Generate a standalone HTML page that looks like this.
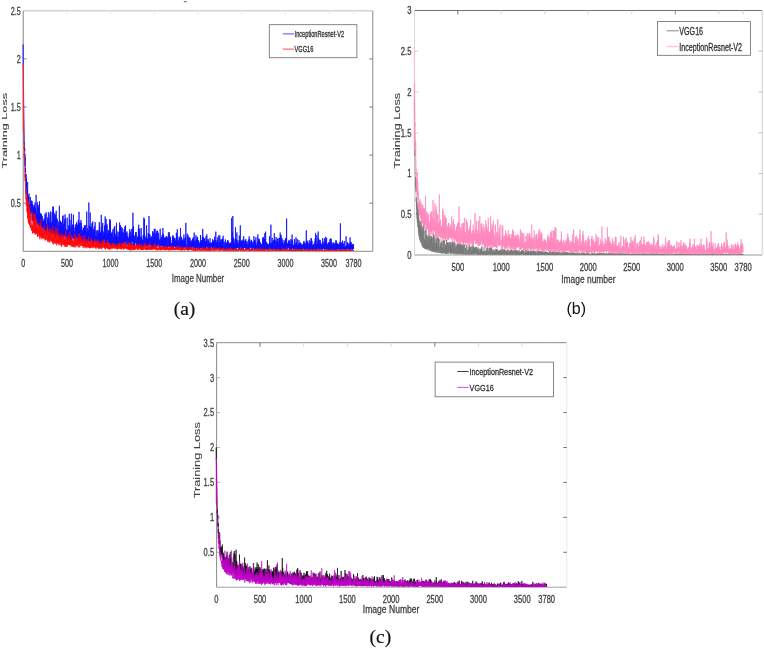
<!DOCTYPE html>
<html><head><meta charset="utf-8"><title>Training Loss</title>
<style>html,body{margin:0;padding:0;background:#fff}svg{display:block}</style></head>
<body><svg width="764" height="650" viewBox="0 0 764 650">
<defs><filter id="bl" x="-5%" y="-5%" width="110%" height="110%"><feGaussianBlur stdDeviation="0.35"/></filter></defs>
<rect width="764" height="650" fill="#fff"/>
<line x1="23.2" y1="10.8" x2="372.8" y2="10.8" stroke="#d4d4d4" stroke-width="1.6"/>
<line x1="23.2" y1="251.3" x2="372.8" y2="251.3" stroke="#8a8a8a" stroke-width="1"/>
<line x1="23.2" y1="10.8" x2="23.2" y2="251.3" stroke="#808080" stroke-width="1"/>
<line x1="372.8" y1="10.8" x2="372.8" y2="251.3" stroke="#8a8a8a" stroke-width="1"/>
<text transform="translate(23.20,266.80) scale(0.680,1.000)" text-anchor="middle" font-size="10.6" fill="#404040" stroke="#404040" stroke-width="0.3" font-family="Liberation Sans, Arial, sans-serif" >0</text>
<line x1="66.9" y1="10.8" x2="66.9" y2="14.8" stroke="#e6e6e6" stroke-width="0.8"/>
<text transform="translate(66.90,266.80) scale(0.680,1.000)" text-anchor="middle" font-size="10.6" fill="#404040" stroke="#404040" stroke-width="0.3" font-family="Liberation Sans, Arial, sans-serif" >500</text>
<line x1="110.6" y1="10.8" x2="110.6" y2="14.8" stroke="#e6e6e6" stroke-width="0.8"/>
<text transform="translate(110.60,266.80) scale(0.680,1.000)" text-anchor="middle" font-size="10.6" fill="#404040" stroke="#404040" stroke-width="0.3" font-family="Liberation Sans, Arial, sans-serif" >1000</text>
<line x1="154.3" y1="10.8" x2="154.3" y2="14.8" stroke="#e6e6e6" stroke-width="0.8"/>
<text transform="translate(154.30,266.80) scale(0.680,1.000)" text-anchor="middle" font-size="10.6" fill="#404040" stroke="#404040" stroke-width="0.3" font-family="Liberation Sans, Arial, sans-serif" >1500</text>
<line x1="198.0" y1="10.8" x2="198.0" y2="14.8" stroke="#e6e6e6" stroke-width="0.8"/>
<text transform="translate(198.00,266.80) scale(0.680,1.000)" text-anchor="middle" font-size="10.6" fill="#404040" stroke="#404040" stroke-width="0.3" font-family="Liberation Sans, Arial, sans-serif" >2000</text>
<line x1="241.7" y1="10.8" x2="241.7" y2="14.8" stroke="#e6e6e6" stroke-width="0.8"/>
<text transform="translate(241.70,266.80) scale(0.680,1.000)" text-anchor="middle" font-size="10.6" fill="#404040" stroke="#404040" stroke-width="0.3" font-family="Liberation Sans, Arial, sans-serif" >2500</text>
<line x1="285.4" y1="10.8" x2="285.4" y2="14.8" stroke="#e6e6e6" stroke-width="0.8"/>
<text transform="translate(285.40,266.80) scale(0.680,1.000)" text-anchor="middle" font-size="10.6" fill="#404040" stroke="#404040" stroke-width="0.3" font-family="Liberation Sans, Arial, sans-serif" >3000</text>
<line x1="329.1" y1="10.8" x2="329.1" y2="14.8" stroke="#e6e6e6" stroke-width="0.8"/>
<text transform="translate(329.10,266.80) scale(0.680,1.000)" text-anchor="middle" font-size="10.6" fill="#404040" stroke="#404040" stroke-width="0.3" font-family="Liberation Sans, Arial, sans-serif" >3500</text>
<line x1="353.6" y1="10.8" x2="353.6" y2="14.8" stroke="#e6e6e6" stroke-width="0.8"/>
<text transform="translate(353.57,266.80) scale(0.680,1.000)" text-anchor="middle" font-size="10.6" fill="#404040" stroke="#404040" stroke-width="0.3" font-family="Liberation Sans, Arial, sans-serif" >3780</text>
<line x1="23.2" y1="203.2" x2="26.7" y2="203.2" stroke="#707070" stroke-width="0.8"/>
<line x1="369.3" y1="203.2" x2="372.8" y2="203.2" stroke="#606060" stroke-width="0.8"/>
<text transform="translate(20.70,207.02) scale(0.680,1.000)" text-anchor="end" font-size="10.6" fill="#404040" stroke="#404040" stroke-width="0.3" font-family="Liberation Sans, Arial, sans-serif" >0.5</text>
<line x1="23.2" y1="155.1" x2="26.7" y2="155.1" stroke="#707070" stroke-width="0.8"/>
<line x1="369.3" y1="155.1" x2="372.8" y2="155.1" stroke="#606060" stroke-width="0.8"/>
<text transform="translate(20.70,158.92) scale(0.680,1.000)" text-anchor="end" font-size="10.6" fill="#404040" stroke="#404040" stroke-width="0.3" font-family="Liberation Sans, Arial, sans-serif" >1</text>
<line x1="23.2" y1="107.0" x2="26.7" y2="107.0" stroke="#707070" stroke-width="0.8"/>
<line x1="369.3" y1="107.0" x2="372.8" y2="107.0" stroke="#606060" stroke-width="0.8"/>
<text transform="translate(20.70,110.82) scale(0.680,1.000)" text-anchor="end" font-size="10.6" fill="#404040" stroke="#404040" stroke-width="0.3" font-family="Liberation Sans, Arial, sans-serif" >1.5</text>
<line x1="23.2" y1="58.9" x2="26.7" y2="58.9" stroke="#707070" stroke-width="0.8"/>
<line x1="369.3" y1="58.9" x2="372.8" y2="58.9" stroke="#606060" stroke-width="0.8"/>
<text transform="translate(20.70,62.72) scale(0.680,1.000)" text-anchor="end" font-size="10.6" fill="#404040" stroke="#404040" stroke-width="0.3" font-family="Liberation Sans, Arial, sans-serif" >2</text>
<text transform="translate(20.70,14.62) scale(0.680,1.000)" text-anchor="end" font-size="10.6" fill="#404040" stroke="#404040" stroke-width="0.3" font-family="Liberation Sans, Arial, sans-serif" >2.5</text>
<text transform="translate(198.00,281.80) scale(0.720,1.000)" text-anchor="middle" font-size="11" fill="#404040" stroke="#404040" stroke-width="0.3" font-family="Liberation Sans, Arial, sans-serif" >Image Number</text>
<text transform="translate(7.30,130.70) rotate(-90) scale(1.057,0.640)" text-anchor="middle" font-size="12" fill="#404040" stroke="#404040" stroke-width="0.12" font-family="Liberation Sans, Arial, sans-serif" >Training Loss</text>
<polyline points="23.2,44.5 23.3,55.7 23.4,66.3 23.5,75.9 23.5,85.7 23.6,93.3 23.7,102.0 23.8,109.9 23.9,119.3 24.0,127.1 24.1,132.9 24.2,133.2 24.2,137.0 24.3,143.5 24.4,142.6 24.5,148.2 24.6,151.1 24.7,148.4 24.8,154.7 24.9,156.7 24.9,159.2 25.0,166.1 25.1,163.7 25.2,156.5 25.3,172.4 25.4,168.3 25.5,169.1 25.6,170.5 25.6,177.2 25.7,175.0 25.8,181.3 25.9,179.3 26.0,174.0 26.1,183.9 26.2,186.1 26.3,183.6 26.3,180.9 26.4,186.9 26.5,177.9 26.6,188.7 26.7,189.0 26.8,193.7 26.9,192.3 27.0,188.0 27.0,188.8 27.1,187.3 27.2,191.0 27.3,189.3 27.4,202.8 27.5,200.4 27.6,182.0 27.7,200.5 27.7,195.4 27.8,199.4 27.9,196.0 28.0,199.6 28.1,204.0 28.2,203.7 28.3,199.2 28.4,203.3 28.4,208.3 28.5,199.3 28.6,196.7 28.7,197.6 28.8,197.7 28.9,208.8 29.0,193.6 29.1,204.6 29.1,207.9 29.2,206.5 29.3,204.8 29.4,209.9 29.5,205.6 29.6,205.0 29.7,207.0 29.8,205.6 29.8,207.5 29.9,210.0 30.0,209.7 30.1,204.9 30.2,213.3 30.3,210.4 30.4,197.1 30.5,207.5 30.5,205.5 30.6,209.2 30.7,214.2 30.8,211.5 30.9,209.4 31.0,212.0 31.1,211.3 31.2,200.6 31.2,205.9 31.3,213.3 31.4,204.5 31.5,211.7 31.6,206.1 31.7,205.3 31.8,200.8 31.9,206.2 31.9,206.3 32.0,201.5 32.1,219.6 32.2,217.3 32.3,207.0 32.4,221.1 32.5,212.4 32.6,212.5 32.6,219.7 32.7,204.2 32.8,209.9 32.9,210.7 33.0,216.7 33.1,217.8 33.2,217.5 33.3,211.5 33.3,220.1 33.4,209.9 33.5,220.5 33.6,209.2 33.7,213.6 33.8,206.3 33.9,223.1 34.0,222.6 34.0,218.0 34.1,205.2 34.2,220.3 34.3,207.1 34.4,214.6 34.5,214.7 34.6,211.6 34.6,220.3 34.7,218.8 34.8,221.3 34.9,215.5 35.0,202.7 35.1,218.1 35.2,213.4 35.3,214.3 35.3,215.4 35.4,217.5 35.5,207.9 35.6,216.2 35.7,219.2 35.8,209.9 35.9,212.2 36.0,215.2 36.0,217.8 36.1,194.9 36.2,217.1 36.3,220.2 36.4,213.8 36.5,214.2 36.6,217.5 36.7,219.4 36.7,214.6 36.8,224.6 36.9,221.8 37.0,221.5 37.1,224.1 37.2,219.5 37.3,216.7 37.4,222.9 37.4,202.2 37.5,219.2 37.6,216.2 37.7,217.6 37.8,222.9 37.9,207.3 38.0,215.0 38.1,219.7 38.1,225.0 38.2,208.0 38.3,223.5 38.4,221.6 38.5,220.1 38.6,217.2 38.7,219.3 38.8,219.7 38.8,204.9 38.9,219.0 39.0,217.0 39.1,226.1 39.2,215.0 39.3,227.3 39.4,223.3 39.5,201.4 39.5,223.9 39.6,220.3 39.7,225.6 39.8,225.7 39.9,212.8 40.0,222.8 40.1,221.1 40.2,222.3 40.2,227.2 40.3,221.6 40.4,213.7 40.5,218.0 40.6,218.3 40.7,213.7 40.8,226.8 40.9,215.6 40.9,229.3 41.0,217.2 41.1,223.3 41.2,226.8 41.3,222.3 41.4,224.8 41.5,229.0 41.6,214.8 41.6,214.1 41.7,226.9 41.8,224.2 41.9,224.7 42.0,223.5 42.1,228.1 42.2,216.0 42.3,222.0 42.3,227.0 42.4,225.0 42.5,226.3 42.6,223.6 42.7,218.5 42.8,218.5 42.9,227.9 43.0,222.2 43.0,227.3 43.1,230.4 43.2,228.1 43.3,223.1 43.4,229.9 43.5,226.8 43.6,220.6 43.7,226.9 43.7,227.1 43.8,228.1 43.9,231.3 44.0,225.1 44.1,223.5 44.2,223.1 44.3,225.2 44.4,228.6 44.4,218.6 44.5,228.5 44.6,225.7 44.7,234.3 44.8,229.2 44.9,229.3 45.0,231.0 45.0,213.8 45.1,226.3 45.2,232.4 45.3,224.3 45.4,224.7 45.5,224.6 45.6,214.9 45.7,225.1 45.7,224.7 45.8,228.3 45.9,229.7 46.0,225.1 46.1,212.3 46.2,229.5 46.3,227.6 46.4,224.7 46.4,224.3 46.5,228.1 46.6,233.6 46.7,224.0 46.8,227.3 46.9,229.9 47.0,228.0 47.1,231.0 47.1,224.2 47.2,227.6 47.3,232.8 47.4,223.8 47.5,222.9 47.6,226.8 47.7,222.7 47.8,232.5 47.8,217.2 47.9,224.1 48.0,219.1 48.1,232.6 48.2,229.1 48.3,227.8 48.4,212.3 48.5,226.4 48.5,231.9 48.6,223.2 48.7,225.3 48.8,230.0 48.9,221.2 49.0,218.6 49.1,227.9 49.2,231.2 49.2,222.5 49.3,224.3 49.4,228.3 49.5,230.8 49.6,228.3 49.7,224.0 49.8,226.6 49.9,236.8 49.9,223.1 50.0,213.7 50.1,224.7 50.2,221.5 50.3,227.0 50.4,211.4 50.5,227.1 50.6,217.2 50.6,216.1 50.7,228.0 50.8,221.8 50.9,234.0 51.0,225.0 51.1,234.1 51.2,224.0 51.3,229.8 51.3,228.6 51.4,231.9 51.5,226.1 51.6,222.9 51.7,227.3 51.8,229.4 51.9,226.2 52.0,230.9 52.0,219.0 52.1,211.8 52.2,226.3 52.3,221.4 52.4,227.0 52.5,232.0 52.6,234.4 52.7,231.8 52.7,226.6 52.8,206.7 52.9,232.5 53.0,233.1 53.1,228.2 53.2,230.0 53.3,223.5 53.4,233.3 53.4,206.7 53.5,228.9 53.6,211.9 53.7,230.3 53.8,225.2 53.9,231.1 54.0,215.5 54.1,219.1 54.1,232.2 54.2,229.6 54.3,224.1 54.4,236.0 54.5,232.5 54.6,231.9 54.7,237.8 54.8,227.2 54.8,213.3 54.9,236.6 55.0,234.6 55.1,228.4 55.2,226.8 55.3,218.7 55.4,230.7 55.5,231.9 55.5,236.5 55.6,215.0 55.7,219.8 55.8,232.7 55.9,229.5 56.0,230.9 56.1,231.7 56.1,234.6 56.2,210.8 56.3,230.7 56.4,224.9 56.5,230.6 56.6,227.9 56.7,218.2 56.8,229.1 56.8,218.8 56.9,233.1 57.0,225.4 57.1,219.7 57.2,224.9 57.3,233.2 57.4,234.4 57.5,231.9 57.5,233.3 57.6,228.0 57.7,231.1 57.8,233.9 57.9,235.8 58.0,233.4 58.1,230.4 58.2,225.7 58.2,228.0 58.3,226.2 58.4,221.6 58.5,227.9 58.6,236.9 58.7,231.8 58.8,236.6 58.9,229.8 58.9,237.8 59.0,231.0 59.1,230.0 59.2,227.1 59.3,230.8 59.4,205.8 59.5,233.1 59.6,225.6 59.6,233.3 59.7,235.5 59.8,233.3 59.9,237.3 60.0,230.0 60.1,238.4 60.2,225.7 60.3,231.4 60.3,227.0 60.4,236.5 60.5,220.7 60.6,223.1 60.7,224.9 60.8,232.0 60.9,226.2 61.0,231.6 61.0,222.9 61.1,238.6 61.2,231.2 61.3,222.1 61.4,226.1 61.5,225.7 61.6,226.4 61.7,230.5 61.7,236.0 61.8,228.7 61.9,233.8 62.0,233.0 62.1,232.3 62.2,231.7 62.3,236.3 62.4,227.5 62.4,230.6 62.5,224.0 62.6,216.1 62.7,227.0 62.8,231.2 62.9,237.8 63.0,232.1 63.1,230.8 63.1,215.4 63.2,231.7 63.3,234.7 63.4,226.1 63.5,231.2 63.6,225.2 63.7,235.7 63.8,230.3 63.8,224.0 63.9,224.0 64.0,237.4 64.1,232.8 64.2,234.2 64.3,224.2 64.4,229.9 64.5,235.6 64.5,232.6 64.6,235.0 64.7,232.3 64.8,219.3 64.9,231.2 65.0,224.3 65.1,214.4 65.2,227.4 65.2,218.7 65.3,240.5 65.4,228.5 65.5,228.0 65.6,230.0 65.7,233.2 65.8,241.4 65.9,237.7 65.9,234.1 66.0,230.6 66.1,237.3 66.2,233.1 66.3,233.8 66.4,233.7 66.5,232.9 66.6,229.5 66.6,234.8 66.7,233.9 66.8,237.4 66.9,235.2 67.0,237.2 67.1,230.8 67.2,217.7 67.2,220.1 67.3,236.5 67.4,230.6 67.5,233.0 67.6,240.7 67.7,241.7 67.8,236.9 67.9,234.5 67.9,239.6 68.0,238.3 68.1,237.9 68.2,238.3 68.3,239.4 68.4,235.1 68.5,229.9 68.6,232.3 68.6,238.0 68.7,234.8 68.8,225.2 68.9,241.3 69.0,227.9 69.1,237.4 69.2,239.6 69.3,213.8 69.3,238.7 69.4,235.7 69.5,231.1 69.6,228.0 69.7,235.6 69.8,240.2 69.9,237.7 70.0,236.8 70.0,219.8 70.1,239.0 70.2,226.0 70.3,238.2 70.4,240.5 70.5,242.5 70.6,235.2 70.7,232.9 70.7,235.0 70.8,242.0 70.9,237.4 71.0,232.6 71.1,237.1 71.2,231.9 71.3,240.2 71.4,213.6 71.4,239.3 71.5,235.1 71.6,235.1 71.7,229.4 71.8,236.3 71.9,234.3 72.0,235.0 72.1,231.9 72.1,232.0 72.2,234.8 72.3,229.4 72.4,225.0 72.5,237.8 72.6,237.5 72.7,237.7 72.8,237.9 72.8,237.7 72.9,234.4 73.0,224.3 73.1,237.9 73.2,232.4 73.3,236.8 73.4,214.7 73.5,233.5 73.5,230.6 73.6,239.2 73.7,238.8 73.8,233.8 73.9,238.4 74.0,235.3 74.1,227.6 74.2,238.3 74.2,238.8 74.3,234.2 74.4,236.4 74.5,231.5 74.6,235.8 74.7,239.7 74.8,242.7 74.9,233.3 74.9,238.4 75.0,234.6 75.1,242.0 75.2,238.6 75.3,224.4 75.4,229.0 75.5,228.8 75.6,227.2 75.6,235.4 75.7,229.6 75.8,233.5 75.9,236.6 76.0,237.6 76.1,238.9 76.2,229.2 76.3,235.2 76.3,238.7 76.4,236.1 76.5,222.3 76.6,241.1 76.7,241.0 76.8,226.2 76.9,223.8 77.0,226.5 77.0,238.2 77.1,233.3 77.2,227.2 77.3,227.2 77.4,231.0 77.5,235.7 77.6,236.9 77.7,236.8 77.7,225.2 77.8,233.8 77.9,228.2 78.0,243.6 78.1,237.3 78.2,234.0 78.3,237.5 78.3,220.1 78.4,240.5 78.5,232.7 78.6,230.3 78.7,230.5 78.8,230.5 78.9,233.3 79.0,211.8 79.0,226.0 79.1,235.9 79.2,223.1 79.3,233.4 79.4,237.9 79.5,231.9 79.6,232.9 79.7,225.0 79.7,241.5 79.8,241.3 79.9,222.5 80.0,231.9 80.1,229.1 80.2,236.4 80.3,234.4 80.4,235.6 80.4,242.2 80.5,239.6 80.6,230.3 80.7,230.8 80.8,228.4 80.9,220.1 81.0,244.2 81.1,234.3 81.1,233.9 81.2,241.4 81.3,222.8 81.4,236.7 81.5,230.2 81.6,231.3 81.7,232.5 81.8,226.9 81.8,236.7 81.9,230.3 82.0,233.5 82.1,241.2 82.2,239.0 82.3,234.9 82.4,242.2 82.5,233.4 82.5,241.9 82.6,230.2 82.7,237.4 82.8,237.5 82.9,241.4 83.0,234.1 83.1,240.2 83.2,232.5 83.2,232.2 83.3,242.8 83.4,233.6 83.5,227.9 83.6,231.4 83.7,243.8 83.8,240.8 83.9,228.0 83.9,235.2 84.0,232.3 84.1,244.5 84.2,231.8 84.3,240.1 84.4,225.3 84.5,236.2 84.6,237.0 84.6,242.7 84.7,240.5 84.8,236.7 84.9,227.7 85.0,228.4 85.1,237.8 85.2,241.4 85.3,241.7 85.3,225.1 85.4,235.0 85.5,241.1 85.6,226.6 85.7,233.5 85.8,232.1 85.9,231.5 86.0,234.7 86.0,231.1 86.1,242.9 86.2,242.1 86.3,240.6 86.4,233.8 86.5,240.0 86.6,232.0 86.7,231.3 86.7,211.6 86.8,226.5 86.9,225.8 87.0,235.5 87.1,235.9 87.2,239.6 87.3,235.3 87.4,236.1 87.4,239.8 87.5,243.6 87.6,228.0 87.7,233.5 87.8,241.1 87.9,239.0 88.0,232.1 88.1,239.3 88.1,235.1 88.2,230.3 88.3,231.6 88.4,237.5 88.5,240.6 88.6,238.6 88.7,232.3 88.8,237.7 88.8,202.5 88.9,224.4 89.0,226.9 89.1,232.6 89.2,241.8 89.3,225.3 89.4,232.3 89.4,239.9 89.5,240.7 89.6,239.7 89.7,236.0 89.8,242.6 89.9,229.5 90.0,238.6 90.1,233.7 90.1,238.9 90.2,212.5 90.3,230.7 90.4,237.5 90.5,242.0 90.6,227.1 90.7,239.0 90.8,239.1 90.8,241.0 90.9,242.2 91.0,237.5 91.1,237.0 91.2,239.2 91.3,241.8 91.4,227.4 91.5,226.6 91.5,241.0 91.6,229.2 91.7,237.1 91.8,237.7 91.9,223.2 92.0,224.2 92.1,239.4 92.2,233.4 92.2,240.3 92.3,243.6 92.4,232.4 92.5,235.1 92.6,233.4 92.7,221.5 92.8,239.0 92.9,235.0 92.9,236.9 93.0,244.4 93.1,238.7 93.2,243.6 93.3,237.5 93.4,242.1 93.5,242.4 93.6,228.9 93.6,239.8 93.7,239.2 93.8,236.2 93.9,245.0 94.0,241.8 94.1,241.2 94.2,232.3 94.3,236.8 94.3,240.8 94.4,226.4 94.5,240.4 94.6,241.4 94.7,236.0 94.8,241.2 94.9,230.6 95.0,236.5 95.0,241.2 95.1,222.1 95.2,224.2 95.3,238.4 95.4,236.6 95.5,236.5 95.6,236.2 95.7,243.2 95.7,238.0 95.8,245.0 95.9,239.5 96.0,238.9 96.1,235.5 96.2,241.6 96.3,237.0 96.4,240.3 96.4,238.0 96.5,235.4 96.6,232.9 96.7,233.3 96.8,230.3 96.9,239.7 97.0,240.1 97.1,245.0 97.1,243.3 97.2,239.7 97.3,243.2 97.4,237.9 97.5,234.8 97.6,241.3 97.7,235.5 97.8,230.3 97.8,241.3 97.9,231.8 98.0,231.7 98.1,230.5 98.2,238.4 98.3,237.1 98.4,241.9 98.5,233.6 98.5,234.4 98.6,236.6 98.7,238.5 98.8,241.3 98.9,245.7 99.0,241.0 99.1,244.6 99.2,239.2 99.2,242.0 99.3,222.2 99.4,241.2 99.5,242.3 99.6,226.9 99.7,244.4 99.8,231.6 99.8,231.3 99.9,239.0 100.0,243.6 100.1,241.1 100.2,237.8 100.3,233.7 100.4,235.6 100.5,236.3 100.5,240.5 100.6,232.3 100.7,242.7 100.8,241.5 100.9,237.7 101.0,234.4 101.1,236.2 101.2,235.9 101.2,240.8 101.3,214.9 101.4,245.5 101.5,241.5 101.6,243.7 101.7,243.0 101.8,236.5 101.9,234.2 101.9,242.7 102.0,238.8 102.1,226.3 102.2,237.2 102.3,229.8 102.4,232.7 102.5,231.9 102.6,240.1 102.6,236.9 102.7,222.9 102.8,242.0 102.9,243.2 103.0,231.4 103.1,241.3 103.2,238.5 103.3,235.5 103.3,240.5 103.4,239.9 103.5,243.4 103.6,234.9 103.7,243.8 103.8,236.8 103.9,238.3 104.0,232.7 104.0,240.0 104.1,232.8 104.2,232.1 104.3,231.7 104.4,234.8 104.5,236.7 104.6,237.6 104.7,226.4 104.7,239.3 104.8,239.2 104.9,225.2 105.0,243.7 105.1,240.2 105.2,216.4 105.3,242.8 105.4,235.2 105.4,241.8 105.5,237.3 105.6,239.0 105.7,246.1 105.8,236.0 105.9,243.9 106.0,237.6 106.1,219.0 106.1,234.5 106.2,239.2 106.3,238.9 106.4,238.3 106.5,240.2 106.6,242.6 106.7,233.0 106.8,239.5 106.8,225.7 106.9,236.7 107.0,224.1 107.1,239.4 107.2,237.5 107.3,239.1 107.4,242.7 107.5,243.1 107.5,240.6 107.6,234.0 107.7,243.4 107.8,244.3 107.9,239.6 108.0,242.0 108.1,242.2 108.2,229.9 108.2,239.7 108.3,236.6 108.4,239.9 108.5,235.5 108.6,239.9 108.7,240.3 108.8,236.1 108.9,239.9 108.9,232.2 109.0,242.5 109.1,230.8 109.2,243.8 109.3,241.4 109.4,239.1 109.5,243.9 109.6,242.2 109.6,236.0 109.7,219.2 109.8,242.7 109.9,235.9 110.0,239.3 110.1,236.9 110.2,221.6 110.3,239.8 110.3,238.2 110.4,219.8 110.5,246.1 110.6,238.9 110.7,242.9 110.8,237.7 110.9,243.0 110.9,241.8 111.0,244.5 111.1,236.1 111.2,239.8 111.3,241.1 111.4,243.8 111.5,233.3 111.6,245.5 111.6,234.1 111.7,238.1 111.8,242.1 111.9,239.5 112.0,245.0 112.1,231.9 112.2,244.5 112.3,242.3 112.3,235.3 112.4,241.6 112.5,238.9 112.6,239.1 112.7,242.7 112.8,242.0 112.9,229.4 113.0,235.4 113.0,237.2 113.1,239.8 113.2,243.4 113.3,244.7 113.4,237.1 113.5,242.4 113.6,241.3 113.7,244.2 113.7,245.6 113.8,239.6 113.9,239.0 114.0,227.9 114.1,230.4 114.2,241.3 114.3,234.0 114.4,243.4 114.4,234.0 114.5,226.9 114.6,237.0 114.7,226.1 114.8,246.6 114.9,236.6 115.0,241.3 115.1,236.8 115.1,240.1 115.2,237.2 115.3,239.5 115.4,243.4 115.5,244.8 115.6,234.7 115.7,243.0 115.8,237.5 115.8,238.5 115.9,242.2 116.0,245.3 116.1,239.2 116.2,233.4 116.3,247.5 116.4,245.1 116.5,222.8 116.5,239.6 116.6,238.3 116.7,232.6 116.8,230.6 116.9,238.7 117.0,236.3 117.1,242.8 117.2,240.2 117.2,244.7 117.3,236.9 117.4,237.7 117.5,237.6 117.6,237.2 117.7,246.2 117.8,241.2 117.9,243.8 117.9,241.7 118.0,237.6 118.1,231.8 118.2,241.2 118.3,243.2 118.4,242.4 118.5,240.9 118.6,241.3 118.6,239.4 118.7,237.0 118.8,245.6 118.9,245.8 119.0,243.2 119.1,242.7 119.2,232.1 119.3,241.7 119.3,235.6 119.4,244.4 119.5,245.1 119.6,222.5 119.7,235.2 119.8,244.3 119.9,241.3 120.0,228.2 120.0,238.4 120.1,242.6 120.2,235.7 120.3,238.3 120.4,246.6 120.5,225.3 120.6,234.9 120.7,240.8 120.7,242.7 120.8,243.5 120.9,246.4 121.0,239.9 121.1,243.2 121.2,244.7 121.3,243.5 121.4,227.0 121.4,243.2 121.5,234.6 121.6,232.0 121.7,240.1 121.8,236.6 121.9,244.3 122.0,242.0 122.0,240.0 122.1,244.1 122.2,233.4 122.3,228.2 122.4,233.9 122.5,240.8 122.6,244.4 122.7,240.0 122.7,244.4 122.8,241.6 122.9,240.5 123.0,232.0 123.1,238.6 123.2,236.7 123.3,233.4 123.4,242.2 123.4,239.8 123.5,242.6 123.6,239.7 123.7,233.1 123.8,242.9 123.9,243.5 124.0,241.5 124.1,242.2 124.1,239.7 124.2,229.0 124.3,246.5 124.4,234.5 124.5,242.2 124.6,241.2 124.7,243.0 124.8,226.6 124.8,235.7 124.9,240.3 125.0,238.5 125.1,239.6 125.2,243.7 125.3,241.9 125.4,232.4 125.5,238.1 125.5,225.3 125.6,238.1 125.7,245.5 125.8,238.8 125.9,241.8 126.0,245.6 126.1,245.7 126.2,234.6 126.2,236.3 126.3,244.1 126.4,242.4 126.5,241.6 126.6,237.8 126.7,239.8 126.8,232.7 126.9,242.7 126.9,231.4 127.0,237.1 127.1,240.1 127.2,240.5 127.3,238.4 127.4,236.5 127.5,242.1 127.6,242.7 127.6,242.0 127.7,242.5 127.8,236.3 127.9,237.6 128.0,246.2 128.1,243.0 128.2,245.1 128.3,241.9 128.3,242.7 128.4,243.8 128.5,238.1 128.6,242.8 128.7,240.2 128.8,242.1 128.9,238.2 129.0,238.4 129.0,242.3 129.1,239.2 129.2,240.5 129.3,233.4 129.4,244.0 129.5,240.3 129.6,241.3 129.7,242.0 129.7,229.1 129.8,239.8 129.9,235.8 130.0,235.4 130.1,239.9 130.2,239.7 130.3,244.0 130.4,243.7 130.4,240.8 130.5,246.4 130.6,236.8 130.7,231.5 130.8,245.3 130.9,239.1 131.0,236.4 131.1,243.5 131.1,244.0 131.2,246.0 131.3,238.4 131.4,241.5 131.5,239.4 131.6,240.2 131.7,241.1 131.8,229.0 131.8,241.2 131.9,237.8 132.0,235.4 132.1,240.6 132.2,238.8 132.3,236.5 132.4,236.9 132.4,234.6 132.5,240.8 132.6,242.1 132.7,228.4 132.8,240.6 132.9,212.7 133.0,229.9 133.1,247.6 133.1,242.7 133.2,247.4 133.3,235.2 133.4,226.4 133.5,242.1 133.6,238.9 133.7,237.9 133.8,246.8 133.8,242.8 133.9,239.9 134.0,245.9 134.1,243.4 134.2,235.6 134.3,239.1 134.4,245.2 134.5,244.8 134.5,239.3 134.6,245.9 134.7,244.3 134.8,242.0 134.9,236.8 135.0,243.7 135.1,242.7 135.2,240.9 135.2,243.2 135.3,242.5 135.4,233.2 135.5,232.5 135.6,239.8 135.7,240.2 135.8,240.5 135.9,234.6 135.9,238.6 136.0,236.5 136.1,237.7 136.2,232.0 136.3,236.9 136.4,243.0 136.5,239.8 136.6,240.0 136.6,244.6 136.7,243.2 136.8,245.4 136.9,246.4 137.0,238.8 137.1,245.7 137.2,241.0 137.3,244.1 137.3,236.6 137.4,240.0 137.5,239.8 137.6,237.6 137.7,241.2 137.8,245.5 137.9,241.5 138.0,239.9 138.0,241.9 138.1,240.5 138.2,245.7 138.3,240.7 138.4,229.0 138.5,244.8 138.6,244.8 138.7,224.8 138.7,238.4 138.8,231.4 138.9,235.5 139.0,246.2 139.1,233.8 139.2,240.8 139.3,244.3 139.4,238.7 139.4,240.1 139.5,239.5 139.6,245.7 139.7,228.6 139.8,242.4 139.9,237.1 140.0,246.8 140.1,245.8 140.1,239.3 140.2,238.0 140.3,244.2 140.4,238.5 140.5,244.3 140.6,243.9 140.7,244.3 140.8,245.3 140.8,246.3 140.9,241.7 141.0,236.7 141.1,238.8 141.2,228.0 141.3,242.8 141.4,240.3 141.5,244.7 141.5,241.6 141.6,237.3 141.7,240.7 141.8,245.0 141.9,245.4 142.0,244.2 142.1,245.7 142.2,245.9 142.2,241.3 142.3,246.1 142.4,244.9 142.5,240.4 142.6,247.3 142.7,239.5 142.8,245.5 142.9,246.4 142.9,243.4 143.0,244.0 143.1,243.4 143.2,235.1 143.3,241.9 143.4,246.8 143.5,243.9 143.5,240.6 143.6,241.2 143.7,245.5 143.8,217.7 143.9,244.5 144.0,246.2 144.1,242.6 144.2,244.5 144.2,243.0 144.3,242.0 144.4,244.6 144.5,218.9 144.6,241.7 144.7,243.1 144.8,242.0 144.9,235.6 144.9,245.7 145.0,239.0 145.1,245.8 145.2,240.1 145.3,246.2 145.4,243.3 145.5,244.8 145.6,244.0 145.6,238.1 145.7,237.5 145.8,242.5 145.9,244.6 146.0,238.4 146.1,246.0 146.2,246.7 146.3,242.9 146.3,242.9 146.4,241.7 146.5,242.5 146.6,225.3 146.7,245.2 146.8,244.0 146.9,244.9 147.0,238.2 147.0,245.1 147.1,246.2 147.2,243.2 147.3,244.6 147.4,241.3 147.5,247.8 147.6,239.0 147.7,241.5 147.7,243.9 147.8,244.8 147.9,241.0 148.0,243.7 148.1,241.1 148.2,233.1 148.3,242.4 148.4,237.5 148.4,240.1 148.5,244.7 148.6,236.4 148.7,239.4 148.8,245.7 148.9,241.4 149.0,216.0 149.1,238.4 149.1,239.3 149.2,244.2 149.3,242.8 149.4,240.8 149.5,245.1 149.6,238.9 149.7,234.4 149.8,245.0 149.8,234.4 149.9,243.4 150.0,245.6 150.1,246.2 150.2,237.9 150.3,243.9 150.4,246.7 150.5,241.2 150.5,242.8 150.6,244.9 150.7,245.1 150.8,245.1 150.9,242.8 151.0,244.6 151.1,246.3 151.2,238.3 151.2,236.2 151.3,243.5 151.4,242.8 151.5,238.3 151.6,245.1 151.7,241.4 151.8,236.9 151.9,243.8 151.9,248.0 152.0,246.5 152.1,245.3 152.2,243.0 152.3,247.5 152.4,247.1 152.5,241.2 152.6,231.3 152.6,240.2 152.7,243.5 152.8,237.5 152.9,237.8 153.0,238.3 153.1,246.6 153.2,232.9 153.3,247.0 153.3,244.1 153.4,248.5 153.5,241.7 153.6,243.8 153.7,240.2 153.8,244.0 153.9,246.6 154.0,243.3 154.0,247.1 154.1,231.7 154.2,247.6 154.3,228.8 154.4,246.4 154.5,245.5 154.6,245.0 154.6,239.7 154.7,243.0 154.8,242.6 154.9,247.1 155.0,239.5 155.1,228.9 155.2,244.7 155.3,236.0 155.3,238.9 155.4,234.1 155.5,239.8 155.6,246.6 155.7,243.7 155.8,242.3 155.9,244.5 156.0,245.3 156.0,243.5 156.1,246.6 156.2,243.5 156.3,237.8 156.4,240.9 156.5,242.0 156.6,245.0 156.7,231.8 156.7,242.8 156.8,246.4 156.9,230.9 157.0,231.5 157.1,242.8 157.2,240.3 157.3,241.3 157.4,242.4 157.4,230.6 157.5,245.3 157.6,245.2 157.7,246.2 157.8,241.4 157.9,243.1 158.0,243.4 158.1,238.5 158.1,244.9 158.2,243.7 158.3,241.2 158.4,232.8 158.5,233.0 158.6,240.0 158.7,242.6 158.8,240.2 158.8,240.2 158.9,238.6 159.0,243.3 159.1,247.2 159.2,240.1 159.3,244.7 159.4,243.1 159.5,245.5 159.5,242.3 159.6,247.1 159.7,244.2 159.8,240.1 159.9,244.1 160.0,244.4 160.1,237.0 160.2,228.8 160.2,243.8 160.3,244.2 160.4,246.3 160.5,241.9 160.6,238.8 160.7,242.0 160.8,244.8 160.9,241.0 160.9,243.1 161.0,244.5 161.1,246.4 161.2,241.5 161.3,243.1 161.4,237.0 161.5,245.4 161.6,242.9 161.6,241.4 161.7,245.0 161.8,244.4 161.9,244.2 162.0,241.7 162.1,235.0 162.2,241.2 162.3,247.4 162.3,246.1 162.4,243.5 162.5,240.3 162.6,242.5 162.7,236.6 162.8,245.8 162.9,228.0 163.0,244.4 163.0,247.5 163.1,243.2 163.2,233.9 163.3,246.3 163.4,240.9 163.5,241.5 163.6,235.6 163.7,242.1 163.7,239.6 163.8,242.2 163.9,241.4 164.0,246.2 164.1,246.7 164.2,242.5 164.3,243.5 164.4,242.9 164.4,237.6 164.5,247.1 164.6,243.6 164.7,238.2 164.8,247.1 164.9,246.4 165.0,248.2 165.1,240.9 165.1,241.8 165.2,247.6 165.3,238.3 165.4,245.2 165.5,244.8 165.6,241.7 165.7,240.3 165.7,246.5 165.8,242.7 165.9,243.9 166.0,236.8 166.1,246.0 166.2,236.9 166.3,244.0 166.4,241.2 166.4,236.1 166.5,240.9 166.6,237.5 166.7,239.2 166.8,247.6 166.9,245.7 167.0,238.3 167.1,242.7 167.1,244.2 167.2,236.8 167.3,241.8 167.4,248.6 167.5,247.0 167.6,243.4 167.7,245.1 167.8,246.7 167.8,244.6 167.9,245.2 168.0,243.9 168.1,244.1 168.2,245.0 168.3,245.4 168.4,232.4 168.5,244.4 168.5,243.9 168.6,244.0 168.7,246.4 168.8,243.1 168.9,247.0 169.0,241.8 169.1,235.6 169.2,244.2 169.2,243.6 169.3,232.2 169.4,244.2 169.5,247.0 169.6,242.4 169.7,246.6 169.8,241.2 169.9,247.3 169.9,243.5 170.0,242.9 170.1,238.9 170.2,242.4 170.3,247.1 170.4,243.1 170.5,243.6 170.6,236.7 170.6,245.3 170.7,244.8 170.8,242.3 170.9,244.7 171.0,246.9 171.1,246.2 171.2,243.5 171.3,244.1 171.3,246.7 171.4,244.8 171.5,243.8 171.6,248.8 171.7,248.0 171.8,248.7 171.9,248.3 172.0,243.3 172.0,243.6 172.1,248.5 172.2,241.4 172.3,240.1 172.4,244.1 172.5,242.8 172.6,242.7 172.7,246.0 172.7,237.3 172.8,246.8 172.9,235.1 173.0,249.2 173.1,241.2 173.2,246.1 173.3,236.4 173.4,248.2 173.4,237.0 173.5,249.1 173.6,244.8 173.7,244.3 173.8,245.6 173.9,237.6 174.0,246.9 174.1,245.4 174.1,244.2 174.2,244.5 174.3,245.2 174.4,243.0 174.5,245.2 174.6,238.4 174.7,246.6 174.8,244.6 174.8,242.7 174.9,242.3 175.0,238.2 175.1,246.0 175.2,240.6 175.3,244.6 175.4,248.6 175.5,241.2 175.5,247.7 175.6,246.0 175.7,242.7 175.8,246.1 175.9,246.9 176.0,242.7 176.1,240.5 176.2,246.3 176.2,245.6 176.3,243.2 176.4,232.7 176.5,245.3 176.6,236.2 176.7,245.5 176.8,247.0 176.8,245.7 176.9,243.3 177.0,246.6 177.1,247.1 177.2,248.2 177.3,229.2 177.4,242.6 177.5,247.6 177.5,242.9 177.6,243.2 177.7,239.9 177.8,247.2 177.9,239.9 178.0,241.7 178.1,247.6 178.2,244.1 178.2,243.9 178.3,243.6 178.4,249.1 178.5,243.9 178.6,245.8 178.7,241.7 178.8,244.0 178.9,246.3 178.9,247.3 179.0,245.5 179.1,236.7 179.2,244.9 179.3,248.1 179.4,238.1 179.5,241.7 179.6,244.6 179.6,244.1 179.7,242.8 179.8,244.0 179.9,245.4 180.0,240.4 180.1,238.8 180.2,245.6 180.3,244.6 180.3,245.1 180.4,244.2 180.5,228.0 180.6,246.2 180.7,243.2 180.8,241.6 180.9,248.2 181.0,241.7 181.0,248.3 181.1,246.7 181.2,248.2 181.3,244.2 181.4,246.5 181.5,236.9 181.6,245.7 181.7,246.0 181.7,246.5 181.8,247.0 181.9,241.0 182.0,248.1 182.1,240.2 182.2,245.5 182.3,247.9 182.4,244.6 182.4,246.7 182.5,246.7 182.6,240.0 182.7,242.8 182.8,249.8 182.9,245.6 183.0,245.6 183.1,246.3 183.1,238.6 183.2,247.2 183.3,247.2 183.4,244.6 183.5,240.8 183.6,248.3 183.7,245.7 183.8,245.9 183.8,243.0 183.9,234.6 184.0,242.2 184.1,246.3 184.2,247.1 184.3,240.9 184.4,244.9 184.5,241.9 184.5,242.8 184.6,246.6 184.7,238.6 184.8,247.9 184.9,241.1 185.0,243.5 185.1,246.7 185.2,241.3 185.2,247.8 185.3,247.4 185.4,244.0 185.5,237.0 185.6,241.9 185.7,246.9 185.8,222.9 185.9,233.3 185.9,244.2 186.0,244.9 186.1,247.7 186.2,247.7 186.3,248.4 186.4,247.6 186.5,248.6 186.6,246.1 186.6,247.2 186.7,246.4 186.8,243.9 186.9,247.8 187.0,247.2 187.1,245.0 187.2,233.7 187.2,242.2 187.3,243.3 187.4,243.0 187.5,243.7 187.6,246.1 187.7,249.9 187.8,247.5 187.9,244.2 187.9,237.4 188.0,241.8 188.1,235.2 188.2,246.3 188.3,243.5 188.4,243.8 188.5,239.8 188.6,249.9 188.6,245.3 188.7,246.0 188.8,246.9 188.9,237.0 189.0,247.1 189.1,247.4 189.2,248.9 189.3,247.1 189.3,243.8 189.4,241.0 189.5,245.6 189.6,237.8 189.7,239.3 189.8,249.3 189.9,244.8 190.0,245.0 190.0,237.9 190.1,240.9 190.2,246.5 190.3,241.7 190.4,249.1 190.5,243.3 190.6,248.2 190.7,248.2 190.7,242.2 190.8,247.2 190.9,243.3 191.0,245.7 191.1,244.5 191.2,246.5 191.3,249.0 191.4,240.5 191.4,240.5 191.5,245.1 191.6,245.7 191.7,247.4 191.8,247.8 191.9,247.8 192.0,248.5 192.1,245.9 192.1,240.7 192.2,246.7 192.3,244.0 192.4,243.8 192.5,239.2 192.6,243.2 192.7,245.7 192.8,239.5 192.8,240.3 192.9,246.2 193.0,246.2 193.1,238.3 193.2,247.8 193.3,237.3 193.4,240.5 193.5,246.7 193.5,245.8 193.6,242.3 193.7,248.2 193.8,247.9 193.9,242.3 194.0,244.5 194.1,244.2 194.2,232.6 194.2,244.8 194.3,246.7 194.4,241.7 194.5,243.5 194.6,246.8 194.7,247.9 194.8,244.1 194.9,246.7 194.9,247.6 195.0,247.3 195.1,240.2 195.2,246.1 195.3,244.8 195.4,248.7 195.5,248.5 195.6,249.2 195.6,245.3 195.7,247.3 195.8,249.6 195.9,235.3 196.0,245.5 196.1,247.6 196.2,242.0 196.3,244.3 196.3,244.5 196.4,239.7 196.5,246.2 196.6,243.0 196.7,247.8 196.8,248.3 196.9,248.1 197.0,236.8 197.0,245.6 197.1,247.1 197.2,244.4 197.3,241.6 197.4,248.7 197.5,243.6 197.6,237.5 197.7,244.7 197.7,243.9 197.8,246.5 197.9,248.4 198.0,241.7 198.1,247.7 198.2,243.8 198.3,240.1 198.3,241.8 198.4,245.1 198.5,245.1 198.6,241.7 198.7,240.8 198.8,248.1 198.9,248.8 199.0,244.7 199.0,243.8 199.1,245.6 199.2,245.5 199.3,246.9 199.4,245.0 199.5,249.0 199.6,244.1 199.7,242.5 199.7,244.0 199.8,248.1 199.9,246.9 200.0,245.0 200.1,246.1 200.2,245.0 200.3,244.7 200.4,248.1 200.4,244.3 200.5,235.0 200.6,246.8 200.7,247.6 200.8,244.8 200.9,245.3 201.0,242.3 201.1,243.7 201.1,242.2 201.2,246.8 201.3,242.4 201.4,243.4 201.5,241.2 201.6,240.5 201.7,247.8 201.8,240.7 201.8,247.1 201.9,240.4 202.0,244.8 202.1,248.8 202.2,246.3 202.3,249.0 202.4,236.8 202.5,243.9 202.5,248.4 202.6,244.5 202.7,228.9 202.8,244.3 202.9,248.7 203.0,246.7 203.1,243.3 203.2,238.4 203.2,243.0 203.3,243.6 203.4,248.2 203.5,236.9 203.6,239.4 203.7,247.8 203.8,247.8 203.9,247.9 203.9,244.5 204.0,246.1 204.1,238.3 204.2,240.4 204.3,243.4 204.4,244.6 204.5,248.9 204.6,246.4 204.6,245.7 204.7,238.9 204.8,245.6 204.9,241.4 205.0,244.2 205.1,243.5 205.2,246.8 205.3,248.9 205.3,242.7 205.4,241.6 205.5,249.4 205.6,247.0 205.7,246.0 205.8,243.3 205.9,248.6 206.0,236.3 206.0,246.3 206.1,244.2 206.2,245.7 206.3,241.2 206.4,243.1 206.5,241.7 206.6,246.7 206.7,244.5 206.7,243.4 206.8,234.5 206.9,242.6 207.0,245.6 207.1,239.7 207.2,247.2 207.3,244.2 207.4,244.4 207.4,246.8 207.5,246.3 207.6,244.0 207.7,249.1 207.8,245.3 207.9,249.6 208.0,249.7 208.1,242.0 208.1,238.9 208.2,243.2 208.3,244.5 208.4,240.5 208.5,246.2 208.6,247.1 208.7,246.5 208.8,250.4 208.8,249.6 208.9,243.0 209.0,249.5 209.1,244.3 209.2,243.3 209.3,248.6 209.4,248.4 209.4,248.8 209.5,248.1 209.6,242.7 209.7,247.6 209.8,247.2 209.9,248.1 210.0,238.2 210.1,245.7 210.1,247.5 210.2,248.4 210.3,244.2 210.4,245.7 210.5,242.9 210.6,245.9 210.7,243.5 210.8,247.5 210.8,249.4 210.9,247.4 211.0,248.3 211.1,248.2 211.2,243.6 211.3,244.5 211.4,245.7 211.5,247.2 211.5,244.1 211.6,246.4 211.7,245.4 211.8,243.4 211.9,246.8 212.0,247.1 212.1,242.0 212.2,247.0 212.2,246.1 212.3,242.0 212.4,246.6 212.5,247.2 212.6,239.1 212.7,243.9 212.8,248.3 212.9,245.8 212.9,247.3 213.0,246.5 213.1,240.5 213.2,249.3 213.3,249.2 213.4,244.2 213.5,247.5 213.6,242.1 213.6,249.0 213.7,240.6 213.8,241.4 213.9,246.5 214.0,247.6 214.1,243.9 214.2,242.5 214.3,245.0 214.3,246.2 214.4,248.5 214.5,245.4 214.6,236.7 214.7,248.1 214.8,249.2 214.9,246.4 215.0,242.1 215.0,241.8 215.1,247.3 215.2,247.3 215.3,240.1 215.4,245.4 215.5,243.1 215.6,246.3 215.7,243.5 215.7,245.7 215.8,231.7 215.9,248.0 216.0,248.7 216.1,244.3 216.2,249.7 216.3,244.5 216.4,241.9 216.4,244.4 216.5,245.5 216.6,243.8 216.7,245.5 216.8,249.0 216.9,246.2 217.0,248.1 217.1,240.0 217.1,243.4 217.2,246.4 217.3,244.9 217.4,246.7 217.5,240.5 217.6,247.9 217.7,237.4 217.8,241.8 217.8,248.3 217.9,247.0 218.0,245.1 218.1,244.2 218.2,242.1 218.3,247.1 218.4,248.1 218.5,246.0 218.5,248.0 218.6,247.1 218.7,248.5 218.8,235.3 218.9,243.7 219.0,246.2 219.1,243.6 219.2,246.0 219.2,247.6 219.3,244.3 219.4,248.7 219.5,247.9 219.6,242.6 219.7,245.6 219.8,243.2 219.8,235.4 219.9,248.8 220.0,247.2 220.1,242.2 220.2,246.4 220.3,243.2 220.4,245.9 220.5,248.6 220.5,242.8 220.6,246.9 220.7,249.5 220.8,239.8 220.9,246.5 221.0,239.7 221.1,247.1 221.2,245.2 221.2,249.6 221.3,247.1 221.4,250.0 221.5,242.7 221.6,245.9 221.7,242.8 221.8,239.3 221.9,247.7 221.9,242.7 222.0,248.1 222.1,249.8 222.2,244.5 222.3,248.0 222.4,238.5 222.5,243.7 222.6,249.7 222.6,246.1 222.7,247.6 222.8,243.5 222.9,246.8 223.0,241.5 223.1,243.9 223.2,235.8 223.3,244.6 223.3,247.6 223.4,246.3 223.5,248.0 223.6,248.6 223.7,245.5 223.8,244.4 223.9,247.0 224.0,246.0 224.0,248.4 224.1,247.7 224.2,247.4 224.3,249.6 224.4,247.6 224.5,248.6 224.6,247.3 224.7,249.8 224.7,245.0 224.8,241.7 224.9,246.7 225.0,244.9 225.1,246.1 225.2,243.9 225.3,246.2 225.4,249.3 225.4,239.4 225.5,249.4 225.6,244.5 225.7,243.6 225.8,249.0 225.9,247.4 226.0,247.2 226.1,246.0 226.1,243.7 226.2,249.0 226.3,246.9 226.4,243.4 226.5,243.0 226.6,242.7 226.7,243.7 226.8,247.0 226.8,244.5 226.9,242.4 227.0,246.7 227.1,243.9 227.2,248.5 227.3,249.5 227.4,245.1 227.5,240.3 227.5,247.6 227.6,249.0 227.7,244.9 227.8,245.2 227.9,247.6 228.0,249.2 228.1,240.6 228.2,247.4 228.2,241.1 228.3,249.3 228.4,245.5 228.5,248.2 228.6,247.0 228.7,244.9 228.8,247.1 228.9,244.0 228.9,245.6 229.0,248.1 229.1,249.0 229.2,248.5 229.3,243.6 229.4,248.7 229.5,249.9 229.6,243.9 229.6,242.9 229.7,243.0 229.8,244.5 229.9,248.0 230.0,248.8 230.1,244.9 230.2,248.7 230.3,244.5 230.3,246.7 230.4,248.9 230.5,243.2 230.6,248.1 230.7,247.3 230.8,244.6 230.9,242.3 230.9,247.7 231.0,246.4 231.1,248.5 231.2,249.4 231.3,245.4 231.4,244.6 231.5,241.9 231.6,246.9 231.6,217.9 231.7,248.4 231.8,248.0 231.9,245.7 232.0,249.7 232.1,244.9 232.2,246.7 232.3,246.1 232.3,249.3 232.4,247.3 232.5,231.8 232.6,244.5 232.7,246.1 232.8,216.0 232.9,237.3 233.0,246.8 233.0,249.0 233.1,237.2 233.2,248.3 233.3,242.0 233.4,245.1 233.5,248.3 233.6,243.9 233.7,238.7 233.7,250.2 233.8,245.5 233.9,246.1 234.0,240.6 234.1,244.0 234.2,248.9 234.3,250.2 234.4,244.9 234.4,243.8 234.5,247.4 234.6,246.9 234.7,248.7 234.8,244.2 234.9,246.3 235.0,244.0 235.1,247.2 235.1,248.3 235.2,247.9 235.3,239.0 235.4,241.9 235.5,227.3 235.6,241.9 235.7,246.9 235.8,246.4 235.8,249.1 235.9,244.2 236.0,242.2 236.1,247.3 236.2,239.2 236.3,248.5 236.4,246.7 236.5,245.9 236.5,242.5 236.6,241.8 236.7,248.1 236.8,243.3 236.9,232.5 237.0,247.7 237.1,243.8 237.2,246.9 237.2,243.4 237.3,247.1 237.4,243.4 237.5,248.1 237.6,245.7 237.7,244.3 237.8,246.2 237.9,247.8 237.9,240.2 238.0,247.3 238.1,242.6 238.2,247.0 238.3,244.9 238.4,245.4 238.5,247.2 238.6,246.2 238.6,249.0 238.7,246.9 238.8,246.6 238.9,246.2 239.0,248.2 239.1,248.0 239.2,249.8 239.3,242.8 239.3,235.5 239.4,248.6 239.5,250.0 239.6,247.9 239.7,243.3 239.8,240.0 239.9,249.9 240.0,240.4 240.0,247.9 240.1,248.7 240.2,246.5 240.3,225.4 240.4,243.5 240.5,246.9 240.6,247.0 240.7,246.3 240.7,244.7 240.8,241.9 240.9,246.1 241.0,244.5 241.1,243.3 241.2,244.3 241.3,246.0 241.4,248.2 241.4,247.6 241.5,248.0 241.6,240.5 241.7,249.5 241.8,242.7 241.9,242.4 242.0,245.0 242.0,247.6 242.1,246.1 242.2,240.8 242.3,246.1 242.4,249.5 242.5,248.2 242.6,247.0 242.7,248.3 242.7,245.5 242.8,246.3 242.9,239.5 243.0,247.3 243.1,246.8 243.2,240.3 243.3,243.5 243.4,248.5 243.4,244.1 243.5,248.3 243.6,245.0 243.7,236.2 243.8,246.9 243.9,243.2 244.0,244.4 244.1,240.7 244.1,247.5 244.2,246.0 244.3,244.2 244.4,247.1 244.5,247.6 244.6,245.4 244.7,243.7 244.8,244.5 244.8,248.1 244.9,245.6 245.0,245.9 245.1,241.5 245.2,247.9 245.3,247.2 245.4,240.1 245.5,247.0 245.5,248.3 245.6,247.4 245.7,247.5 245.8,239.1 245.9,240.7 246.0,247.9 246.1,249.2 246.2,241.8 246.2,245.7 246.3,244.7 246.4,245.7 246.5,244.9 246.6,244.3 246.7,245.6 246.8,249.3 246.9,246.2 246.9,248.4 247.0,245.4 247.1,246.1 247.2,241.3 247.3,248.3 247.4,248.5 247.5,248.5 247.6,244.6 247.6,248.6 247.7,248.5 247.8,244.2 247.9,248.8 248.0,249.4 248.1,248.5 248.2,246.1 248.3,249.1 248.3,246.4 248.4,248.1 248.5,243.6 248.6,246.9 248.7,239.5 248.8,246.7 248.9,248.3 249.0,246.3 249.0,247.0 249.1,247.8 249.2,236.4 249.3,242.0 249.4,243.0 249.5,242.9 249.6,248.5 249.7,247.7 249.7,248.9 249.8,242.8 249.9,239.5 250.0,247.4 250.1,246.6 250.2,247.4 250.3,245.4 250.4,246.0 250.4,245.5 250.5,244.9 250.6,246.0 250.7,247.1 250.8,241.9 250.9,245.2 251.0,248.2 251.1,241.3 251.1,246.6 251.2,243.5 251.3,246.6 251.4,239.9 251.5,239.9 251.6,246.3 251.7,246.8 251.8,247.2 251.8,244.9 251.9,244.7 252.0,249.8 252.1,248.5 252.2,241.5 252.3,245.9 252.4,249.9 252.5,246.4 252.5,248.2 252.6,247.5 252.7,248.6 252.8,247.5 252.9,248.8 253.0,247.7 253.1,248.4 253.1,243.7 253.2,247.4 253.3,245.9 253.4,248.0 253.5,244.2 253.6,246.0 253.7,247.7 253.8,243.0 253.8,247.0 253.9,236.2 254.0,245.9 254.1,246.1 254.2,246.0 254.3,241.9 254.4,245.9 254.5,247.5 254.5,248.9 254.6,239.9 254.7,241.9 254.8,240.8 254.9,246.7 255.0,241.3 255.1,245.7 255.2,248.5 255.2,247.7 255.3,242.2 255.4,247.8 255.5,249.0 255.6,246.3 255.7,249.6 255.8,244.9 255.9,237.3 255.9,241.8 256.0,249.3 256.1,249.0 256.2,247.7 256.3,249.1 256.4,247.0 256.5,245.0 256.6,247.2 256.6,245.2 256.7,246.1 256.8,246.7 256.9,248.6 257.0,247.3 257.1,243.5 257.2,243.7 257.3,244.8 257.3,248.4 257.4,242.3 257.5,248.2 257.6,246.5 257.7,240.2 257.8,234.3 257.9,246.5 258.0,244.1 258.0,247.4 258.1,249.8 258.2,243.8 258.3,242.4 258.4,240.9 258.5,248.9 258.6,249.5 258.7,245.8 258.7,238.6 258.8,247.2 258.9,243.3 259.0,248.0 259.1,244.9 259.2,244.2 259.3,247.6 259.4,239.8 259.4,247.0 259.5,239.3 259.6,248.1 259.7,249.1 259.8,249.8 259.9,243.0 260.0,246.0 260.1,247.6 260.1,248.3 260.2,247.8 260.3,242.0 260.4,244.9 260.5,244.2 260.6,249.3 260.7,249.6 260.8,245.7 260.8,246.3 260.9,243.7 261.0,247.8 261.1,247.6 261.2,248.1 261.3,244.4 261.4,249.1 261.5,248.0 261.5,250.0 261.6,244.3 261.7,249.4 261.8,247.9 261.9,246.9 262.0,247.7 262.1,250.3 262.2,245.2 262.2,244.3 262.3,246.4 262.4,247.7 262.5,246.9 262.6,237.6 262.7,248.5 262.8,248.8 262.9,244.0 262.9,239.6 263.0,243.0 263.1,246.6 263.2,239.6 263.3,247.9 263.4,244.9 263.5,249.8 263.6,237.1 263.6,246.8 263.7,242.0 263.8,250.4 263.9,245.5 264.0,246.8 264.1,247.2 264.2,246.0 264.2,247.4 264.3,244.2 264.4,249.1 264.5,239.0 264.6,242.7 264.7,248.8 264.8,233.2 264.9,246.8 264.9,248.2 265.0,245.0 265.1,245.1 265.2,245.7 265.3,249.7 265.4,238.9 265.5,244.1 265.6,248.5 265.6,231.7 265.7,247.0 265.8,245.6 265.9,249.5 266.0,245.2 266.1,249.0 266.2,249.5 266.3,246.3 266.3,241.9 266.4,248.2 266.5,248.9 266.6,242.6 266.7,243.4 266.8,246.7 266.9,245.7 267.0,248.8 267.0,249.2 267.1,249.3 267.2,247.5 267.3,244.2 267.4,247.5 267.5,246.6 267.6,244.5 267.7,250.1 267.7,243.6 267.8,245.7 267.9,248.9 268.0,247.3 268.1,249.5 268.2,245.0 268.3,246.7 268.4,247.3 268.4,249.2 268.5,245.5 268.6,245.3 268.7,244.8 268.8,249.6 268.9,247.6 269.0,247.8 269.1,244.0 269.1,244.3 269.2,245.4 269.3,243.9 269.4,246.6 269.5,236.2 269.6,247.3 269.7,246.8 269.8,249.1 269.8,245.9 269.9,246.0 270.0,242.8 270.1,245.7 270.2,249.2 270.3,246.6 270.4,246.6 270.5,244.8 270.5,246.5 270.6,247.9 270.7,246.4 270.8,246.3 270.9,224.7 271.0,248.5 271.1,246.5 271.2,243.3 271.2,246.3 271.3,246.8 271.4,245.4 271.5,246.6 271.6,249.6 271.7,248.0 271.8,242.7 271.9,246.4 271.9,249.0 272.0,246.4 272.1,247.1 272.2,237.8 272.3,248.7 272.4,244.9 272.5,242.7 272.6,244.8 272.6,249.0 272.7,246.3 272.8,248.5 272.9,247.7 273.0,244.8 273.1,249.6 273.2,243.7 273.3,240.8 273.3,244.4 273.4,247.5 273.5,240.2 273.6,245.7 273.7,249.8 273.8,248.7 273.9,245.9 274.0,246.4 274.0,245.2 274.1,245.4 274.2,248.5 274.3,233.2 274.4,245.8 274.5,239.4 274.6,243.4 274.6,242.1 274.7,244.7 274.8,247.2 274.9,248.0 275.0,249.3 275.1,246.9 275.2,245.9 275.3,248.2 275.3,249.8 275.4,250.1 275.5,250.0 275.6,241.5 275.7,240.7 275.8,243.8 275.9,244.9 276.0,245.3 276.0,249.4 276.1,237.0 276.2,246.9 276.3,246.4 276.4,247.8 276.5,249.5 276.6,246.0 276.7,243.3 276.7,245.4 276.8,249.4 276.9,240.7 277.0,243.0 277.1,249.5 277.2,247.8 277.3,238.9 277.4,247.7 277.4,247.7 277.5,246.5 277.6,245.7 277.7,247.1 277.8,243.8 277.9,247.5 278.0,248.2 278.1,249.9 278.1,246.1 278.2,238.1 278.3,245.1 278.4,242.7 278.5,245.9 278.6,246.0 278.7,250.2 278.8,248.1 278.8,247.6 278.9,244.5 279.0,247.4 279.1,249.8 279.2,250.0 279.3,247.6 279.4,246.7 279.5,237.9 279.5,249.3 279.6,248.3 279.7,248.2 279.8,240.6 279.9,247.6 280.0,247.4 280.1,245.4 280.2,250.7 280.2,232.6 280.3,246.7 280.4,245.0 280.5,249.9 280.6,243.3 280.7,244.6 280.8,235.6 280.9,247.0 280.9,242.2 281.0,235.0 281.1,247.0 281.2,250.0 281.3,243.8 281.4,246.9 281.5,241.0 281.6,246.7 281.6,249.6 281.7,246.6 281.8,246.6 281.9,245.5 282.0,238.2 282.1,246.9 282.2,249.9 282.3,249.4 282.3,246.8 282.4,246.7 282.5,243.2 282.6,246.5 282.7,243.5 282.8,246.2 282.9,247.8 283.0,239.8 283.0,247.1 283.1,247.1 283.2,246.4 283.3,243.7 283.4,247.5 283.5,246.2 283.6,248.3 283.7,245.6 283.7,250.3 283.8,248.4 283.9,248.1 284.0,247.4 284.1,247.9 284.2,243.7 284.3,244.6 284.4,248.9 284.4,246.2 284.5,241.7 284.6,248.3 284.7,247.7 284.8,245.3 284.9,249.5 285.0,247.1 285.1,242.4 285.1,240.0 285.2,248.8 285.3,242.7 285.4,249.2 285.5,238.8 285.6,245.1 285.7,247.1 285.7,238.3 285.8,245.0 285.9,241.0 286.0,244.7 286.1,242.6 286.2,243.2 286.3,243.6 286.4,237.8 286.4,242.7 286.5,246.3 286.6,218.6 286.7,249.5 286.8,249.7 286.9,247.5 287.0,246.6 287.1,247.5 287.1,247.1 287.2,242.9 287.3,245.7 287.4,249.8 287.5,244.1 287.6,244.2 287.7,246.5 287.8,245.9 287.8,247.9 287.9,245.2 288.0,247.9 288.1,246.9 288.2,243.6 288.3,246.3 288.4,246.5 288.5,241.0 288.5,247.2 288.6,242.9 288.7,245.8 288.8,247.9 288.9,247.7 289.0,244.8 289.1,239.9 289.2,248.6 289.2,249.1 289.3,241.3 289.4,243.8 289.5,245.9 289.6,249.5 289.7,242.7 289.8,249.6 289.9,243.6 289.9,247.2 290.0,246.5 290.1,247.6 290.2,248.6 290.3,247.6 290.4,244.8 290.5,250.1 290.6,249.5 290.6,244.3 290.7,245.8 290.8,239.1 290.9,249.2 291.0,248.8 291.1,246.8 291.2,246.4 291.3,245.9 291.3,246.0 291.4,244.4 291.5,249.9 291.6,246.0 291.7,248.0 291.8,248.2 291.9,240.1 292.0,247.5 292.0,242.3 292.1,234.6 292.2,247.5 292.3,246.6 292.4,246.9 292.5,246.3 292.6,241.2 292.7,243.7 292.7,246.3 292.8,246.5 292.9,248.6 293.0,245.6 293.1,249.2 293.2,248.5 293.3,246.4 293.4,248.4 293.4,249.5 293.5,247.1 293.6,248.9 293.7,245.0 293.8,246.2 293.9,249.4 294.0,245.6 294.1,244.5 294.1,246.2 294.2,247.3 294.3,247.8 294.4,239.1 294.5,246.3 294.6,246.6 294.7,247.5 294.8,249.2 294.8,248.0 294.9,244.9 295.0,245.8 295.1,245.8 295.2,246.4 295.3,248.7 295.4,246.6 295.5,243.5 295.5,246.8 295.6,250.4 295.7,248.5 295.8,250.0 295.9,248.8 296.0,237.4 296.1,247.8 296.2,248.7 296.2,249.8 296.3,247.4 296.4,242.2 296.5,248.7 296.6,245.5 296.7,246.2 296.8,248.2 296.8,244.5 296.9,247.8 297.0,248.5 297.1,248.4 297.2,246.1 297.3,239.1 297.4,243.6 297.5,248.4 297.5,246.7 297.6,248.7 297.7,248.8 297.8,250.0 297.9,245.7 298.0,248.2 298.1,247.3 298.2,245.7 298.2,249.6 298.3,249.3 298.4,245.5 298.5,249.1 298.6,248.9 298.7,243.7 298.8,247.0 298.9,242.5 298.9,240.2 299.0,241.6 299.1,249.6 299.2,246.3 299.3,243.8 299.4,245.8 299.5,247.8 299.6,249.1 299.6,244.8 299.7,249.6 299.8,249.9 299.9,248.9 300.0,246.9 300.1,242.3 300.2,247.6 300.3,243.9 300.3,249.0 300.4,248.0 300.5,247.9 300.6,248.5 300.7,243.1 300.8,249.7 300.9,243.2 301.0,246.2 301.0,244.9 301.1,248.7 301.2,245.0 301.3,250.0 301.4,247.3 301.5,246.1 301.6,248.6 301.7,249.6 301.7,248.9 301.8,247.8 301.9,248.1 302.0,250.2 302.1,245.1 302.2,249.5 302.3,246.3 302.4,248.6 302.4,249.9 302.5,244.5 302.6,247.6 302.7,245.9 302.8,245.8 302.9,246.2 303.0,248.7 303.1,245.8 303.1,244.2 303.2,248.6 303.3,249.2 303.4,248.4 303.5,243.6 303.6,247.3 303.7,242.1 303.8,248.0 303.8,247.0 303.9,241.9 304.0,240.9 304.1,244.9 304.2,249.3 304.3,247.0 304.4,247.2 304.5,249.2 304.5,242.9 304.6,245.9 304.7,248.9 304.8,249.3 304.9,246.5 305.0,250.0 305.1,244.1 305.2,248.1 305.2,249.5 305.3,245.5 305.4,248.9 305.5,247.4 305.6,246.6 305.7,249.0 305.8,245.9 305.9,242.6 305.9,243.7 306.0,247.2 306.1,244.7 306.2,249.2 306.3,230.4 306.4,243.5 306.5,249.2 306.6,246.6 306.6,244.5 306.7,246.7 306.8,240.5 306.9,248.0 307.0,248.3 307.1,249.7 307.2,246.4 307.2,241.2 307.3,248.8 307.4,246.0 307.5,241.4 307.6,248.2 307.7,242.5 307.8,244.9 307.9,247.5 307.9,250.3 308.0,247.4 308.1,248.8 308.2,246.2 308.3,248.3 308.4,247.6 308.5,248.7 308.6,248.4 308.6,245.9 308.7,250.1 308.8,243.3 308.9,245.3 309.0,250.1 309.1,246.3 309.2,248.0 309.3,240.2 309.3,247.6 309.4,247.5 309.5,248.9 309.6,248.2 309.7,243.7 309.8,249.8 309.9,244.4 310.0,248.8 310.0,245.7 310.1,249.6 310.2,248.9 310.3,247.7 310.4,250.3 310.5,249.6 310.6,241.7 310.7,244.7 310.7,244.2 310.8,245.4 310.9,248.4 311.0,240.7 311.1,238.1 311.2,249.4 311.3,247.2 311.4,238.7 311.4,247.3 311.5,244.3 311.6,247.1 311.7,246.8 311.8,247.1 311.9,249.6 312.0,240.8 312.1,249.7 312.1,247.9 312.2,247.7 312.3,246.1 312.4,245.3 312.5,250.2 312.6,246.7 312.7,249.2 312.8,245.8 312.8,250.2 312.9,246.5 313.0,250.4 313.1,249.6 313.2,247.4 313.3,245.3 313.4,244.6 313.5,246.0 313.5,248.5 313.6,246.4 313.7,247.3 313.8,248.4 313.9,243.8 314.0,246.8 314.1,246.9 314.2,244.7 314.2,248.3 314.3,247.4 314.4,249.5 314.5,249.0 314.6,249.7 314.7,249.4 314.8,249.2 314.9,247.5 314.9,241.5 315.0,248.4 315.1,246.9 315.2,238.5 315.3,248.6 315.4,247.9 315.5,248.1 315.6,232.9 315.6,246.6 315.7,249.8 315.8,246.2 315.9,249.0 316.0,247.4 316.1,245.1 316.2,246.7 316.3,249.2 316.3,249.9 316.4,244.2 316.5,246.4 316.6,248.6 316.7,248.6 316.8,235.1 316.9,247.2 317.0,244.2 317.0,250.5 317.1,249.3 317.2,249.6 317.3,248.3 317.4,244.6 317.5,245.8 317.6,246.9 317.7,245.4 317.7,247.5 317.8,247.0 317.9,241.0 318.0,245.0 318.1,243.2 318.2,231.5 318.3,249.5 318.3,238.2 318.4,249.5 318.5,242.8 318.6,247.6 318.7,238.7 318.8,242.9 318.9,248.9 319.0,245.4 319.0,245.4 319.1,248.5 319.2,246.5 319.3,248.5 319.4,247.8 319.5,247.3 319.6,247.0 319.7,249.2 319.7,240.0 319.8,249.7 319.9,246.6 320.0,248.5 320.1,242.6 320.2,248.2 320.3,248.2 320.4,240.4 320.4,248.2 320.5,247.2 320.6,248.8 320.7,245.7 320.8,246.6 320.9,249.2 321.0,246.4 321.1,248.3 321.1,246.0 321.2,249.3 321.3,244.5 321.4,243.9 321.5,249.0 321.6,247.3 321.7,245.3 321.8,249.6 321.8,246.9 321.9,246.3 322.0,249.5 322.1,248.9 322.2,242.8 322.3,246.1 322.4,247.9 322.5,249.3 322.5,245.4 322.6,248.5 322.7,238.0 322.8,246.3 322.9,243.7 323.0,246.6 323.1,241.7 323.2,246.2 323.2,249.0 323.3,246.5 323.4,247.9 323.5,246.6 323.6,247.7 323.7,247.3 323.8,248.4 323.9,248.0 323.9,246.6 324.0,247.8 324.1,243.8 324.2,244.7 324.3,248.1 324.4,249.4 324.5,238.5 324.6,248.1 324.6,249.5 324.7,248.8 324.8,247.8 324.9,242.5 325.0,244.6 325.1,246.9 325.2,249.6 325.3,248.0 325.3,248.5 325.4,241.9 325.5,247.6 325.6,236.8 325.7,245.7 325.8,248.7 325.9,246.7 326.0,249.0 326.0,245.8 326.1,242.8 326.2,243.2 326.3,246.6 326.4,244.8 326.5,249.5 326.6,237.8 326.7,249.5 326.7,246.6 326.8,249.5 326.9,248.0 327.0,246.3 327.1,249.8 327.2,247.6 327.3,245.9 327.4,249.2 327.4,244.4 327.5,247.7 327.6,249.5 327.7,248.7 327.8,249.0 327.9,247.4 328.0,245.4 328.1,243.2 328.1,246.4 328.2,247.3 328.3,245.7 328.4,243.6 328.5,249.9 328.6,246.9 328.7,247.7 328.8,242.1 328.8,244.0 328.9,249.6 329.0,248.4 329.1,250.1 329.2,246.1 329.3,246.5 329.4,242.3 329.4,249.9 329.5,246.1 329.6,249.1 329.7,245.4 329.8,249.0 329.9,239.3 330.0,242.4 330.1,242.4 330.1,250.2 330.2,244.0 330.3,243.5 330.4,248.8 330.5,243.6 330.6,248.3 330.7,244.7 330.8,238.3 330.8,249.4 330.9,249.6 331.0,245.8 331.1,249.3 331.2,239.2 331.3,248.1 331.4,246.0 331.5,244.4 331.5,246.7 331.6,244.1 331.7,249.3 331.8,249.4 331.9,246.7 332.0,249.4 332.1,247.3 332.2,245.7 332.2,247.3 332.3,246.1 332.4,246.4 332.5,250.6 332.6,247.8 332.7,248.3 332.8,242.5 332.9,243.0 332.9,248.5 333.0,244.3 333.1,247.8 333.2,245.3 333.3,249.6 333.4,245.2 333.5,245.0 333.6,249.8 333.6,245.9 333.7,242.6 333.8,247.4 333.9,243.4 334.0,249.1 334.1,249.3 334.2,249.6 334.3,244.5 334.3,250.4 334.4,245.1 334.5,247.8 334.6,244.6 334.7,246.6 334.8,247.3 334.9,245.2 335.0,244.1 335.0,243.5 335.1,243.8 335.2,244.8 335.3,248.5 335.4,247.7 335.5,250.0 335.6,247.9 335.7,247.7 335.7,242.7 335.8,240.4 335.9,249.4 336.0,250.0 336.1,248.7 336.2,246.6 336.3,240.6 336.4,249.6 336.4,249.7 336.5,249.6 336.6,243.0 336.7,248.6 336.8,248.0 336.9,249.5 337.0,245.7 337.1,248.1 337.1,247.3 337.2,248.8 337.3,248.6 337.4,243.4 337.5,248.5 337.6,245.3 337.7,248.3 337.8,249.4 337.8,246.4 337.9,249.1 338.0,247.1 338.1,244.0 338.2,247.9 338.3,248.7 338.4,243.8 338.5,247.6 338.5,248.8 338.6,247.3 338.7,245.2 338.8,245.6 338.9,246.3 339.0,245.8 339.1,247.5 339.2,249.5 339.2,247.3 339.3,250.1 339.4,246.1 339.5,249.3 339.6,249.6 339.7,242.1 339.8,246.8 339.9,246.9 339.9,248.1 340.0,247.1 340.1,248.8 340.2,248.4 340.3,247.3 340.4,223.4 340.5,250.7 340.5,242.9 340.6,248.8 340.7,244.7 340.8,243.5 340.9,246.4 341.0,248.4 341.1,245.8 341.2,248.3 341.2,249.4 341.3,250.7 341.4,245.4 341.5,247.0 341.6,242.4 341.7,247.5 341.8,246.6 341.9,246.9 341.9,248.0 342.0,246.0 342.1,245.8 342.2,245.8 342.3,249.2 342.4,248.0 342.5,240.6 342.6,246.9 342.6,248.7 342.7,249.9 342.8,243.2 342.9,244.1 343.0,246.3 343.1,248.3 343.2,245.5 343.3,243.8 343.3,247.0 343.4,247.3 343.5,248.2 343.6,247.4 343.7,249.1 343.8,246.6 343.9,249.1 344.0,248.7 344.0,249.5 344.1,249.8 344.2,247.1 344.3,241.1 344.4,250.3 344.5,247.5 344.6,250.0 344.7,247.5 344.7,250.0 344.8,247.6 344.9,248.4 345.0,247.2 345.1,246.4 345.2,247.8 345.3,247.6 345.4,249.0 345.4,248.7 345.5,248.1 345.6,247.6 345.7,246.7 345.8,246.3 345.9,249.7 346.0,244.4 346.1,236.4 346.1,247.5 346.2,247.5 346.3,249.2 346.4,246.0 346.5,250.6 346.6,250.5 346.7,245.5 346.8,248.8 346.8,247.9 346.9,249.0 347.0,245.6 347.1,249.3 347.2,247.5 347.3,246.3 347.4,242.2 347.5,244.3 347.5,247.4 347.6,245.1 347.7,248.5 347.8,247.4 347.9,245.3 348.0,242.9 348.1,249.6 348.2,248.3 348.2,246.1 348.3,245.7 348.4,246.6 348.5,247.8 348.6,249.3 348.7,249.5 348.8,246.2 348.9,248.6 348.9,247.9 349.0,248.9 349.1,243.9 349.2,249.2 349.3,248.2 349.4,244.1 349.5,246.3 349.6,249.2 349.6,250.2 349.7,248.2 349.8,246.8 349.9,248.6 350.0,245.2 350.1,237.4 350.2,249.1 350.3,245.6 350.3,242.1 350.4,248.0 350.5,248.2 350.6,249.5 350.7,250.3 350.8,246.2 350.9,245.2 350.9,246.1 351.0,247.2 351.1,248.3 351.2,242.1 351.3,246.8 351.4,244.2 351.5,247.7 351.6,245.6 351.6,245.1 351.7,249.0 351.8,249.7 351.9,245.9 352.0,244.7 352.1,245.9 352.2,248.3 352.3,250.0 352.3,248.8 352.4,244.4 352.5,245.1 352.6,248.1 352.7,245.1 352.8,247.9 352.9,249.1 353.0,247.5 353.0,248.9 353.1,244.9 353.2,248.9 353.3,246.9 353.4,243.9 353.5,247.6 353.6,249.0" fill="none" stroke="#1010ff" stroke-width="0.8" stroke-opacity="1" stroke-linejoin="round" filter="url(#bl)"/>
<polyline points="23.2,63.7 23.3,75.3 23.4,84.9 23.5,96.1 23.5,102.9 23.6,115.0 23.7,121.1 23.8,125.8 23.9,132.8 24.0,137.2 24.1,148.8 24.2,146.5 24.2,148.5 24.3,158.0 24.4,153.0 24.5,161.2 24.6,162.9 24.7,170.8 24.8,173.3 24.9,173.3 24.9,177.7 25.0,173.9 25.1,180.7 25.2,178.2 25.3,182.6 25.4,186.3 25.5,185.2 25.6,194.3 25.6,185.9 25.7,193.5 25.8,188.9 25.9,199.3 26.0,194.4 26.1,191.5 26.2,195.3 26.3,205.4 26.3,200.9 26.4,194.6 26.5,195.0 26.6,203.8 26.7,205.9 26.8,200.0 26.9,202.5 27.0,212.3 27.0,208.3 27.1,196.9 27.2,210.4 27.3,211.3 27.4,210.7 27.5,203.6 27.6,209.9 27.7,218.0 27.7,214.0 27.8,210.2 27.9,199.3 28.0,218.8 28.1,208.4 28.2,215.5 28.3,221.3 28.4,201.0 28.4,219.2 28.5,223.3 28.6,213.8 28.7,219.7 28.8,217.9 28.9,212.9 29.0,212.4 29.1,206.0 29.1,224.1 29.2,222.3 29.3,218.3 29.4,212.9 29.5,224.4 29.6,213.5 29.7,217.2 29.8,205.7 29.8,226.1 29.9,218.5 30.0,221.4 30.1,211.6 30.2,224.9 30.3,223.1 30.4,227.8 30.5,228.0 30.5,224.6 30.6,214.9 30.7,217.9 30.8,225.5 30.9,224.7 31.0,223.3 31.1,227.4 31.2,227.4 31.2,225.9 31.3,229.9 31.4,230.2 31.5,226.4 31.6,229.5 31.7,224.9 31.8,228.3 31.9,231.0 31.9,229.4 32.0,227.9 32.1,211.6 32.2,226.6 32.3,228.3 32.4,233.5 32.5,224.9 32.6,225.5 32.6,233.2 32.7,229.4 32.8,227.3 32.9,227.3 33.0,226.9 33.1,225.0 33.2,229.6 33.3,232.7 33.3,226.7 33.4,228.2 33.5,215.5 33.6,232.3 33.7,225.7 33.8,232.0 33.9,213.4 34.0,232.6 34.0,231.3 34.1,227.4 34.2,228.1 34.3,226.9 34.4,232.9 34.5,227.2 34.6,214.0 34.6,232.2 34.7,231.5 34.8,229.8 34.9,221.4 35.0,223.5 35.1,234.6 35.2,231.8 35.3,229.4 35.3,234.3 35.4,234.3 35.5,214.9 35.6,231.5 35.7,221.9 35.8,221.6 35.9,230.7 36.0,227.3 36.0,232.3 36.1,232.4 36.2,219.3 36.3,222.5 36.4,234.1 36.5,225.1 36.6,233.5 36.7,233.6 36.7,233.6 36.8,229.1 36.9,224.6 37.0,234.0 37.1,222.4 37.2,226.8 37.3,233.2 37.4,229.8 37.4,237.1 37.5,230.6 37.6,233.2 37.7,236.1 37.8,227.5 37.9,233.1 38.0,233.9 38.1,231.9 38.1,235.8 38.2,235.2 38.3,230.9 38.4,223.5 38.5,226.6 38.6,232.0 38.7,230.0 38.8,232.6 38.8,231.8 38.9,236.0 39.0,232.8 39.1,225.8 39.2,226.4 39.3,232.9 39.4,228.4 39.5,233.6 39.5,230.0 39.6,237.3 39.7,226.8 39.8,231.9 39.9,239.4 40.0,235.6 40.1,223.3 40.2,230.8 40.2,232.9 40.3,225.7 40.4,231.5 40.5,233.6 40.6,234.4 40.7,231.2 40.8,237.2 40.9,230.9 40.9,225.6 41.0,219.3 41.1,237.6 41.2,229.3 41.3,234.6 41.4,233.0 41.5,227.7 41.6,234.3 41.6,226.5 41.7,237.6 41.8,231.6 41.9,239.3 42.0,238.3 42.1,234.3 42.2,233.3 42.3,234.7 42.3,228.7 42.4,232.2 42.5,237.3 42.6,234.1 42.7,236.1 42.8,229.4 42.9,231.8 43.0,238.8 43.0,231.7 43.1,229.2 43.2,235.9 43.3,231.8 43.4,238.2 43.5,228.8 43.6,237.4 43.7,235.2 43.7,228.4 43.8,237.9 43.9,233.7 44.0,230.9 44.1,234.7 44.2,238.8 44.3,232.9 44.4,225.6 44.4,228.2 44.5,236.1 44.6,229.8 44.7,235.9 44.8,236.1 44.9,234.6 45.0,232.9 45.0,240.6 45.1,238.8 45.2,236.7 45.3,239.5 45.4,236.4 45.5,235.6 45.6,234.6 45.7,231.7 45.7,236.5 45.8,239.6 45.9,240.1 46.0,238.3 46.1,239.8 46.2,235.6 46.3,239.0 46.4,237.7 46.4,236.7 46.5,229.7 46.6,234.9 46.7,233.9 46.8,236.0 46.9,236.6 47.0,233.7 47.1,229.0 47.1,232.5 47.2,236.1 47.3,233.7 47.4,227.1 47.5,229.3 47.6,240.8 47.7,224.4 47.8,237.4 47.8,236.9 47.9,241.5 48.0,232.8 48.1,242.1 48.2,235.3 48.3,232.2 48.4,231.3 48.5,239.4 48.5,238.3 48.6,237.5 48.7,237.8 48.8,240.2 48.9,235.4 49.0,237.2 49.1,229.0 49.2,236.3 49.2,238.5 49.3,240.9 49.4,242.6 49.5,239.2 49.6,239.1 49.7,240.8 49.8,239.3 49.9,235.7 49.9,239.7 50.0,238.8 50.1,241.7 50.2,228.2 50.3,236.9 50.4,240.3 50.5,234.7 50.6,237.2 50.6,239.0 50.7,236.2 50.8,233.2 50.9,236.7 51.0,231.9 51.1,238.1 51.2,239.1 51.3,229.7 51.3,238.6 51.4,234.7 51.5,238.5 51.6,241.1 51.7,240.3 51.8,240.5 51.9,230.8 52.0,241.9 52.0,239.2 52.1,238.8 52.2,241.6 52.3,237.7 52.4,238.5 52.5,241.4 52.6,242.0 52.7,237.1 52.7,243.4 52.8,225.8 52.9,233.5 53.0,242.8 53.1,241.5 53.2,243.0 53.3,244.5 53.4,232.5 53.4,240.0 53.5,240.2 53.6,239.0 53.7,241.2 53.8,236.2 53.9,241.5 54.0,240.1 54.1,240.6 54.1,241.4 54.2,238.6 54.3,237.8 54.4,243.5 54.5,230.8 54.6,233.6 54.7,243.4 54.8,232.7 54.8,241.7 54.9,240.1 55.0,237.7 55.1,240.3 55.2,235.7 55.3,239.4 55.4,242.6 55.5,243.6 55.5,242.8 55.6,236.8 55.7,234.8 55.8,236.4 55.9,235.4 56.0,227.1 56.1,237.0 56.1,234.7 56.2,243.9 56.3,241.2 56.4,233.1 56.5,242.9 56.6,240.6 56.7,245.4 56.8,234.2 56.8,234.3 56.9,234.7 57.0,241.2 57.1,240.4 57.2,239.8 57.3,240.6 57.4,243.0 57.5,241.3 57.5,238.1 57.6,228.7 57.7,242.4 57.8,243.3 57.9,234.7 58.0,238.2 58.1,244.0 58.2,238.3 58.2,243.1 58.3,243.3 58.4,241.8 58.5,232.5 58.6,238.1 58.7,240.7 58.8,242.6 58.9,245.3 58.9,245.1 59.0,244.0 59.1,242.6 59.2,236.0 59.3,243.2 59.4,243.2 59.5,241.6 59.6,235.3 59.6,240.9 59.7,242.8 59.8,244.4 59.9,245.0 60.0,244.9 60.1,236.6 60.2,238.2 60.3,236.0 60.3,241.9 60.4,235.6 60.5,238.0 60.6,242.6 60.7,237.3 60.8,233.4 60.9,245.6 61.0,241.8 61.0,236.0 61.1,239.8 61.2,237.0 61.3,241.1 61.4,239.9 61.5,240.2 61.6,238.9 61.7,247.0 61.7,243.1 61.8,240.6 61.9,245.1 62.0,239.0 62.1,242.7 62.2,234.1 62.3,234.5 62.4,243.9 62.4,241.4 62.5,243.8 62.6,244.1 62.7,238.9 62.8,239.2 62.9,237.3 63.0,243.7 63.1,241.8 63.1,238.6 63.2,239.4 63.3,245.1 63.4,244.4 63.5,239.7 63.6,235.5 63.7,243.8 63.8,243.3 63.8,244.7 63.9,240.4 64.0,245.3 64.1,243.4 64.2,243.9 64.3,239.6 64.4,245.2 64.5,240.6 64.5,243.3 64.6,244.3 64.7,243.4 64.8,246.8 64.9,242.7 65.0,234.9 65.1,243.8 65.2,237.9 65.2,243.0 65.3,244.6 65.4,242.2 65.5,244.5 65.6,230.7 65.7,246.9 65.8,243.6 65.9,240.2 65.9,244.8 66.0,242.6 66.1,246.4 66.2,245.5 66.3,241.2 66.4,241.2 66.5,242.5 66.6,244.0 66.6,244.8 66.7,236.8 66.8,245.5 66.9,247.0 67.0,243.7 67.1,239.9 67.2,242.9 67.2,246.2 67.3,237.1 67.4,244.2 67.5,245.0 67.6,243.3 67.7,242.3 67.8,239.6 67.9,244.3 67.9,242.9 68.0,242.1 68.1,234.1 68.2,243.5 68.3,240.5 68.4,244.9 68.5,240.3 68.6,237.2 68.6,239.5 68.7,243.4 68.8,241.7 68.9,243.5 69.0,244.6 69.1,240.0 69.2,236.6 69.3,243.0 69.3,243.8 69.4,240.0 69.5,245.3 69.6,240.8 69.7,243.3 69.8,242.1 69.9,231.9 70.0,234.1 70.0,244.6 70.1,244.7 70.2,240.5 70.3,244.7 70.4,241.5 70.5,242.6 70.6,239.6 70.7,244.5 70.7,244.3 70.8,240.0 70.9,239.2 71.0,245.1 71.1,246.8 71.2,242.6 71.3,242.8 71.4,245.6 71.4,244.2 71.5,237.5 71.6,238.0 71.7,234.9 71.8,245.2 71.9,243.3 72.0,246.1 72.1,240.3 72.1,244.0 72.2,244.6 72.3,240.8 72.4,240.3 72.5,239.0 72.6,246.9 72.7,240.2 72.8,237.2 72.8,240.5 72.9,243.0 73.0,245.6 73.1,242.3 73.2,244.8 73.3,245.3 73.4,246.0 73.5,246.8 73.5,240.7 73.6,244.3 73.7,246.5 73.8,243.5 73.9,244.3 74.0,243.0 74.1,247.5 74.2,244.6 74.2,241.6 74.3,244.1 74.4,240.5 74.5,246.6 74.6,243.5 74.7,243.0 74.8,239.5 74.9,233.7 74.9,245.8 75.0,239.3 75.1,237.5 75.2,243.0 75.3,243.2 75.4,236.9 75.5,243.2 75.6,244.6 75.6,245.1 75.7,243.3 75.8,247.4 75.9,236.4 76.0,243.7 76.1,246.2 76.2,243.2 76.3,245.1 76.3,237.5 76.4,243.5 76.5,240.2 76.6,237.6 76.7,245.0 76.8,237.2 76.9,245.8 77.0,244.3 77.0,243.3 77.1,240.4 77.2,244.9 77.3,242.2 77.4,242.0 77.5,242.4 77.6,239.4 77.7,245.7 77.7,244.7 77.8,242.7 77.9,241.7 78.0,243.8 78.1,244.4 78.2,247.4 78.3,245.1 78.3,245.6 78.4,240.5 78.5,242.0 78.6,241.5 78.7,233.8 78.8,237.0 78.9,242.1 79.0,245.0 79.0,247.0 79.1,240.1 79.2,242.3 79.3,244.2 79.4,239.2 79.5,242.6 79.6,243.4 79.7,242.3 79.7,247.5 79.8,234.1 79.9,239.3 80.0,244.9 80.1,244.2 80.2,242.9 80.3,242.6 80.4,244.0 80.4,236.3 80.5,245.0 80.6,245.9 80.7,241.8 80.8,240.3 80.9,236.2 81.0,237.3 81.1,246.0 81.1,241.4 81.2,238.5 81.3,240.9 81.4,245.2 81.5,241.1 81.6,242.5 81.7,240.8 81.8,244.4 81.8,239.4 81.9,239.1 82.0,242.7 82.1,243.0 82.2,243.5 82.3,246.1 82.4,244.2 82.5,243.0 82.5,240.8 82.6,241.1 82.7,242.3 82.8,245.5 82.9,241.7 83.0,242.6 83.1,247.2 83.2,246.8 83.2,248.3 83.3,236.3 83.4,245.9 83.5,240.8 83.6,245.6 83.7,241.5 83.8,244.8 83.9,245.7 83.9,245.6 84.0,243.8 84.1,242.9 84.2,247.1 84.3,243.6 84.4,246.3 84.5,245.5 84.6,246.1 84.6,243.5 84.7,235.1 84.8,243.0 84.9,244.5 85.0,239.1 85.1,246.1 85.2,248.2 85.3,244.6 85.3,247.4 85.4,246.5 85.5,242.3 85.6,246.1 85.7,245.7 85.8,244.1 85.9,246.6 86.0,242.9 86.0,243.5 86.1,244.5 86.2,246.3 86.3,246.3 86.4,244.9 86.5,240.8 86.6,239.0 86.7,247.1 86.7,247.4 86.8,243.5 86.9,248.4 87.0,247.3 87.1,247.2 87.2,243.1 87.3,243.8 87.4,242.4 87.4,242.9 87.5,244.1 87.6,245.1 87.7,240.6 87.8,246.4 87.9,240.8 88.0,242.6 88.1,247.6 88.1,247.1 88.2,242.2 88.3,246.9 88.4,241.8 88.5,236.5 88.6,247.0 88.7,247.5 88.8,244.3 88.8,246.6 88.9,246.8 89.0,242.9 89.1,241.2 89.2,243.8 89.3,247.4 89.4,248.2 89.4,246.0 89.5,245.9 89.6,245.1 89.7,243.4 89.8,247.8 89.9,241.3 90.0,246.0 90.1,242.3 90.1,241.1 90.2,245.7 90.3,244.1 90.4,242.0 90.5,245.8 90.6,248.3 90.7,243.9 90.8,247.7 90.8,243.8 90.9,246.2 91.0,238.1 91.1,246.0 91.2,247.9 91.3,239.6 91.4,245.5 91.5,243.5 91.5,245.8 91.6,245.0 91.7,244.8 91.8,246.3 91.9,246.1 92.0,245.4 92.1,246.8 92.2,241.3 92.2,245.9 92.3,246.0 92.4,245.1 92.5,243.5 92.6,240.2 92.7,244.3 92.8,248.2 92.9,246.3 92.9,244.9 93.0,245.2 93.1,244.7 93.2,248.2 93.3,245.4 93.4,247.2 93.5,242.7 93.6,246.8 93.6,245.9 93.7,244.5 93.8,244.3 93.9,242.2 94.0,244.5 94.1,243.5 94.2,245.7 94.3,245.7 94.3,245.0 94.4,246.4 94.5,242.4 94.6,245.7 94.7,244.5 94.8,247.2 94.9,239.4 95.0,247.9 95.0,248.0 95.1,248.1 95.2,246.5 95.3,243.2 95.4,244.6 95.5,248.5 95.6,241.1 95.7,244.6 95.7,241.7 95.8,239.4 95.9,242.4 96.0,247.0 96.1,241.6 96.2,239.9 96.3,248.6 96.4,245.1 96.4,246.3 96.5,242.0 96.6,246.6 96.7,243.4 96.8,246.1 96.9,241.5 97.0,241.8 97.1,247.3 97.1,243.8 97.2,240.9 97.3,244.7 97.4,247.0 97.5,244.0 97.6,247.7 97.7,247.2 97.8,241.8 97.8,246.9 97.9,245.4 98.0,248.2 98.1,244.1 98.2,247.2 98.3,246.2 98.4,239.7 98.5,241.3 98.5,248.3 98.6,242.0 98.7,247.4 98.8,247.1 98.9,246.7 99.0,244.7 99.1,249.1 99.2,245.9 99.2,246.6 99.3,247.1 99.4,248.5 99.5,243.7 99.6,242.7 99.7,246.0 99.8,246.8 99.8,245.2 99.9,243.1 100.0,247.3 100.1,248.4 100.2,245.9 100.3,247.6 100.4,245.3 100.5,243.0 100.5,246.7 100.6,245.8 100.7,246.2 100.8,244.1 100.9,243.4 101.0,246.5 101.1,246.7 101.2,248.9 101.2,244.8 101.3,247.0 101.4,245.2 101.5,243.3 101.6,246.0 101.7,249.2 101.8,247.3 101.9,244.4 101.9,244.3 102.0,241.1 102.1,248.3 102.2,242.7 102.3,245.0 102.4,241.6 102.5,241.1 102.6,239.5 102.6,243.5 102.7,245.7 102.8,243.1 102.9,247.8 103.0,246.4 103.1,247.6 103.2,245.0 103.3,240.1 103.3,244.2 103.4,246.4 103.5,245.3 103.6,241.5 103.7,247.2 103.8,246.3 103.9,246.5 104.0,247.5 104.0,246.3 104.1,241.5 104.2,244.7 104.3,244.4 104.4,248.2 104.5,243.9 104.6,245.0 104.7,246.6 104.7,247.5 104.8,245.6 104.9,248.2 105.0,244.5 105.1,248.7 105.2,245.6 105.3,243.1 105.4,243.8 105.4,249.4 105.5,247.0 105.6,245.7 105.7,247.8 105.8,246.6 105.9,247.0 106.0,246.7 106.1,247.6 106.1,243.4 106.2,247.9 106.3,243.4 106.4,245.0 106.5,248.2 106.6,242.5 106.7,246.8 106.8,246.7 106.8,245.5 106.9,245.6 107.0,247.1 107.1,248.2 107.2,240.2 107.3,247.4 107.4,243.3 107.5,248.4 107.5,243.7 107.6,244.5 107.7,244.3 107.8,244.9 107.9,249.2 108.0,245.9 108.1,248.2 108.2,248.0 108.2,244.2 108.3,244.7 108.4,242.9 108.5,246.0 108.6,249.1 108.7,247.6 108.8,245.1 108.9,244.0 108.9,245.4 109.0,247.3 109.1,248.2 109.2,246.7 109.3,249.9 109.4,247.5 109.5,243.5 109.6,248.6 109.6,244.4 109.7,248.3 109.8,247.4 109.9,245.2 110.0,245.1 110.1,247.1 110.2,247.6 110.3,246.0 110.3,243.1 110.4,246.9 110.5,248.9 110.6,247.4 110.7,247.4 110.8,247.8 110.9,246.9 110.9,248.2 111.0,246.2 111.1,249.5 111.2,245.8 111.3,244.8 111.4,246.6 111.5,245.6 111.6,246.1 111.6,245.3 111.7,247.4 111.8,247.2 111.9,246.5 112.0,248.1 112.1,244.3 112.2,248.3 112.3,248.1 112.3,245.1 112.4,243.4 112.5,248.5 112.6,245.8 112.7,247.5 112.8,243.7 112.9,245.4 113.0,248.4 113.0,247.8 113.1,245.6 113.2,245.8 113.3,246.2 113.4,246.9 113.5,247.1 113.6,243.6 113.7,247.3 113.7,245.8 113.8,245.9 113.9,244.5 114.0,245.4 114.1,244.6 114.2,249.0 114.3,247.3 114.4,247.6 114.4,244.2 114.5,246.4 114.6,247.9 114.7,244.7 114.8,247.5 114.9,246.3 115.0,248.1 115.1,245.3 115.1,247.2 115.2,247.3 115.3,248.8 115.4,244.2 115.5,247.0 115.6,245.3 115.7,245.1 115.8,245.9 115.8,244.1 115.9,248.4 116.0,248.2 116.1,245.6 116.2,247.2 116.3,247.5 116.4,248.2 116.5,248.2 116.5,245.8 116.6,245.5 116.7,248.6 116.8,248.1 116.9,246.6 117.0,247.4 117.1,246.0 117.2,249.7 117.2,249.9 117.3,248.1 117.4,247.1 117.5,248.4 117.6,245.6 117.7,245.7 117.8,247.5 117.9,247.8 117.9,243.8 118.0,248.6 118.1,247.1 118.2,248.7 118.3,243.7 118.4,247.8 118.5,248.8 118.6,245.6 118.6,245.3 118.7,248.6 118.8,244.1 118.9,247.2 119.0,248.5 119.1,248.3 119.2,245.2 119.3,243.4 119.3,246.3 119.4,242.7 119.5,244.3 119.6,245.8 119.7,247.5 119.8,248.2 119.9,248.2 120.0,246.0 120.0,248.7 120.1,249.3 120.2,247.6 120.3,246.4 120.4,245.6 120.5,246.0 120.6,248.6 120.7,246.1 120.7,247.5 120.8,246.6 120.9,248.5 121.0,242.7 121.1,248.2 121.2,247.3 121.3,245.5 121.4,244.5 121.4,247.2 121.5,249.4 121.6,249.7 121.7,247.8 121.8,246.4 121.9,247.1 122.0,247.1 122.0,247.5 122.1,245.6 122.2,247.9 122.3,246.6 122.4,247.8 122.5,242.7 122.6,243.4 122.7,245.9 122.7,246.7 122.8,246.7 122.9,245.5 123.0,248.7 123.1,243.6 123.2,248.7 123.3,246.7 123.4,249.8 123.4,249.3 123.5,245.9 123.6,246.0 123.7,248.1 123.8,246.6 123.9,245.8 124.0,245.0 124.1,244.4 124.1,244.4 124.2,246.4 124.3,242.6 124.4,249.2 124.5,244.8 124.6,245.4 124.7,248.2 124.8,244.0 124.8,246.6 124.9,248.1 125.0,242.0 125.1,247.7 125.2,246.8 125.3,248.1 125.4,246.7 125.5,241.4 125.5,246.4 125.6,248.0 125.7,247.3 125.8,248.6 125.9,248.8 126.0,248.0 126.1,247.4 126.2,248.1 126.2,245.7 126.3,246.4 126.4,249.3 126.5,247.8 126.6,248.1 126.7,245.7 126.8,247.3 126.9,248.5 126.9,247.7 127.0,246.8 127.1,247.5 127.2,248.2 127.3,246.8 127.4,244.8 127.5,247.6 127.6,248.0 127.6,248.1 127.7,247.3 127.8,249.6 127.9,247.5 128.0,248.8 128.1,248.9 128.2,243.9 128.3,250.0 128.3,248.5 128.4,248.7 128.5,244.3 128.6,249.2 128.7,248.1 128.8,248.6 128.9,247.4 129.0,247.5 129.0,241.8 129.1,248.1 129.2,244.2 129.3,249.5 129.4,246.2 129.5,247.5 129.6,250.2 129.7,247.7 129.7,247.5 129.8,242.4 129.9,248.4 130.0,250.2 130.1,245.9 130.2,249.8 130.3,245.4 130.4,248.5 130.4,249.3 130.5,248.3 130.6,247.9 130.7,243.8 130.8,244.7 130.9,248.7 131.0,245.1 131.1,248.0 131.1,246.9 131.2,250.5 131.3,247.2 131.4,248.4 131.5,248.6 131.6,249.2 131.7,248.6 131.8,244.5 131.8,247.6 131.9,248.3 132.0,246.5 132.1,247.8 132.2,246.8 132.3,250.2 132.4,245.2 132.4,244.5 132.5,244.8 132.6,245.8 132.7,247.3 132.8,245.4 132.9,246.7 133.0,243.7 133.1,247.9 133.1,249.2 133.2,249.5 133.3,247.7 133.4,249.2 133.5,248.5 133.6,249.5 133.7,244.9 133.8,249.5 133.8,244.4 133.9,249.9 134.0,248.8 134.1,249.6 134.2,248.6 134.3,246.1 134.4,246.9 134.5,248.8 134.5,247.2 134.6,250.1 134.7,248.5 134.8,248.2 134.9,249.2 135.0,246.8 135.1,247.5 135.2,244.9 135.2,249.6 135.3,247.3 135.4,248.2 135.5,248.1 135.6,248.5 135.7,248.7 135.8,249.0 135.9,247.1 135.9,248.1 136.0,244.0 136.1,245.3 136.2,248.2 136.3,247.5 136.4,246.1 136.5,248.0 136.6,247.9 136.6,246.7 136.7,248.5 136.8,248.8 136.9,248.1 137.0,247.6 137.1,244.0 137.2,247.5 137.3,250.2 137.3,249.1 137.4,249.3 137.5,248.5 137.6,244.5 137.7,249.4 137.8,247.4 137.9,246.2 138.0,249.9 138.0,248.0 138.1,246.4 138.2,247.3 138.3,246.4 138.4,248.4 138.5,246.0 138.6,245.1 138.7,245.7 138.7,248.3 138.8,249.4 138.9,248.8 139.0,245.7 139.1,247.5 139.2,247.2 139.3,244.9 139.4,246.3 139.4,247.1 139.5,245.1 139.6,246.8 139.7,248.2 139.8,243.1 139.9,246.3 140.0,247.0 140.1,246.8 140.1,249.2 140.2,246.8 140.3,247.8 140.4,249.8 140.5,246.6 140.6,249.3 140.7,247.6 140.8,247.8 140.8,245.9 140.9,248.5 141.0,245.5 141.1,247.2 141.2,247.1 141.3,244.3 141.4,248.0 141.5,244.4 141.5,249.7 141.6,248.9 141.7,248.5 141.8,250.0 141.9,248.1 142.0,246.8 142.1,249.8 142.2,247.4 142.2,247.1 142.3,248.8 142.4,247.2 142.5,248.8 142.6,250.1 142.7,248.5 142.8,247.5 142.9,247.3 142.9,249.8 143.0,249.0 143.1,247.9 143.2,245.4 143.3,249.8 143.4,246.3 143.5,246.9 143.5,248.7 143.6,247.3 143.7,245.8 143.8,247.9 143.9,249.3 144.0,248.4 144.1,245.9 144.2,245.6 144.2,242.9 144.3,245.9 144.4,246.7 144.5,247.7 144.6,247.8 144.7,248.6 144.8,249.5 144.9,248.6 144.9,246.8 145.0,247.3 145.1,248.3 145.2,243.0 145.3,246.8 145.4,249.0 145.5,250.0 145.6,247.4 145.6,249.1 145.7,248.3 145.8,248.3 145.9,248.3 146.0,248.7 146.1,247.8 146.2,249.4 146.3,250.1 146.3,246.3 146.4,248.0 146.5,249.3 146.6,245.1 146.7,247.2 146.8,247.5 146.9,249.6 147.0,248.9 147.0,248.5 147.1,248.8 147.2,248.9 147.3,245.6 147.4,250.1 147.5,249.9 147.6,248.1 147.7,249.2 147.7,246.9 147.8,248.9 147.9,246.3 148.0,248.6 148.1,246.5 148.2,246.1 148.3,249.0 148.4,247.4 148.4,247.4 148.5,247.7 148.6,243.7 148.7,247.7 148.8,249.5 148.9,248.3 149.0,249.8 149.1,247.9 149.1,249.6 149.2,246.8 149.3,247.2 149.4,247.6 149.5,248.9 149.6,249.7 149.7,248.2 149.8,246.5 149.8,247.3 149.9,248.5 150.0,250.1 150.1,248.8 150.2,246.8 150.3,249.4 150.4,245.9 150.5,243.4 150.5,249.4 150.6,249.3 150.7,247.3 150.8,248.0 150.9,246.9 151.0,249.0 151.1,248.6 151.2,247.8 151.2,248.0 151.3,247.2 151.4,249.2 151.5,245.2 151.6,249.8 151.7,248.2 151.8,250.0 151.9,249.4 151.9,247.9 152.0,249.6 152.1,247.2 152.2,246.4 152.3,247.1 152.4,248.9 152.5,247.7 152.6,249.5 152.6,248.5 152.7,247.3 152.8,246.1 152.9,249.5 153.0,249.1 153.1,248.2 153.2,246.5 153.3,247.6 153.3,248.5 153.4,248.9 153.5,245.9 153.6,247.6 153.7,245.1 153.8,249.1 153.9,247.2 154.0,245.7 154.0,248.8 154.1,243.8 154.2,248.4 154.3,249.3 154.4,248.4 154.5,246.8 154.6,248.6 154.6,248.6 154.7,248.3 154.8,248.2 154.9,248.6 155.0,247.6 155.1,249.7 155.2,248.7 155.3,243.8 155.3,247.7 155.4,245.7 155.5,248.9 155.6,247.9 155.7,247.7 155.8,247.2 155.9,250.3 156.0,248.1 156.0,246.8 156.1,247.6 156.2,249.8 156.3,249.5 156.4,248.0 156.5,247.0 156.6,248.3 156.7,249.1 156.7,249.6 156.8,248.2 156.9,246.8 157.0,246.7 157.1,245.0 157.2,248.9 157.3,249.7 157.4,249.6 157.4,249.2 157.5,250.5 157.6,248.3 157.7,249.2 157.8,248.9 157.9,248.7 158.0,248.3 158.1,249.6 158.1,249.9 158.2,249.4 158.3,247.5 158.4,247.9 158.5,247.9 158.6,249.6 158.7,248.9 158.8,248.1 158.8,249.6 158.9,245.2 159.0,246.6 159.1,249.2 159.2,248.8 159.3,248.9 159.4,249.7 159.5,249.7 159.5,247.1 159.6,246.1 159.7,249.2 159.8,248.6 159.9,249.4 160.0,250.4 160.1,250.3 160.2,250.0 160.2,249.7 160.3,249.0 160.4,246.5 160.5,250.0 160.6,249.3 160.7,247.3 160.8,248.6 160.9,250.0 160.9,249.3 161.0,247.0 161.1,250.3 161.2,246.3 161.3,246.2 161.4,248.7 161.5,250.1 161.6,247.1 161.6,249.2 161.7,246.7 161.8,248.1 161.9,249.3 162.0,248.7 162.1,247.2 162.2,248.9 162.3,248.3 162.3,246.3 162.4,248.1 162.5,248.1 162.6,245.9 162.7,248.0 162.8,248.7 162.9,250.0 163.0,246.9 163.0,245.9 163.1,249.3 163.2,247.1 163.3,249.2 163.4,249.4 163.5,249.4 163.6,247.5 163.7,249.1 163.7,247.4 163.8,249.7 163.9,248.5 164.0,247.9 164.1,248.3 164.2,250.2 164.3,248.6 164.4,247.0 164.4,248.6 164.5,249.1 164.6,246.2 164.7,249.2 164.8,250.1 164.9,248.4 165.0,249.5 165.1,246.7 165.1,247.4 165.2,249.4 165.3,247.2 165.4,250.2 165.5,246.8 165.6,248.4 165.7,248.7 165.7,250.0 165.8,248.8 165.9,250.1 166.0,249.8 166.1,248.3 166.2,246.6 166.3,249.0 166.4,249.3 166.4,248.4 166.5,247.5 166.6,247.0 166.7,246.4 166.8,249.8 166.9,247.8 167.0,249.5 167.1,247.7 167.1,249.2 167.2,246.5 167.3,249.5 167.4,248.4 167.5,248.2 167.6,249.6 167.7,248.9 167.8,249.8 167.8,249.4 167.9,246.9 168.0,248.6 168.1,250.1 168.2,249.0 168.3,248.5 168.4,249.1 168.5,247.9 168.5,249.0 168.6,250.4 168.7,248.2 168.8,248.9 168.9,248.0 169.0,249.7 169.1,246.0 169.2,249.0 169.2,248.9 169.3,248.7 169.4,248.3 169.5,246.7 169.6,248.1 169.7,249.6 169.8,248.4 169.9,248.6 169.9,250.5 170.0,249.6 170.1,249.1 170.2,248.5 170.3,246.4 170.4,249.3 170.5,249.6 170.6,247.7 170.6,248.9 170.7,248.7 170.8,249.8 170.9,250.5 171.0,248.4 171.1,249.1 171.2,248.7 171.3,249.0 171.3,248.9 171.4,249.7 171.5,246.5 171.6,245.1 171.7,249.1 171.8,248.6 171.9,248.9 172.0,247.9 172.0,247.0 172.1,248.2 172.2,249.9 172.3,248.1 172.4,247.8 172.5,247.9 172.6,250.0 172.7,249.3 172.7,248.3 172.8,246.1 172.9,248.9 173.0,249.8 173.1,248.2 173.2,249.3 173.3,249.2 173.4,249.5 173.4,247.7 173.5,248.1 173.6,248.9 173.7,250.0 173.8,250.0 173.9,249.7 174.0,249.4 174.1,250.3 174.1,248.0 174.2,247.9 174.3,249.5 174.4,248.8 174.5,249.3 174.6,248.7 174.7,248.4 174.8,248.7 174.8,248.3 174.9,249.5 175.0,249.6 175.1,248.3 175.2,247.8 175.3,247.6 175.4,250.1 175.5,247.0 175.5,249.7 175.6,249.4 175.7,248.1 175.8,247.1 175.9,249.5 176.0,249.2 176.1,249.4 176.2,248.7 176.2,248.9 176.3,248.5 176.4,249.6 176.5,250.0 176.6,248.7 176.7,246.8 176.8,249.4 176.8,247.0 176.9,248.7 177.0,247.8 177.1,248.9 177.2,245.5 177.3,249.3 177.4,250.2 177.5,249.0 177.5,248.4 177.6,248.5 177.7,248.2 177.8,247.0 177.9,248.1 178.0,249.0 178.1,248.6 178.2,249.6 178.2,249.5 178.3,249.2 178.4,246.3 178.5,249.5 178.6,248.3 178.7,247.9 178.8,248.0 178.9,249.9 178.9,248.6 179.0,248.3 179.1,249.7 179.2,250.4 179.3,250.2 179.4,249.3 179.5,249.8 179.6,249.6 179.6,249.0 179.7,247.6 179.8,249.3 179.9,249.6 180.0,248.7 180.1,247.6 180.2,249.5 180.3,249.0 180.3,248.1 180.4,250.1 180.5,249.7 180.6,249.4 180.7,249.0 180.8,246.8 180.9,248.0 181.0,247.0 181.0,247.7 181.1,249.5 181.2,250.2 181.3,248.3 181.4,250.4 181.5,249.4 181.6,248.8 181.7,247.1 181.7,250.3 181.8,248.7 181.9,247.1 182.0,249.5 182.1,250.3 182.2,249.1 182.3,248.4 182.4,248.9 182.4,249.2 182.5,248.0 182.6,248.4 182.7,249.6 182.8,249.3 182.9,250.3 183.0,247.4 183.1,249.9 183.1,247.2 183.2,248.6 183.3,249.1 183.4,249.7 183.5,248.2 183.6,249.0 183.7,250.0 183.8,249.3 183.8,249.6 183.9,249.9 184.0,249.5 184.1,249.9 184.2,249.9 184.3,250.2 184.4,249.5 184.5,249.5 184.5,250.0 184.6,248.6 184.7,248.0 184.8,248.7 184.9,250.4 185.0,249.4 185.1,249.0 185.2,248.8 185.2,247.7 185.3,248.8 185.4,249.2 185.5,248.4 185.6,248.9 185.7,248.6 185.8,247.8 185.9,249.7 185.9,250.0 186.0,249.5 186.1,246.7 186.2,249.0 186.3,249.1 186.4,249.2 186.5,249.4 186.6,249.4 186.6,249.8 186.7,248.4 186.8,249.2 186.9,247.5 187.0,249.7 187.1,249.9 187.2,248.9 187.2,249.6 187.3,249.4 187.4,249.0 187.5,248.7 187.6,250.4 187.7,250.8 187.8,250.0 187.9,249.6 187.9,248.9 188.0,248.9 188.1,250.0 188.2,249.2 188.3,249.1 188.4,250.0 188.5,248.3 188.6,250.4 188.6,249.7 188.7,249.5 188.8,248.8 188.9,248.9 189.0,247.2 189.1,250.1 189.2,249.4 189.3,250.1 189.3,248.9 189.4,249.1 189.5,249.1 189.6,249.3 189.7,247.7 189.8,246.8 189.9,250.1 190.0,249.9 190.0,249.3 190.1,249.1 190.2,249.2 190.3,249.1 190.4,249.2 190.5,247.8 190.6,249.6 190.7,247.0 190.7,247.9 190.8,249.3 190.9,248.6 191.0,249.1 191.1,250.1 191.2,250.1 191.3,249.6 191.4,248.9 191.4,249.6 191.5,247.5 191.6,248.2 191.7,250.2 191.8,250.2 191.9,249.1 192.0,248.9 192.1,249.6 192.1,250.0 192.2,249.4 192.3,249.6 192.4,250.1 192.5,250.3 192.6,250.0 192.7,246.7 192.8,250.5 192.8,250.3 192.9,249.7 193.0,249.4 193.1,249.6 193.2,248.7 193.3,249.7 193.4,248.9 193.5,247.4 193.5,247.9 193.6,250.5 193.7,249.2 193.8,250.1 193.9,249.9 194.0,249.8 194.1,249.4 194.2,250.5 194.2,249.3 194.3,250.1 194.4,250.2 194.5,248.9 194.6,248.3 194.7,250.2 194.8,250.4 194.9,248.4 194.9,250.2 195.0,247.9 195.1,249.4 195.2,249.7 195.3,249.8 195.4,250.5 195.5,249.4 195.6,249.2 195.6,250.8 195.7,249.5 195.8,249.9 195.9,249.7 196.0,249.6 196.1,249.2 196.2,249.7 196.3,249.1 196.3,250.2 196.4,249.5 196.5,250.4 196.6,250.2 196.7,250.0 196.8,248.8 196.9,250.3 197.0,250.3 197.0,249.7 197.1,249.7 197.2,250.2 197.3,249.7 197.4,249.1 197.5,248.5 197.6,249.9 197.7,248.0 197.7,250.8 197.8,249.3 197.9,249.1 198.0,248.8 198.1,250.0 198.2,248.7 198.3,250.1 198.3,248.3 198.4,248.9 198.5,249.7 198.6,249.9 198.7,249.7 198.8,249.2 198.9,247.9 199.0,248.0 199.0,250.2 199.1,248.9 199.2,250.4 199.3,249.8 199.4,249.6 199.5,250.0 199.6,249.6 199.7,250.5 199.7,249.2 199.8,249.4 199.9,250.4 200.0,249.9 200.1,249.8 200.2,250.6 200.3,250.4 200.4,248.3 200.4,249.5 200.5,250.1 200.6,250.6 200.7,249.0 200.8,250.1 200.9,248.9 201.0,248.6 201.1,249.7 201.1,249.2 201.2,247.9 201.3,248.1 201.4,249.2 201.5,249.6 201.6,250.1 201.7,249.9 201.8,250.1 201.8,250.7 201.9,248.8 202.0,250.6 202.1,250.0 202.2,250.0 202.3,249.5 202.4,249.4 202.5,249.5 202.5,248.8 202.6,248.9 202.7,249.0 202.8,250.8 202.9,247.7 203.0,249.3 203.1,247.2 203.2,250.0 203.2,249.5 203.3,249.5 203.4,250.3 203.5,249.5 203.6,249.3 203.7,248.0 203.8,250.5 203.9,249.5 203.9,250.2 204.0,249.5 204.1,249.7 204.2,250.0 204.3,250.3 204.4,250.0 204.5,250.0 204.6,249.6 204.6,250.0 204.7,248.6 204.8,249.7 204.9,250.4 205.0,250.2 205.1,248.9 205.2,248.8 205.3,250.1 205.3,248.5 205.4,250.4 205.5,250.4 205.6,249.7 205.7,250.4 205.8,250.7 205.9,249.5 206.0,249.2 206.0,249.3 206.1,249.3 206.2,249.0 206.3,249.5 206.4,250.6 206.5,248.9 206.6,250.6 206.7,249.4 206.7,249.9 206.8,249.8 206.9,249.8 207.0,250.1 207.1,248.1 207.2,250.3 207.3,247.2 207.4,249.7 207.4,249.8 207.5,250.3 207.6,250.6 207.7,249.0 207.8,248.6 207.9,250.2 208.0,250.4 208.1,249.8 208.1,249.8 208.2,249.3 208.3,248.8 208.4,250.0 208.5,250.5 208.6,249.7 208.7,249.6 208.8,248.5 208.8,250.1 208.9,249.6 209.0,249.0 209.1,249.3 209.2,250.4 209.3,250.1 209.4,249.6 209.4,250.2 209.5,250.4 209.6,250.9 209.7,248.9 209.8,248.8 209.9,250.4 210.0,249.3 210.1,250.5 210.1,248.7 210.2,247.3 210.3,249.3 210.4,249.9 210.5,250.3 210.6,250.4 210.7,249.7 210.8,250.5 210.8,249.9 210.9,248.1 211.0,249.4 211.1,249.1 211.2,250.4 211.3,249.5 211.4,249.7 211.5,250.2 211.5,249.7 211.6,250.7 211.7,249.0 211.8,250.1 211.9,249.2 212.0,249.8 212.1,249.6 212.2,249.2 212.2,247.3 212.3,250.2 212.4,249.9 212.5,250.3 212.6,248.9 212.7,249.3 212.8,249.1 212.9,247.6 212.9,247.8 213.0,248.5 213.1,248.2 213.2,250.4 213.3,250.2 213.4,249.5 213.5,248.9 213.6,250.4 213.6,247.4 213.7,250.1 213.8,249.6 213.9,249.8 214.0,249.0 214.1,250.7 214.2,249.6 214.3,250.3 214.3,250.0 214.4,249.6 214.5,249.5 214.6,249.7 214.7,250.5 214.8,250.1 214.9,248.3 215.0,250.1 215.0,249.7 215.1,250.1 215.2,249.3 215.3,250.6 215.4,250.1 215.5,249.4 215.6,249.2 215.7,249.7 215.7,249.9 215.8,249.0 215.9,248.5 216.0,248.9 216.1,250.1 216.2,249.5 216.3,250.6 216.4,249.5 216.4,249.8 216.5,249.9 216.6,248.9 216.7,249.9 216.8,249.4 216.9,250.3 217.0,248.3 217.1,249.7 217.1,249.1 217.2,248.3 217.3,249.9 217.4,248.8 217.5,249.2 217.6,249.7 217.7,248.5 217.8,250.2 217.8,247.8 217.9,249.4 218.0,249.1 218.1,249.8 218.2,249.2 218.3,249.1 218.4,248.4 218.5,249.7 218.5,250.5 218.6,249.4 218.7,250.0 218.8,250.5 218.9,248.2 219.0,249.5 219.1,249.1 219.2,249.5 219.2,249.5 219.3,250.2 219.4,248.9 219.5,250.6 219.6,247.8 219.7,248.7 219.8,250.5 219.8,250.5 219.9,250.4 220.0,249.9 220.1,249.3 220.2,249.7 220.3,249.8 220.4,250.7 220.5,249.7 220.5,249.5 220.6,250.1 220.7,249.8 220.8,249.8 220.9,249.0 221.0,250.5 221.1,250.4 221.2,249.7 221.2,249.9 221.3,250.0 221.4,249.6 221.5,249.1 221.6,248.4 221.7,250.1 221.8,249.7 221.9,248.2 221.9,249.5 222.0,249.7 222.1,249.4 222.2,250.2 222.3,249.9 222.4,249.1 222.5,249.6 222.6,248.2 222.6,250.2 222.7,248.1 222.8,250.2 222.9,250.1 223.0,250.9 223.1,250.2 223.2,250.1 223.3,248.7 223.3,250.3 223.4,250.4 223.5,249.8 223.6,249.1 223.7,250.5 223.8,249.6 223.9,247.8 224.0,250.1 224.0,250.2 224.1,250.5 224.2,249.8 224.3,249.8 224.4,250.0 224.5,249.6 224.6,250.9 224.7,249.8 224.7,249.7 224.8,249.7 224.9,249.3 225.0,250.5 225.1,250.2 225.2,249.5 225.3,250.5 225.4,249.7 225.4,249.8 225.5,250.0 225.6,250.5 225.7,250.3 225.8,249.5 225.9,249.2 226.0,250.3 226.1,250.1 226.1,250.0 226.2,250.6 226.3,250.4 226.4,249.6 226.5,250.1 226.6,250.5 226.7,249.9 226.8,250.5 226.8,249.9 226.9,249.2 227.0,248.7 227.1,248.6 227.2,249.4 227.3,250.7 227.4,249.6 227.5,249.7 227.5,250.1 227.6,249.3 227.7,250.6 227.8,248.9 227.9,250.3 228.0,249.5 228.1,249.9 228.2,250.3 228.2,249.2 228.3,250.2 228.4,250.0 228.5,250.3 228.6,248.5 228.7,250.4 228.8,250.1 228.9,250.3 228.9,250.6 229.0,248.9 229.1,249.9 229.2,249.6 229.3,250.2 229.4,249.7 229.5,249.8 229.6,249.1 229.6,250.2 229.7,249.1 229.8,249.1 229.9,248.0 230.0,250.2 230.1,250.8 230.2,249.0 230.3,250.0 230.3,249.5 230.4,250.1 230.5,247.7 230.6,250.7 230.7,248.2 230.8,250.2 230.9,250.6 230.9,250.4 231.0,250.2 231.1,248.5 231.2,250.1 231.3,248.5 231.4,250.2 231.5,248.6 231.6,249.9 231.6,250.4 231.7,250.3 231.8,250.7 231.9,250.2 232.0,250.6 232.1,250.0 232.2,249.5 232.3,250.6 232.3,249.6 232.4,249.9 232.5,250.2 232.6,249.5 232.7,250.2 232.8,249.9 232.9,250.1 233.0,249.9 233.0,250.7 233.1,250.0 233.2,249.2 233.3,249.9 233.4,249.7 233.5,249.1 233.6,250.8 233.7,248.8 233.7,249.8 233.8,250.0 233.9,250.4 234.0,250.4 234.1,250.1 234.2,250.1 234.3,250.0 234.4,250.2 234.4,249.7 234.5,249.0 234.6,250.1 234.7,249.9 234.8,248.9 234.9,250.4 235.0,249.9 235.1,249.3 235.1,249.7 235.2,249.3 235.3,250.2 235.4,248.5 235.5,250.0 235.6,250.6 235.7,250.4 235.8,251.0 235.8,249.3 235.9,249.0 236.0,250.0 236.1,250.4 236.2,249.7 236.3,249.9 236.4,250.0 236.5,249.5 236.5,250.2 236.6,250.3 236.7,249.1 236.8,250.6 236.9,249.7 237.0,250.7 237.1,250.0 237.2,250.3 237.2,249.9 237.3,249.7 237.4,250.1 237.5,249.0 237.6,250.1 237.7,249.9 237.8,248.9 237.9,250.6 237.9,250.2 238.0,250.5 238.1,249.1 238.2,250.7 238.3,249.9 238.4,249.6 238.5,247.9 238.6,250.4 238.6,249.5 238.7,249.5 238.8,249.8 238.9,249.9 239.0,249.4 239.1,249.8 239.2,250.1 239.3,249.8 239.3,249.7 239.4,249.0 239.5,250.2 239.6,249.0 239.7,248.9 239.8,249.2 239.9,250.1 240.0,249.9 240.0,249.5 240.1,249.4 240.2,250.8 240.3,251.0 240.4,249.5 240.5,249.6 240.6,249.0 240.7,250.4 240.7,249.8 240.8,248.0 240.9,248.6 241.0,250.2 241.1,250.4 241.2,249.1 241.3,250.4 241.4,250.4 241.4,249.9 241.5,250.3 241.6,250.2 241.7,248.8 241.8,248.8 241.9,249.8 242.0,250.3 242.0,249.9 242.1,249.6 242.2,249.4 242.3,249.7 242.4,249.2 242.5,250.1 242.6,250.0 242.7,250.7 242.7,249.3 242.8,250.6 242.9,250.2 243.0,249.9 243.1,248.5 243.2,249.6 243.3,250.5 243.4,250.4 243.4,250.0 243.5,248.0 243.6,250.2 243.7,250.4 243.8,249.2 243.9,250.3 244.0,250.7 244.1,250.2 244.1,249.8 244.2,249.9 244.3,250.5 244.4,249.8 244.5,250.1 244.6,250.2 244.7,249.8 244.8,250.8 244.8,249.8 244.9,250.3 245.0,249.7 245.1,250.4 245.2,249.1 245.3,250.0 245.4,249.2 245.5,248.5 245.5,250.1 245.6,249.0 245.7,250.3 245.8,249.4 245.9,249.9 246.0,248.5 246.1,250.6 246.2,250.1 246.2,249.6 246.3,249.4 246.4,249.9 246.5,250.2 246.6,249.8 246.7,250.1 246.8,250.2 246.9,249.3 246.9,249.1 247.0,250.4 247.1,250.6 247.2,249.2 247.3,249.8 247.4,249.6 247.5,249.8 247.6,249.5 247.6,249.5 247.7,250.2 247.8,249.7 247.9,250.8 248.0,250.7 248.1,250.4 248.2,250.2 248.3,250.4 248.3,250.5 248.4,250.0 248.5,250.5 248.6,249.9 248.7,250.5 248.8,249.9 248.9,248.9 249.0,250.3 249.0,250.8 249.1,249.5 249.2,250.7 249.3,250.3 249.4,249.0 249.5,250.3 249.6,249.8 249.7,250.0 249.7,250.4 249.8,249.6 249.9,249.4 250.0,250.8 250.1,249.3 250.2,250.3 250.3,249.5 250.4,250.6 250.4,250.7 250.5,249.1 250.6,249.8 250.7,249.8 250.8,249.1 250.9,250.0 251.0,249.9 251.1,250.5 251.1,250.2 251.2,249.8 251.3,250.1 251.4,250.9 251.5,249.4 251.6,248.7 251.7,249.7 251.8,249.6 251.8,250.0 251.9,250.2 252.0,249.8 252.1,250.2 252.2,250.2 252.3,250.0 252.4,249.7 252.5,249.6 252.5,250.0 252.6,249.7 252.7,250.4 252.8,249.8 252.9,250.6 253.0,250.3 253.1,250.3 253.1,248.7 253.2,250.5 253.3,250.3 253.4,249.7 253.5,250.1 253.6,249.6 253.7,250.3 253.8,249.3 253.8,249.6 253.9,249.1 254.0,249.3 254.1,249.9 254.2,250.9 254.3,249.8 254.4,250.4 254.5,249.6 254.5,249.4 254.6,250.2 254.7,250.4 254.8,250.1 254.9,249.4 255.0,248.7 255.1,250.1 255.2,250.3 255.2,250.4 255.3,249.9 255.4,250.6 255.5,250.5 255.6,250.0 255.7,250.5 255.8,250.4 255.9,250.3 255.9,249.7 256.0,248.9 256.1,250.3 256.2,250.0 256.3,248.2 256.4,250.2 256.5,250.1 256.6,250.6 256.6,250.9 256.7,249.7 256.8,250.5 256.9,249.7 257.0,249.9 257.1,250.6 257.2,250.2 257.3,250.9 257.3,250.8 257.4,250.0 257.5,250.7 257.6,250.7 257.7,250.3 257.8,250.9 257.9,249.8 258.0,249.2 258.0,249.6 258.1,250.2 258.2,249.7 258.3,250.5 258.4,250.5 258.5,249.9 258.6,249.7 258.7,250.3 258.7,249.3 258.8,249.2 258.9,249.2 259.0,250.8 259.1,251.0 259.2,250.4 259.3,250.1 259.4,249.7 259.4,249.4 259.5,250.6 259.6,250.2 259.7,249.1 259.8,250.2 259.9,248.3 260.0,250.0 260.1,249.7 260.1,250.5 260.2,248.3 260.3,250.5 260.4,250.7 260.5,250.7 260.6,249.9 260.7,250.7 260.8,250.0 260.8,249.9 260.9,249.4 261.0,249.2 261.1,249.8 261.2,250.2 261.3,250.7 261.4,249.3 261.5,250.4 261.5,250.2 261.6,250.2 261.7,250.4 261.8,250.2 261.9,249.0 262.0,249.8 262.1,249.4 262.2,249.6 262.2,248.9 262.3,250.1 262.4,250.3 262.5,249.1 262.6,251.0 262.7,249.6 262.8,249.7 262.9,250.0 262.9,250.0 263.0,250.5 263.1,250.4 263.2,249.2 263.3,250.1 263.4,249.3 263.5,250.4 263.6,250.5 263.6,250.7 263.7,250.8 263.8,249.7 263.9,250.8 264.0,250.0 264.1,249.5 264.2,249.9 264.2,250.4 264.3,249.6 264.4,249.8 264.5,250.5 264.6,250.4 264.7,249.7 264.8,248.8 264.9,250.2 264.9,250.2 265.0,249.7 265.1,250.4 265.2,249.8 265.3,250.7 265.4,250.6 265.5,250.4 265.6,250.7 265.6,249.8 265.7,249.9 265.8,249.6 265.9,249.3 266.0,250.0 266.1,249.9 266.2,249.7 266.3,249.6 266.3,250.5 266.4,250.9 266.5,250.9 266.6,250.8 266.7,250.3 266.8,250.9 266.9,250.4 267.0,250.2 267.0,250.1 267.1,250.0 267.2,249.9 267.3,250.5 267.4,250.3 267.5,249.9 267.6,250.1 267.7,249.3 267.7,249.4 267.8,249.8 267.9,250.2 268.0,250.2 268.1,250.2 268.2,251.1 268.3,250.5 268.4,249.1 268.4,250.2 268.5,250.0 268.6,249.5 268.7,249.0 268.8,250.0 268.9,250.6 269.0,248.4 269.1,250.8 269.1,249.9 269.2,249.5 269.3,250.2 269.4,249.9 269.5,250.3 269.6,250.7 269.7,249.8 269.8,250.0 269.8,250.2 269.9,250.0 270.0,250.5 270.1,249.0 270.2,249.6 270.3,250.2 270.4,250.4 270.5,250.2 270.5,250.5 270.6,250.1 270.7,250.3 270.8,250.6 270.9,250.5 271.0,250.6 271.1,250.0 271.2,250.0 271.2,249.6 271.3,250.8 271.4,250.1 271.5,250.1 271.6,250.3 271.7,250.6 271.8,250.3 271.9,249.7 271.9,249.4 272.0,249.3 272.1,250.2 272.2,249.3 272.3,249.8 272.4,250.2 272.5,250.5 272.6,250.2 272.6,249.3 272.7,250.7 272.8,249.7 272.9,249.3 273.0,249.5 273.1,250.4 273.2,250.2 273.3,250.0 273.3,250.1 273.4,250.1 273.5,250.5 273.6,249.8 273.7,249.9 273.8,249.1 273.9,250.2 274.0,249.8 274.0,250.2 274.1,250.6 274.2,249.6 274.3,250.2 274.4,249.7 274.5,250.3 274.6,250.8 274.6,250.5 274.7,249.5 274.8,250.2 274.9,250.3 275.0,250.5 275.1,250.4 275.2,250.9 275.3,250.2 275.3,250.7 275.4,249.7 275.5,249.9 275.6,250.7 275.7,250.5 275.8,250.7 275.9,250.2 276.0,249.2 276.0,250.5 276.1,250.3 276.2,250.8 276.3,250.4 276.4,250.3 276.5,249.9 276.6,250.5 276.7,250.7 276.7,249.8 276.8,249.7 276.9,250.2 277.0,250.2 277.1,250.1 277.2,250.6 277.3,250.5 277.4,250.2 277.4,250.3 277.5,250.4 277.6,250.1 277.7,250.6 277.8,249.9 277.9,250.1 278.0,250.7 278.1,249.9 278.1,250.1 278.2,250.4 278.3,249.3 278.4,250.3 278.5,249.2 278.6,250.6 278.7,250.8 278.8,249.9 278.8,250.5 278.9,250.7 279.0,249.8 279.1,249.4 279.2,250.3 279.3,249.9 279.4,250.1 279.5,249.5 279.5,249.4 279.6,250.1 279.7,250.1 279.8,249.9 279.9,250.5 280.0,249.8 280.1,250.1 280.2,250.0 280.2,250.1 280.3,250.4 280.4,250.9 280.5,249.8 280.6,250.2 280.7,249.9 280.8,250.2 280.9,250.8 280.9,250.4 281.0,250.7 281.1,250.0 281.2,249.5 281.3,249.0 281.4,250.5 281.5,250.0 281.6,250.3 281.6,250.9 281.7,249.7 281.8,250.2 281.9,250.8 282.0,249.9 282.1,249.6 282.2,250.3 282.3,250.7 282.3,250.3 282.4,249.8 282.5,250.5 282.6,249.8 282.7,250.0 282.8,250.0 282.9,250.5 283.0,250.7 283.0,250.6 283.1,250.9 283.2,249.7 283.3,249.5 283.4,250.6 283.5,250.4 283.6,249.4 283.7,250.1 283.7,250.4 283.8,250.3 283.9,249.6 284.0,249.9 284.1,249.7 284.2,249.3 284.3,249.5 284.4,250.7 284.4,250.6 284.5,250.4 284.6,250.2 284.7,250.0 284.8,249.5 284.9,250.3 285.0,250.0 285.1,249.7 285.1,249.8 285.2,251.0 285.3,250.6 285.4,250.6 285.5,249.3 285.6,250.1 285.7,249.8 285.7,250.1 285.8,250.1 285.9,250.8 286.0,250.7 286.1,250.1 286.2,248.8 286.3,250.5 286.4,250.2 286.4,250.7 286.5,250.5 286.6,250.6 286.7,249.1 286.8,250.7 286.9,250.2 287.0,250.4 287.1,248.8 287.1,250.3 287.2,249.8 287.3,249.2 287.4,249.9 287.5,250.5 287.6,250.3 287.7,250.5 287.8,250.3 287.8,249.8 287.9,250.5 288.0,250.1 288.1,249.1 288.2,250.1 288.3,249.6 288.4,249.8 288.5,250.7 288.5,251.0 288.6,250.4 288.7,249.8 288.8,250.6 288.9,250.1 289.0,250.1 289.1,250.3 289.2,250.3 289.2,250.7 289.3,250.0 289.4,250.3 289.5,250.8 289.6,250.9 289.7,249.9 289.8,250.2 289.9,249.3 289.9,250.8 290.0,250.2 290.1,250.6 290.2,249.9 290.3,250.2 290.4,250.1 290.5,249.3 290.6,250.0 290.6,250.6 290.7,250.5 290.8,249.9 290.9,250.2 291.0,250.6 291.1,250.0 291.2,250.6 291.3,250.6 291.3,250.3 291.4,249.3 291.5,250.1 291.6,250.4 291.7,249.6 291.8,250.6 291.9,249.7 292.0,249.9 292.0,250.0 292.1,250.4 292.2,250.1 292.3,250.9 292.4,250.2 292.5,250.0 292.6,249.8 292.7,250.4 292.7,249.8 292.8,250.6 292.9,250.5 293.0,250.5 293.1,249.5 293.2,250.8 293.3,251.1 293.4,249.4 293.4,250.4 293.5,250.7 293.6,249.5 293.7,249.9 293.8,250.4 293.9,249.2 294.0,250.3 294.1,250.2 294.1,250.0 294.2,250.6 294.3,250.1 294.4,251.0 294.5,250.8 294.6,249.9 294.7,250.4 294.8,250.6 294.8,250.9 294.9,250.6 295.0,249.9 295.1,250.8 295.2,249.8 295.3,250.4 295.4,250.6 295.5,250.1 295.5,250.7 295.6,250.7 295.7,249.8 295.8,250.5 295.9,250.1 296.0,250.6 296.1,250.3 296.2,250.7 296.2,250.4 296.3,250.0 296.4,250.4 296.5,250.6 296.6,250.6 296.7,250.7 296.8,250.8 296.8,250.2 296.9,250.6 297.0,249.1 297.1,250.6 297.2,250.4 297.3,250.0 297.4,250.0 297.5,250.8 297.5,249.5 297.6,250.1 297.7,250.0 297.8,249.7 297.9,250.3 298.0,250.2 298.1,250.2 298.2,250.1 298.2,250.7 298.3,250.1 298.4,250.7 298.5,250.2 298.6,249.4 298.7,250.7 298.8,250.4 298.9,250.8 298.9,250.6 299.0,250.3 299.1,250.2 299.2,250.4 299.3,250.6 299.4,250.6 299.5,249.4 299.6,250.0 299.6,250.1 299.7,251.0 299.8,250.2 299.9,249.8 300.0,250.6 300.1,249.3 300.2,250.3 300.3,250.0 300.3,250.5 300.4,250.2 300.5,250.8 300.6,249.7 300.7,250.8 300.8,250.7 300.9,250.7 301.0,250.6 301.0,251.0 301.1,250.3 301.2,249.5 301.3,250.7 301.4,250.3 301.5,250.9 301.6,250.0 301.7,251.0 301.7,250.5 301.8,250.8 301.9,250.8 302.0,250.3 302.1,248.9 302.2,250.5 302.3,249.8 302.4,250.5 302.4,249.7 302.5,250.6 302.6,250.1 302.7,250.8 302.8,250.2 302.9,250.6 303.0,250.9 303.1,249.4 303.1,250.4 303.2,250.6 303.3,250.1 303.4,250.3 303.5,250.3 303.6,250.1 303.7,250.7 303.8,250.9 303.8,250.5 303.9,250.9 304.0,250.4 304.1,250.4 304.2,250.7 304.3,251.1 304.4,249.9 304.5,250.7 304.5,250.6 304.6,250.5 304.7,250.5 304.8,250.4 304.9,250.5 305.0,250.4 305.1,250.4 305.2,250.1 305.2,250.0 305.3,249.8 305.4,250.0 305.5,250.8 305.6,250.4 305.7,250.4 305.8,250.8 305.9,250.4 305.9,250.4 306.0,248.9 306.1,250.8 306.2,250.9 306.3,249.7 306.4,250.4 306.5,250.9 306.6,250.4 306.6,250.7 306.7,250.4 306.8,250.6 306.9,251.0 307.0,250.0 307.1,250.5 307.2,250.2 307.2,250.3 307.3,250.5 307.4,250.0 307.5,250.6 307.6,250.7 307.7,250.6 307.8,250.0 307.9,250.3 307.9,250.0 308.0,249.7 308.1,250.7 308.2,250.6 308.3,250.7 308.4,250.3 308.5,248.9 308.6,250.3 308.6,250.5 308.7,250.4 308.8,250.0 308.9,250.7 309.0,250.2 309.1,250.5 309.2,250.1 309.3,250.6 309.3,249.8 309.4,250.1 309.5,250.4 309.6,250.9 309.7,249.2 309.8,250.5 309.9,250.4 310.0,250.3 310.0,250.9 310.1,250.0 310.2,249.4 310.3,250.4 310.4,249.9 310.5,250.3 310.6,250.6 310.7,250.5 310.7,250.3 310.8,250.8 310.9,250.9 311.0,250.5 311.1,250.2 311.2,250.4 311.3,249.8 311.4,249.9 311.4,249.8 311.5,250.3 311.6,250.3 311.7,250.1 311.8,250.2 311.9,250.4 312.0,249.9 312.1,250.0 312.1,250.6 312.2,249.9 312.3,250.6 312.4,250.5 312.5,249.9 312.6,250.4 312.7,250.4 312.8,249.9 312.8,250.6 312.9,250.6 313.0,250.7 313.1,250.3 313.2,250.6 313.3,250.7 313.4,250.3 313.5,250.2 313.5,250.3 313.6,249.7 313.7,249.8 313.8,249.6 313.9,250.3 314.0,250.3 314.1,250.9 314.2,250.4 314.2,249.4 314.3,250.7 314.4,249.8 314.5,250.4 314.6,249.1 314.7,250.1 314.8,250.7 314.9,249.7 314.9,250.3 315.0,249.9 315.1,250.7 315.2,250.6 315.3,250.8 315.4,250.6 315.5,250.0 315.6,250.0 315.6,250.6 315.7,250.3 315.8,250.7 315.9,250.0 316.0,250.8 316.1,250.7 316.2,250.7 316.3,249.6 316.3,250.8 316.4,250.1 316.5,250.4 316.6,250.3 316.7,250.9 316.8,250.5 316.9,250.3 317.0,249.9 317.0,250.6 317.1,250.5 317.2,249.2 317.3,250.6 317.4,250.4 317.5,250.5 317.6,250.3 317.7,250.2 317.7,250.3 317.8,250.5 317.9,250.4 318.0,250.5 318.1,250.7 318.2,250.6 318.3,250.0 318.3,250.4 318.4,250.8 318.5,250.5 318.6,249.7 318.7,250.4 318.8,249.4 318.9,249.9 319.0,250.5 319.0,250.7 319.1,250.7 319.2,250.2 319.3,251.0 319.4,250.1 319.5,250.0 319.6,250.2 319.7,250.5 319.7,250.7 319.8,250.8 319.9,250.8 320.0,250.6 320.1,250.1 320.2,250.3 320.3,250.3 320.4,251.0 320.4,250.0 320.5,250.0 320.6,250.4 320.7,250.0 320.8,249.3 320.9,250.6 321.0,250.0 321.1,250.5 321.1,250.7 321.2,250.3 321.3,250.0 321.4,249.8 321.5,250.5 321.6,249.9 321.7,250.8 321.8,250.9 321.8,250.3 321.9,250.4 322.0,249.9 322.1,250.5 322.2,249.7 322.3,249.8 322.4,250.4 322.5,250.4 322.5,250.6 322.6,250.9 322.7,250.8 322.8,250.7 322.9,250.4 323.0,250.8 323.1,250.4 323.2,249.6 323.2,250.2 323.3,250.4 323.4,250.1 323.5,250.4 323.6,250.3 323.7,249.9 323.8,250.7 323.9,250.5 323.9,250.1 324.0,250.7 324.1,250.4 324.2,250.6 324.3,250.2 324.4,250.5 324.5,250.8 324.6,250.6 324.6,250.2 324.7,250.3 324.8,250.9 324.9,250.0 325.0,249.8 325.1,250.4 325.2,250.8 325.3,250.6 325.3,249.9 325.4,250.7 325.5,250.4 325.6,249.9 325.7,250.2 325.8,250.4 325.9,250.5 326.0,250.3 326.0,250.5 326.1,251.1 326.2,249.3 326.3,250.7 326.4,250.8 326.5,250.3 326.6,250.5 326.7,250.6 326.7,250.7 326.8,250.7 326.9,250.6 327.0,250.3 327.1,251.0 327.2,249.5 327.3,250.3 327.4,250.4 327.4,250.2 327.5,249.5 327.6,249.7 327.7,250.1 327.8,249.3 327.9,250.9 328.0,250.7 328.1,250.6 328.1,250.1 328.2,250.2 328.3,250.6 328.4,249.9 328.5,250.4 328.6,250.7 328.7,250.4 328.8,250.8 328.8,249.9 328.9,250.2 329.0,250.6 329.1,250.3 329.2,250.3 329.3,250.4 329.4,249.9 329.4,249.8 329.5,250.8 329.6,250.5 329.7,250.2 329.8,250.8 329.9,250.1 330.0,251.1 330.1,250.5 330.1,250.4 330.2,249.7 330.3,250.3 330.4,249.9 330.5,250.3 330.6,250.8 330.7,250.0 330.8,250.1 330.8,250.5 330.9,250.7 331.0,250.7 331.1,249.9 331.2,249.6 331.3,249.6 331.4,250.1 331.5,250.4 331.5,249.5 331.6,250.3 331.7,250.5 331.8,250.8 331.9,250.8 332.0,250.1 332.1,250.5 332.2,250.9 332.2,249.7 332.3,250.5 332.4,250.8 332.5,250.2 332.6,250.8 332.7,250.7 332.8,250.8 332.9,250.7 332.9,250.8 333.0,250.8 333.1,249.2 333.2,250.2 333.3,250.4 333.4,250.6 333.5,250.8 333.6,250.2 333.6,249.7 333.7,250.4 333.8,250.5 333.9,250.7 334.0,250.2 334.1,250.2 334.2,250.3 334.3,250.0 334.3,250.6 334.4,250.7 334.5,249.9 334.6,250.2 334.7,250.1 334.8,250.8 334.9,250.0 335.0,249.9 335.0,250.4 335.1,250.7 335.2,250.3 335.3,250.7 335.4,250.7 335.5,250.0 335.6,250.6 335.7,250.9 335.7,250.4 335.8,250.4 335.9,250.6 336.0,250.8 336.1,250.6 336.2,250.7 336.3,250.2 336.4,249.7 336.4,250.5 336.5,250.0 336.6,250.6 336.7,249.9 336.8,250.5 336.9,250.7 337.0,250.9 337.1,250.4 337.1,250.1 337.2,249.8 337.3,250.0 337.4,250.4 337.5,249.6 337.6,250.7 337.7,250.1 337.8,250.6 337.8,250.6 337.9,249.9 338.0,249.8 338.1,250.7 338.2,249.7 338.3,249.8 338.4,250.6 338.5,250.4 338.5,250.9 338.6,251.0 338.7,250.3 338.8,250.5 338.9,250.6 339.0,250.3 339.1,250.7 339.2,250.3 339.2,249.9 339.3,249.5 339.4,250.5 339.5,250.7 339.6,250.6 339.7,250.4 339.8,250.3 339.9,250.8 339.9,249.8 340.0,249.7 340.1,250.4 340.2,250.6 340.3,250.4 340.4,249.7 340.5,250.1 340.5,250.2 340.6,250.9 340.7,250.7 340.8,250.6 340.9,250.9 341.0,249.3 341.1,250.6 341.2,250.2 341.2,250.3 341.3,250.6 341.4,250.5 341.5,250.8 341.6,250.2 341.7,251.0 341.8,250.9 341.9,251.0 341.9,250.8 342.0,250.0 342.1,250.4 342.2,250.5 342.3,250.3 342.4,250.7 342.5,250.8 342.6,250.0 342.6,250.9 342.7,250.7 342.8,249.8 342.9,250.1 343.0,250.4 343.1,250.9 343.2,250.0 343.3,250.5 343.3,250.4 343.4,250.6 343.5,250.3 343.6,250.7 343.7,250.2 343.8,249.2 343.9,250.6 344.0,250.9 344.0,250.6 344.1,250.7 344.2,250.2 344.3,250.5 344.4,250.3 344.5,250.6 344.6,250.7 344.7,250.5 344.7,250.2 344.8,251.0 344.9,249.8 345.0,250.7 345.1,251.0 345.2,249.8 345.3,249.3 345.4,250.0 345.4,250.4 345.5,250.2 345.6,250.5 345.7,250.5 345.8,250.8 345.9,250.2 346.0,250.5 346.1,250.8 346.1,250.7 346.2,250.3 346.3,250.8 346.4,249.7 346.5,249.4 346.6,250.3 346.7,249.3 346.8,250.3 346.8,250.7 346.9,251.0 347.0,250.8 347.1,249.8 347.2,250.8 347.3,250.6 347.4,250.2 347.5,250.6 347.5,250.4 347.6,250.1 347.7,250.5 347.8,250.4 347.9,250.6 348.0,250.9 348.1,250.3 348.2,250.4 348.2,250.7 348.3,250.5 348.4,250.6 348.5,250.2 348.6,249.4 348.7,250.1 348.8,250.5 348.9,249.3 348.9,250.8 349.0,250.4 349.1,250.8 349.2,250.6 349.3,250.0 349.4,250.0 349.5,250.4 349.6,250.8 349.6,250.3 349.7,250.8 349.8,250.5 349.9,250.7 350.0,249.9 350.1,250.0 350.2,250.6 350.3,250.8 350.3,250.9 350.4,251.0 350.5,250.5 350.6,249.5 350.7,250.5 350.8,250.7 350.9,250.5 350.9,250.3 351.0,250.7 351.1,250.8 351.2,251.1 351.3,250.5 351.4,250.6 351.5,250.7 351.6,250.4 351.6,250.7 351.7,250.4 351.8,250.1 351.9,250.4 352.0,250.4 352.1,249.9 352.2,250.4 352.3,250.7 352.3,250.3 352.4,250.8 352.5,250.8 352.6,250.9 352.7,250.5 352.8,250.8 352.9,250.6 353.0,250.6 353.0,250.7 353.1,250.2 353.2,250.2 353.3,250.7 353.4,250.0 353.5,251.0 353.6,250.1" fill="none" stroke="#ff0808" stroke-width="0.6" stroke-opacity="1" stroke-linejoin="round" filter="url(#bl)"/>
<line x1="23.2" y1="44.5" x2="23.2" y2="65.6" stroke="#4040ff" stroke-width="1"/>
<line x1="23.2" y1="63.7" x2="23.2" y2="131.1" stroke="#ff3030" stroke-width="1"/>
<rect x="269.3" y="24.7" width="87.6" height="33.0" fill="#fff" stroke="#6a6a6a" stroke-width="0.8"/>
<line x1="282.7" y1="33.9" x2="294" y2="33.9" stroke="#5050ff" stroke-width="1"/>
<text transform="translate(294.60,36.92) scale(0.672,1.000)" text-anchor="start" font-size="8.4" fill="#303030" stroke="#303030" stroke-width="0.3" font-family="Liberation Sans, Arial, sans-serif" >InceptionResnet-V2</text>
<line x1="282.7" y1="49.1" x2="294" y2="49.1" stroke="#ff5050" stroke-width="1"/>
<text transform="translate(294.60,52.12) scale(0.672,1.000)" text-anchor="start" font-size="8.4" fill="#303030" stroke="#303030" stroke-width="0.3" font-family="Liberation Sans, Arial, sans-serif" >VGG16</text>
<text transform="translate(184.50,314.50) scale(1.000,1.000)" text-anchor="middle" font-size="19.5" fill="#111111" stroke="#111111" stroke-width="0.2" font-family="Liberation Serif, Times New Roman, serif" >(a)</text>
<line x1="414.5" y1="10.5" x2="762.2" y2="10.5" stroke="#707070" stroke-width="1"/>
<line x1="414.5" y1="255" x2="762.2" y2="255" stroke="#9a9a9a" stroke-width="1"/>
<line x1="414.5" y1="10.5" x2="414.5" y2="255" stroke="#d8d8d8" stroke-width="1"/>
<line x1="762.2" y1="10.5" x2="762.2" y2="255" stroke="#d0d0d0" stroke-width="1"/>
<line x1="457.8" y1="10.5" x2="457.8" y2="14.5" stroke="#505050" stroke-width="0.8"/>
<text transform="translate(457.80,270.60) scale(0.700,1.000)" text-anchor="middle" font-size="11" fill="#404040" stroke="#404040" stroke-width="0.3" font-family="Liberation Sans, Arial, sans-serif" >500</text>
<line x1="501.3" y1="10.5" x2="501.3" y2="14.5" stroke="#cfcfcf" stroke-width="0.8"/>
<text transform="translate(501.30,270.60) scale(0.700,1.000)" text-anchor="middle" font-size="11" fill="#404040" stroke="#404040" stroke-width="0.3" font-family="Liberation Sans, Arial, sans-serif" >1000</text>
<line x1="544.8" y1="10.5" x2="544.8" y2="14.5" stroke="#cfcfcf" stroke-width="0.8"/>
<text transform="translate(544.80,270.60) scale(0.700,1.000)" text-anchor="middle" font-size="11" fill="#404040" stroke="#404040" stroke-width="0.3" font-family="Liberation Sans, Arial, sans-serif" >1500</text>
<line x1="588.3" y1="10.5" x2="588.3" y2="14.5" stroke="#cfcfcf" stroke-width="0.8"/>
<text transform="translate(588.30,270.60) scale(0.700,1.000)" text-anchor="middle" font-size="11" fill="#404040" stroke="#404040" stroke-width="0.3" font-family="Liberation Sans, Arial, sans-serif" >2000</text>
<line x1="631.8" y1="10.5" x2="631.8" y2="14.5" stroke="#cfcfcf" stroke-width="0.8"/>
<text transform="translate(631.80,270.60) scale(0.700,1.000)" text-anchor="middle" font-size="11" fill="#404040" stroke="#404040" stroke-width="0.3" font-family="Liberation Sans, Arial, sans-serif" >2500</text>
<line x1="675.3" y1="10.5" x2="675.3" y2="14.5" stroke="#707070" stroke-width="0.8"/>
<text transform="translate(675.30,270.60) scale(0.700,1.000)" text-anchor="middle" font-size="11" fill="#404040" stroke="#404040" stroke-width="0.3" font-family="Liberation Sans, Arial, sans-serif" >3000</text>
<line x1="718.8" y1="10.5" x2="718.8" y2="14.5" stroke="#cfcfcf" stroke-width="0.8"/>
<text transform="translate(718.80,270.60) scale(0.700,1.000)" text-anchor="middle" font-size="11" fill="#404040" stroke="#404040" stroke-width="0.3" font-family="Liberation Sans, Arial, sans-serif" >3500</text>
<line x1="743.2" y1="10.5" x2="743.2" y2="14.5" stroke="#cfcfcf" stroke-width="0.8"/>
<text transform="translate(743.16,270.60) scale(0.700,1.000)" text-anchor="middle" font-size="11" fill="#404040" stroke="#404040" stroke-width="0.3" font-family="Liberation Sans, Arial, sans-serif" >3780</text>
<text transform="translate(411.50,258.96) scale(0.700,1.000)" text-anchor="end" font-size="11" fill="#404040" stroke="#404040" stroke-width="0.3" font-family="Liberation Sans, Arial, sans-serif" >0</text>
<line x1="414.5" y1="214.2" x2="418.0" y2="214.2" stroke="#c8c8c8" stroke-width="0.8"/>
<line x1="758.7" y1="214.2" x2="762.2" y2="214.2" stroke="#b0b0b0" stroke-width="0.8"/>
<text transform="translate(411.50,218.21) scale(0.700,1.000)" text-anchor="end" font-size="11" fill="#404040" stroke="#404040" stroke-width="0.3" font-family="Liberation Sans, Arial, sans-serif" >0.5</text>
<line x1="414.5" y1="173.5" x2="418.0" y2="173.5" stroke="#c8c8c8" stroke-width="0.8"/>
<line x1="758.7" y1="173.5" x2="762.2" y2="173.5" stroke="#b0b0b0" stroke-width="0.8"/>
<text transform="translate(411.50,177.46) scale(0.700,1.000)" text-anchor="end" font-size="11" fill="#404040" stroke="#404040" stroke-width="0.3" font-family="Liberation Sans, Arial, sans-serif" >1</text>
<line x1="414.5" y1="132.8" x2="418.0" y2="132.8" stroke="#c8c8c8" stroke-width="0.8"/>
<line x1="758.7" y1="132.8" x2="762.2" y2="132.8" stroke="#b0b0b0" stroke-width="0.8"/>
<text transform="translate(411.50,136.71) scale(0.700,1.000)" text-anchor="end" font-size="11" fill="#404040" stroke="#404040" stroke-width="0.3" font-family="Liberation Sans, Arial, sans-serif" >1.5</text>
<line x1="414.5" y1="92.0" x2="418.0" y2="92.0" stroke="#c8c8c8" stroke-width="0.8"/>
<line x1="758.7" y1="92.0" x2="762.2" y2="92.0" stroke="#b0b0b0" stroke-width="0.8"/>
<text transform="translate(411.50,95.96) scale(0.700,1.000)" text-anchor="end" font-size="11" fill="#404040" stroke="#404040" stroke-width="0.3" font-family="Liberation Sans, Arial, sans-serif" >2</text>
<line x1="414.5" y1="51.2" x2="418.0" y2="51.2" stroke="#c8c8c8" stroke-width="0.8"/>
<line x1="758.7" y1="51.2" x2="762.2" y2="51.2" stroke="#b0b0b0" stroke-width="0.8"/>
<text transform="translate(411.50,55.21) scale(0.700,1.000)" text-anchor="end" font-size="11" fill="#404040" stroke="#404040" stroke-width="0.3" font-family="Liberation Sans, Arial, sans-serif" >2.5</text>
<text transform="translate(411.50,14.46) scale(0.700,1.000)" text-anchor="end" font-size="11" fill="#404040" stroke="#404040" stroke-width="0.3" font-family="Liberation Sans, Arial, sans-serif" >3</text>
<text transform="translate(588.40,282.50) scale(0.720,1.000)" text-anchor="middle" font-size="11.7" fill="#404040" stroke="#404040" stroke-width="0.3" font-family="Liberation Sans, Arial, sans-serif" >Image number</text>
<text transform="translate(399.60,130.80) rotate(-90) scale(1.060,0.720)" text-anchor="middle" font-size="12" fill="#404040" stroke="#404040" stroke-width="0.12" font-family="Liberation Sans, Arial, sans-serif" >Training Loss</text>
<polyline points="414.3,100.2 414.4,109.4 414.5,117.6 414.6,127.3 414.6,135.1 414.7,135.6 414.8,149.6 414.9,156.0 415.0,150.6 415.1,162.4 415.2,171.3 415.3,172.3 415.3,172.2 415.4,181.4 415.5,185.2 415.6,176.9 415.7,182.5 415.8,188.4 415.9,182.8 416.0,192.1 416.0,180.9 416.1,201.6 416.2,198.1 416.3,201.5 416.4,205.7 416.5,202.5 416.6,210.3 416.6,198.6 416.7,197.4 416.8,215.1 416.9,211.8 417.0,216.2 417.1,218.9 417.2,201.7 417.3,217.0 417.3,221.8 417.4,212.7 417.5,223.3 417.6,206.0 417.7,225.1 417.8,227.0 417.9,227.0 418.0,225.9 418.0,224.2 418.1,210.3 418.2,219.2 418.3,229.0 418.4,232.6 418.5,232.7 418.6,209.0 418.7,229.3 418.7,223.0 418.8,235.4 418.9,235.8 419.0,218.2 419.1,227.9 419.2,234.6 419.3,234.8 419.3,237.5 419.4,237.3 419.5,238.4 419.6,221.1 419.7,233.6 419.8,239.0 419.9,226.0 420.0,239.0 420.0,240.2 420.1,231.7 420.2,220.9 420.3,241.2 420.4,225.3 420.5,240.8 420.6,241.8 420.7,242.3 420.7,240.4 420.8,229.6 420.9,237.0 421.0,225.2 421.1,242.3 421.2,241.3 421.3,242.3 421.3,220.5 421.4,222.5 421.5,241.7 421.6,240.1 421.7,242.6 421.8,231.5 421.9,245.4 422.0,245.5 422.0,241.8 422.1,244.5 422.2,228.6 422.3,232.8 422.4,239.2 422.5,236.0 422.6,235.1 422.7,232.1 422.7,226.1 422.8,246.8 422.9,237.9 423.0,247.2 423.1,242.9 423.2,232.7 423.3,228.4 423.3,233.9 423.4,247.9 423.5,244.9 423.6,247.4 423.7,224.1 423.8,247.6 423.9,246.8 424.0,245.2 424.0,248.2 424.1,230.3 424.2,238.8 424.3,247.8 424.4,242.6 424.5,248.4 424.6,239.8 424.7,247.4 424.7,248.6 424.8,248.4 424.9,241.5 425.0,239.3 425.1,246.4 425.2,239.3 425.3,246.1 425.3,248.6 425.4,246.7 425.5,245.5 425.6,230.0 425.7,248.8 425.8,249.0 425.9,242.0 426.0,228.1 426.0,230.6 426.1,238.2 426.2,249.3 426.3,234.8 426.4,239.0 426.5,249.1 426.6,244.7 426.7,249.6 426.7,235.3 426.8,238.2 426.9,235.3 427.0,236.9 427.1,248.2 427.2,236.1 427.3,248.5 427.4,249.5 427.4,246.6 427.5,244.6 427.6,248.2 427.7,242.1 427.8,242.2 427.9,248.9 428.0,241.8 428.0,247.4 428.1,238.6 428.2,248.5 428.3,236.6 428.4,246.7 428.5,243.8 428.6,240.7 428.7,244.7 428.7,249.1 428.8,230.2 428.9,250.3 429.0,248.3 429.1,244.3 429.2,250.6 429.3,250.2 429.4,237.4 429.4,237.9 429.5,242.3 429.6,233.9 429.7,239.0 429.8,249.0 429.9,242.3 430.0,248.5 430.0,239.4 430.1,248.0 430.2,250.5 430.3,235.4 430.4,241.4 430.5,239.9 430.6,244.8 430.7,238.8 430.7,247.1 430.8,244.8 430.9,251.2 431.0,245.1 431.1,238.1 431.2,241.4 431.3,238.6 431.4,246.5 431.4,236.1 431.5,251.2 431.6,236.4 431.7,248.8 431.8,251.3 431.9,244.1 432.0,247.5 432.0,248.0 432.1,237.6 432.2,251.3 432.3,244.3 432.4,248.4 432.5,246.4 432.6,247.0 432.7,251.4 432.7,246.8 432.8,237.7 432.9,251.3 433.0,251.8 433.1,251.8 433.2,247.9 433.3,234.2 433.4,251.9 433.4,233.7 433.5,246.7 433.6,251.7 433.7,248.8 433.8,251.3 433.9,242.7 434.0,246.7 434.0,250.6 434.1,250.9 434.2,238.5 434.3,241.5 434.4,248.8 434.5,249.3 434.6,242.5 434.7,235.4 434.7,252.2 434.8,251.8 434.9,250.0 435.0,247.8 435.1,252.3 435.2,252.3 435.3,251.5 435.4,249.8 435.4,242.9 435.5,246.0 435.6,252.4 435.7,252.4 435.8,249.0 435.9,239.3 436.0,238.2 436.1,250.3 436.1,239.1 436.2,237.8 436.3,249.8 436.4,243.1 436.5,250.3 436.6,252.2 436.7,247.0 436.7,252.5 436.8,245.2 436.9,241.6 437.0,238.5 437.1,249.3 437.2,252.5 437.3,239.0 437.4,240.0 437.4,237.0 437.5,246.9 437.6,245.2 437.7,250.5 437.8,252.2 437.9,251.4 438.0,244.2 438.1,251.1 438.1,244.9 438.2,248.7 438.3,249.5 438.4,237.4 438.5,252.4 438.6,249.0 438.7,252.5 438.7,238.5 438.8,249.0 438.9,251.1 439.0,252.5 439.1,247.2 439.2,250.4 439.3,252.7 439.4,253.0 439.4,250.5 439.5,247.5 439.6,248.7 439.7,239.9 439.8,239.6 439.9,238.9 440.0,242.7 440.1,249.4 440.1,248.7 440.2,250.6 440.3,250.5 440.4,253.1 440.5,242.9 440.6,252.2 440.7,253.1 440.7,249.7 440.8,245.0 440.9,250.2 441.0,251.1 441.1,246.3 441.2,252.8 441.3,253.2 441.4,247.7 441.4,248.8 441.5,241.4 441.6,250.5 441.7,243.5 441.8,253.3 441.9,253.3 442.0,247.7 442.1,252.5 442.1,253.2 442.2,253.1 442.3,251.1 442.4,251.6 442.5,248.4 442.6,241.1 442.7,251.3 442.7,252.8 442.8,248.2 442.9,253.4 443.0,251.1 443.1,251.9 443.2,251.1 443.3,253.4 443.4,248.7 443.4,247.5 443.5,244.9 443.6,239.5 443.7,251.5 443.8,246.9 443.9,250.5 444.0,252.8 444.1,241.5 444.1,245.1 444.2,240.1 444.3,243.3 444.4,240.8 444.5,253.3 444.6,253.5 444.7,253.0 444.8,251.0 444.8,246.5 444.9,250.7 445.0,249.6 445.1,245.0 445.2,253.5 445.3,246.8 445.4,253.6 445.4,252.7 445.5,245.9 445.6,246.7 445.7,251.2 445.8,252.4 445.9,243.6 446.0,252.6 446.1,253.7 446.1,252.8 446.2,253.7 446.3,244.1 446.4,253.5 446.5,239.9 446.6,253.1 446.7,252.4 446.8,248.8 446.8,252.4 446.9,251.7 447.0,253.6 447.1,251.6 447.2,253.7 447.3,253.0 447.4,241.9 447.4,252.6 447.5,252.7 447.6,247.2 447.7,242.7 447.8,252.6 447.9,251.8 448.0,246.6 448.1,244.9 448.1,248.5 448.2,253.4 448.3,253.4 448.4,245.7 448.5,246.8 448.6,242.6 448.7,245.3 448.8,251.4 448.8,253.6 448.9,242.8 449.0,247.1 449.1,249.3 449.2,247.4 449.3,251.8 449.4,252.3 449.4,249.3 449.5,250.7 449.6,247.0 449.7,241.9 449.8,244.1 449.9,251.9 450.0,252.0 450.1,242.2 450.1,251.8 450.2,245.2 450.3,253.9 450.4,251.2 450.5,250.4 450.6,245.1 450.7,243.6 450.8,253.7 450.8,248.9 450.9,248.7 451.0,253.7 451.1,244.7 451.2,249.9 451.3,241.6 451.4,253.6 451.4,250.4 451.5,252.6 451.6,248.6 451.7,249.1 451.8,250.6 451.9,252.7 452.0,250.7 452.1,252.2 452.1,243.6 452.2,251.3 452.3,251.1 452.4,253.2 452.5,253.3 452.6,242.2 452.7,252.8 452.8,244.3 452.8,249.5 452.9,241.6 453.0,253.8 453.1,242.6 453.2,246.4 453.3,250.0 453.4,247.7 453.4,247.4 453.5,251.6 453.6,249.0 453.7,253.5 453.8,254.2 453.9,248.3 454.0,251.3 454.1,243.7 454.1,253.3 454.2,245.7 454.3,241.9 454.4,244.0 454.5,242.5 454.6,253.9 454.7,253.9 454.8,253.6 454.8,252.6 454.9,254.1 455.0,253.9 455.1,254.2 455.2,243.4 455.3,252.6 455.4,249.4 455.5,251.7 455.5,247.4 455.6,246.2 455.7,252.5 455.8,250.7 455.9,254.2 456.0,253.3 456.1,253.7 456.1,253.1 456.2,253.0 456.3,250.3 456.4,252.9 456.5,253.0 456.6,245.9 456.7,254.3 456.8,254.3 456.8,254.3 456.9,245.3 457.0,249.5 457.1,248.0 457.2,243.3 457.3,253.8 457.4,244.2 457.5,253.6 457.5,251.1 457.6,248.8 457.7,246.8 457.8,253.6 457.9,251.7 458.0,254.3 458.1,253.4 458.1,243.0 458.2,244.7 458.3,250.4 458.4,247.1 458.5,244.8 458.6,253.1 458.7,243.1 458.8,252.0 458.8,254.1 458.9,251.1 459.0,250.3 459.1,248.8 459.2,249.1 459.3,254.4 459.4,249.6 459.5,244.5 459.5,249.2 459.6,243.4 459.7,251.4 459.8,246.8 459.9,254.2 460.0,245.1 460.1,252.2 460.1,245.5 460.2,253.2 460.3,249.9 460.4,246.2 460.5,248.6 460.6,250.0 460.7,243.6 460.8,254.3 460.8,254.3 460.9,250.9 461.0,244.0 461.1,249.0 461.2,253.3 461.3,254.3 461.4,252.1 461.5,251.8 461.5,251.9 461.6,250.1 461.7,253.6 461.8,245.7 461.9,253.5 462.0,254.3 462.1,253.1 462.1,244.6 462.2,254.1 462.3,253.6 462.4,244.8 462.5,253.1 462.6,246.5 462.7,254.4 462.8,245.6 462.8,253.8 462.9,254.1 463.0,248.3 463.1,243.6 463.2,244.2 463.3,248.2 463.4,245.2 463.5,243.7 463.5,251.1 463.6,254.2 463.7,246.5 463.8,252.7 463.9,253.4 464.0,251.7 464.1,254.5 464.2,254.5 464.2,253.7 464.3,250.6 464.4,248.3 464.5,244.5 464.6,247.2 464.7,244.8 464.8,250.1 464.8,248.6 464.9,250.7 465.0,254.4 465.1,254.4 465.2,248.2 465.3,254.0 465.4,247.7 465.5,252.2 465.5,254.5 465.6,251.1 465.7,252.4 465.8,254.4 465.9,253.8 466.0,253.5 466.1,253.2 466.2,249.1 466.2,254.2 466.3,252.4 466.4,250.6 466.5,244.9 466.6,254.4 466.7,254.4 466.8,254.1 466.8,254.0 466.9,254.2 467.0,254.5 467.1,254.1 467.2,254.0 467.3,252.1 467.4,250.1 467.5,253.1 467.5,254.2 467.6,254.4 467.7,253.8 467.8,254.2 467.9,252.1 468.0,246.6 468.1,249.2 468.2,254.1 468.2,254.5 468.3,254.5 468.4,252.6 468.5,253.2 468.6,249.7 468.7,254.5 468.8,253.9 468.8,249.7 468.9,251.2 469.0,251.8 469.1,246.1 469.2,254.4 469.3,254.2 469.4,251.3 469.5,251.3 469.5,244.7 469.6,244.7 469.7,251.0 469.8,248.7 469.9,249.6 470.0,254.4 470.1,250.9 470.2,253.6 470.2,253.2 470.3,254.3 470.4,254.6 470.5,247.2 470.6,249.4 470.7,248.8 470.8,253.7 470.9,252.8 470.9,254.3 471.0,250.9 471.1,247.5 471.2,248.5 471.3,245.8 471.4,253.9 471.5,249.6 471.5,254.4 471.6,251.7 471.7,254.5 471.8,251.7 471.9,251.7 472.0,253.4 472.1,253.4 472.2,249.6 472.2,252.3 472.3,252.9 472.4,254.5 472.5,253.8 472.6,247.5 472.7,245.3 472.8,253.2 472.9,247.1 472.9,247.1 473.0,254.1 473.1,253.9 473.2,249.9 473.3,253.7 473.4,245.7 473.5,253.3 473.5,249.4 473.6,249.7 473.7,254.2 473.8,247.3 473.9,253.6 474.0,254.5 474.1,254.6 474.2,252.6 474.2,250.7 474.3,253.9 474.4,247.8 474.5,253.9 474.6,247.7 474.7,254.6 474.8,254.0 474.9,254.4 474.9,252.7 475.0,253.4 475.1,253.1 475.2,247.7 475.3,251.4 475.4,251.1 475.5,253.2 475.5,248.4 475.6,252.2 475.7,249.4 475.8,246.7 475.9,251.1 476.0,252.8 476.1,254.0 476.2,246.8 476.2,249.1 476.3,248.6 476.4,254.2 476.5,252.9 476.6,247.3 476.7,254.1 476.8,248.5 476.9,251.9 476.9,254.2 477.0,253.3 477.1,254.6 477.2,250.4 477.3,249.8 477.4,254.6 477.5,253.8 477.5,249.2 477.6,254.3 477.7,252.0 477.8,248.7 477.9,251.7 478.0,254.5 478.1,247.1 478.2,249.6 478.2,251.7 478.3,253.7 478.4,251.6 478.5,253.3 478.6,254.5 478.7,254.5 478.8,254.6 478.9,254.4 478.9,254.1 479.0,251.0 479.1,251.6 479.2,251.5 479.3,248.6 479.4,254.6 479.5,253.3 479.6,254.6 479.6,253.1 479.7,254.6 479.8,254.6 479.9,254.6 480.0,253.3 480.1,249.5 480.2,254.0 480.2,249.8 480.3,254.2 480.4,254.0 480.5,252.7 480.6,254.6 480.7,252.9 480.8,251.7 480.9,248.7 480.9,254.7 481.0,249.1 481.1,251.8 481.2,251.8 481.3,254.7 481.4,247.9 481.5,254.0 481.6,252.1 481.6,252.2 481.7,247.5 481.8,251.6 481.9,246.2 482.0,254.2 482.1,250.9 482.2,251.8 482.2,252.4 482.3,251.3 482.4,252.1 482.5,253.7 482.6,251.2 482.7,254.6 482.8,252.7 482.9,253.0 482.9,254.3 483.0,252.0 483.1,250.9 483.2,254.6 483.3,254.0 483.4,254.7 483.5,251.7 483.6,254.7 483.6,254.3 483.7,253.0 483.8,253.0 483.9,254.7 484.0,247.2 484.1,254.3 484.2,251.6 484.2,254.3 484.3,251.8 484.4,253.7 484.5,253.9 484.6,252.9 484.7,251.9 484.8,251.8 484.9,250.8 484.9,254.1 485.0,254.7 485.1,254.2 485.2,253.9 485.3,251.7 485.4,253.3 485.5,253.9 485.6,254.7 485.6,251.8 485.7,254.6 485.8,252.6 485.9,250.9 486.0,251.6 486.1,254.5 486.2,253.7 486.2,247.6 486.3,254.7 486.4,251.0 486.5,253.2 486.6,251.7 486.7,253.5 486.8,254.6 486.9,252.2 486.9,254.7 487.0,248.8 487.1,249.7 487.2,253.6 487.3,252.4 487.4,252.5 487.5,247.1 487.6,254.7 487.6,254.0 487.7,253.4 487.8,249.9 487.9,250.6 488.0,253.3 488.1,254.8 488.2,251.5 488.2,253.5 488.3,254.6 488.4,251.6 488.5,253.2 488.6,254.0 488.7,254.2 488.8,252.7 488.9,254.3 488.9,253.6 489.0,247.9 489.1,253.0 489.2,254.3 489.3,252.7 489.4,248.3 489.5,249.0 489.6,251.3 489.6,248.6 489.7,250.4 489.8,251.2 489.9,253.4 490.0,254.6 490.1,250.7 490.2,251.7 490.3,247.7 490.3,254.0 490.4,249.0 490.5,254.4 490.6,248.0 490.7,247.3 490.8,254.8 490.9,254.0 490.9,247.3 491.0,247.8 491.1,251.4 491.2,254.6 491.3,254.8 491.4,254.3 491.5,248.2 491.6,250.0 491.6,253.4 491.7,250.5 491.8,248.8 491.9,254.1 492.0,249.2 492.1,254.2 492.2,254.0 492.3,254.8 492.3,254.6 492.4,252.6 492.5,254.8 492.6,252.6 492.7,254.6 492.8,250.7 492.9,254.7 492.9,254.5 493.0,254.3 493.1,252.3 493.2,250.1 493.3,250.7 493.4,250.9 493.5,251.5 493.6,252.7 493.6,254.0 493.7,254.6 493.8,249.5 493.9,253.6 494.0,251.8 494.1,254.8 494.2,253.9 494.3,254.7 494.3,253.9 494.4,251.0 494.5,254.0 494.6,251.5 494.7,254.7 494.8,253.8 494.9,253.6 494.9,253.0 495.0,254.4 495.1,251.4 495.2,249.4 495.3,250.2 495.4,254.8 495.5,253.2 495.6,254.0 495.6,252.6 495.7,254.8 495.8,251.2 495.9,253.6 496.0,248.7 496.1,254.8 496.2,253.6 496.3,253.2 496.3,250.1 496.4,250.9 496.5,254.6 496.6,254.2 496.7,251.2 496.8,253.6 496.9,254.3 496.9,249.0 497.0,250.1 497.1,254.0 497.2,252.8 497.3,249.1 497.4,254.5 497.5,249.3 497.6,249.7 497.6,251.3 497.7,251.7 497.8,251.7 497.9,252.9 498.0,252.6 498.1,254.6 498.2,252.8 498.3,251.9 498.3,253.3 498.4,251.8 498.5,253.5 498.6,250.6 498.7,251.5 498.8,254.8 498.9,251.0 499.0,254.3 499.0,254.8 499.1,254.7 499.2,254.2 499.3,253.1 499.4,254.1 499.5,254.6 499.6,251.1 499.6,253.9 499.7,250.0 499.8,254.5 499.9,251.8 500.0,254.0 500.1,250.3 500.2,252.2 500.3,252.0 500.3,254.8 500.4,251.3 500.5,254.1 500.6,251.4 500.7,250.4 500.8,254.7 500.9,254.8 501.0,251.3 501.0,249.1 501.1,249.9 501.2,253.7 501.3,250.6 501.4,254.8 501.5,254.8 501.6,252.8 501.6,253.1 501.7,250.7 501.8,254.5 501.9,253.5 502.0,248.9 502.1,254.3 502.2,253.8 502.3,252.6 502.3,248.8 502.4,254.6 502.5,251.9 502.6,253.8 502.7,253.9 502.8,254.4 502.9,253.5 503.0,252.8 503.0,253.9 503.1,253.3 503.2,252.4 503.3,250.5 503.4,252.9 503.5,254.0 503.6,249.3 503.6,254.7 503.7,254.8 503.8,249.9 503.9,254.4 504.0,254.7 504.1,254.0 504.2,254.1 504.3,254.1 504.3,250.5 504.4,254.3 504.5,254.7 504.6,254.6 504.7,249.5 504.8,253.7 504.9,254.1 505.0,251.3 505.0,249.6 505.1,253.3 505.2,250.9 505.3,254.4 505.4,254.1 505.5,252.9 505.6,254.5 505.6,254.4 505.7,254.6 505.8,254.4 505.9,250.7 506.0,251.1 506.1,254.8 506.2,254.1 506.3,251.8 506.3,250.5 506.4,253.0 506.5,251.7 506.6,254.5 506.7,251.3 506.8,250.9 506.9,253.9 507.0,254.5 507.0,254.8 507.1,252.5 507.2,252.5 507.3,254.8 507.4,253.3 507.5,249.7 507.6,254.8 507.7,254.7 507.7,254.8 507.8,253.7 507.9,254.0 508.0,250.5 508.1,254.8 508.2,254.6 508.3,249.8 508.3,254.8 508.4,254.5 508.5,253.9 508.6,254.8 508.7,254.4 508.8,252.8 508.9,252.7 509.0,252.7 509.0,252.4 509.1,252.7 509.2,254.8 509.3,252.4 509.4,252.9 509.5,254.6 509.6,253.8 509.7,254.5 509.7,250.5 509.8,254.4 509.9,254.7 510.0,251.2 510.1,251.5 510.2,250.7 510.3,252.2 510.3,253.9 510.4,253.6 510.5,253.1 510.6,252.8 510.7,249.8 510.8,254.4 510.9,251.5 511.0,254.8 511.0,254.6 511.1,249.8 511.2,254.5 511.3,253.4 511.4,250.1 511.5,252.4 511.6,253.5 511.7,252.1 511.7,249.5 511.8,249.9 511.9,254.7 512.0,254.7 512.1,254.4 512.2,254.7 512.3,251.6 512.3,251.0 512.4,254.7 512.5,254.8 512.6,254.3 512.7,252.2 512.8,251.5 512.9,253.7 513.0,252.6 513.0,250.2 513.1,250.5 513.2,254.8 513.3,252.0 513.4,251.5 513.5,250.3 513.6,253.9 513.7,254.7 513.7,253.6 513.8,254.1 513.9,254.0 514.0,251.3 514.1,252.5 514.2,252.3 514.3,252.5 514.4,254.7 514.4,254.8 514.5,254.0 514.6,250.9 514.7,252.5 514.8,251.4 514.9,252.7 515.0,251.5 515.0,249.4 515.1,252.1 515.2,250.8 515.3,249.7 515.4,251.9 515.5,251.3 515.6,254.8 515.7,254.8 515.7,250.2 515.8,254.5 515.9,254.3 516.0,254.8 516.1,252.7 516.2,254.9 516.3,251.4 516.4,254.4 516.4,251.9 516.5,250.4 516.6,252.3 516.7,253.9 516.8,252.8 516.9,250.9 517.0,252.1 517.0,254.5 517.1,254.9 517.2,250.7 517.3,252.8 517.4,254.8 517.5,253.2 517.6,253.0 517.7,254.4 517.7,250.7 517.8,254.6 517.9,254.7 518.0,254.3 518.1,254.2 518.2,250.7 518.3,252.6 518.4,254.8 518.4,254.0 518.5,254.8 518.6,252.2 518.7,251.0 518.8,254.8 518.9,253.5 519.0,254.5 519.0,254.4 519.1,251.9 519.2,249.8 519.3,254.4 519.4,253.3 519.5,254.4 519.6,254.8 519.7,253.0 519.7,254.7 519.8,252.4 519.9,251.9 520.0,254.8 520.1,253.0 520.2,254.6 520.3,251.8 520.4,254.4 520.4,252.4 520.5,252.7 520.6,253.1 520.7,254.6 520.8,251.2 520.9,254.2 521.0,251.8 521.0,253.7 521.1,253.8 521.2,252.2 521.3,254.3 521.4,251.8 521.5,253.8 521.6,252.0 521.7,252.4 521.7,250.3 521.8,254.0 521.9,254.2 522.0,249.8 522.1,253.5 522.2,254.0 522.3,252.3 522.4,254.5 522.4,250.2 522.5,252.0 522.6,252.7 522.7,254.4 522.8,251.5 522.9,250.6 523.0,251.7 523.0,250.6 523.1,254.8 523.2,252.1 523.3,251.0 523.4,253.7 523.5,254.8 523.6,253.4 523.7,254.6 523.7,254.9 523.8,250.4 523.9,251.4 524.0,252.8 524.1,252.0 524.2,252.6 524.3,253.8 524.4,254.8 524.4,254.4 524.5,253.6 524.6,253.2 524.7,254.4 524.8,254.8 524.9,254.3 525.0,254.7 525.1,250.5 525.1,254.6 525.2,254.1 525.3,253.4 525.4,254.5 525.5,253.6 525.6,253.3 525.7,254.9 525.7,250.4 525.8,253.4 525.9,254.8 526.0,250.1 526.1,254.7 526.2,252.2 526.3,253.7 526.4,254.5 526.4,254.2 526.5,253.7 526.6,254.2 526.7,254.6 526.8,254.0 526.9,253.9 527.0,252.5 527.1,254.7 527.1,254.9 527.2,251.5 527.3,254.8 527.4,252.9 527.5,253.4 527.6,250.2 527.7,254.7 527.7,251.0 527.8,254.8 527.9,254.7 528.0,252.8 528.1,254.7 528.2,253.2 528.3,252.7 528.4,254.8 528.4,251.8 528.5,254.0 528.6,250.3 528.7,254.9 528.8,254.8 528.9,253.0 529.0,254.6 529.1,254.1 529.1,250.9 529.2,254.3 529.3,254.9 529.4,254.8 529.5,253.4 529.6,252.0 529.7,252.1 529.7,253.8 529.8,254.6 529.9,254.8 530.0,254.6 530.1,254.7 530.2,251.0 530.3,254.1 530.4,254.8 530.4,252.9 530.5,253.9 530.6,254.9 530.7,250.3 530.8,250.6 530.9,254.5 531.0,251.6 531.1,253.9 531.1,252.7 531.2,252.9 531.3,252.4 531.4,254.0 531.5,254.8 531.6,251.8 531.7,254.0 531.8,254.0 531.8,252.2 531.9,252.7 532.0,250.3 532.1,254.2 532.2,253.0 532.3,254.8 532.4,254.8 532.4,254.6 532.5,254.5 532.6,253.9 532.7,254.6 532.8,250.8 532.9,254.0 533.0,254.2 533.1,251.1 533.1,251.9 533.2,252.1 533.3,251.0 533.4,252.4 533.5,254.4 533.6,250.6 533.7,254.9 533.8,251.2 533.8,254.1 533.9,254.4 534.0,253.8 534.1,254.1 534.2,251.5 534.3,251.9 534.4,252.3 534.4,254.6 534.5,254.0 534.6,254.8 534.7,252.4 534.8,254.9 534.9,254.2 535.0,254.8 535.1,251.6 535.1,251.1 535.2,254.5 535.3,251.4 535.4,254.7 535.5,252.6 535.6,254.6 535.7,254.0 535.8,253.2 535.8,254.3 535.9,254.7 536.0,253.3 536.1,252.1 536.2,250.4 536.3,254.4 536.4,254.6 536.4,254.9 536.5,254.7 536.6,254.9 536.7,254.6 536.8,252.5 536.9,254.8 537.0,253.0 537.1,254.5 537.1,254.6 537.2,253.8 537.3,254.0 537.4,254.0 537.5,254.8 537.6,253.5 537.7,251.3 537.8,254.9 537.8,254.8 537.9,253.4 538.0,254.4 538.1,254.6 538.2,250.6 538.3,254.5 538.4,251.2 538.4,253.2 538.5,254.9 538.6,254.6 538.7,254.9 538.8,253.6 538.9,251.3 539.0,254.9 539.1,254.9 539.1,254.9 539.2,254.6 539.3,254.8 539.4,250.8 539.5,252.3 539.6,251.1 539.7,253.4 539.8,252.0 539.8,252.7 539.9,254.5 540.0,253.0 540.1,254.5 540.2,254.0 540.3,252.0 540.4,254.7 540.5,254.7 540.5,251.8 540.6,254.0 540.7,254.8 540.8,254.5 540.9,254.5 541.0,251.5 541.1,253.9 541.1,251.3 541.2,253.9 541.3,251.1 541.4,251.3 541.5,253.5 541.6,252.3 541.7,254.5 541.8,254.8 541.8,253.3 541.9,254.9 542.0,254.0 542.1,253.3 542.2,252.4 542.3,251.5 542.4,254.7 542.5,251.7 542.5,253.9 542.6,253.3 542.7,254.0 542.8,251.9 542.9,254.5 543.0,254.9 543.1,252.0 543.1,253.1 543.2,252.8 543.3,254.8 543.4,254.7 543.5,253.3 543.6,252.6 543.7,253.1 543.8,253.4 543.8,253.1 543.9,254.8 544.0,254.0 544.1,254.4 544.2,252.7 544.3,253.8 544.4,252.8 544.5,252.9 544.5,251.5 544.6,251.9 544.7,254.9 544.8,253.1 544.9,254.3 545.0,254.8 545.1,254.0 545.1,252.0 545.2,252.3 545.3,254.8 545.4,254.7 545.5,252.9 545.6,251.1 545.7,254.9 545.8,254.9 545.8,252.9 545.9,253.4 546.0,252.2 546.1,254.7 546.2,253.9 546.3,252.3 546.4,254.3 546.5,254.2 546.5,254.9 546.6,252.3 546.7,254.1 546.8,254.3 546.9,253.2 547.0,252.0 547.1,251.9 547.1,254.4 547.2,253.4 547.3,254.3 547.4,252.1 547.5,252.4 547.6,253.2 547.7,252.2 547.8,253.9 547.8,253.6 547.9,254.8 548.0,252.9 548.1,254.6 548.2,253.7 548.3,254.9 548.4,254.3 548.5,253.4 548.5,253.3 548.6,253.7 548.7,254.6 548.8,253.2 548.9,253.2 549.0,253.5 549.1,254.3 549.1,254.8 549.2,253.7 549.3,254.9 549.4,251.6 549.5,254.4 549.6,254.6 549.7,254.1 549.8,254.8 549.8,251.9 549.9,251.2 550.0,252.3 550.1,253.6 550.2,251.5 550.3,254.5 550.4,254.1 550.5,254.8 550.5,254.2 550.6,251.6 550.7,253.2 550.8,253.8 550.9,253.8 551.0,253.4 551.1,253.5 551.2,254.1 551.2,253.9 551.3,254.9 551.4,254.2 551.5,253.2 551.6,254.7 551.7,254.6 551.8,252.5 551.8,254.8 551.9,254.7 552.0,252.4 552.1,254.8 552.2,254.6 552.3,251.8 552.4,254.3 552.5,252.4 552.5,252.7 552.6,254.9 552.7,254.7 552.8,251.8 552.9,254.5 553.0,254.3 553.1,251.7 553.2,254.8 553.2,251.4 553.3,253.4 553.4,253.4 553.5,254.9 553.6,253.4 553.7,252.4 553.8,254.3 553.8,254.9 553.9,254.8 554.0,254.9 554.1,254.3 554.2,252.5 554.3,254.9 554.4,254.3 554.5,254.3 554.5,254.3 554.6,253.9 554.7,253.9 554.8,254.7 554.9,252.6 555.0,253.9 555.1,254.4 555.2,251.6 555.2,253.1 555.3,254.8 555.4,251.5 555.5,253.7 555.6,254.5 555.7,254.7 555.8,254.9 555.8,254.7 555.9,254.6 556.0,254.5 556.1,251.4 556.2,253.7 556.3,254.8 556.4,254.4 556.5,254.2 556.5,254.9 556.6,254.1 556.7,254.0 556.8,252.0 556.9,254.2 557.0,253.2 557.1,253.3 557.2,254.8 557.2,253.8 557.3,254.2 557.4,254.8 557.5,254.9 557.6,251.4 557.7,254.9 557.8,252.2 557.9,254.4 557.9,254.9 558.0,251.7 558.1,253.4 558.2,254.3 558.3,252.5 558.4,253.2 558.5,254.3 558.5,253.1 558.6,253.0 558.7,254.8 558.8,253.1 558.9,252.0 559.0,253.3 559.1,252.7 559.2,251.6 559.2,252.7 559.3,254.1 559.4,253.8 559.5,252.9 559.6,253.5 559.7,254.9 559.8,254.9 559.9,254.6 559.9,252.6 560.0,254.7 560.1,254.6 560.2,252.6 560.3,254.8 560.4,254.6 560.5,254.7 560.5,254.9 560.6,253.1 560.7,254.6 560.8,254.3 560.9,254.5 561.0,254.9 561.1,252.5 561.2,254.8 561.2,254.6 561.3,253.2 561.4,254.5 561.5,254.1 561.6,254.5 561.7,253.9 561.8,254.6 561.9,254.2 561.9,254.9 562.0,254.9 562.1,254.1 562.2,252.7 562.3,251.7 562.4,252.8 562.5,254.0 562.5,253.6 562.6,253.4 562.7,253.2 562.8,251.7 562.9,254.5 563.0,254.3 563.1,252.9 563.2,254.8 563.2,254.9 563.3,252.3 563.4,254.9 563.5,252.3 563.6,252.2 563.7,254.8 563.8,253.1 563.9,254.6 563.9,254.7 564.0,251.8 564.1,252.4 564.2,253.1 564.3,254.3 564.4,251.8 564.5,253.9 564.5,251.9 564.6,253.3 564.7,254.9 564.8,252.9 564.9,252.7 565.0,252.5 565.1,253.7 565.2,254.9 565.2,252.6 565.3,254.3 565.4,254.8 565.5,254.8 565.6,254.8 565.7,252.8 565.8,254.9 565.9,252.3 565.9,254.9 566.0,253.3 566.1,254.7 566.2,254.1 566.3,254.8 566.4,252.4 566.5,254.8 566.5,254.2 566.6,253.8 566.7,254.3 566.8,254.8 566.9,254.6 567.0,252.3 567.1,254.9 567.2,254.9 567.2,252.4 567.3,252.5 567.4,253.5 567.5,254.2 567.6,252.2 567.7,254.4 567.8,254.9 567.9,254.3 567.9,254.1 568.0,254.0 568.1,252.6 568.2,254.9 568.3,252.7 568.4,254.1 568.5,253.3 568.6,254.4 568.6,254.6 568.7,254.6 568.8,254.7 568.9,254.3 569.0,253.9 569.1,252.9 569.2,254.8 569.2,254.3 569.3,254.1 569.4,252.9 569.5,253.4 569.6,253.8 569.7,253.6 569.8,254.3 569.9,253.0 569.9,252.9 570.0,254.0 570.1,254.9 570.2,254.4 570.3,254.7 570.4,254.8 570.5,254.7 570.6,253.0 570.6,254.6 570.7,254.4 570.8,254.5 570.9,254.8 571.0,254.0 571.1,254.4 571.2,252.4 571.2,253.8 571.3,252.2 571.4,252.8 571.5,254.2 571.6,254.9 571.7,254.8 571.8,254.9 571.9,253.4 571.9,254.9 572.0,253.7 572.1,254.6 572.2,254.3 572.3,253.3 572.4,254.7 572.5,254.8 572.6,254.7 572.6,252.4 572.7,254.1 572.8,254.7 572.9,254.8 573.0,254.9 573.1,254.6 573.2,253.9 573.2,254.3 573.3,253.1 573.4,252.2 573.5,254.0 573.6,254.6 573.7,253.2 573.8,254.9 573.9,253.3 573.9,252.8 574.0,253.3 574.1,254.9 574.2,254.0 574.3,253.2 574.4,254.5 574.5,253.0 574.6,254.8 574.6,254.2 574.7,254.1 574.8,253.3 574.9,254.5 575.0,254.7 575.1,253.6 575.2,254.9 575.2,254.6 575.3,254.3 575.4,253.3 575.5,254.4 575.6,254.1 575.7,253.7 575.8,253.7 575.9,252.5 575.9,254.3 576.0,254.1 576.1,254.9 576.2,254.8 576.3,254.7 576.4,254.8 576.5,254.2 576.6,254.8 576.6,254.1 576.7,253.2 576.8,254.9 576.9,254.8 577.0,254.3 577.1,254.9 577.2,254.9 577.3,254.1 577.3,254.5 577.4,252.8 577.5,254.1 577.6,253.5 577.7,254.6 577.8,254.6 577.9,253.1 577.9,254.0 578.0,252.8 578.1,254.8 578.2,254.9 578.3,253.8 578.4,254.9 578.5,254.9 578.6,254.5 578.6,253.7 578.7,254.6 578.8,253.5 578.9,254.4 579.0,254.7 579.1,254.2 579.2,254.0 579.3,254.9 579.3,254.1 579.4,254.8 579.5,252.6 579.6,254.2 579.7,254.8 579.8,254.9 579.9,254.8 579.9,254.7 580.0,254.1 580.1,253.8 580.2,253.7 580.3,254.4 580.4,254.0 580.5,254.2 580.6,254.7 580.6,254.8 580.7,254.5 580.8,253.8 580.9,254.9 581.0,254.0 581.1,254.9 581.2,254.8 581.3,253.9 581.3,253.4 581.4,253.5 581.5,253.8 581.6,254.8 581.7,252.6 581.8,254.1 581.9,253.0 581.9,252.9 582.0,254.8 582.1,252.7 582.2,254.9 582.3,254.0 582.4,254.8 582.5,254.9 582.6,254.2 582.6,254.8 582.7,253.5 582.8,254.4 582.9,254.7 583.0,254.9 583.1,253.8 583.2,254.0 583.3,253.4 583.3,254.6 583.4,253.0 583.5,254.9 583.6,253.0 583.7,253.6 583.8,254.9 583.9,252.7 584.0,254.9 584.0,253.7 584.1,254.8 584.2,253.9 584.3,253.4 584.4,254.9 584.5,254.7 584.6,253.1 584.6,254.4 584.7,254.9 584.8,254.9 584.9,254.9 585.0,254.9 585.1,254.6 585.2,253.6 585.3,254.5 585.3,254.9 585.4,254.6 585.5,254.4 585.6,254.5 585.7,254.0 585.8,253.9 585.9,253.7 586.0,254.3 586.0,254.9 586.1,253.6 586.2,253.6 586.3,253.8 586.4,254.5 586.5,253.2 586.6,254.9 586.6,253.8 586.7,254.2 586.8,253.9 586.9,254.9 587.0,253.0 587.1,254.9 587.2,254.9 587.3,254.4 587.3,254.2 587.4,254.9 587.5,254.7 587.6,253.2 587.7,254.7 587.8,254.5 587.9,254.9 588.0,254.3 588.0,253.9 588.1,253.8 588.2,254.8 588.3,254.6 588.4,254.0 588.5,253.0 588.6,253.7 588.6,254.8 588.7,254.9 588.8,254.7 588.9,254.3 589.0,254.8 589.1,253.7 589.2,254.8 589.3,254.9 589.3,254.2 589.4,253.7 589.5,254.8 589.6,254.7 589.7,254.8 589.8,254.9 589.9,254.0 590.0,254.9 590.0,254.2 590.1,254.1 590.2,254.4 590.3,254.9 590.4,254.9 590.5,254.4 590.6,254.4 590.6,254.9 590.7,254.9 590.8,253.7 590.9,254.7 591.0,253.9 591.1,254.8 591.2,254.8 591.3,253.3 591.3,254.8 591.4,254.6 591.5,254.4 591.6,253.9 591.7,254.7 591.8,254.1 591.9,254.8 592.0,254.0 592.0,254.9 592.1,254.8 592.2,254.9 592.3,254.9 592.4,253.8 592.5,254.5 592.6,253.7 592.6,253.0 592.7,254.8 592.8,253.7 592.9,253.0 593.0,254.7 593.1,254.9 593.2,254.5 593.3,254.3 593.3,254.0 593.4,254.3 593.5,254.7 593.6,254.9 593.7,254.7 593.8,254.5 593.9,254.9 594.0,254.7 594.0,253.4 594.1,254.6 594.2,254.9 594.3,254.0 594.4,254.7 594.5,254.4 594.6,254.6 594.7,254.9 594.7,253.8 594.8,254.3 594.9,253.0 595.0,254.9 595.1,254.3 595.2,254.6 595.3,254.5 595.3,253.9 595.4,254.8 595.5,254.6 595.6,254.9 595.7,254.3 595.8,254.5 595.9,254.9 596.0,254.8 596.0,254.6 596.1,254.4 596.2,254.9 596.3,254.2 596.4,253.6 596.5,254.7 596.6,254.9 596.7,254.9 596.7,253.8 596.8,254.4 596.9,254.9 597.0,254.9 597.1,253.6 597.2,254.0 597.3,254.0 597.3,254.9 597.4,253.0 597.5,254.8 597.6,254.7 597.7,254.8 597.8,253.2 597.9,254.1 598.0,254.3 598.0,254.6 598.1,253.9 598.2,254.5 598.3,254.5 598.4,254.9 598.5,253.6 598.6,254.9 598.7,253.3 598.7,253.3 598.8,254.4 598.9,254.9 599.0,254.8 599.1,254.9 599.2,254.0 599.3,254.7 599.3,253.1 599.4,254.7 599.5,254.7 599.6,254.0 599.7,253.4 599.8,254.4 599.9,254.9 600.0,254.9 600.0,253.9 600.1,253.8 600.2,253.0 600.3,254.3 600.4,253.7 600.5,254.0 600.6,254.3 600.7,253.7 600.7,254.8 600.8,254.9 600.9,254.7 601.0,254.6 601.1,253.2 601.2,253.6 601.3,253.9 601.4,253.4 601.4,254.6 601.5,253.1 601.6,253.4 601.7,254.9 601.8,254.6 601.9,254.7 602.0,254.8 602.0,253.3 602.1,254.6 602.2,253.5 602.3,254.2 602.4,254.9 602.5,254.6 602.6,253.8 602.7,254.7 602.7,254.8 602.8,254.9 602.9,254.5 603.0,253.2 603.1,254.9 603.2,253.4 603.3,254.2 603.4,254.8 603.4,253.4 603.5,253.3 603.6,253.1 603.7,254.5 603.8,254.6 603.9,254.1 604.0,253.4 604.0,254.7 604.1,254.7 604.2,254.6 604.3,254.9 604.4,253.6 604.5,254.5 604.6,254.5 604.7,254.2 604.7,253.7 604.8,254.0 604.9,254.7 605.0,254.8 605.1,254.7 605.2,254.4 605.3,253.7 605.4,254.9 605.4,254.2 605.5,253.6 605.6,254.3 605.7,254.6 605.8,254.5 605.9,254.4 606.0,254.2 606.0,254.9 606.1,253.8 606.2,254.4 606.3,254.8 606.4,253.4 606.5,254.6 606.6,253.8 606.7,254.8 606.7,254.4 606.8,254.9 606.9,254.8 607.0,254.7 607.1,254.9 607.2,253.9 607.3,254.5 607.4,254.7 607.4,254.3 607.5,254.8 607.6,254.6 607.7,254.3 607.8,254.2 607.9,254.6 608.0,253.9 608.0,253.5 608.1,253.2 608.2,254.3 608.3,253.2 608.4,253.3 608.5,254.1 608.6,254.9 608.7,254.2 608.7,254.4 608.8,254.0 608.9,254.8 609.0,253.1 609.1,254.7 609.2,253.1 609.3,254.8 609.4,254.5 609.4,254.1 609.5,254.8 609.6,254.6 609.7,254.1 609.8,253.9 609.9,253.4 610.0,254.4 610.0,253.2 610.1,254.8 610.2,254.2 610.3,253.9 610.4,254.9 610.5,253.8 610.6,253.7 610.7,254.3 610.7,253.4 610.8,254.0 610.9,254.7 611.0,253.7 611.1,254.4 611.2,254.1 611.3,253.2 611.4,254.0 611.4,253.8 611.5,253.7 611.6,254.8 611.7,254.9 611.8,254.9 611.9,254.5 612.0,253.2 612.1,254.6 612.1,253.4 612.2,254.8 612.3,254.9 612.4,254.6 612.5,253.6 612.6,253.2 612.7,254.4 612.7,254.7 612.8,253.8 612.9,254.6 613.0,254.8 613.1,253.9 613.2,254.9 613.3,253.8 613.4,253.3 613.4,254.9 613.5,253.8 613.6,254.9 613.7,254.9 613.8,254.8 613.9,253.1 614.0,254.9 614.1,254.5 614.1,254.6 614.2,254.9 614.3,253.2 614.4,254.8 614.5,253.5 614.6,254.4 614.7,254.0 614.7,253.9 614.8,254.1 614.9,253.8 615.0,253.5 615.1,254.9 615.2,254.9 615.3,254.6 615.4,254.9 615.4,254.3 615.5,253.4 615.6,254.5 615.7,254.9 615.8,254.9 615.9,254.4 616.0,254.0 616.1,253.8 616.1,253.9 616.2,254.5 616.3,253.6 616.4,254.4 616.5,254.1 616.6,254.9 616.7,254.5 616.7,254.9 616.8,254.8 616.9,254.8 617.0,254.3 617.1,254.9 617.2,254.0 617.3,254.6 617.4,254.8 617.4,253.3 617.5,254.2 617.6,254.7 617.7,254.9 617.8,254.5 617.9,253.9 618.0,254.5 618.1,254.8 618.1,254.9 618.2,254.8 618.3,253.8 618.4,254.9 618.5,253.3 618.6,254.0 618.7,254.6 618.8,254.9 618.8,254.5 618.9,253.4 619.0,254.9 619.1,254.8 619.2,254.9 619.3,254.0 619.4,253.4 619.4,254.4 619.5,254.8 619.6,253.3 619.7,254.3 619.8,253.3 619.9,254.7 620.0,254.9 620.1,254.9 620.1,254.8 620.2,254.6 620.3,253.9 620.4,254.5 620.5,254.8 620.6,253.5 620.7,254.4 620.8,254.3 620.8,253.8 620.9,254.2 621.0,254.8 621.1,253.4 621.2,254.9 621.3,254.9 621.4,254.2 621.4,254.3 621.5,254.8 621.6,254.1 621.7,254.9 621.8,254.5 621.9,253.4 622.0,253.6 622.1,254.3 622.1,253.9 622.2,254.2 622.3,254.8 622.4,253.7 622.5,254.3 622.6,254.3 622.7,253.4 622.8,254.4 622.8,254.7 622.9,254.6 623.0,254.4 623.1,253.6 623.2,253.7 623.3,254.7 623.4,254.5 623.4,254.9 623.5,254.2 623.6,253.8 623.7,254.9 623.8,254.2 623.9,254.9 624.0,253.7 624.1,254.0 624.1,253.5 624.2,254.8 624.3,254.9 624.4,254.4 624.5,254.9 624.6,253.8 624.7,254.8 624.8,254.9 624.8,254.9 624.9,254.1 625.0,254.9 625.1,254.6 625.2,254.9 625.3,253.9 625.4,254.9 625.4,254.9 625.5,253.9 625.6,254.5 625.7,254.9 625.8,253.3 625.9,254.7 626.0,254.6 626.1,254.0 626.1,254.5 626.2,253.8 626.3,254.4 626.4,254.8 626.5,254.4 626.6,253.8 626.7,254.8 626.8,254.3 626.8,254.4 626.9,254.1 627.0,254.7 627.1,254.8 627.2,254.2 627.3,253.7 627.4,254.6 627.5,254.9 627.5,253.9 627.6,254.5 627.7,254.2 627.8,254.9 627.9,253.9 628.0,254.7 628.1,253.6 628.1,254.8 628.2,254.9 628.3,254.8 628.4,254.1 628.5,254.1 628.6,253.8 628.7,254.8 628.8,254.3 628.8,254.9 628.9,254.8 629.0,254.9 629.1,254.3 629.2,253.6 629.3,254.3 629.4,254.3 629.5,253.6 629.5,254.7 629.6,254.4 629.7,253.9 629.8,254.9 629.9,254.1 630.0,254.9 630.1,254.7 630.1,254.9 630.2,254.6 630.3,254.9 630.4,254.9 630.5,254.6 630.6,254.7 630.7,254.1 630.8,254.9 630.8,254.3 630.9,254.9 631.0,254.5 631.1,254.9 631.2,253.6 631.3,254.5 631.4,254.6 631.5,254.9 631.5,253.9 631.6,254.8 631.7,254.6 631.8,254.1 631.9,253.9 632.0,254.7 632.1,254.9 632.1,253.4 632.2,254.8 632.3,254.9 632.4,254.3 632.5,253.7 632.6,254.9 632.7,254.9 632.8,254.2 632.8,254.4 632.9,254.8 633.0,254.8 633.1,254.0 633.2,254.9 633.3,254.8 633.4,254.7 633.5,254.0 633.5,254.8 633.6,254.9 633.7,254.1 633.8,254.2 633.9,254.9 634.0,254.1 634.1,254.3 634.1,254.7 634.2,254.4 634.3,254.5 634.4,253.9 634.5,253.5 634.6,254.7 634.7,254.9 634.8,254.7 634.8,254.4 634.9,254.8 635.0,254.9 635.1,254.8 635.2,253.8 635.3,254.1 635.4,254.9 635.5,254.8 635.5,254.8 635.6,254.9 635.7,253.8 635.8,254.8 635.9,254.4 636.0,254.7 636.1,254.9 636.1,254.9 636.2,254.2 636.3,254.3 636.4,254.5 636.5,254.9 636.6,254.7 636.7,254.5 636.8,254.8 636.8,254.4 636.9,253.8 637.0,254.9 637.1,253.6 637.2,254.5 637.3,253.5 637.4,253.5 637.5,254.9 637.5,254.2 637.6,254.8 637.7,254.3 637.8,253.7 637.9,254.6 638.0,254.3 638.1,254.2 638.2,254.9 638.2,254.6 638.3,254.8 638.4,254.6 638.5,254.0 638.6,254.9 638.7,254.5 638.8,254.5 638.8,254.7 638.9,253.8 639.0,254.7 639.1,253.9 639.2,254.9 639.3,254.6 639.4,254.9 639.5,253.8 639.5,254.3 639.6,254.9 639.7,254.7 639.8,254.9 639.9,253.7 640.0,253.7 640.1,253.7 640.2,254.4 640.2,254.8 640.3,254.6 640.4,254.3 640.5,254.6 640.6,254.9 640.7,254.5 640.8,254.9 640.8,254.8 640.9,253.9 641.0,254.4 641.1,254.0 641.2,254.2 641.3,254.3 641.4,254.8 641.5,254.2 641.5,254.9 641.6,254.9 641.7,254.7 641.8,254.9 641.9,254.2 642.0,254.8 642.1,254.9 642.2,254.0 642.2,253.6 642.3,254.2 642.4,253.6 642.5,254.0 642.6,253.6 642.7,254.2 642.8,254.0 642.8,254.0 642.9,254.9 643.0,254.8 643.1,254.4 643.2,254.8 643.3,253.8 643.4,254.9 643.5,254.9 643.5,254.8 643.6,254.7 643.7,253.9 643.8,254.9 643.9,253.9 644.0,253.5 644.1,254.9 644.2,253.6 644.2,254.3 644.3,254.9 644.4,253.9 644.5,254.9 644.6,254.7 644.7,254.8 644.8,254.7 644.9,254.9 644.9,254.7 645.0,254.4 645.1,254.6 645.2,254.5 645.3,253.8 645.4,253.9 645.5,254.9 645.5,254.1 645.6,254.0 645.7,253.7 645.8,254.7 645.9,253.7 646.0,254.5 646.1,254.6 646.2,254.5 646.2,254.7 646.3,254.2 646.4,254.5 646.5,253.8 646.6,254.6 646.7,254.9 646.8,254.9 646.9,254.7 646.9,254.6 647.0,254.0 647.1,254.4 647.2,254.9 647.3,254.8 647.4,254.5 647.5,254.0 647.5,254.2 647.6,254.3 647.7,254.8 647.8,254.5 647.9,254.8 648.0,254.9 648.1,254.1 648.2,254.3 648.2,253.5 648.3,254.1 648.4,254.8 648.5,254.9 648.6,254.7 648.7,254.8 648.8,254.5 648.9,254.7 648.9,254.9 649.0,254.9 649.1,254.7 649.2,254.4 649.3,254.9 649.4,254.9 649.5,254.8 649.5,254.1 649.6,254.1 649.7,254.6 649.8,254.9 649.9,253.7 650.0,253.9 650.1,254.8 650.2,254.9 650.2,254.6 650.3,254.9 650.4,254.7 650.5,254.7 650.6,254.8 650.7,253.8 650.8,254.7 650.9,254.9 650.9,254.5 651.0,253.8 651.1,254.8 651.2,254.6 651.3,254.7 651.4,254.3 651.5,254.8 651.5,254.8 651.6,253.6 651.7,254.0 651.8,254.2 651.9,254.3 652.0,253.7 652.1,254.9 652.2,254.7 652.2,254.4 652.3,254.9 652.4,253.6 652.5,254.3 652.6,254.1 652.7,253.6 652.8,254.5 652.9,253.8 652.9,254.7 653.0,253.8 653.1,254.6 653.2,254.1 653.3,254.8 653.4,254.6 653.5,254.5 653.5,254.6 653.6,253.8 653.7,254.6 653.8,253.9 653.9,254.9 654.0,254.9 654.1,254.9 654.2,254.9 654.2,254.5 654.3,254.9 654.4,254.3 654.5,253.9 654.6,253.8 654.7,254.9 654.8,254.8 654.9,254.7 654.9,254.9 655.0,254.3 655.1,254.6 655.2,254.7 655.3,254.9 655.4,254.9 655.5,253.9 655.6,254.4 655.6,254.8 655.7,253.9 655.8,254.9 655.9,254.7 656.0,254.9 656.1,254.1 656.2,253.9 656.2,254.8 656.3,254.0 656.4,253.7 656.5,254.8 656.6,253.7 656.7,254.8 656.8,254.3 656.9,254.5 656.9,254.8 657.0,254.4 657.1,254.9 657.2,254.6 657.3,254.6 657.4,254.4 657.5,254.1 657.6,253.9 657.6,254.1 657.7,253.9 657.8,254.7 657.9,254.9 658.0,254.4 658.1,254.9 658.2,253.7 658.2,254.6 658.3,254.8 658.4,254.9 658.5,254.0 658.6,254.0 658.7,254.9 658.8,254.1 658.9,254.9 658.9,254.3 659.0,254.5 659.1,254.4 659.2,254.9 659.3,254.1 659.4,254.1 659.5,254.0 659.6,254.7 659.6,254.8 659.7,254.5 659.8,254.3 659.9,254.2 660.0,254.7 660.1,254.4 660.2,254.4 660.2,254.5 660.3,254.3 660.4,254.8 660.5,254.8 660.6,254.8 660.7,254.1 660.8,253.7 660.9,254.8 660.9,254.4 661.0,254.5 661.1,253.9 661.2,254.9 661.3,254.4 661.4,253.9 661.5,253.7 661.6,254.7 661.6,254.6 661.7,254.0 661.8,253.8 661.9,254.8 662.0,253.9 662.1,254.9 662.2,254.9 662.2,254.9 662.3,254.9 662.4,254.9 662.5,254.8 662.6,254.8 662.7,253.7 662.8,254.1 662.9,254.9 662.9,254.9 663.0,254.3 663.1,254.5 663.2,254.7 663.3,254.7 663.4,254.2 663.5,254.6 663.6,254.3 663.6,254.9 663.7,254.9 663.8,254.9 663.9,254.5 664.0,254.5 664.1,254.0 664.2,253.9 664.3,254.1 664.3,254.8 664.4,254.9 664.5,253.9 664.6,253.8 664.7,254.9 664.8,254.9 664.9,254.9 664.9,254.8 665.0,254.3 665.1,254.7 665.2,254.4 665.3,254.1 665.4,254.9 665.5,254.8 665.6,253.7 665.6,254.6 665.7,254.6 665.8,254.5 665.9,254.5 666.0,254.3 666.1,254.0 666.2,254.4 666.3,254.4 666.3,254.5 666.4,254.8 666.5,254.2 666.6,254.9 666.7,254.8 666.8,254.8 666.9,254.6 666.9,254.1 667.0,254.8 667.1,254.5 667.2,254.7 667.3,254.7 667.4,253.8 667.5,254.4 667.6,254.9 667.6,254.0 667.7,254.6 667.8,253.8 667.9,254.9 668.0,253.8 668.1,254.4 668.2,254.4 668.3,254.6 668.3,253.8 668.4,254.1 668.5,254.6 668.6,254.7 668.7,254.7 668.8,254.6 668.9,254.9 668.9,254.9 669.0,254.4 669.1,254.2 669.2,253.9 669.3,254.9 669.4,254.8 669.5,254.9 669.6,254.4 669.6,254.8 669.7,254.8 669.8,254.9 669.9,254.2 670.0,253.9 670.1,254.9 670.2,254.6 670.3,254.2 670.3,254.0 670.4,254.8 670.5,254.9 670.6,254.2 670.7,254.3 670.8,254.7 670.9,253.8 671.0,254.3 671.0,254.5 671.1,254.5 671.2,254.9 671.3,253.8 671.4,253.8 671.5,254.9 671.6,254.2 671.6,254.5 671.7,254.7 671.8,254.5 671.9,254.9 672.0,254.8 672.1,254.8 672.2,254.4 672.3,254.6 672.3,254.9 672.4,254.8 672.5,254.7 672.6,254.8 672.7,254.2 672.8,254.1 672.9,253.9 673.0,253.9 673.0,254.6 673.1,254.6 673.2,254.5 673.3,254.6 673.4,254.9 673.5,254.9 673.6,254.2 673.6,254.3 673.7,254.8 673.8,254.9 673.9,254.5 674.0,254.1 674.1,254.9 674.2,254.4 674.3,254.9 674.3,254.8 674.4,254.7 674.5,254.9 674.6,254.3 674.7,254.9 674.8,254.6 674.9,254.4 675.0,254.1 675.0,254.6 675.1,254.9 675.2,254.2 675.3,253.9 675.4,254.9 675.5,254.0 675.6,254.5 675.6,254.5 675.7,254.7 675.8,254.9 675.9,254.5 676.0,254.0 676.1,254.9 676.2,254.6 676.3,254.5 676.3,254.0 676.4,254.9 676.5,254.8 676.6,254.9 676.7,254.8 676.8,254.0 676.9,254.9 677.0,254.8 677.0,254.2 677.1,254.3 677.2,254.0 677.3,254.9 677.4,254.9 677.5,254.9 677.6,254.6 677.6,254.4 677.7,254.9 677.8,254.5 677.9,254.9 678.0,253.9 678.1,254.6 678.2,254.9 678.3,254.1 678.3,254.6 678.4,254.2 678.5,254.6 678.6,254.0 678.7,254.8 678.8,253.9 678.9,254.9 679.0,254.8 679.0,254.9 679.1,253.8 679.2,254.9 679.3,254.8 679.4,254.7 679.5,254.9 679.6,254.0 679.6,254.2 679.7,254.6 679.8,254.7 679.9,254.9 680.0,254.9 680.1,254.7 680.2,254.5 680.3,254.1 680.3,254.9 680.4,254.1 680.5,254.4 680.6,254.9 680.7,254.9 680.8,254.9 680.9,253.9 681.0,254.9 681.0,254.9 681.1,254.4 681.2,254.8 681.3,253.9 681.4,254.4 681.5,254.0 681.6,254.4 681.7,254.3 681.7,254.7 681.8,254.7 681.9,254.2 682.0,254.9 682.1,254.9 682.2,254.0 682.3,254.8 682.3,254.6 682.4,254.7 682.5,254.3 682.6,254.2 682.7,254.9 682.8,254.2 682.9,254.8 683.0,254.6 683.0,254.7 683.1,254.1 683.2,254.7 683.3,254.2 683.4,253.9 683.5,254.5 683.6,254.2 683.7,254.0 683.7,254.9 683.8,254.7 683.9,254.0 684.0,254.3 684.1,254.1 684.2,254.5 684.3,254.8 684.3,254.2 684.4,254.8 684.5,254.5 684.6,254.9 684.7,254.7 684.8,254.7 684.9,254.9 685.0,254.9 685.0,254.0 685.1,253.8 685.2,254.9 685.3,254.8 685.4,254.4 685.5,254.9 685.6,254.9 685.7,254.0 685.7,254.8 685.8,253.9 685.9,254.6 686.0,254.5 686.1,254.6 686.2,254.6 686.3,254.8 686.3,254.5 686.4,254.7 686.5,254.1 686.6,254.8 686.7,254.9 686.8,254.1 686.9,254.6 687.0,254.9 687.0,254.2 687.1,254.8 687.2,254.3 687.3,254.4 687.4,254.8 687.5,254.5 687.6,254.7 687.7,254.9 687.7,253.9 687.8,254.8 687.9,254.8 688.0,254.1 688.1,254.4 688.2,254.9 688.3,254.5 688.3,254.9 688.4,254.3 688.5,254.5 688.6,254.4 688.7,254.6 688.8,254.8 688.9,254.4 689.0,254.7 689.0,254.3 689.1,254.9 689.2,254.8 689.3,254.9 689.4,254.6 689.5,254.5 689.6,254.9 689.7,253.9 689.7,254.8 689.8,254.9 689.9,254.3 690.0,254.9 690.1,254.9 690.2,254.8 690.3,254.7 690.4,254.9 690.4,254.8 690.5,254.9 690.6,254.8 690.7,254.2 690.8,254.8 690.9,254.5 691.0,254.9 691.0,254.9 691.1,254.8 691.2,254.9 691.3,254.7 691.4,254.4 691.5,254.7 691.6,254.9 691.7,254.8 691.7,254.2 691.8,254.9 691.9,254.8 692.0,254.4 692.1,254.9 692.2,254.0 692.3,254.9 692.4,254.9 692.4,254.7 692.5,254.6 692.6,254.6 692.7,254.8 692.8,254.2 692.9,254.1 693.0,254.7 693.0,254.2 693.1,254.2 693.2,254.9 693.3,254.9 693.4,254.9 693.5,254.9 693.6,254.3 693.7,254.8 693.7,254.9 693.8,254.6 693.9,254.8 694.0,254.9 694.1,254.7 694.2,254.2 694.3,254.4 694.4,253.9 694.4,254.7 694.5,253.9 694.6,254.8 694.7,254.7 694.8,254.3 694.9,254.7 695.0,254.9 695.0,254.4 695.1,254.0 695.2,254.8 695.3,254.7 695.4,254.8 695.5,254.4 695.6,254.7 695.7,254.9 695.7,254.0 695.8,254.9 695.9,254.2 696.0,254.1 696.1,254.9 696.2,254.9 696.3,254.5 696.4,254.5 696.4,254.9 696.5,254.7 696.6,254.9 696.7,254.7 696.8,254.6 696.9,254.0 697.0,254.8 697.0,254.9 697.1,253.9 697.2,254.5 697.3,254.9 697.4,254.9 697.5,254.8 697.6,254.9 697.7,254.8 697.7,254.8 697.8,254.0 697.9,254.2 698.0,254.4 698.1,254.9 698.2,254.2 698.3,254.7 698.4,254.1 698.4,254.9 698.5,254.9 698.6,254.9 698.7,254.2 698.8,253.9 698.9,254.3 699.0,254.8 699.1,254.9 699.1,253.9 699.2,254.9 699.3,254.2 699.4,254.7 699.5,254.8 699.6,254.7 699.7,254.9 699.7,254.9 699.8,254.1 699.9,254.7 700.0,254.4 700.1,254.8 700.2,254.7 700.3,254.2 700.4,254.5 700.4,254.7 700.5,254.7 700.6,253.9 700.7,254.9 700.8,254.7 700.9,254.9 701.0,254.9 701.1,254.9 701.1,254.3 701.2,254.7 701.3,254.6 701.4,254.8 701.5,254.8 701.6,254.7 701.7,254.2 701.7,254.9 701.8,254.9 701.9,254.9 702.0,254.7 702.1,254.7 702.2,254.4 702.3,253.9 702.4,254.0 702.4,254.9 702.5,254.7 702.6,254.6 702.7,254.2 702.8,254.6 702.9,254.9 703.0,254.9 703.1,254.8 703.1,254.5 703.2,254.9 703.3,254.7 703.4,254.8 703.5,253.9 703.6,254.4 703.7,253.9 703.7,254.6 703.8,254.7 703.9,253.9 704.0,254.7 704.1,254.6 704.2,254.9 704.3,254.9 704.4,254.8 704.4,254.9 704.5,254.7 704.6,254.1 704.7,254.9 704.8,254.9 704.9,254.6 705.0,254.8 705.1,254.9 705.1,254.3 705.2,254.0 705.3,254.3 705.4,254.2 705.5,254.3 705.6,253.9 705.7,254.9 705.8,254.1 705.8,254.4 705.9,254.0 706.0,254.2 706.1,254.6 706.2,254.5 706.3,254.9 706.4,254.8 706.4,254.9 706.5,254.7 706.6,254.2 706.7,254.8 706.8,254.1 706.9,254.9 707.0,254.5 707.1,254.9 707.1,254.5 707.2,254.3 707.3,254.1 707.4,254.3 707.5,254.9 707.6,254.4 707.7,254.8 707.8,254.6 707.8,254.9 707.9,254.7 708.0,254.5 708.1,254.9 708.2,254.6 708.3,254.1 708.4,254.6 708.4,254.8 708.5,254.9 708.6,254.7 708.7,254.8 708.8,254.4 708.9,254.3 709.0,254.4 709.1,254.3 709.1,254.3 709.2,254.4 709.3,254.9 709.4,254.6 709.5,254.8 709.6,254.9 709.7,254.5 709.8,254.9 709.8,254.4 709.9,254.6 710.0,254.9 710.1,254.7 710.2,254.6 710.3,254.9 710.4,254.0 710.4,254.0 710.5,254.9 710.6,254.4 710.7,254.7 710.8,254.2 710.9,254.0 711.0,254.7 711.1,254.5 711.1,254.8 711.2,254.5 711.3,253.9 711.4,254.8 711.5,254.9 711.6,253.9 711.7,254.9 711.8,254.4 711.8,254.6 711.9,254.7 712.0,254.0 712.1,254.9 712.2,254.9 712.3,254.2 712.4,254.9 712.4,254.8 712.5,254.9 712.6,254.7 712.7,254.3 712.8,254.0 712.9,254.9 713.0,254.9 713.1,254.3 713.1,254.0 713.2,254.9 713.3,254.5 713.4,254.5 713.5,254.6 713.6,254.5 713.7,254.8 713.8,254.1 713.8,254.9 713.9,254.0 714.0,254.0 714.1,254.2 714.2,254.8 714.3,254.0 714.4,254.9 714.5,254.7 714.5,254.7 714.6,254.9 714.7,253.9 714.8,254.9 714.9,254.7 715.0,254.9 715.1,254.8 715.1,254.2 715.2,254.4 715.3,254.8 715.4,254.5 715.5,254.9 715.6,254.5 715.7,254.1 715.8,254.9 715.8,254.8 715.9,254.8 716.0,254.9 716.1,254.0 716.2,254.4 716.3,254.5 716.4,254.5 716.5,254.4 716.5,254.8 716.6,254.9 716.7,254.9 716.8,254.9 716.9,254.9 717.0,254.3 717.1,254.8 717.1,254.8 717.2,254.3 717.3,253.9 717.4,254.9 717.5,254.6 717.6,254.7 717.7,254.9 717.8,254.8 717.8,254.3 717.9,254.8 718.0,254.6 718.1,254.7 718.2,254.9 718.3,254.2 718.4,254.1 718.5,254.2 718.5,254.7 718.6,254.7 718.7,254.4 718.8,253.9 718.9,254.7 719.0,254.8 719.1,254.7 719.1,254.6 719.2,254.5 719.3,254.0 719.4,254.6 719.5,254.2 719.6,254.7 719.7,254.7 719.8,254.1 719.8,254.8 719.9,254.8 720.0,254.6 720.1,254.9 720.2,254.9 720.3,254.6 720.4,254.5 720.5,253.9 720.5,254.9 720.6,254.9 720.7,254.4 720.8,254.1 720.9,254.9 721.0,254.8 721.1,254.4 721.1,254.5 721.2,254.1 721.3,254.5 721.4,254.0 721.5,254.8 721.6,254.3 721.7,254.6 721.8,254.8 721.8,254.4 721.9,254.2 722.0,254.6 722.1,254.4 722.2,254.7 722.3,254.2 722.4,254.8 722.5,254.5 722.5,254.6 722.6,254.6 722.7,254.1 722.8,254.4 722.9,254.6 723.0,254.4 723.1,254.4 723.1,254.8 723.2,254.8 723.3,254.5 723.4,254.9 723.5,254.2 723.6,254.3 723.7,254.5 723.8,254.8 723.8,253.9 723.9,254.4 724.0,254.2 724.1,254.4 724.2,254.6 724.3,254.8 724.4,254.9 724.5,254.2 724.5,254.5 724.6,254.9 724.7,254.9 724.8,254.7 724.9,254.5 725.0,254.3 725.1,254.7 725.2,254.9 725.2,254.5 725.3,254.9 725.4,254.9 725.5,254.8 725.6,254.6 725.7,254.9 725.8,254.9 725.8,254.4 725.9,254.7 726.0,254.7 726.1,254.7 726.2,254.9 726.3,254.0 726.4,254.1 726.5,254.5 726.5,254.9 726.6,254.4 726.7,254.3 726.8,254.8 726.9,254.9 727.0,254.4 727.1,254.5 727.2,254.8 727.2,254.8 727.3,254.0 727.4,254.9 727.5,254.8 727.6,254.7 727.7,254.6 727.8,254.9 727.8,254.6 727.9,254.9 728.0,254.6 728.1,254.9 728.2,254.8 728.3,254.4 728.4,254.9 728.5,254.9 728.5,254.0 728.6,254.7 728.7,254.9 728.8,254.7 728.9,254.8 729.0,254.2 729.1,254.1 729.2,254.3 729.2,254.5 729.3,254.6 729.4,254.9 729.5,254.5 729.6,254.8 729.7,254.8 729.8,254.6 729.8,254.9 729.9,253.9 730.0,254.6 730.1,254.4 730.2,254.9 730.3,254.9 730.4,254.9 730.5,254.9 730.5,254.6 730.6,254.5 730.7,254.1 730.8,254.9 730.9,254.7 731.0,254.5 731.1,254.7 731.2,254.9 731.2,254.9 731.3,254.9 731.4,254.8 731.5,254.9 731.6,254.0 731.7,254.5 731.8,254.9 731.8,254.5 731.9,254.7 732.0,254.2 732.1,254.9 732.2,254.8 732.3,254.7 732.4,254.7 732.5,254.9 732.5,254.2 732.6,254.9 732.7,254.7 732.8,254.6 732.9,254.7 733.0,254.8 733.1,254.4 733.2,254.6 733.2,254.5 733.3,254.3 733.4,254.1 733.5,254.7 733.6,254.7 733.7,254.1 733.8,254.0 733.9,254.2 733.9,254.9 734.0,254.1 734.1,254.5 734.2,254.6 734.3,254.9 734.4,254.9 734.5,254.2 734.5,254.8 734.6,254.7 734.7,254.7 734.8,254.8 734.9,254.7 735.0,254.8 735.1,254.1 735.2,254.7 735.2,254.8 735.3,254.9 735.4,254.3 735.5,254.3 735.6,254.2 735.7,254.6 735.8,254.8 735.9,254.9 735.9,254.8 736.0,254.9 736.1,254.8 736.2,254.8 736.3,254.9 736.4,254.9 736.5,254.9 736.5,254.8 736.6,254.1 736.7,254.0 736.8,254.9 736.9,254.6 737.0,254.9 737.1,254.5 737.2,254.5 737.2,254.7 737.3,254.8 737.4,254.7 737.5,254.9 737.6,254.5 737.7,254.3 737.8,254.9 737.9,253.9 737.9,254.9 738.0,254.1 738.1,254.0 738.2,254.7 738.3,254.2 738.4,254.6 738.5,254.8 738.5,254.5 738.6,254.8 738.7,254.9 738.8,254.3 738.9,254.9 739.0,254.1 739.1,254.9 739.2,254.8 739.2,254.3 739.3,254.2 739.4,254.8 739.5,254.6 739.6,254.0 739.7,254.8 739.8,254.8 739.9,254.9 739.9,254.5 740.0,254.4 740.1,254.9 740.2,254.4 740.3,254.8 740.4,254.7 740.5,254.6 740.5,254.6 740.6,254.6 740.7,254.8 740.8,254.4 740.9,254.9 741.0,254.2 741.1,254.8 741.2,254.3 741.2,254.6 741.3,254.7 741.4,254.7 741.5,254.6 741.6,254.7 741.7,254.6 741.8,254.7 741.9,254.2 741.9,254.9 742.0,254.4 742.1,254.8 742.2,254.2 742.3,254.2 742.4,254.9 742.5,254.1 742.6,254.3 742.6,254.5 742.7,254.9 742.8,254.2 742.9,254.6 743.0,254.9 743.1,254.5 743.2,254.9" fill="none" stroke="#787878" stroke-width="0.6" stroke-opacity="1" stroke-linejoin="round" filter="url(#bl)"/>
<polyline points="414.3,47.2 414.4,58.7 414.5,68.4 414.6,79.8 414.6,88.0 414.7,98.9 414.8,107.7 414.9,111.0 415.0,125.5 415.1,123.3 415.2,130.6 415.3,131.5 415.3,137.5 415.4,145.7 415.5,140.9 415.6,152.2 415.7,141.0 415.8,156.0 415.9,160.2 416.0,160.7 416.0,165.6 416.1,166.2 416.2,171.1 416.3,169.5 416.4,179.7 416.5,180.2 416.6,180.4 416.6,183.9 416.7,178.3 416.8,187.1 416.9,182.6 417.0,186.8 417.1,187.2 417.2,191.7 417.3,186.5 417.3,172.1 417.4,194.8 417.5,191.4 417.6,191.9 417.7,195.6 417.8,181.9 417.9,198.5 418.0,190.7 418.0,191.7 418.1,200.6 418.2,196.7 418.3,196.9 418.4,209.1 418.5,203.6 418.6,208.8 418.7,205.4 418.7,205.3 418.8,206.0 418.9,206.0 419.0,210.5 419.1,200.5 419.2,209.3 419.3,214.1 419.3,209.5 419.4,209.7 419.5,213.6 419.6,207.4 419.7,214.4 419.8,199.3 419.9,198.9 420.0,212.5 420.0,215.8 420.1,206.4 420.2,204.1 420.3,210.4 420.4,203.7 420.5,217.1 420.6,204.7 420.7,214.0 420.7,212.6 420.8,218.3 420.9,210.1 421.0,201.7 421.1,217.5 421.2,216.8 421.3,218.9 421.3,213.6 421.4,221.6 421.5,216.3 421.6,220.1 421.7,210.8 421.8,222.8 421.9,216.6 422.0,210.3 422.0,211.5 422.1,220.3 422.2,204.4 422.3,212.9 422.4,221.4 422.5,207.8 422.6,219.6 422.7,219.6 422.7,224.3 422.8,206.2 422.9,205.2 423.0,217.1 423.1,215.4 423.2,223.0 423.3,208.1 423.3,224.3 423.4,225.1 423.5,223.6 423.6,218.6 423.7,213.2 423.8,218.1 423.9,224.2 424.0,218.3 424.0,216.5 424.1,216.6 424.2,207.9 424.3,224.7 424.4,220.2 424.5,228.7 424.6,220.0 424.7,209.5 424.7,218.2 424.8,217.9 424.9,211.9 425.0,223.5 425.1,214.8 425.2,223.7 425.3,221.8 425.3,225.8 425.4,224.6 425.5,195.6 425.6,218.4 425.7,220.8 425.8,222.3 425.9,223.5 426.0,226.6 426.0,229.9 426.1,226.0 426.2,224.9 426.3,226.1 426.4,226.7 426.5,217.6 426.6,211.4 426.7,219.3 426.7,217.6 426.8,229.2 426.9,223.1 427.0,223.2 427.1,227.3 427.2,226.0 427.3,216.0 427.4,215.6 427.4,218.2 427.5,222.2 427.6,229.0 427.7,212.7 427.8,219.7 427.9,222.1 428.0,219.8 428.0,223.9 428.1,227.6 428.2,229.7 428.3,228.3 428.4,218.8 428.5,227.8 428.6,217.3 428.7,214.1 428.7,230.3 428.8,222.4 428.9,234.3 429.0,226.1 429.1,227.3 429.2,235.5 429.3,229.0 429.4,228.1 429.4,223.4 429.5,229.8 429.6,226.9 429.7,232.4 429.8,232.7 429.9,223.3 430.0,229.4 430.0,224.7 430.1,225.8 430.2,222.1 430.3,219.8 430.4,231.7 430.5,228.0 430.6,215.0 430.7,231.8 430.7,212.0 430.8,231.6 430.9,234.0 431.0,224.3 431.1,214.2 431.2,230.3 431.3,229.3 431.4,231.7 431.4,216.0 431.5,232.0 431.6,218.3 431.7,211.2 431.8,222.0 431.9,235.1 432.0,224.1 432.0,222.6 432.1,228.7 432.2,223.1 432.3,228.8 432.4,229.0 432.5,229.2 432.6,217.1 432.7,230.1 432.7,221.7 432.8,227.5 432.9,227.8 433.0,200.0 433.1,220.4 433.2,234.4 433.3,221.7 433.4,229.1 433.4,229.4 433.5,231.8 433.6,231.6 433.7,223.6 433.8,210.4 433.9,226.4 434.0,229.0 434.0,227.3 434.1,224.8 434.2,223.9 434.3,229.4 434.4,219.2 434.5,231.1 434.6,227.2 434.7,225.3 434.7,229.7 434.8,229.8 434.9,226.8 435.0,203.6 435.1,228.0 435.2,228.8 435.3,236.2 435.4,222.5 435.4,230.3 435.5,229.6 435.6,229.3 435.7,236.0 435.8,239.8 435.9,223.6 436.0,206.5 436.1,231.5 436.1,232.5 436.2,236.7 436.3,210.8 436.4,222.6 436.5,230.4 436.6,230.8 436.7,230.9 436.7,223.5 436.8,236.4 436.9,231.0 437.0,220.0 437.1,233.7 437.2,228.2 437.3,222.6 437.4,222.6 437.4,231.8 437.5,231.0 437.6,213.8 437.7,220.0 437.8,215.2 437.9,223.8 438.0,237.0 438.1,229.0 438.1,230.3 438.2,237.5 438.3,223.2 438.4,232.0 438.5,237.8 438.6,234.5 438.7,223.3 438.7,227.6 438.8,225.4 438.9,225.8 439.0,224.7 439.1,230.6 439.2,220.8 439.3,194.4 439.4,230.9 439.4,233.8 439.5,221.6 439.6,236.3 439.7,225.4 439.8,228.9 439.9,224.7 440.0,231.4 440.1,228.9 440.1,237.0 440.2,234.9 440.3,225.2 440.4,222.3 440.5,219.6 440.6,238.1 440.7,230.3 440.7,237.8 440.8,236.2 440.9,229.5 441.0,228.8 441.1,231.9 441.2,234.6 441.3,226.8 441.4,228.8 441.4,234.0 441.5,227.7 441.6,233.3 441.7,228.1 441.8,237.2 441.9,226.7 442.0,238.5 442.1,241.2 442.1,225.7 442.2,230.7 442.3,228.8 442.4,221.5 442.5,223.8 442.6,234.4 442.7,235.1 442.7,208.6 442.8,236.2 442.9,220.6 443.0,238.8 443.1,239.0 443.2,229.5 443.3,211.7 443.4,237.9 443.4,235.2 443.5,234.0 443.6,237.7 443.7,234.6 443.8,238.8 443.9,228.3 444.0,238.2 444.1,226.5 444.1,238.2 444.2,232.0 444.3,238.6 444.4,225.7 444.5,222.2 444.6,238.1 444.7,215.0 444.8,219.8 444.8,219.7 444.9,234.7 445.0,233.3 445.1,232.9 445.2,235.5 445.3,241.2 445.4,230.1 445.4,216.9 445.5,239.3 445.6,234.0 445.7,218.9 445.8,239.4 445.9,233.8 446.0,228.8 446.1,235.4 446.1,222.0 446.2,218.1 446.3,231.0 446.4,231.3 446.5,228.5 446.6,231.3 446.7,235.7 446.8,237.1 446.8,224.6 446.9,232.6 447.0,239.0 447.1,237.3 447.2,234.2 447.3,234.0 447.4,226.5 447.4,233.3 447.5,236.4 447.6,235.5 447.7,240.6 447.8,240.8 447.9,240.2 448.0,233.8 448.1,233.5 448.1,237.1 448.2,239.4 448.3,232.0 448.4,229.0 448.5,236.9 448.6,239.5 448.7,223.1 448.8,237.5 448.8,222.8 448.9,230.6 449.0,235.6 449.1,228.3 449.2,228.5 449.3,235.2 449.4,232.8 449.4,233.3 449.5,238.2 449.6,228.3 449.7,236.1 449.8,229.2 449.9,233.1 450.0,229.6 450.1,236.1 450.1,237.4 450.2,228.0 450.3,237.3 450.4,225.8 450.5,234.5 450.6,226.7 450.7,233.4 450.8,235.9 450.8,237.6 450.9,236.0 451.0,234.0 451.1,224.2 451.2,238.6 451.3,233.9 451.4,235.1 451.4,239.3 451.5,239.4 451.6,216.6 451.7,234.5 451.8,237.6 451.9,235.8 452.0,236.9 452.1,231.8 452.1,236.1 452.2,233.6 452.3,237.1 452.4,229.8 452.5,237.3 452.6,232.9 452.7,230.0 452.8,228.9 452.8,242.3 452.9,237.0 453.0,222.0 453.1,235.2 453.2,235.1 453.3,228.1 453.4,219.2 453.4,225.1 453.5,232.3 453.6,237.9 453.7,235.9 453.8,238.3 453.9,233.0 454.0,234.9 454.1,240.2 454.1,238.6 454.2,238.8 454.3,233.2 454.4,224.2 454.5,236.0 454.6,236.4 454.7,237.4 454.8,233.2 454.8,242.6 454.9,236.0 455.0,234.1 455.1,237.8 455.2,231.2 455.3,235.4 455.4,234.1 455.5,238.9 455.5,234.9 455.6,229.8 455.7,237.3 455.8,236.9 455.9,232.9 456.0,239.7 456.1,239.8 456.1,234.7 456.2,239.9 456.3,234.6 456.4,226.2 456.5,237.0 456.6,241.8 456.7,240.4 456.8,242.3 456.8,227.6 456.9,226.5 457.0,235.7 457.1,240.8 457.2,230.7 457.3,236.0 457.4,241.7 457.5,223.2 457.5,236.1 457.6,237.9 457.7,239.1 457.8,234.4 457.9,242.1 458.0,236.3 458.1,232.2 458.1,232.8 458.2,244.3 458.3,225.4 458.4,233.0 458.5,239.3 458.6,238.9 458.7,223.3 458.8,241.8 458.8,221.9 458.9,230.3 459.0,206.3 459.1,240.1 459.2,242.6 459.3,240.0 459.4,236.9 459.5,236.6 459.5,244.1 459.6,235.0 459.7,238.0 459.8,242.6 459.9,237.8 460.0,227.5 460.1,241.0 460.1,233.8 460.2,240.8 460.3,232.7 460.4,244.3 460.5,232.7 460.6,227.7 460.7,237.2 460.8,240.4 460.8,233.2 460.9,229.6 461.0,236.6 461.1,241.4 461.2,240.3 461.3,238.6 461.4,241.0 461.5,234.5 461.5,237.6 461.6,236.1 461.7,241.5 461.8,223.6 461.9,240.0 462.0,241.3 462.1,242.6 462.1,236.8 462.2,242.2 462.3,237.7 462.4,231.4 462.5,229.2 462.6,227.6 462.7,235.3 462.8,236.8 462.8,240.6 462.9,242.8 463.0,222.9 463.1,234.9 463.2,230.8 463.3,245.4 463.4,229.1 463.5,223.3 463.5,242.5 463.6,233.8 463.7,240.1 463.8,234.1 463.9,236.0 464.0,242.1 464.1,233.8 464.2,230.7 464.2,240.6 464.3,234.8 464.4,217.6 464.5,242.8 464.6,239.6 464.7,240.8 464.8,239.6 464.8,232.3 464.9,234.1 465.0,239.9 465.1,237.2 465.2,240.2 465.3,241.6 465.4,240.2 465.5,245.1 465.5,232.1 465.6,237.3 465.7,243.1 465.8,242.5 465.9,234.5 466.0,239.4 466.1,242.2 466.2,219.1 466.2,231.3 466.3,243.0 466.4,237.6 466.5,237.4 466.6,234.8 466.7,228.2 466.8,221.1 466.8,234.4 466.9,231.3 467.0,233.1 467.1,240.9 467.2,241.3 467.3,235.6 467.4,223.0 467.5,236.1 467.5,243.0 467.6,234.6 467.7,238.7 467.8,246.1 467.9,235.9 468.0,242.6 468.1,234.9 468.2,230.7 468.2,238.1 468.3,240.2 468.4,238.4 468.5,230.9 468.6,237.8 468.7,239.3 468.8,237.2 468.8,244.7 468.9,246.1 469.0,229.6 469.1,228.8 469.2,241.5 469.3,233.3 469.4,244.1 469.5,230.6 469.5,235.7 469.6,242.3 469.7,243.2 469.8,245.2 469.9,238.7 470.0,227.0 470.1,226.2 470.2,239.3 470.2,227.2 470.3,233.4 470.4,235.7 470.5,237.0 470.6,219.7 470.7,243.4 470.8,243.1 470.9,230.8 470.9,240.1 471.0,233.4 471.1,236.6 471.2,236.7 471.3,235.7 471.4,240.5 471.5,238.8 471.5,235.1 471.6,243.7 471.7,236.5 471.8,233.5 471.9,238.7 472.0,236.2 472.1,237.5 472.2,244.8 472.2,240.4 472.3,236.6 472.4,240.1 472.5,233.3 472.6,230.3 472.7,242.2 472.8,242.6 472.9,245.2 472.9,234.1 473.0,245.3 473.1,237.1 473.2,224.5 473.3,239.8 473.4,240.2 473.5,242.8 473.5,245.1 473.6,230.4 473.7,233.7 473.8,238.7 473.9,239.7 474.0,239.4 474.1,238.1 474.2,240.8 474.2,239.8 474.3,232.8 474.4,238.8 474.5,238.5 474.6,240.1 474.7,239.7 474.8,240.6 474.9,233.8 474.9,239.9 475.0,212.9 475.1,229.1 475.2,242.3 475.3,243.7 475.4,239.2 475.5,240.4 475.5,233.4 475.6,237.3 475.7,229.0 475.8,231.9 475.9,242.3 476.0,227.5 476.1,240.9 476.2,243.8 476.2,239.2 476.3,240.6 476.4,243.5 476.5,241.8 476.6,220.8 476.7,243.0 476.8,242.7 476.9,238.6 476.9,242.2 477.0,239.5 477.1,241.6 477.2,236.7 477.3,242.9 477.4,241.9 477.5,234.5 477.5,241.4 477.6,238.4 477.7,240.8 477.8,246.1 477.9,231.4 478.0,243.0 478.1,231.4 478.2,240.4 478.2,230.3 478.3,241.1 478.4,237.8 478.5,220.9 478.6,245.4 478.7,231.2 478.8,244.8 478.9,234.0 478.9,241.2 479.0,240.8 479.1,234.3 479.2,237.1 479.3,245.7 479.4,246.1 479.5,233.7 479.6,240.4 479.6,242.1 479.7,236.5 479.8,216.0 479.9,243.5 480.0,244.7 480.1,237.6 480.2,238.5 480.2,232.4 480.3,242.8 480.4,245.0 480.5,239.1 480.6,242.6 480.7,240.6 480.8,244.8 480.9,234.4 480.9,234.2 481.0,224.0 481.1,241.9 481.2,242.5 481.3,242.3 481.4,237.1 481.5,231.8 481.6,223.0 481.6,231.0 481.7,240.5 481.8,229.0 481.9,240.8 482.0,240.8 482.1,238.2 482.2,239.5 482.2,227.6 482.3,227.6 482.4,237.0 482.5,237.6 482.6,244.0 482.7,229.8 482.8,241.7 482.9,243.2 482.9,245.6 483.0,232.6 483.1,245.3 483.2,224.3 483.3,242.3 483.4,234.9 483.5,238.4 483.6,241.7 483.6,236.8 483.7,242.7 483.8,237.9 483.9,237.5 484.0,239.2 484.1,231.5 484.2,238.1 484.2,235.9 484.3,238.6 484.4,230.6 484.5,235.4 484.6,247.8 484.7,241.1 484.8,227.1 484.9,246.6 484.9,241.3 485.0,240.4 485.1,244.2 485.2,247.3 485.3,241.6 485.4,240.8 485.5,240.9 485.6,234.1 485.6,247.7 485.7,235.7 485.8,220.4 485.9,243.9 486.0,237.5 486.1,235.6 486.2,224.5 486.2,246.6 486.3,245.2 486.4,240.5 486.5,241.7 486.6,239.9 486.7,227.0 486.8,229.4 486.9,245.0 486.9,246.0 487.0,244.0 487.1,246.4 487.2,230.8 487.3,241.6 487.4,238.1 487.5,242.8 487.6,232.2 487.6,228.7 487.7,239.9 487.8,247.4 487.9,236.8 488.0,247.2 488.1,239.5 488.2,239.1 488.2,230.8 488.3,218.0 488.4,239.0 488.5,241.0 488.6,232.3 488.7,247.1 488.8,236.1 488.9,238.9 488.9,244.8 489.0,245.1 489.1,236.8 489.2,238.4 489.3,245.5 489.4,236.8 489.5,237.2 489.6,232.8 489.6,235.5 489.7,231.4 489.8,234.6 489.9,236.8 490.0,235.8 490.1,247.5 490.2,245.0 490.3,241.3 490.3,243.5 490.4,237.8 490.5,245.8 490.6,216.4 490.7,242.2 490.8,245.4 490.9,239.2 490.9,244.4 491.0,233.5 491.1,241.5 491.2,244.7 491.3,237.1 491.4,229.8 491.5,236.2 491.6,240.0 491.6,229.2 491.7,247.7 491.8,245.8 491.9,234.4 492.0,223.8 492.1,247.8 492.2,238.9 492.3,244.0 492.3,245.0 492.4,245.2 492.5,226.3 492.6,245.0 492.7,237.0 492.8,237.2 492.9,232.8 492.9,239.9 493.0,241.2 493.1,235.3 493.2,231.1 493.3,220.4 493.4,239.6 493.5,235.4 493.6,247.2 493.6,244.1 493.7,233.3 493.8,245.8 493.9,239.8 494.0,241.3 494.1,247.0 494.2,244.7 494.3,242.5 494.3,245.9 494.4,244.3 494.5,240.5 494.6,235.5 494.7,235.6 494.8,237.0 494.9,245.6 494.9,241.3 495.0,247.0 495.1,241.7 495.2,226.6 495.3,231.4 495.4,224.5 495.5,241.7 495.6,246.4 495.6,239.2 495.7,244.3 495.8,239.7 495.9,241.0 496.0,244.2 496.1,231.7 496.2,245.5 496.3,247.6 496.3,242.3 496.4,242.5 496.5,246.4 496.6,237.9 496.7,244.4 496.8,247.4 496.9,245.0 496.9,246.6 497.0,248.1 497.1,238.7 497.2,232.5 497.3,239.9 497.4,235.9 497.5,232.2 497.6,242.4 497.6,240.8 497.7,244.8 497.8,219.3 497.9,241.4 498.0,233.3 498.1,239.0 498.2,241.4 498.3,242.8 498.3,238.7 498.4,241.8 498.5,242.8 498.6,242.4 498.7,240.5 498.8,246.1 498.9,239.9 499.0,239.6 499.0,245.8 499.1,238.2 499.2,227.9 499.3,236.9 499.4,238.6 499.5,244.9 499.6,237.3 499.6,241.8 499.7,235.9 499.8,240.9 499.9,238.5 500.0,224.6 500.1,239.2 500.2,244.2 500.3,244.0 500.3,244.7 500.4,244.1 500.5,241.3 500.6,242.2 500.7,245.2 500.8,242.1 500.9,244.2 501.0,243.3 501.0,242.4 501.1,240.2 501.2,246.1 501.3,246.9 501.4,247.4 501.5,246.0 501.6,241.8 501.6,244.5 501.7,249.3 501.8,240.4 501.9,241.7 502.0,236.7 502.1,225.2 502.2,243.4 502.3,241.3 502.3,238.3 502.4,249.5 502.5,246.0 502.6,235.9 502.7,233.1 502.8,226.6 502.9,245.2 503.0,239.5 503.0,237.8 503.1,237.8 503.2,235.7 503.3,245.8 503.4,238.3 503.5,246.6 503.6,243.8 503.6,243.9 503.7,239.8 503.8,244.3 503.9,241.5 504.0,242.4 504.1,242.7 504.2,240.9 504.3,249.2 504.3,249.4 504.4,247.8 504.5,244.5 504.6,235.5 504.7,245.3 504.8,246.6 504.9,245.9 505.0,249.1 505.0,241.9 505.1,248.0 505.2,241.0 505.3,247.8 505.4,238.4 505.5,230.5 505.6,241.9 505.6,239.5 505.7,247.0 505.8,243.0 505.9,244.9 506.0,245.4 506.1,237.1 506.2,246.8 506.3,236.1 506.3,237.8 506.4,244.2 506.5,233.1 506.6,248.7 506.7,246.7 506.8,239.2 506.9,239.4 507.0,245.0 507.0,238.5 507.1,243.0 507.2,235.7 507.3,241.2 507.4,237.2 507.5,244.7 507.6,245.9 507.7,246.0 507.7,247.2 507.8,238.6 507.9,249.7 508.0,248.9 508.1,243.9 508.2,244.6 508.3,237.6 508.3,229.9 508.4,243.9 508.5,240.6 508.6,243.3 508.7,244.2 508.8,242.5 508.9,239.3 509.0,236.6 509.0,244.9 509.1,245.6 509.2,236.2 509.3,237.3 509.4,246.1 509.5,236.1 509.6,235.3 509.7,235.2 509.7,246.7 509.8,233.8 509.9,244.4 510.0,248.0 510.1,239.1 510.2,250.5 510.3,245.2 510.3,244.4 510.4,245.3 510.5,238.0 510.6,242.1 510.7,240.4 510.8,241.2 510.9,244.7 511.0,240.0 511.0,246.9 511.1,241.9 511.2,243.4 511.3,237.7 511.4,248.5 511.5,242.4 511.6,246.5 511.7,233.9 511.7,248.6 511.8,244.6 511.9,243.0 512.0,245.1 512.1,240.6 512.2,247.0 512.3,234.7 512.3,245.8 512.4,241.6 512.5,236.9 512.6,229.4 512.7,244.9 512.8,249.4 512.9,240.1 513.0,231.7 513.0,240.7 513.1,246.4 513.2,246.0 513.3,246.3 513.4,240.3 513.5,243.0 513.6,230.8 513.7,242.7 513.7,249.6 513.8,244.6 513.9,235.4 514.0,245.2 514.1,244.1 514.2,246.0 514.3,249.0 514.4,238.0 514.4,249.2 514.5,244.4 514.6,246.7 514.7,244.7 514.8,249.4 514.9,245.0 515.0,245.5 515.0,249.6 515.1,245.9 515.2,235.2 515.3,238.9 515.4,246.5 515.5,236.4 515.6,242.9 515.7,242.5 515.7,238.2 515.8,246.2 515.9,247.7 516.0,240.8 516.1,243.9 516.2,241.0 516.3,249.3 516.4,237.9 516.4,245.6 516.5,247.6 516.6,235.5 516.7,242.9 516.8,241.3 516.9,247.2 517.0,246.9 517.0,242.5 517.1,248.1 517.2,240.5 517.3,235.8 517.4,233.8 517.5,241.3 517.6,238.6 517.7,246.5 517.7,243.2 517.8,241.5 517.9,247.2 518.0,245.7 518.1,235.0 518.2,244.5 518.3,246.7 518.4,241.0 518.4,247.1 518.5,246.8 518.6,244.6 518.7,236.0 518.8,238.7 518.9,246.9 519.0,242.9 519.0,245.9 519.1,242.7 519.2,246.0 519.3,239.4 519.4,243.7 519.5,246.7 519.6,246.4 519.7,243.1 519.7,249.7 519.8,243.1 519.9,246.6 520.0,245.9 520.1,244.7 520.2,247.9 520.3,238.9 520.4,229.3 520.4,237.2 520.5,246.9 520.6,249.6 520.7,239.1 520.8,231.2 520.9,249.5 521.0,241.3 521.0,240.9 521.1,247.1 521.2,248.9 521.3,248.2 521.4,240.5 521.5,244.0 521.6,240.2 521.7,248.7 521.7,242.0 521.8,236.1 521.9,233.4 522.0,247.2 522.1,248.0 522.2,242.6 522.3,239.4 522.4,232.5 522.4,240.9 522.5,236.0 522.6,240.5 522.7,247.5 522.8,243.7 522.9,235.2 523.0,239.8 523.0,245.3 523.1,246.6 523.2,247.4 523.3,249.6 523.4,243.7 523.5,249.8 523.6,246.9 523.7,242.4 523.7,242.5 523.8,246.7 523.9,233.2 524.0,248.7 524.1,241.4 524.2,244.2 524.3,244.3 524.4,249.6 524.4,245.1 524.5,243.8 524.6,250.2 524.7,247.4 524.8,245.6 524.9,246.3 525.0,249.8 525.1,244.4 525.1,247.3 525.2,246.3 525.3,247.9 525.4,246.9 525.5,243.1 525.6,242.0 525.7,244.5 525.7,242.3 525.8,249.9 525.9,247.5 526.0,236.9 526.1,238.6 526.2,235.6 526.3,237.2 526.4,244.1 526.4,242.2 526.5,241.1 526.6,247.6 526.7,244.3 526.8,250.0 526.9,249.0 527.0,247.8 527.1,242.0 527.1,249.7 527.2,248.7 527.3,235.8 527.4,232.9 527.5,242.9 527.6,240.5 527.7,241.8 527.7,242.6 527.8,251.2 527.9,245.1 528.0,238.5 528.1,244.5 528.2,248.0 528.3,245.8 528.4,244.5 528.4,246.4 528.5,240.0 528.6,244.0 528.7,248.5 528.8,246.8 528.9,246.3 529.0,235.3 529.1,249.4 529.1,233.0 529.2,245.4 529.3,243.9 529.4,248.4 529.5,242.5 529.6,239.4 529.7,237.5 529.7,240.2 529.8,233.9 529.9,241.5 530.0,236.7 530.1,246.7 530.2,248.4 530.3,241.7 530.4,245.1 530.4,251.3 530.5,240.2 530.6,244.7 530.7,247.9 530.8,244.8 530.9,244.6 531.0,242.2 531.1,244.5 531.1,239.3 531.2,247.7 531.3,249.6 531.4,242.2 531.5,241.0 531.6,248.1 531.7,224.7 531.8,246.0 531.8,249.8 531.9,248.3 532.0,246.6 532.1,248.4 532.2,246.9 532.3,239.2 532.4,248.8 532.4,247.7 532.5,244.9 532.6,246.5 532.7,245.6 532.8,243.4 532.9,237.2 533.0,242.9 533.1,243.3 533.1,242.0 533.2,241.2 533.3,246.3 533.4,239.9 533.5,244.0 533.6,251.0 533.7,246.2 533.8,238.4 533.8,249.3 533.9,239.9 534.0,248.1 534.1,248.7 534.2,239.8 534.3,230.3 534.4,239.8 534.4,242.0 534.5,250.0 534.6,248.3 534.7,247.1 534.8,245.1 534.9,249.6 535.0,248.3 535.1,242.0 535.1,246.0 535.2,247.0 535.3,245.3 535.4,245.1 535.5,246.6 535.6,246.1 535.7,245.9 535.8,235.2 535.8,246.2 535.9,247.3 536.0,249.1 536.1,238.5 536.2,242.9 536.3,248.2 536.4,242.1 536.4,242.1 536.5,236.3 536.6,233.8 536.7,236.5 536.8,243.6 536.9,235.6 537.0,248.3 537.1,242.0 537.1,244.2 537.2,240.5 537.3,250.5 537.4,243.1 537.5,250.8 537.6,247.4 537.7,251.4 537.8,241.9 537.8,241.4 537.9,248.9 538.0,239.6 538.1,244.0 538.2,249.7 538.3,243.9 538.4,247.7 538.4,242.6 538.5,238.3 538.6,238.8 538.7,239.7 538.8,247.5 538.9,233.2 539.0,247.3 539.1,228.8 539.1,248.0 539.2,247.1 539.3,250.5 539.4,248.0 539.5,247.9 539.6,248.5 539.7,238.6 539.8,236.0 539.8,231.3 539.9,240.8 540.0,247.5 540.1,238.7 540.2,241.9 540.3,250.0 540.4,237.6 540.5,235.4 540.5,247.1 540.6,246.7 540.7,246.6 540.8,249.3 540.9,240.6 541.0,248.0 541.1,242.5 541.1,232.3 541.2,243.9 541.3,247.8 541.4,239.8 541.5,248.9 541.6,239.8 541.7,233.4 541.8,251.7 541.8,233.8 541.9,241.5 542.0,245.6 542.1,251.1 542.2,248.0 542.3,241.8 542.4,249.0 542.5,242.6 542.5,241.8 542.6,247.2 542.7,241.7 542.8,251.4 542.9,244.4 543.0,243.3 543.1,247.7 543.1,250.5 543.2,246.8 543.3,241.5 543.4,251.2 543.5,251.9 543.6,246.3 543.7,243.6 543.8,249.8 543.8,251.2 543.9,241.5 544.0,249.0 544.1,238.7 544.2,247.9 544.3,241.1 544.4,240.7 544.5,249.3 544.5,251.0 544.6,246.5 544.7,240.0 544.8,246.8 544.9,244.0 545.0,243.8 545.1,243.3 545.1,245.3 545.2,242.7 545.3,242.8 545.4,249.1 545.5,240.0 545.6,239.6 545.7,245.4 545.8,243.4 545.8,249.8 545.9,241.6 546.0,246.7 546.1,246.0 546.2,250.2 546.3,250.0 546.4,250.6 546.5,249.5 546.5,249.7 546.6,242.8 546.7,245.5 546.8,250.5 546.9,246.1 547.0,246.9 547.1,248.5 547.1,250.4 547.2,248.9 547.3,248.3 547.4,247.6 547.5,249.5 547.6,246.8 547.7,239.8 547.8,245.1 547.8,237.7 547.9,246.3 548.0,234.7 548.1,247.7 548.2,239.4 548.3,248.4 548.4,240.2 548.5,249.6 548.5,248.7 548.6,251.2 548.7,240.8 548.8,252.3 548.9,244.9 549.0,246.7 549.1,240.3 549.1,251.3 549.2,236.8 549.3,242.6 549.4,244.0 549.5,246.2 549.6,240.4 549.7,244.5 549.8,250.6 549.8,242.3 549.9,245.8 550.0,246.6 550.1,244.6 550.2,249.7 550.3,246.4 550.4,244.2 550.5,242.5 550.5,245.0 550.6,241.7 550.7,232.5 550.8,251.7 550.9,242.0 551.0,244.1 551.1,238.5 551.2,251.2 551.2,232.7 551.3,241.5 551.4,247.6 551.5,249.9 551.6,250.4 551.7,240.6 551.8,249.2 551.8,230.4 551.9,251.6 552.0,239.3 552.1,238.4 552.2,247.8 552.3,245.9 552.4,238.4 552.5,244.7 552.5,245.7 552.6,246.9 552.7,242.5 552.8,248.4 552.9,249.4 553.0,250.7 553.1,242.1 553.2,248.6 553.2,249.5 553.3,230.5 553.4,245.0 553.5,246.0 553.6,251.3 553.7,248.4 553.8,247.1 553.8,231.1 553.9,248.4 554.0,247.5 554.1,247.1 554.2,251.0 554.3,249.4 554.4,249.4 554.5,247.2 554.5,240.3 554.6,246.3 554.7,230.6 554.8,238.1 554.9,247.5 555.0,251.3 555.1,250.3 555.2,227.0 555.2,251.9 555.3,247.5 555.4,244.7 555.5,249.5 555.6,245.7 555.7,245.7 555.8,246.0 555.8,252.1 555.9,246.8 556.0,228.2 556.1,244.8 556.2,245.2 556.3,247.9 556.4,243.1 556.5,249.8 556.5,240.8 556.6,248.9 556.7,246.7 556.8,247.6 556.9,245.3 557.0,249.5 557.1,250.3 557.2,247.4 557.2,252.5 557.3,247.0 557.4,239.9 557.5,247.3 557.6,248.7 557.7,249.1 557.8,248.9 557.9,249.1 557.9,239.7 558.0,248.7 558.1,249.5 558.2,250.6 558.3,239.6 558.4,247.5 558.5,250.0 558.5,246.1 558.6,249.9 558.7,242.7 558.8,249.6 558.9,251.2 559.0,250.0 559.1,245.3 559.2,247.1 559.2,252.4 559.3,247.4 559.4,246.1 559.5,246.0 559.6,242.4 559.7,248.7 559.8,241.4 559.9,244.3 559.9,245.6 560.0,252.5 560.1,244.7 560.2,245.7 560.3,247.6 560.4,242.8 560.5,248.7 560.5,248.1 560.6,250.3 560.7,241.2 560.8,249.4 560.9,239.6 561.0,249.9 561.1,250.2 561.2,242.4 561.2,249.0 561.3,251.5 561.4,231.4 561.5,251.6 561.6,248.0 561.7,249.7 561.8,247.3 561.9,245.6 561.9,248.8 562.0,246.2 562.1,249.6 562.2,245.4 562.3,241.7 562.4,245.7 562.5,247.5 562.5,242.6 562.6,244.5 562.7,244.6 562.8,247.0 562.9,251.4 563.0,244.3 563.1,250.3 563.2,244.4 563.2,251.4 563.3,243.8 563.4,246.1 563.5,245.7 563.6,252.6 563.7,250.9 563.8,239.7 563.9,244.7 563.9,251.7 564.0,242.6 564.1,248.9 564.2,248.3 564.3,249.7 564.4,249.9 564.5,252.4 564.5,247.7 564.6,247.6 564.7,252.0 564.8,249.6 564.9,248.8 565.0,247.5 565.1,244.1 565.2,251.8 565.2,241.2 565.3,248.8 565.4,249.3 565.5,247.5 565.6,245.2 565.7,247.1 565.8,246.9 565.9,250.4 565.9,246.0 566.0,251.2 566.1,239.9 566.2,240.6 566.3,243.9 566.4,250.1 566.5,242.0 566.5,251.0 566.6,247.4 566.7,246.8 566.8,245.8 566.9,248.4 567.0,244.8 567.1,238.3 567.2,249.3 567.2,242.6 567.3,250.4 567.4,249.5 567.5,250.5 567.6,245.4 567.7,233.5 567.8,240.6 567.9,250.6 567.9,247.7 568.0,249.9 568.1,249.9 568.2,244.9 568.3,237.0 568.4,248.9 568.5,239.6 568.6,250.0 568.6,251.0 568.7,248.8 568.8,247.7 568.9,239.7 569.0,250.7 569.1,250.2 569.2,247.3 569.2,249.5 569.3,246.0 569.4,246.3 569.5,249.0 569.6,247.8 569.7,243.4 569.8,251.4 569.9,243.8 569.9,243.0 570.0,252.4 570.1,252.2 570.2,251.2 570.3,252.2 570.4,252.0 570.5,249.9 570.6,251.5 570.6,241.2 570.7,251.4 570.8,248.7 570.9,248.5 571.0,242.9 571.1,245.2 571.2,251.1 571.2,242.7 571.3,249.9 571.4,249.3 571.5,245.1 571.6,252.6 571.7,248.9 571.8,244.2 571.9,251.9 571.9,246.4 572.0,241.2 572.1,240.8 572.2,245.8 572.3,245.3 572.4,248.2 572.5,242.9 572.6,240.5 572.6,234.3 572.7,237.9 572.8,238.1 572.9,246.3 573.0,252.3 573.1,249.0 573.2,246.7 573.2,250.5 573.3,249.9 573.4,252.5 573.5,251.1 573.6,251.2 573.7,229.6 573.8,251.9 573.9,248.2 573.9,243.0 574.0,246.0 574.1,250.9 574.2,250.4 574.3,250.1 574.4,243.0 574.5,249.3 574.6,243.0 574.6,251.4 574.7,249.0 574.8,246.1 574.9,251.8 575.0,249.4 575.1,250.6 575.2,250.6 575.2,250.4 575.3,251.2 575.4,237.0 575.5,251.9 575.6,249.2 575.7,252.1 575.8,250.0 575.9,251.8 575.9,248.6 576.0,243.0 576.1,252.2 576.2,248.6 576.3,235.7 576.4,251.5 576.5,244.9 576.6,245.9 576.6,249.8 576.7,249.5 576.8,246.8 576.9,244.8 577.0,253.1 577.1,241.8 577.2,245.0 577.3,247.6 577.3,250.5 577.4,247.3 577.5,242.6 577.6,249.2 577.7,237.9 577.8,253.3 577.9,240.7 577.9,243.3 578.0,250.6 578.1,251.4 578.2,249.2 578.3,251.6 578.4,249.9 578.5,251.5 578.6,249.0 578.6,246.4 578.7,247.5 578.8,245.4 578.9,247.7 579.0,247.5 579.1,250.6 579.2,250.2 579.3,238.8 579.3,249.9 579.4,249.9 579.5,243.3 579.6,244.1 579.7,244.0 579.8,237.7 579.9,229.7 579.9,248.6 580.0,247.3 580.1,234.6 580.2,245.6 580.3,249.4 580.4,250.4 580.5,251.1 580.6,243.4 580.6,243.6 580.7,247.9 580.8,253.1 580.9,249.7 581.0,245.6 581.1,247.2 581.2,250.8 581.3,249.5 581.3,250.2 581.4,245.0 581.5,247.6 581.6,244.2 581.7,250.4 581.8,251.6 581.9,250.2 581.9,241.6 582.0,245.2 582.1,244.1 582.2,250.9 582.3,246.6 582.4,240.7 582.5,251.2 582.6,234.7 582.6,248.6 582.7,244.7 582.8,252.6 582.9,245.9 583.0,231.0 583.1,247.3 583.2,250.8 583.3,249.7 583.3,250.7 583.4,243.6 583.5,251.4 583.6,236.6 583.7,237.1 583.8,247.7 583.9,253.2 584.0,245.2 584.0,244.1 584.1,250.3 584.2,248.2 584.3,248.4 584.4,247.7 584.5,247.3 584.6,248.5 584.6,251.6 584.7,248.4 584.8,251.9 584.9,243.3 585.0,249.6 585.1,247.9 585.2,241.2 585.3,249.7 585.3,250.0 585.4,246.1 585.5,246.2 585.6,251.4 585.7,240.0 585.8,251.8 585.9,250.3 586.0,250.6 586.0,249.2 586.1,240.6 586.2,242.1 586.3,253.0 586.4,250.1 586.5,246.9 586.6,248.7 586.6,251.2 586.7,252.4 586.8,250.6 586.9,251.7 587.0,250.4 587.1,245.5 587.2,250.0 587.3,250.8 587.3,251.5 587.4,252.8 587.5,251.6 587.6,242.3 587.7,252.9 587.8,237.9 587.9,253.4 588.0,244.8 588.0,249.7 588.1,243.7 588.2,251.3 588.3,251.2 588.4,252.0 588.5,244.1 588.6,235.9 588.6,253.1 588.7,248.4 588.8,250.5 588.9,252.1 589.0,239.4 589.1,249.1 589.2,247.0 589.3,248.5 589.3,240.8 589.4,243.8 589.5,247.3 589.6,252.9 589.7,252.0 589.8,251.1 589.9,252.0 590.0,249.4 590.0,251.4 590.1,249.6 590.2,246.1 590.3,250.9 590.4,251.1 590.5,248.6 590.6,248.2 590.6,250.9 590.7,251.6 590.8,249.0 590.9,250.5 591.0,250.9 591.1,249.4 591.2,250.2 591.3,245.0 591.3,238.7 591.4,252.4 591.5,244.1 591.6,239.2 591.7,238.9 591.8,253.1 591.9,250.6 592.0,236.0 592.0,243.3 592.1,251.7 592.2,247.5 592.3,246.1 592.4,241.0 592.5,251.0 592.6,250.0 592.6,245.5 592.7,249.2 592.8,250.8 592.9,251.1 593.0,250.0 593.1,248.0 593.2,240.1 593.3,253.0 593.3,242.8 593.4,249.7 593.5,249.9 593.6,239.3 593.7,248.0 593.8,245.0 593.9,250.1 594.0,249.7 594.0,246.6 594.1,251.5 594.2,248.6 594.3,252.8 594.4,251.0 594.5,250.1 594.6,251.4 594.7,249.1 594.7,246.0 594.8,252.4 594.9,242.7 595.0,250.6 595.1,247.8 595.2,251.8 595.3,241.7 595.3,251.5 595.4,249.0 595.5,245.6 595.6,250.4 595.7,251.5 595.8,249.8 595.9,250.4 596.0,245.1 596.0,234.2 596.1,251.7 596.2,251.6 596.3,245.9 596.4,249.0 596.5,249.7 596.6,244.9 596.7,249.9 596.7,245.0 596.8,241.1 596.9,245.3 597.0,245.6 597.1,236.4 597.2,249.0 597.3,239.2 597.3,244.6 597.4,252.6 597.5,247.5 597.6,251.1 597.7,250.0 597.8,248.4 597.9,251.1 598.0,245.6 598.0,251.4 598.1,251.8 598.2,249.1 598.3,250.1 598.4,246.1 598.5,251.3 598.6,250.6 598.7,241.5 598.7,237.3 598.8,250.4 598.9,247.5 599.0,248.5 599.1,250.0 599.2,248.8 599.3,252.2 599.3,248.2 599.4,253.1 599.5,245.2 599.6,248.3 599.7,247.4 599.8,252.0 599.9,248.0 600.0,250.2 600.0,251.7 600.1,251.7 600.2,244.4 600.3,249.0 600.4,245.8 600.5,244.0 600.6,245.9 600.7,239.3 600.7,246.6 600.8,251.5 600.9,253.1 601.0,251.2 601.1,251.4 601.2,249.1 601.3,251.9 601.4,248.3 601.4,251.8 601.5,251.6 601.6,244.4 601.7,252.0 601.8,249.7 601.9,226.5 602.0,247.2 602.0,242.3 602.1,247.1 602.2,251.4 602.3,248.8 602.4,244.4 602.5,249.6 602.6,246.3 602.7,247.3 602.7,251.1 602.8,241.2 602.9,249.1 603.0,252.3 603.1,252.0 603.2,246.0 603.3,251.5 603.4,251.6 603.4,245.7 603.5,245.5 603.6,247.8 603.7,249.1 603.8,251.6 603.9,251.3 604.0,246.8 604.0,252.7 604.1,247.4 604.2,250.5 604.3,243.3 604.4,251.4 604.5,244.7 604.6,244.0 604.7,250.3 604.7,249.8 604.8,247.0 604.9,250.3 605.0,249.2 605.1,248.1 605.2,246.7 605.3,238.9 605.4,238.4 605.4,249.6 605.5,244.1 605.6,251.1 605.7,248.2 605.8,247.6 605.9,250.1 606.0,251.4 606.0,251.9 606.1,248.0 606.2,250.1 606.3,249.5 606.4,240.8 606.5,246.0 606.6,249.3 606.7,253.4 606.7,252.7 606.8,246.1 606.9,250.8 607.0,246.7 607.1,246.6 607.2,243.0 607.3,250.5 607.4,227.1 607.4,248.9 607.5,247.0 607.6,249.4 607.7,250.7 607.8,251.0 607.9,250.2 608.0,250.4 608.0,248.9 608.1,244.0 608.2,237.1 608.3,248.9 608.4,248.4 608.5,251.6 608.6,242.6 608.7,245.5 608.7,250.5 608.8,249.9 608.9,253.5 609.0,236.7 609.1,248.8 609.2,250.5 609.3,250.4 609.4,240.5 609.4,247.3 609.5,251.1 609.6,243.4 609.7,249.3 609.8,249.4 609.9,247.1 610.0,250.3 610.0,241.5 610.1,251.8 610.2,249.4 610.3,252.9 610.4,243.0 610.5,244.3 610.6,246.1 610.7,250.9 610.7,242.9 610.8,243.1 610.9,252.2 611.0,245.9 611.1,246.9 611.2,250.0 611.3,251.0 611.4,245.7 611.4,253.0 611.5,251.0 611.6,250.4 611.7,247.5 611.8,244.5 611.9,243.8 612.0,248.2 612.1,252.8 612.1,253.7 612.2,245.4 612.3,251.1 612.4,250.6 612.5,238.7 612.6,245.4 612.7,247.2 612.7,250.3 612.8,251.1 612.9,247.0 613.0,253.9 613.1,243.4 613.2,247.3 613.3,253.1 613.4,253.8 613.4,251.0 613.5,249.8 613.6,251.0 613.7,246.5 613.8,251.9 613.9,252.9 614.0,253.3 614.1,241.1 614.1,251.7 614.2,244.5 614.3,245.1 614.4,253.4 614.5,252.1 614.6,245.7 614.7,248.2 614.7,253.4 614.8,248.7 614.9,251.8 615.0,252.2 615.1,249.3 615.2,246.8 615.3,236.8 615.4,249.6 615.4,248.9 615.5,246.4 615.6,249.0 615.7,246.0 615.8,244.9 615.9,251.7 616.0,236.8 616.1,251.4 616.1,245.9 616.2,251.6 616.3,253.6 616.4,250.3 616.5,250.9 616.6,245.3 616.7,252.0 616.7,250.3 616.8,249.3 616.9,245.9 617.0,251.2 617.1,251.6 617.2,247.6 617.3,253.3 617.4,252.8 617.4,247.1 617.5,252.6 617.6,248.8 617.7,245.8 617.8,252.8 617.9,251.7 618.0,249.0 618.1,246.0 618.1,249.6 618.2,248.1 618.3,248.0 618.4,251.6 618.5,245.6 618.6,249.8 618.7,243.0 618.8,252.6 618.8,252.8 618.9,252.1 619.0,248.6 619.1,252.1 619.2,248.6 619.3,251.5 619.4,253.6 619.4,253.6 619.5,251.5 619.6,250.9 619.7,249.8 619.8,251.5 619.9,241.9 620.0,245.1 620.1,247.6 620.1,248.4 620.2,253.8 620.3,247.7 620.4,249.1 620.5,250.3 620.6,252.6 620.7,250.2 620.8,249.6 620.8,250.5 620.9,235.8 621.0,252.9 621.1,249.7 621.2,248.3 621.3,252.2 621.4,249.4 621.4,249.0 621.5,247.8 621.6,249.3 621.7,251.8 621.8,251.9 621.9,252.0 622.0,250.8 622.1,252.2 622.1,252.7 622.2,249.1 622.3,246.4 622.4,250.2 622.5,249.5 622.6,247.8 622.7,250.7 622.8,249.0 622.8,246.4 622.9,252.5 623.0,252.7 623.1,248.9 623.2,247.7 623.3,250.3 623.4,253.3 623.4,253.7 623.5,236.8 623.6,247.7 623.7,250.9 623.8,239.6 623.9,251.8 624.0,250.4 624.1,251.9 624.1,251.4 624.2,246.4 624.3,249.9 624.4,252.6 624.5,251.6 624.6,250.1 624.7,251.5 624.8,248.9 624.8,248.6 624.9,248.8 625.0,251.5 625.1,249.9 625.2,239.2 625.3,252.8 625.4,251.7 625.4,251.9 625.5,247.3 625.6,251.3 625.7,252.0 625.8,253.9 625.9,247.6 626.0,249.9 626.1,252.1 626.1,237.4 626.2,251.1 626.3,242.6 626.4,244.3 626.5,252.3 626.6,247.6 626.7,243.3 626.8,249.8 626.8,249.1 626.9,250.0 627.0,253.9 627.1,253.4 627.2,252.8 627.3,247.6 627.4,241.4 627.5,247.8 627.5,253.3 627.6,250.7 627.7,245.0 627.8,246.9 627.9,250.9 628.0,250.7 628.1,251.6 628.1,252.2 628.2,247.5 628.3,247.1 628.4,253.0 628.5,247.7 628.6,253.5 628.7,252.7 628.8,253.8 628.8,252.7 628.9,250.1 629.0,251.9 629.1,254.1 629.2,249.1 629.3,253.3 629.4,246.5 629.5,243.3 629.5,247.1 629.6,253.2 629.7,250.4 629.8,252.9 629.9,248.5 630.0,251.2 630.1,252.0 630.1,249.7 630.2,250.1 630.3,252.0 630.4,252.0 630.5,251.5 630.6,250.0 630.7,243.0 630.8,251.0 630.8,249.9 630.9,236.9 631.0,252.2 631.1,250.0 631.2,248.1 631.3,251.6 631.4,247.6 631.5,245.1 631.5,253.1 631.6,250.2 631.7,252.9 631.8,243.6 631.9,240.4 632.0,253.7 632.1,243.3 632.1,253.2 632.2,251.9 632.3,252.6 632.4,253.4 632.5,249.2 632.6,249.9 632.7,240.9 632.8,250.7 632.8,251.2 632.9,254.1 633.0,251.0 633.1,242.5 633.2,252.5 633.3,250.5 633.4,246.4 633.5,247.0 633.5,253.6 633.6,253.2 633.7,253.3 633.8,248.6 633.9,245.8 634.0,253.5 634.1,241.0 634.1,242.6 634.2,237.9 634.3,243.3 634.4,246.7 634.5,249.4 634.6,253.0 634.7,252.4 634.8,251.2 634.8,252.6 634.9,250.6 635.0,251.4 635.1,252.6 635.2,235.3 635.3,250.8 635.4,252.8 635.5,251.9 635.5,253.4 635.6,250.0 635.7,250.9 635.8,254.1 635.9,252.6 636.0,250.9 636.1,248.6 636.1,250.7 636.2,248.7 636.3,252.6 636.4,251.5 636.5,247.0 636.6,250.0 636.7,251.4 636.8,244.6 636.8,243.3 636.9,249.5 637.0,251.4 637.1,253.7 637.2,252.7 637.3,248.9 637.4,249.0 637.5,246.2 637.5,248.3 637.6,243.0 637.7,253.7 637.8,245.1 637.9,252.1 638.0,251.2 638.1,254.0 638.2,250.4 638.2,250.6 638.3,252.3 638.4,251.7 638.5,249.8 638.6,250.4 638.7,252.3 638.8,246.7 638.8,250.3 638.9,247.5 639.0,251.2 639.1,249.4 639.2,246.9 639.3,241.7 639.4,252.9 639.5,250.9 639.5,249.2 639.6,249.4 639.7,252.4 639.8,251.4 639.9,249.9 640.0,247.1 640.1,247.1 640.2,249.6 640.2,253.5 640.3,240.3 640.4,251.9 640.5,244.9 640.6,251.8 640.7,252.6 640.8,247.7 640.8,249.5 640.9,244.5 641.0,249.8 641.1,249.5 641.2,251.2 641.3,236.9 641.4,245.4 641.5,254.1 641.5,253.9 641.6,250.4 641.7,252.1 641.8,246.7 641.9,247.7 642.0,244.2 642.1,253.6 642.2,248.7 642.2,254.0 642.3,251.0 642.4,251.5 642.5,252.6 642.6,248.5 642.7,251.6 642.8,252.9 642.8,244.6 642.9,249.3 643.0,247.3 643.1,253.8 643.2,252.2 643.3,244.4 643.4,245.1 643.5,253.8 643.5,253.7 643.6,248.7 643.7,245.0 643.8,248.9 643.9,236.6 644.0,252.4 644.1,250.7 644.2,240.2 644.2,248.8 644.3,245.3 644.4,252.3 644.5,244.0 644.6,249.0 644.7,253.5 644.8,246.2 644.9,248.7 644.9,248.6 645.0,253.8 645.1,252.6 645.2,244.7 645.3,246.6 645.4,249.7 645.5,246.8 645.5,245.8 645.6,245.7 645.7,252.0 645.8,251.5 645.9,248.3 646.0,249.4 646.1,248.2 646.2,249.0 646.2,248.2 646.3,252.4 646.4,254.0 646.5,242.6 646.6,251.7 646.7,251.4 646.8,251.6 646.9,249.9 646.9,247.7 647.0,244.7 647.1,245.8 647.2,252.2 647.3,241.9 647.4,249.7 647.5,251.7 647.5,252.0 647.6,253.8 647.7,252.1 647.8,252.8 647.9,243.5 648.0,249.2 648.1,249.6 648.2,250.3 648.2,252.3 648.3,241.0 648.4,249.9 648.5,248.4 648.6,250.2 648.7,252.9 648.8,251.0 648.9,252.2 648.9,251.0 649.0,242.6 649.1,249.6 649.2,250.1 649.3,254.1 649.4,253.1 649.5,249.2 649.5,252.0 649.6,251.6 649.7,243.5 649.8,251.3 649.9,247.8 650.0,247.1 650.1,250.3 650.2,252.3 650.2,250.9 650.3,253.2 650.4,245.0 650.5,248.1 650.6,245.5 650.7,250.5 650.8,251.3 650.9,254.1 650.9,246.7 651.0,250.6 651.1,246.8 651.2,252.8 651.3,253.1 651.4,247.8 651.5,251.2 651.5,243.8 651.6,250.9 651.7,250.7 651.8,248.0 651.9,250.7 652.0,249.9 652.1,253.0 652.2,251.1 652.2,246.7 652.3,248.1 652.4,253.8 652.5,250.8 652.6,244.8 652.7,244.4 652.8,253.2 652.9,253.3 652.9,252.3 653.0,246.3 653.1,247.3 653.2,253.8 653.3,253.9 653.4,254.2 653.5,252.8 653.5,249.0 653.6,245.6 653.7,236.7 653.8,253.7 653.9,239.0 654.0,245.7 654.1,250.4 654.2,248.8 654.2,250.3 654.3,249.1 654.4,253.0 654.5,253.8 654.6,252.1 654.7,249.5 654.8,248.0 654.9,252.5 654.9,252.9 655.0,249.2 655.1,250.8 655.2,245.6 655.3,246.3 655.4,253.1 655.5,245.5 655.6,248.0 655.6,248.8 655.7,253.4 655.8,253.6 655.9,248.9 656.0,253.4 656.1,249.2 656.2,243.8 656.2,242.7 656.3,246.2 656.4,251.0 656.5,249.2 656.6,250.0 656.7,253.2 656.8,251.5 656.9,252.1 656.9,253.0 657.0,254.0 657.1,252.8 657.2,242.6 657.3,245.3 657.4,250.4 657.5,254.1 657.6,252.2 657.6,240.0 657.7,253.9 657.8,249.6 657.9,252.4 658.0,250.9 658.1,251.1 658.2,234.3 658.2,250.4 658.3,251.3 658.4,249.9 658.5,237.1 658.6,249.8 658.7,253.1 658.8,245.9 658.9,251.2 658.9,251.0 659.0,247.0 659.1,251.8 659.2,253.2 659.3,248.4 659.4,253.4 659.5,251.7 659.6,250.4 659.6,249.5 659.7,250.0 659.8,249.9 659.9,248.6 660.0,252.1 660.1,245.8 660.2,250.9 660.2,248.9 660.3,253.1 660.4,250.2 660.5,254.1 660.6,249.2 660.7,253.2 660.8,250.6 660.9,251.4 660.9,250.2 661.0,253.4 661.1,250.0 661.2,252.7 661.3,250.3 661.4,252.1 661.5,252.9 661.6,248.8 661.6,249.5 661.7,251.7 661.8,251.1 661.9,250.8 662.0,245.6 662.1,248.1 662.2,251.7 662.2,247.4 662.3,250.6 662.4,249.8 662.5,251.5 662.6,251.6 662.7,252.4 662.8,244.3 662.9,249.3 662.9,247.9 663.0,252.7 663.1,253.7 663.2,252.4 663.3,250.2 663.4,247.3 663.5,253.6 663.6,252.6 663.6,250.1 663.7,251.3 663.8,251.9 663.9,252.5 664.0,249.5 664.1,250.8 664.2,254.0 664.3,247.9 664.3,254.0 664.4,245.5 664.5,251.1 664.6,246.8 664.7,251.4 664.8,250.4 664.9,250.3 664.9,253.4 665.0,252.7 665.1,253.2 665.2,251.7 665.3,248.7 665.4,254.4 665.5,237.6 665.6,250.4 665.6,250.5 665.7,251.1 665.8,251.6 665.9,250.3 666.0,249.3 666.1,253.2 666.2,251.2 666.3,249.3 666.3,252.3 666.4,252.4 666.5,252.4 666.6,248.1 666.7,247.5 666.8,249.5 666.9,252.3 666.9,254.2 667.0,248.1 667.1,242.7 667.2,252.7 667.3,252.5 667.4,246.9 667.5,252.5 667.6,250.4 667.6,254.0 667.7,253.3 667.8,251.2 667.9,252.7 668.0,250.9 668.1,247.0 668.2,242.0 668.3,252.1 668.3,251.5 668.4,240.2 668.5,250.4 668.6,253.1 668.7,249.7 668.8,251.2 668.9,253.8 668.9,251.7 669.0,251.1 669.1,245.0 669.2,251.6 669.3,252.8 669.4,254.1 669.5,252.0 669.6,240.5 669.6,246.3 669.7,248.0 669.8,251.9 669.9,247.9 670.0,254.3 670.1,249.7 670.2,252.6 670.3,252.6 670.3,254.4 670.4,250.0 670.5,245.3 670.6,247.0 670.7,253.4 670.8,249.8 670.9,252.0 671.0,252.6 671.0,245.5 671.1,248.3 671.2,249.8 671.3,253.3 671.4,249.4 671.5,244.8 671.6,252.5 671.6,254.4 671.7,252.8 671.8,253.5 671.9,252.2 672.0,246.3 672.1,248.2 672.2,251.7 672.3,247.1 672.3,252.0 672.4,252.9 672.5,254.1 672.6,251.6 672.7,246.9 672.8,254.0 672.9,250.2 673.0,250.6 673.0,252.0 673.1,246.5 673.2,251.4 673.3,252.0 673.4,249.3 673.5,246.5 673.6,247.5 673.6,251.7 673.7,250.3 673.8,249.5 673.9,253.1 674.0,253.1 674.1,250.9 674.2,251.7 674.3,249.8 674.3,252.1 674.4,245.0 674.5,251.1 674.6,252.0 674.7,250.7 674.8,252.8 674.9,250.5 675.0,252.3 675.0,254.0 675.1,253.6 675.2,253.0 675.3,249.2 675.4,248.7 675.5,250.6 675.6,249.8 675.6,252.4 675.7,248.8 675.8,249.8 675.9,254.1 676.0,252.9 676.1,249.8 676.2,253.2 676.3,254.1 676.3,252.7 676.4,249.5 676.5,252.2 676.6,251.0 676.7,241.2 676.8,253.2 676.9,247.9 677.0,251.2 677.0,250.7 677.1,253.5 677.2,252.7 677.3,252.1 677.4,250.3 677.5,251.7 677.6,249.9 677.6,253.1 677.7,251.8 677.8,248.2 677.9,252.5 678.0,253.3 678.1,242.5 678.2,249.7 678.3,250.7 678.3,247.3 678.4,250.5 678.5,250.6 678.6,248.2 678.7,250.0 678.8,248.8 678.9,250.6 679.0,247.7 679.0,254.0 679.1,253.0 679.2,252.7 679.3,252.6 679.4,253.0 679.5,253.7 679.6,254.2 679.6,253.9 679.7,252.0 679.8,253.9 679.9,242.5 680.0,253.2 680.1,247.5 680.2,246.6 680.3,246.6 680.3,250.6 680.4,247.4 680.5,253.8 680.6,245.4 680.7,252.9 680.8,249.8 680.9,252.0 681.0,246.5 681.0,240.1 681.1,253.5 681.2,253.9 681.3,249.3 681.4,248.6 681.5,252.6 681.6,248.6 681.7,246.9 681.7,253.1 681.8,251.5 681.9,253.4 682.0,245.2 682.1,253.4 682.2,251.2 682.3,249.3 682.3,253.1 682.4,253.5 682.5,254.0 682.6,251.8 682.7,253.0 682.8,247.4 682.9,254.0 683.0,246.0 683.0,247.6 683.1,249.9 683.2,252.1 683.3,252.3 683.4,251.4 683.5,242.5 683.6,253.4 683.7,249.6 683.7,246.2 683.8,243.6 683.9,246.3 684.0,251.8 684.1,252.8 684.2,246.0 684.3,253.3 684.3,247.8 684.4,246.7 684.5,243.4 684.6,253.1 684.7,251.1 684.8,252.8 684.9,253.8 685.0,244.6 685.0,253.4 685.1,253.1 685.2,253.3 685.3,253.3 685.4,245.7 685.5,246.7 685.6,248.9 685.7,253.4 685.7,253.6 685.8,253.0 685.9,253.7 686.0,246.2 686.1,246.6 686.2,251.3 686.3,253.9 686.3,253.7 686.4,245.9 686.5,246.9 686.6,252.8 686.7,252.2 686.8,253.2 686.9,248.6 687.0,254.1 687.0,253.1 687.1,251.4 687.2,249.6 687.3,253.6 687.4,252.8 687.5,253.7 687.6,254.1 687.7,250.4 687.7,252.8 687.8,248.9 687.9,252.4 688.0,250.7 688.1,253.5 688.2,250.5 688.3,254.1 688.3,249.1 688.4,247.5 688.5,249.8 688.6,249.9 688.7,247.5 688.8,252.1 688.9,251.6 689.0,251.4 689.0,253.1 689.1,252.4 689.2,252.5 689.3,249.7 689.4,254.2 689.5,253.8 689.6,242.8 689.7,252.8 689.7,242.4 689.8,253.0 689.9,252.1 690.0,238.7 690.1,249.6 690.2,249.8 690.3,252.9 690.4,254.1 690.4,252.8 690.5,252.8 690.6,252.9 690.7,249.3 690.8,252.3 690.9,253.2 691.0,250.7 691.0,247.2 691.1,250.3 691.2,252.1 691.3,253.2 691.4,250.6 691.5,252.4 691.6,253.4 691.7,248.3 691.7,248.0 691.8,249.6 691.9,251.6 692.0,254.0 692.1,251.2 692.2,251.1 692.3,247.3 692.4,250.2 692.4,251.2 692.5,250.0 692.6,250.4 692.7,248.7 692.8,244.4 692.9,251.0 693.0,254.4 693.0,252.6 693.1,253.1 693.2,248.8 693.3,251.3 693.4,252.0 693.5,252.3 693.6,251.5 693.7,251.5 693.7,248.3 693.8,253.1 693.9,251.3 694.0,245.2 694.1,253.0 694.2,254.2 694.3,252.5 694.4,243.5 694.4,251.9 694.5,238.8 694.6,254.4 694.7,251.9 694.8,251.9 694.9,251.6 695.0,252.9 695.0,253.7 695.1,246.8 695.2,251.8 695.3,246.8 695.4,253.9 695.5,247.2 695.6,251.8 695.7,251.9 695.7,251.9 695.8,250.1 695.9,249.8 696.0,252.3 696.1,249.8 696.2,253.5 696.3,252.5 696.4,253.4 696.4,251.2 696.5,250.4 696.6,250.2 696.7,251.8 696.8,254.5 696.9,248.1 697.0,246.7 697.0,244.5 697.1,252.4 697.2,253.4 697.3,246.0 697.4,247.0 697.5,250.4 697.6,249.0 697.7,252.1 697.7,251.5 697.8,246.2 697.9,248.6 698.0,251.8 698.1,253.0 698.2,249.3 698.3,254.1 698.4,245.8 698.4,252.1 698.5,250.7 698.6,251.2 698.7,252.6 698.8,252.5 698.9,250.8 699.0,247.0 699.1,250.4 699.1,252.3 699.2,251.8 699.3,251.2 699.4,253.7 699.5,250.6 699.6,247.2 699.7,253.5 699.7,243.6 699.8,248.1 699.9,253.2 700.0,253.3 700.1,252.5 700.2,250.0 700.3,250.3 700.4,251.7 700.4,246.4 700.5,247.5 700.6,247.9 700.7,250.7 700.8,253.6 700.9,254.3 701.0,238.6 701.1,254.2 701.1,252.1 701.2,251.9 701.3,244.7 701.4,246.3 701.5,253.8 701.6,249.0 701.7,254.2 701.7,250.5 701.8,252.4 701.9,254.2 702.0,250.1 702.1,251.9 702.2,251.8 702.3,253.7 702.4,252.3 702.4,251.8 702.5,251.4 702.6,252.4 702.7,249.0 702.8,254.0 702.9,245.3 703.0,247.9 703.1,252.6 703.1,248.8 703.2,252.0 703.3,247.8 703.4,253.8 703.5,251.2 703.6,252.9 703.7,253.0 703.7,244.3 703.8,251.4 703.9,254.4 704.0,253.5 704.1,252.8 704.2,245.3 704.3,252.1 704.4,250.9 704.4,252.5 704.5,248.7 704.6,252.9 704.7,252.7 704.8,250.6 704.9,251.5 705.0,251.6 705.1,253.7 705.1,252.7 705.2,254.1 705.3,250.7 705.4,250.5 705.5,251.3 705.6,251.1 705.7,250.2 705.8,253.1 705.8,253.6 705.9,253.5 706.0,252.7 706.1,252.6 706.2,251.0 706.3,250.8 706.4,252.6 706.4,245.2 706.5,252.3 706.6,237.6 706.7,253.8 706.8,247.9 706.9,240.7 707.0,252.4 707.1,254.1 707.1,252.1 707.2,251.3 707.3,253.8 707.4,253.7 707.5,253.4 707.6,254.0 707.7,251.1 707.8,249.9 707.8,247.8 707.9,249.6 708.0,252.9 708.1,250.2 708.2,248.2 708.3,251.3 708.4,250.3 708.4,253.6 708.5,253.6 708.6,251.4 708.7,253.7 708.8,252.0 708.9,248.5 709.0,252.4 709.1,253.3 709.1,244.9 709.2,245.5 709.3,252.5 709.4,242.9 709.5,252.9 709.6,242.3 709.7,253.3 709.8,249.6 709.8,247.5 709.9,247.0 710.0,251.0 710.1,250.6 710.2,254.1 710.3,246.7 710.4,250.3 710.4,253.6 710.5,252.4 710.6,251.2 710.7,252.2 710.8,250.9 710.9,253.2 711.0,254.2 711.1,231.2 711.1,254.0 711.2,248.7 711.3,253.9 711.4,253.0 711.5,241.9 711.6,248.1 711.7,253.5 711.8,252.4 711.8,252.0 711.9,251.7 712.0,247.9 712.1,245.9 712.2,253.3 712.3,249.8 712.4,253.5 712.4,251.5 712.5,253.5 712.6,249.8 712.7,245.5 712.8,253.6 712.9,252.3 713.0,248.5 713.1,251.9 713.1,242.5 713.2,254.0 713.3,253.7 713.4,249.5 713.5,251.7 713.6,249.6 713.7,253.3 713.8,248.7 713.8,252.0 713.9,252.5 714.0,253.7 714.1,254.0 714.2,252.3 714.3,252.9 714.4,252.9 714.5,252.1 714.5,253.2 714.6,252.7 714.7,251.7 714.8,250.6 714.9,254.2 715.0,253.5 715.1,250.9 715.1,243.6 715.2,254.4 715.3,252.7 715.4,253.3 715.5,251.1 715.6,253.2 715.7,248.6 715.8,253.7 715.8,251.0 715.9,249.9 716.0,253.2 716.1,248.2 716.2,250.7 716.3,247.7 716.4,249.5 716.5,250.2 716.5,254.1 716.6,249.3 716.7,253.9 716.8,252.0 716.9,254.3 717.0,250.7 717.1,253.3 717.1,253.0 717.2,252.4 717.3,247.6 717.4,251.9 717.5,254.4 717.6,252.7 717.7,254.2 717.8,253.0 717.8,244.8 717.9,254.1 718.0,252.4 718.1,253.2 718.2,245.2 718.3,249.1 718.4,251.8 718.5,253.7 718.5,254.1 718.6,243.1 718.7,252.2 718.8,250.9 718.9,253.8 719.0,253.0 719.1,252.3 719.1,252.5 719.2,253.1 719.3,251.4 719.4,246.9 719.5,251.1 719.6,251.8 719.7,250.6 719.8,254.5 719.8,252.3 719.9,249.9 720.0,254.3 720.1,253.5 720.2,253.6 720.3,251.5 720.4,251.5 720.5,253.0 720.5,253.9 720.6,251.9 720.7,250.3 720.8,252.1 720.9,251.8 721.0,253.6 721.1,251.6 721.1,253.0 721.2,246.0 721.3,253.4 721.4,246.3 721.5,243.2 721.6,253.9 721.7,245.5 721.8,254.2 721.8,253.3 721.9,253.7 722.0,250.5 722.1,253.4 722.2,249.5 722.3,252.9 722.4,253.8 722.5,249.6 722.5,246.3 722.6,254.2 722.7,250.9 722.8,251.0 722.9,249.1 723.0,247.4 723.1,251.0 723.1,254.2 723.2,253.7 723.3,252.5 723.4,252.0 723.5,250.4 723.6,252.2 723.7,252.9 723.8,251.0 723.8,243.8 723.9,251.1 724.0,251.9 724.1,242.8 724.2,244.9 724.3,241.8 724.4,253.0 724.5,247.1 724.5,251.8 724.6,248.5 724.7,247.4 724.8,251.4 724.9,252.4 725.0,248.6 725.1,251.5 725.2,247.8 725.2,250.2 725.3,248.6 725.4,247.5 725.5,252.6 725.6,252.6 725.7,249.1 725.8,253.4 725.8,254.4 725.9,253.0 726.0,252.5 726.1,253.4 726.2,232.3 726.3,250.9 726.4,253.9 726.5,245.0 726.5,252.6 726.6,246.6 726.7,247.6 726.8,250.4 726.9,246.8 727.0,251.0 727.1,253.1 727.2,252.9 727.2,239.6 727.3,250.8 727.4,244.3 727.5,252.9 727.6,251.9 727.7,250.2 727.8,248.7 727.8,252.7 727.9,250.3 728.0,252.5 728.1,252.9 728.2,249.0 728.3,253.5 728.4,249.4 728.5,250.1 728.5,249.2 728.6,252.4 728.7,252.0 728.8,246.0 728.9,251.1 729.0,252.0 729.1,253.4 729.2,249.4 729.2,254.0 729.3,251.7 729.4,252.0 729.5,254.0 729.6,254.1 729.7,254.4 729.8,254.0 729.8,250.0 729.9,251.3 730.0,253.2 730.1,253.7 730.2,248.1 730.3,253.5 730.4,250.3 730.5,248.3 730.5,253.9 730.6,252.3 730.7,252.3 730.8,253.0 730.9,251.9 731.0,252.1 731.1,251.9 731.2,249.2 731.2,254.4 731.3,244.4 731.4,252.3 731.5,250.9 731.6,246.9 731.7,251.9 731.8,248.3 731.8,253.6 731.9,254.1 732.0,253.8 732.1,252.9 732.2,251.2 732.3,254.5 732.4,253.1 732.5,252.0 732.5,249.8 732.6,253.9 732.7,252.0 732.8,251.9 732.9,244.6 733.0,251.3 733.1,253.3 733.2,253.6 733.2,253.7 733.3,254.0 733.4,248.9 733.5,253.6 733.6,253.4 733.7,253.5 733.8,253.5 733.9,251.8 733.9,252.9 734.0,254.4 734.1,244.8 734.2,247.9 734.3,247.5 734.4,247.6 734.5,254.1 734.5,253.8 734.6,248.9 734.7,251.4 734.8,248.7 734.9,252.8 735.0,253.4 735.1,253.4 735.2,250.5 735.2,248.8 735.3,254.0 735.4,253.7 735.5,251.8 735.6,243.7 735.7,250.1 735.8,251.4 735.9,245.1 735.9,254.5 736.0,247.8 736.1,249.3 736.2,252.8 736.3,248.6 736.4,247.4 736.5,250.4 736.5,252.0 736.6,248.0 736.7,253.4 736.8,249.2 736.9,253.9 737.0,249.2 737.1,249.2 737.2,252.3 737.2,252.3 737.3,245.3 737.4,251.0 737.5,253.8 737.6,247.3 737.7,242.2 737.8,246.9 737.9,251.8 737.9,252.7 738.0,254.6 738.1,252.8 738.2,244.7 738.3,246.9 738.4,253.8 738.5,248.3 738.5,251.3 738.6,253.6 738.7,246.3 738.8,248.8 738.9,253.7 739.0,252.8 739.1,250.1 739.2,253.8 739.2,254.0 739.3,252.8 739.4,253.1 739.5,252.3 739.6,252.5 739.7,253.4 739.8,251.2 739.9,250.3 739.9,248.0 740.0,251.0 740.1,252.9 740.2,253.8 740.3,248.8 740.4,253.0 740.5,254.0 740.5,251.5 740.6,245.8 740.7,251.9 740.8,249.1 740.9,243.8 741.0,250.7 741.1,239.1 741.2,250.5 741.2,253.6 741.3,252.7 741.4,250.6 741.5,253.4 741.6,253.1 741.7,249.7 741.8,249.9 741.9,246.9 741.9,249.8 742.0,251.8 742.1,252.0 742.2,245.3 742.3,250.9 742.4,251.2 742.5,243.3 742.6,252.0 742.6,251.7 742.7,252.1 742.8,253.1 742.9,253.3 743.0,252.4 743.1,250.9 743.2,245.4" fill="none" stroke="#ff88bd" stroke-width="0.7" stroke-opacity="1" stroke-linejoin="round" filter="url(#bl)"/>
<line x1="414.3" y1="47.2" x2="414.3" y2="83.8" stroke="#ffc8de" stroke-width="1"/>
<line x1="414.3" y1="83.8" x2="414.3" y2="149.1" stroke="#ff90c0" stroke-width="1"/>
<rect x="657.4" y="21.6" width="93.0" height="33.7" fill="#fff" stroke="#6a6a6a" stroke-width="0.8"/>
<line x1="666.5" y1="30.8" x2="678.6" y2="30.8" stroke="#8a8a8a" stroke-width="1"/>
<text transform="translate(679.30,35.37) scale(0.700,1.000)" text-anchor="start" font-size="10.2" fill="#303030" stroke="#303030" stroke-width="0.3" font-family="Liberation Sans, Arial, sans-serif" >VGG16</text>
<line x1="666.5" y1="46.7" x2="678.6" y2="46.7" stroke="#ffb0d0" stroke-width="1"/>
<text transform="translate(679.30,51.27) scale(0.700,1.000)" text-anchor="start" font-size="10.2" fill="#303030" stroke="#303030" stroke-width="0.3" font-family="Liberation Sans, Arial, sans-serif" >InceptionResnet-V2</text>
<text transform="translate(576.30,313.90) scale(1.000,1.000)" text-anchor="middle" font-size="16" fill="#111111" stroke="#111111" stroke-width="0" font-family="Liberation Sans, Arial, sans-serif" >(b)</text>
<line x1="216.6" y1="342.7" x2="566.8" y2="342.7" stroke="#8a8a8a" stroke-width="1"/>
<line x1="216.6" y1="587.2" x2="566.8" y2="587.2" stroke="#a0a0a0" stroke-width="1"/>
<line x1="216.6" y1="342.7" x2="216.6" y2="587.2" stroke="#8a8a8a" stroke-width="1"/>
<line x1="566.8" y1="342.7" x2="566.8" y2="587.2" stroke="#ececec" stroke-width="1"/>
<text transform="translate(216.30,603.00) scale(0.700,1.000)" text-anchor="middle" font-size="10.8" fill="#404040" stroke="#404040" stroke-width="0.3" font-family="Liberation Sans, Arial, sans-serif" >0</text>
<line x1="260.0" y1="342.7" x2="260.0" y2="346.7" stroke="#505050" stroke-width="0.8"/>
<text transform="translate(260.00,603.00) scale(0.700,1.000)" text-anchor="middle" font-size="10.8" fill="#404040" stroke="#404040" stroke-width="0.3" font-family="Liberation Sans, Arial, sans-serif" >500</text>
<line x1="303.7" y1="342.7" x2="303.7" y2="346.7" stroke="#cfcfcf" stroke-width="0.8"/>
<text transform="translate(303.70,603.00) scale(0.700,1.000)" text-anchor="middle" font-size="10.8" fill="#404040" stroke="#404040" stroke-width="0.3" font-family="Liberation Sans, Arial, sans-serif" >1000</text>
<line x1="347.4" y1="342.7" x2="347.4" y2="346.7" stroke="#cfcfcf" stroke-width="0.8"/>
<text transform="translate(347.40,603.00) scale(0.700,1.000)" text-anchor="middle" font-size="10.8" fill="#404040" stroke="#404040" stroke-width="0.3" font-family="Liberation Sans, Arial, sans-serif" >1500</text>
<line x1="391.1" y1="342.7" x2="391.1" y2="346.7" stroke="#cfcfcf" stroke-width="0.8"/>
<text transform="translate(391.10,603.00) scale(0.700,1.000)" text-anchor="middle" font-size="10.8" fill="#404040" stroke="#404040" stroke-width="0.3" font-family="Liberation Sans, Arial, sans-serif" >2000</text>
<line x1="434.8" y1="342.7" x2="434.8" y2="346.7" stroke="#606060" stroke-width="0.8"/>
<text transform="translate(434.80,603.00) scale(0.700,1.000)" text-anchor="middle" font-size="10.8" fill="#404040" stroke="#404040" stroke-width="0.3" font-family="Liberation Sans, Arial, sans-serif" >2500</text>
<line x1="478.5" y1="342.7" x2="478.5" y2="346.7" stroke="#cfcfcf" stroke-width="0.8"/>
<text transform="translate(478.50,603.00) scale(0.700,1.000)" text-anchor="middle" font-size="10.8" fill="#404040" stroke="#404040" stroke-width="0.3" font-family="Liberation Sans, Arial, sans-serif" >3000</text>
<line x1="522.2" y1="342.7" x2="522.2" y2="346.7" stroke="#cfcfcf" stroke-width="0.8"/>
<text transform="translate(522.20,603.00) scale(0.700,1.000)" text-anchor="middle" font-size="10.8" fill="#404040" stroke="#404040" stroke-width="0.3" font-family="Liberation Sans, Arial, sans-serif" >3500</text>
<line x1="546.7" y1="342.7" x2="546.7" y2="346.7" stroke="#f6f6f6" stroke-width="0.8"/>
<text transform="translate(546.67,603.00) scale(0.700,1.000)" text-anchor="middle" font-size="10.8" fill="#404040" stroke="#404040" stroke-width="0.3" font-family="Liberation Sans, Arial, sans-serif" >3780</text>
<line x1="216.6" y1="552.3" x2="220.1" y2="552.3" stroke="#a0a0a0" stroke-width="0.8"/>
<line x1="563.3" y1="552.3" x2="566.8" y2="552.3" stroke="#505050" stroke-width="0.8"/>
<text transform="translate(214.10,556.16) scale(0.700,1.000)" text-anchor="end" font-size="10.8" fill="#404040" stroke="#404040" stroke-width="0.3" font-family="Liberation Sans, Arial, sans-serif" >0.5</text>
<line x1="216.6" y1="517.3" x2="220.1" y2="517.3" stroke="#a0a0a0" stroke-width="0.8"/>
<line x1="563.3" y1="517.3" x2="566.8" y2="517.3" stroke="#505050" stroke-width="0.8"/>
<text transform="translate(214.10,521.23) scale(0.700,1.000)" text-anchor="end" font-size="10.8" fill="#404040" stroke="#404040" stroke-width="0.3" font-family="Liberation Sans, Arial, sans-serif" >1</text>
<line x1="216.6" y1="482.4" x2="220.1" y2="482.4" stroke="#a0a0a0" stroke-width="0.8"/>
<line x1="563.3" y1="482.4" x2="566.8" y2="482.4" stroke="#505050" stroke-width="0.8"/>
<text transform="translate(214.10,486.30) scale(0.700,1.000)" text-anchor="end" font-size="10.8" fill="#404040" stroke="#404040" stroke-width="0.3" font-family="Liberation Sans, Arial, sans-serif" >1.5</text>
<line x1="216.6" y1="447.5" x2="220.1" y2="447.5" stroke="#a0a0a0" stroke-width="0.8"/>
<line x1="563.3" y1="447.5" x2="566.8" y2="447.5" stroke="#505050" stroke-width="0.8"/>
<text transform="translate(214.10,451.37) scale(0.700,1.000)" text-anchor="end" font-size="10.8" fill="#404040" stroke="#404040" stroke-width="0.3" font-family="Liberation Sans, Arial, sans-serif" >2</text>
<line x1="216.6" y1="412.6" x2="220.1" y2="412.6" stroke="#a0a0a0" stroke-width="0.8"/>
<line x1="563.3" y1="412.6" x2="566.8" y2="412.6" stroke="#505050" stroke-width="0.8"/>
<text transform="translate(214.10,416.45) scale(0.700,1.000)" text-anchor="end" font-size="10.8" fill="#404040" stroke="#404040" stroke-width="0.3" font-family="Liberation Sans, Arial, sans-serif" >2.5</text>
<line x1="216.6" y1="377.6" x2="220.1" y2="377.6" stroke="#a0a0a0" stroke-width="0.8"/>
<line x1="563.3" y1="377.6" x2="566.8" y2="377.6" stroke="#505050" stroke-width="0.8"/>
<text transform="translate(214.10,381.52) scale(0.700,1.000)" text-anchor="end" font-size="10.8" fill="#404040" stroke="#404040" stroke-width="0.3" font-family="Liberation Sans, Arial, sans-serif" >3</text>
<text transform="translate(214.10,346.59) scale(0.700,1.000)" text-anchor="end" font-size="10.8" fill="#404040" stroke="#404040" stroke-width="0.3" font-family="Liberation Sans, Arial, sans-serif" >3.5</text>
<text transform="translate(391.10,612.90) scale(0.745,1.000)" text-anchor="middle" font-size="11.5" fill="#404040" stroke="#404040" stroke-width="0.3" font-family="Liberation Sans, Arial, sans-serif" >Image Number</text>
<text transform="translate(200.00,460.30) rotate(-90) scale(1.065,0.700)" text-anchor="middle" font-size="12" fill="#404040" stroke="#404040" stroke-width="0.12" font-family="Liberation Sans, Arial, sans-serif" >Training Loss</text>
<polyline points="216.3,447.5 216.4,455.2 216.5,462.3 216.6,468.6 216.6,474.9 216.7,481.4 216.8,487.6 216.9,493.3 217.0,498.6 217.1,502.7 217.2,507.1 217.3,509.9 217.3,513.1 217.4,509.6 217.5,515.1 217.6,518.8 217.7,519.5 217.8,514.6 217.9,521.2 218.0,525.5 218.0,523.2 218.1,526.9 218.2,523.3 218.3,533.0 218.4,529.3 218.5,534.6 218.6,537.4 218.7,538.4 218.7,537.4 218.8,536.7 218.9,538.0 219.0,538.8 219.1,535.7 219.2,532.0 219.3,542.1 219.4,540.2 219.4,543.5 219.5,543.9 219.6,542.3 219.7,544.8 219.8,541.4 219.9,540.1 220.0,540.7 220.1,544.4 220.1,550.3 220.2,549.0 220.3,550.3 220.4,550.2 220.5,551.4 220.6,547.0 220.7,550.7 220.8,552.3 220.8,548.3 220.9,554.5 221.0,552.8 221.1,551.6 221.2,551.1 221.3,554.1 221.4,546.4 221.5,554.7 221.5,548.9 221.6,550.7 221.7,552.0 221.8,551.5 221.9,554.0 222.0,554.7 222.1,550.9 222.2,557.9 222.2,554.4 222.3,548.7 222.4,544.5 222.5,555.8 222.6,557.3 222.7,555.9 222.8,557.7 222.9,560.7 222.9,555.9 223.0,556.1 223.1,552.6 223.2,557.8 223.3,560.6 223.4,561.6 223.5,561.4 223.6,558.1 223.6,562.8 223.7,555.8 223.8,553.7 223.9,560.7 224.0,556.1 224.1,558.8 224.2,561.9 224.3,557.1 224.3,561.1 224.4,557.2 224.5,561.2 224.6,560.2 224.7,562.3 224.8,565.2 224.9,565.2 225.0,562.6 225.0,563.8 225.1,559.3 225.2,564.3 225.3,561.4 225.4,562.3 225.5,562.1 225.6,564.5 225.7,562.3 225.7,557.3 225.8,561.5 225.9,558.4 226.0,561.4 226.1,558.0 226.2,560.1 226.3,559.5 226.4,564.1 226.4,564.1 226.5,565.9 226.6,564.8 226.7,561.8 226.8,562.3 226.9,555.8 227.0,559.3 227.1,551.7 227.1,559.0 227.2,564.3 227.3,563.7 227.4,561.0 227.5,566.8 227.6,566.3 227.7,568.5 227.7,562.6 227.8,562.9 227.9,560.9 228.0,561.9 228.1,567.5 228.2,566.1 228.3,558.0 228.4,558.0 228.4,564.8 228.5,566.6 228.6,558.7 228.7,568.2 228.8,561.7 228.9,567.6 229.0,559.1 229.1,564.7 229.1,566.3 229.2,567.8 229.3,554.9 229.4,563.1 229.5,561.6 229.6,562.8 229.7,567.1 229.8,571.0 229.8,568.1 229.9,566.1 230.0,567.4 230.1,565.3 230.2,568.2 230.3,552.2 230.4,566.6 230.5,565.8 230.5,567.7 230.6,558.7 230.7,568.6 230.8,571.5 230.9,566.4 231.0,568.9 231.1,565.4 231.2,565.3 231.2,567.1 231.3,569.9 231.4,566.4 231.5,568.9 231.6,569.1 231.7,563.9 231.8,564.9 231.9,566.4 231.9,571.8 232.0,567.0 232.1,564.1 232.2,570.1 232.3,567.2 232.4,571.1 232.5,565.1 232.6,571.1 232.6,568.7 232.7,562.0 232.8,571.1 232.9,563.6 233.0,570.2 233.1,567.7 233.2,572.0 233.3,565.8 233.3,566.7 233.4,566.5 233.5,565.7 233.6,571.3 233.7,568.4 233.8,573.3 233.9,553.4 234.0,570.2 234.0,572.9 234.1,568.7 234.2,564.8 234.3,551.0 234.4,572.2 234.5,567.6 234.6,571.7 234.7,568.0 234.7,565.5 234.8,563.5 234.9,566.2 235.0,566.1 235.1,555.7 235.2,554.5 235.3,561.8 235.4,567.4 235.4,573.0 235.5,567.7 235.6,570.3 235.7,570.7 235.8,564.1 235.9,567.3 236.0,571.1 236.1,549.7 236.1,570.1 236.2,567.5 236.3,572.8 236.4,560.7 236.5,568.5 236.6,566.9 236.7,569.6 236.8,574.5 236.8,561.6 236.9,572.3 237.0,569.3 237.1,567.9 237.2,570.0 237.3,571.6 237.4,564.9 237.5,574.3 237.5,568.5 237.6,568.0 237.7,572.4 237.8,569.7 237.9,565.9 238.0,569.9 238.1,573.4 238.2,566.6 238.2,576.8 238.3,571.5 238.4,572.9 238.5,572.3 238.6,574.3 238.7,573.0 238.8,572.4 238.8,566.7 238.9,567.3 239.0,575.2 239.1,572.3 239.2,567.0 239.3,573.3 239.4,566.6 239.5,554.4 239.5,575.6 239.6,574.7 239.7,573.3 239.8,571.3 239.9,576.2 240.0,568.5 240.1,563.9 240.2,567.7 240.2,573.9 240.3,563.6 240.4,567.5 240.5,569.2 240.6,566.0 240.7,569.8 240.8,571.2 240.9,569.6 240.9,566.7 241.0,571.0 241.1,571.0 241.2,568.8 241.3,566.2 241.4,572.3 241.5,569.5 241.6,575.6 241.6,567.2 241.7,571.6 241.8,563.9 241.9,574.8 242.0,569.4 242.1,574.0 242.2,567.8 242.3,568.5 242.3,575.1 242.4,572.2 242.5,576.6 242.6,573.9 242.7,565.6 242.8,570.2 242.9,575.7 243.0,573.6 243.0,575.1 243.1,569.7 243.2,567.5 243.3,572.9 243.4,569.6 243.5,575.4 243.6,573.3 243.7,575.0 243.7,575.1 243.8,576.5 243.9,575.0 244.0,570.9 244.1,577.6 244.2,569.1 244.3,568.2 244.4,569.6 244.4,568.1 244.5,575.6 244.6,557.7 244.7,575.6 244.8,570.9 244.9,573.1 245.0,576.7 245.1,571.0 245.1,570.0 245.2,567.5 245.3,577.1 245.4,576.0 245.5,575.4 245.6,563.2 245.7,569.3 245.8,566.7 245.8,569.5 245.9,570.5 246.0,573.7 246.1,576.9 246.2,575.0 246.3,570.1 246.4,573.9 246.5,568.9 246.5,565.6 246.6,567.1 246.7,571.2 246.8,573.9 246.9,567.9 247.0,576.7 247.1,573.2 247.2,575.6 247.2,570.9 247.3,575.8 247.4,569.2 247.5,572.0 247.6,572.0 247.7,574.0 247.8,571.2 247.9,577.1 247.9,577.5 248.0,572.9 248.1,576.4 248.2,574.4 248.3,577.2 248.4,575.4 248.5,573.0 248.6,570.2 248.6,576.5 248.7,573.5 248.8,567.5 248.9,570.8 249.0,575.8 249.1,571.9 249.2,576.1 249.2,572.5 249.3,574.3 249.4,576.4 249.5,571.7 249.6,574.0 249.7,576.3 249.8,577.8 249.9,575.1 249.9,566.2 250.0,570.6 250.1,572.1 250.2,577.7 250.3,577.4 250.4,569.7 250.5,577.6 250.6,577.7 250.6,573.7 250.7,571.3 250.8,575.7 250.9,569.1 251.0,575.9 251.1,577.8 251.2,575.1 251.3,575.4 251.3,567.8 251.4,577.0 251.5,575.0 251.6,573.0 251.7,572.4 251.8,578.4 251.9,573.0 252.0,574.8 252.0,576.9 252.1,572.2 252.2,578.4 252.3,573.7 252.4,576.4 252.5,576.3 252.6,577.3 252.7,576.4 252.7,576.2 252.8,574.0 252.9,577.3 253.0,578.2 253.1,573.7 253.2,574.8 253.3,576.5 253.4,577.3 253.4,563.1 253.5,575.8 253.6,577.7 253.7,568.5 253.8,575.4 253.9,572.2 254.0,572.0 254.1,576.4 254.1,573.0 254.2,572.0 254.3,575.0 254.4,571.3 254.5,580.5 254.6,577.1 254.7,574.9 254.8,570.9 254.8,577.9 254.9,578.8 255.0,576.6 255.1,567.4 255.2,575.9 255.3,580.1 255.4,577.5 255.5,579.1 255.5,576.2 255.6,577.4 255.7,569.3 255.8,577.4 255.9,578.5 256.0,573.8 256.1,570.6 256.2,569.4 256.2,577.9 256.3,574.5 256.4,567.3 256.5,574.8 256.6,577.8 256.7,570.1 256.8,578.7 256.9,573.8 256.9,570.5 257.0,571.1 257.1,562.6 257.2,580.0 257.3,568.8 257.4,578.9 257.5,574.4 257.6,579.2 257.6,573.2 257.7,568.9 257.8,573.4 257.9,576.0 258.0,577.0 258.1,578.6 258.2,577.8 258.3,576.3 258.3,564.3 258.4,580.3 258.5,575.5 258.6,575.1 258.7,569.8 258.8,577.9 258.9,577.4 259.0,575.5 259.0,576.7 259.1,575.0 259.2,572.2 259.3,566.9 259.4,575.9 259.5,571.0 259.6,577.2 259.7,576.7 259.7,581.5 259.8,578.9 259.9,576.2 260.0,575.9 260.1,570.5 260.2,572.6 260.3,568.4 260.3,579.4 260.4,571.9 260.5,576.4 260.6,581.0 260.7,569.9 260.8,572.3 260.9,581.4 261.0,576.1 261.0,577.8 261.1,573.4 261.2,578.0 261.3,573.2 261.4,579.9 261.5,581.8 261.6,575.4 261.7,576.5 261.7,573.2 261.8,579.8 261.9,575.5 262.0,579.3 262.1,576.1 262.2,579.0 262.3,575.9 262.4,569.2 262.4,569.7 262.5,577.9 262.6,581.9 262.7,577.2 262.8,574.9 262.9,576.3 263.0,578.6 263.1,581.1 263.1,580.6 263.2,578.7 263.3,569.4 263.4,578.0 263.5,576.4 263.6,571.8 263.7,576.5 263.8,572.9 263.8,570.7 263.9,575.3 264.0,579.5 264.1,580.3 264.2,568.4 264.3,575.4 264.4,573.5 264.5,579.8 264.5,575.1 264.6,574.3 264.7,573.9 264.8,578.4 264.9,579.9 265.0,568.9 265.1,580.6 265.2,577.7 265.2,575.7 265.3,578.6 265.4,577.2 265.5,577.2 265.6,575.2 265.7,576.0 265.8,571.6 265.9,569.2 265.9,573.4 266.0,579.7 266.1,574.9 266.2,574.8 266.3,577.6 266.4,578.1 266.5,581.2 266.6,571.8 266.6,575.1 266.7,576.5 266.8,576.9 266.9,574.7 267.0,571.9 267.1,578.1 267.2,580.8 267.3,580.3 267.3,571.4 267.4,560.2 267.5,576.9 267.6,577.2 267.7,575.4 267.8,579.1 267.9,574.2 268.0,581.3 268.0,574.7 268.1,581.8 268.2,581.3 268.3,572.8 268.4,576.2 268.5,574.1 268.6,569.2 268.7,581.2 268.7,576.0 268.8,575.9 268.9,565.5 269.0,575.7 269.1,577.0 269.2,578.3 269.3,576.8 269.4,572.1 269.4,571.3 269.5,570.2 269.6,579.3 269.7,577.1 269.8,572.4 269.9,578.6 270.0,577.5 270.1,572.1 270.1,574.4 270.2,576.0 270.3,577.7 270.4,573.3 270.5,576.2 270.6,574.5 270.7,581.6 270.8,579.4 270.8,580.7 270.9,572.2 271.0,581.1 271.1,578.2 271.2,577.7 271.3,581.0 271.4,582.3 271.4,574.8 271.5,577.7 271.6,581.0 271.7,575.9 271.8,580.4 271.9,574.0 272.0,571.0 272.1,581.5 272.1,577.1 272.2,571.2 272.3,575.4 272.4,579.2 272.5,572.1 272.6,576.4 272.7,578.2 272.8,577.4 272.8,574.1 272.9,577.1 273.0,575.2 273.1,580.3 273.2,580.4 273.3,576.9 273.4,582.3 273.5,572.7 273.5,581.2 273.6,567.7 273.7,574.4 273.8,579.5 273.9,577.2 274.0,579.5 274.1,580.0 274.2,579.5 274.2,581.3 274.3,570.0 274.4,579.2 274.5,579.4 274.6,577.0 274.7,575.0 274.8,574.8 274.9,569.5 274.9,573.1 275.0,570.4 275.1,577.3 275.2,575.5 275.3,566.9 275.4,579.0 275.5,582.9 275.6,579.4 275.6,573.0 275.7,581.0 275.8,581.6 275.9,578.2 276.0,574.0 276.1,576.6 276.2,576.7 276.3,567.3 276.3,578.5 276.4,576.2 276.5,573.6 276.6,578.7 276.7,569.2 276.8,579.3 276.9,578.6 277.0,564.5 277.0,579.3 277.1,578.8 277.2,580.7 277.3,574.3 277.4,571.9 277.5,579.4 277.6,580.4 277.7,570.1 277.7,578.3 277.8,570.8 277.9,578.2 278.0,581.7 278.1,581.0 278.2,579.3 278.3,578.3 278.4,576.9 278.4,576.1 278.5,577.8 278.6,572.6 278.7,581.9 278.8,579.4 278.9,580.2 279.0,576.6 279.1,581.2 279.1,575.8 279.2,572.6 279.3,571.8 279.4,574.5 279.5,576.7 279.6,578.5 279.7,580.2 279.8,580.9 279.8,580.0 279.9,577.1 280.0,580.9 280.1,579.0 280.2,577.5 280.3,578.4 280.4,579.7 280.5,579.7 280.5,579.9 280.6,578.1 280.7,571.6 280.8,577.6 280.9,577.4 281.0,578.9 281.1,580.1 281.2,581.1 281.2,576.5 281.3,577.3 281.4,578.8 281.5,576.3 281.6,574.7 281.7,578.2 281.8,571.4 281.9,574.3 281.9,577.2 282.0,575.3 282.1,577.0 282.2,574.5 282.3,558.1 282.4,573.0 282.5,580.2 282.5,580.4 282.6,583.2 282.7,568.1 282.8,575.9 282.9,574.3 283.0,578.9 283.1,573.7 283.2,579.5 283.2,579.9 283.3,579.6 283.4,573.1 283.5,580.3 283.6,582.5 283.7,581.7 283.8,581.9 283.9,580.3 283.9,571.8 284.0,579.7 284.1,580.8 284.2,579.7 284.3,577.7 284.4,579.3 284.5,577.0 284.6,578.0 284.6,576.9 284.7,580.8 284.8,579.3 284.9,575.1 285.0,580.0 285.1,581.5 285.2,574.4 285.3,576.4 285.3,575.0 285.4,575.4 285.5,581.9 285.6,575.4 285.7,579.7 285.8,583.3 285.9,579.2 286.0,577.2 286.0,575.9 286.1,578.1 286.2,573.3 286.3,574.0 286.4,579.5 286.5,580.6 286.6,578.4 286.7,578.2 286.7,579.9 286.8,579.4 286.9,581.4 287.0,575.8 287.1,580.3 287.2,577.5 287.3,579.1 287.4,580.5 287.4,579.8 287.5,571.6 287.6,577.9 287.7,572.5 287.8,573.1 287.9,579.4 288.0,576.7 288.1,578.8 288.1,580.9 288.2,580.2 288.3,579.5 288.4,577.8 288.5,578.2 288.6,580.4 288.7,582.9 288.8,581.2 288.8,579.3 288.9,574.4 289.0,580.8 289.1,582.5 289.2,577.1 289.3,575.5 289.4,580.8 289.5,581.6 289.5,577.6 289.6,573.6 289.7,579.0 289.8,576.2 289.9,580.6 290.0,581.6 290.1,576.2 290.2,578.1 290.2,581.3 290.3,576.5 290.4,576.8 290.5,581.7 290.6,579.5 290.7,582.2 290.8,579.8 290.9,583.6 290.9,579.9 291.0,582.7 291.1,580.1 291.2,583.8 291.3,580.7 291.4,577.2 291.5,580.2 291.6,582.9 291.6,573.8 291.7,576.3 291.8,576.3 291.9,579.2 292.0,576.9 292.1,578.3 292.2,581.4 292.3,579.5 292.3,582.3 292.4,576.0 292.5,581.8 292.6,581.0 292.7,576.8 292.8,579.2 292.9,581.7 292.9,572.5 293.0,581.7 293.1,582.8 293.2,579.2 293.3,580.7 293.4,573.6 293.5,583.0 293.6,576.1 293.6,578.0 293.7,580.4 293.8,578.4 293.9,578.9 294.0,580.2 294.1,582.8 294.2,582.7 294.3,571.6 294.3,573.7 294.4,579.1 294.5,581.2 294.6,581.0 294.7,578.2 294.8,581.9 294.9,579.9 295.0,580.7 295.0,580.9 295.1,573.2 295.2,579.9 295.3,579.4 295.4,573.7 295.5,580.6 295.6,580.4 295.7,581.0 295.7,575.0 295.8,583.5 295.9,577.3 296.0,577.5 296.1,578.1 296.2,579.8 296.3,575.2 296.4,583.4 296.4,577.2 296.5,578.5 296.6,578.7 296.7,573.2 296.8,582.4 296.9,580.1 297.0,574.3 297.1,569.7 297.1,578.6 297.2,569.7 297.3,583.1 297.4,581.3 297.5,582.2 297.6,582.2 297.7,568.1 297.8,575.6 297.8,580.7 297.9,577.8 298.0,581.8 298.1,577.9 298.2,580.9 298.3,580.3 298.4,572.9 298.5,581.9 298.5,580.3 298.6,581.6 298.7,583.4 298.8,583.2 298.9,578.7 299.0,579.6 299.1,579.6 299.2,580.0 299.2,579.4 299.3,576.7 299.4,578.9 299.5,580.2 299.6,581.9 299.7,583.2 299.8,582.3 299.9,580.4 299.9,582.2 300.0,580.0 300.1,581.6 300.2,580.0 300.3,580.6 300.4,572.7 300.5,579.1 300.6,579.5 300.6,582.1 300.7,581.6 300.8,572.7 300.9,582.3 301.0,574.6 301.1,572.9 301.2,580.3 301.3,575.9 301.3,581.5 301.4,583.0 301.5,580.7 301.6,581.9 301.7,576.3 301.8,583.5 301.9,582.7 302.0,584.0 302.0,576.5 302.1,580.7 302.2,581.7 302.3,575.3 302.4,582.7 302.5,580.9 302.6,578.8 302.7,578.7 302.7,582.4 302.8,581.1 302.9,580.8 303.0,579.4 303.1,577.6 303.2,577.1 303.3,577.5 303.4,581.4 303.4,579.8 303.5,577.8 303.6,576.5 303.7,575.8 303.8,580.8 303.9,580.9 304.0,572.8 304.0,580.9 304.1,584.6 304.2,584.2 304.3,575.2 304.4,583.1 304.5,584.4 304.6,579.9 304.7,581.8 304.7,581.8 304.8,581.7 304.9,584.5 305.0,579.4 305.1,578.7 305.2,582.6 305.3,579.7 305.4,581.9 305.4,584.5 305.5,574.1 305.6,578.7 305.7,582.4 305.8,578.7 305.9,573.8 306.0,580.2 306.1,582.8 306.1,581.7 306.2,578.2 306.3,581.7 306.4,573.1 306.5,579.5 306.6,571.1 306.7,582.1 306.8,580.1 306.8,580.4 306.9,579.3 307.0,580.0 307.1,582.8 307.2,581.6 307.3,580.6 307.4,577.6 307.5,583.1 307.5,573.8 307.6,571.2 307.7,580.4 307.8,578.9 307.9,575.4 308.0,580.7 308.1,579.0 308.2,578.0 308.2,578.7 308.3,582.3 308.4,582.9 308.5,577.5 308.6,575.5 308.7,583.5 308.8,580.9 308.9,582.0 308.9,583.5 309.0,578.5 309.1,582.6 309.2,578.9 309.3,578.7 309.4,580.2 309.5,580.9 309.6,580.7 309.6,580.7 309.7,584.6 309.8,582.7 309.9,581.9 310.0,583.7 310.1,581.4 310.2,575.7 310.3,581.5 310.3,582.6 310.4,579.8 310.5,580.6 310.6,582.0 310.7,578.6 310.8,582.3 310.9,584.1 311.0,583.6 311.0,581.3 311.1,582.2 311.2,584.0 311.3,579.2 311.4,582.1 311.5,581.9 311.6,583.2 311.7,582.5 311.7,577.2 311.8,578.1 311.9,578.7 312.0,577.2 312.1,580.0 312.2,578.4 312.3,580.7 312.4,581.6 312.4,581.1 312.5,581.8 312.6,582.3 312.7,580.7 312.8,582.6 312.9,582.2 313.0,580.9 313.1,584.5 313.1,584.0 313.2,581.4 313.3,576.3 313.4,573.9 313.5,581.4 313.6,579.9 313.7,573.6 313.8,581.1 313.8,581.7 313.9,574.1 314.0,580.5 314.1,573.1 314.2,581.7 314.3,578.5 314.4,578.9 314.5,581.5 314.5,582.0 314.6,578.1 314.7,579.5 314.8,581.5 314.9,580.9 315.0,575.4 315.1,579.9 315.1,583.5 315.2,573.8 315.3,574.5 315.4,581.8 315.5,577.8 315.6,580.6 315.7,582.4 315.8,583.0 315.8,579.4 315.9,581.3 316.0,580.1 316.1,581.8 316.2,581.1 316.3,582.2 316.4,582.9 316.5,581.3 316.5,582.3 316.6,581.7 316.7,582.0 316.8,583.0 316.9,576.5 317.0,584.1 317.1,580.7 317.2,580.4 317.2,583.9 317.3,584.0 317.4,579.6 317.5,585.1 317.6,581.1 317.7,582.5 317.8,578.1 317.9,579.0 317.9,584.5 318.0,577.0 318.1,578.7 318.2,580.9 318.3,582.6 318.4,583.4 318.5,582.3 318.6,577.4 318.6,577.6 318.7,583.5 318.8,575.9 318.9,573.0 319.0,578.5 319.1,582.5 319.2,583.0 319.3,582.0 319.3,582.9 319.4,585.2 319.5,580.7 319.6,583.4 319.7,580.7 319.8,582.7 319.9,583.4 320.0,578.1 320.0,571.6 320.1,580.0 320.2,578.4 320.3,582.0 320.4,583.8 320.5,580.7 320.6,581.1 320.7,583.7 320.7,580.5 320.8,580.7 320.9,579.8 321.0,581.9 321.1,580.0 321.2,580.3 321.3,582.8 321.4,581.8 321.4,579.3 321.5,581.2 321.6,576.5 321.7,579.4 321.8,580.3 321.9,581.8 322.0,580.4 322.1,581.9 322.1,582.0 322.2,582.3 322.3,584.3 322.4,584.4 322.5,582.5 322.6,581.4 322.7,582.5 322.8,583.3 322.8,577.5 322.9,580.0 323.0,580.5 323.1,575.8 323.2,578.5 323.3,583.9 323.4,583.2 323.5,584.6 323.5,579.1 323.6,582.0 323.7,579.7 323.8,582.1 323.9,581.3 324.0,580.4 324.1,579.4 324.2,577.7 324.2,582.1 324.3,585.2 324.4,579.3 324.5,577.2 324.6,582.2 324.7,584.1 324.8,581.8 324.9,581.1 324.9,582.7 325.0,577.9 325.1,579.4 325.2,576.9 325.3,576.8 325.4,583.7 325.5,576.5 325.6,581.6 325.6,578.6 325.7,575.5 325.8,573.0 325.9,583.9 326.0,581.6 326.1,576.9 326.2,583.8 326.2,579.1 326.3,584.2 326.4,580.8 326.5,583.7 326.6,582.8 326.7,570.8 326.8,581.1 326.9,575.9 326.9,582.5 327.0,585.0 327.1,583.1 327.2,574.1 327.3,582.1 327.4,584.7 327.5,578.3 327.6,584.1 327.6,575.1 327.7,581.6 327.8,582.6 327.9,580.1 328.0,581.0 328.1,582.2 328.2,583.2 328.3,576.3 328.3,580.7 328.4,582.4 328.5,584.5 328.6,578.7 328.7,582.6 328.8,583.9 328.9,582.4 329.0,579.3 329.0,578.0 329.1,583.2 329.2,579.0 329.3,580.5 329.4,577.6 329.5,580.2 329.6,573.6 329.7,580.0 329.7,585.6 329.8,581.9 329.9,583.5 330.0,581.4 330.1,582.8 330.2,578.8 330.3,577.4 330.4,578.2 330.4,582.1 330.5,582.3 330.6,583.6 330.7,579.5 330.8,582.4 330.9,582.7 331.0,582.2 331.1,582.6 331.1,584.1 331.2,578.9 331.3,580.9 331.4,585.4 331.5,578.1 331.6,584.3 331.7,575.6 331.8,580.8 331.8,583.0 331.9,583.3 332.0,580.6 332.1,583.5 332.2,581.4 332.3,583.7 332.4,576.2 332.5,580.2 332.5,582.1 332.6,580.9 332.7,582.7 332.8,581.8 332.9,583.0 333.0,581.9 333.1,584.2 333.2,581.9 333.2,585.2 333.3,579.3 333.4,580.1 333.5,580.7 333.6,578.8 333.7,579.9 333.8,578.1 333.9,575.4 333.9,578.9 334.0,583.5 334.1,581.9 334.2,581.2 334.3,581.7 334.4,583.5 334.5,583.5 334.6,578.0 334.6,581.3 334.7,579.2 334.8,583.9 334.9,578.3 335.0,583.6 335.1,583.4 335.2,581.6 335.3,578.8 335.3,583.5 335.4,580.0 335.5,581.2 335.6,579.1 335.7,582.1 335.8,576.3 335.9,581.4 336.0,583.0 336.0,574.4 336.1,582.1 336.2,577.5 336.3,576.8 336.4,580.0 336.5,583.2 336.6,583.3 336.6,581.5 336.7,583.2 336.8,580.5 336.9,580.9 337.0,581.8 337.1,582.1 337.2,582.9 337.3,579.4 337.3,578.6 337.4,579.2 337.5,567.9 337.6,578.3 337.7,585.1 337.8,581.9 337.9,582.2 338.0,582.7 338.0,577.8 338.1,582.0 338.2,578.5 338.3,584.6 338.4,583.2 338.5,582.1 338.6,584.6 338.7,584.0 338.7,580.0 338.8,581.0 338.9,584.4 339.0,579.6 339.1,585.4 339.2,581.5 339.3,583.8 339.4,582.0 339.4,584.7 339.5,583.4 339.6,583.6 339.7,578.8 339.8,581.9 339.9,583.8 340.0,584.5 340.1,579.0 340.1,581.7 340.2,581.3 340.3,584.1 340.4,582.1 340.5,585.2 340.6,584.0 340.7,578.0 340.8,579.9 340.8,584.5 340.9,582.2 341.0,581.7 341.1,582.3 341.2,571.0 341.3,584.5 341.4,582.2 341.5,581.9 341.5,582.0 341.6,580.8 341.7,578.3 341.8,581.2 341.9,584.3 342.0,577.5 342.1,578.1 342.2,582.4 342.2,582.0 342.3,580.2 342.4,582.5 342.5,584.3 342.6,580.4 342.7,579.0 342.8,582.3 342.9,582.8 342.9,576.9 343.0,579.3 343.1,581.6 343.2,582.2 343.3,581.0 343.4,578.2 343.5,580.3 343.6,581.1 343.6,576.9 343.7,583.7 343.8,582.8 343.9,578.3 344.0,577.6 344.1,585.4 344.2,582.2 344.3,580.1 344.3,582.2 344.4,580.0 344.5,583.9 344.6,582.6 344.7,581.7 344.8,584.9 344.9,576.4 345.0,570.0 345.0,578.5 345.1,585.0 345.2,580.5 345.3,584.1 345.4,581.3 345.5,583.6 345.6,583.4 345.7,582.4 345.7,579.5 345.8,573.4 345.9,581.5 346.0,582.7 346.1,583.7 346.2,580.7 346.3,583.9 346.4,579.6 346.4,584.0 346.5,583.1 346.6,580.0 346.7,584.9 346.8,580.2 346.9,582.2 347.0,579.2 347.1,574.3 347.1,582.9 347.2,578.1 347.3,581.2 347.4,584.2 347.5,581.3 347.6,580.2 347.7,576.1 347.7,582.0 347.8,584.6 347.9,584.6 348.0,584.9 348.1,581.2 348.2,582.4 348.3,581.3 348.4,582.3 348.4,584.2 348.5,579.1 348.6,582.6 348.7,584.7 348.8,585.0 348.9,576.7 349.0,581.7 349.1,582.3 349.1,581.9 349.2,580.8 349.3,581.7 349.4,580.0 349.5,580.5 349.6,580.8 349.7,578.6 349.8,580.5 349.8,583.6 349.9,584.8 350.0,580.9 350.1,579.7 350.2,577.7 350.3,581.5 350.4,579.5 350.5,580.8 350.5,580.7 350.6,578.2 350.7,583.0 350.8,577.1 350.9,584.4 351.0,578.1 351.1,584.4 351.2,581.2 351.2,583.9 351.3,582.9 351.4,584.5 351.5,583.6 351.6,580.6 351.7,584.4 351.8,582.0 351.9,583.9 351.9,583.8 352.0,580.9 352.1,582.4 352.2,582.3 352.3,583.2 352.4,580.8 352.5,584.9 352.6,585.0 352.6,584.2 352.7,582.0 352.8,578.8 352.9,582.1 353.0,583.7 353.1,581.5 353.2,582.5 353.3,580.8 353.3,582.6 353.4,583.4 353.5,583.0 353.6,574.2 353.7,583.0 353.8,581.3 353.9,581.9 354.0,583.7 354.0,583.1 354.1,582.1 354.2,584.9 354.3,582.9 354.4,582.7 354.5,584.5 354.6,583.3 354.7,584.7 354.7,585.5 354.8,585.0 354.9,583.9 355.0,583.2 355.1,578.4 355.2,580.4 355.3,579.5 355.4,585.0 355.4,581.8 355.5,585.5 355.6,585.2 355.7,582.6 355.8,585.7 355.9,580.2 356.0,580.7 356.1,582.5 356.1,583.0 356.2,584.1 356.3,580.5 356.4,583.1 356.5,585.1 356.6,584.1 356.7,584.2 356.8,581.3 356.8,585.7 356.9,582.5 357.0,576.8 357.1,581.1 357.2,578.9 357.3,584.1 357.4,583.9 357.5,583.7 357.5,573.2 357.6,584.9 357.7,583.4 357.8,580.4 357.9,583.9 358.0,583.1 358.1,584.4 358.2,582.0 358.2,577.6 358.3,583.5 358.4,579.6 358.5,582.1 358.6,584.5 358.7,584.1 358.8,581.9 358.8,579.5 358.9,584.1 359.0,584.2 359.1,585.8 359.2,579.8 359.3,581.7 359.4,584.7 359.5,583.9 359.5,583.4 359.6,583.0 359.7,583.4 359.8,584.2 359.9,584.5 360.0,584.0 360.1,579.2 360.2,584.7 360.2,579.7 360.3,585.3 360.4,583.6 360.5,584.2 360.6,584.6 360.7,583.1 360.8,585.5 360.9,579.6 360.9,585.2 361.0,585.4 361.1,584.3 361.2,579.7 361.3,584.9 361.4,584.7 361.5,584.5 361.6,581.7 361.6,585.7 361.7,585.0 361.8,584.8 361.9,582.8 362.0,583.7 362.1,581.0 362.2,581.6 362.3,584.0 362.3,580.7 362.4,579.7 362.5,582.7 362.6,582.3 362.7,584.3 362.8,585.1 362.9,575.0 363.0,585.3 363.0,582.7 363.1,578.4 363.2,584.4 363.3,579.0 363.4,578.1 363.5,585.6 363.6,583.2 363.7,583.2 363.7,582.9 363.8,585.6 363.9,584.4 364.0,585.2 364.1,583.8 364.2,583.3 364.3,583.3 364.4,582.7 364.4,583.7 364.5,580.9 364.6,584.0 364.7,583.4 364.8,580.4 364.9,580.8 365.0,580.0 365.1,584.3 365.1,584.4 365.2,579.2 365.3,577.5 365.4,581.8 365.5,579.8 365.6,582.8 365.7,585.1 365.8,582.9 365.8,585.1 365.9,580.2 366.0,580.3 366.1,582.5 366.2,584.1 366.3,576.6 366.4,583.8 366.5,583.8 366.5,580.6 366.6,581.2 366.7,578.0 366.8,582.1 366.9,579.0 367.0,584.1 367.1,582.9 367.2,584.2 367.2,580.7 367.3,582.9 367.4,584.3 367.5,581.4 367.6,579.3 367.7,582.9 367.8,585.3 367.9,583.9 367.9,583.8 368.0,585.8 368.1,585.8 368.2,583.7 368.3,582.8 368.4,581.9 368.5,583.3 368.6,582.4 368.6,580.7 368.7,581.2 368.8,584.5 368.9,582.6 369.0,583.8 369.1,583.6 369.2,577.4 369.2,585.0 369.3,582.5 369.4,581.9 369.5,584.2 369.6,580.4 369.7,583.9 369.8,582.9 369.9,581.1 369.9,580.9 370.0,581.0 370.1,578.1 370.2,584.5 370.3,584.0 370.4,582.6 370.5,584.0 370.6,582.9 370.6,582.6 370.7,582.2 370.8,580.0 370.9,583.3 371.0,585.0 371.1,585.5 371.2,579.9 371.3,582.7 371.3,582.3 371.4,585.7 371.5,585.3 371.6,583.0 371.7,582.3 371.8,584.8 371.9,583.1 372.0,583.7 372.0,580.2 372.1,578.8 372.2,583.0 372.3,583.7 372.4,583.9 372.5,583.8 372.6,583.0 372.7,581.0 372.7,581.5 372.8,583.4 372.9,584.9 373.0,580.6 373.1,581.3 373.2,580.7 373.3,578.9 373.4,583.2 373.4,584.8 373.5,585.9 373.6,581.9 373.7,584.2 373.8,585.0 373.9,584.9 374.0,580.6 374.1,583.6 374.1,577.3 374.2,584.8 374.3,583.4 374.4,583.8 374.5,576.2 374.6,584.3 374.7,583.9 374.8,584.9 374.8,584.2 374.9,581.1 375.0,582.7 375.1,583.6 375.2,582.2 375.3,582.4 375.4,584.1 375.5,583.5 375.5,582.9 375.6,583.2 375.7,581.6 375.8,583.1 375.9,581.4 376.0,584.5 376.1,581.7 376.2,584.3 376.2,585.9 376.3,583.3 376.4,585.8 376.5,582.5 376.6,585.4 376.7,580.5 376.8,581.5 376.9,584.0 376.9,581.3 377.0,583.0 377.1,576.8 377.2,584.9 377.3,583.4 377.4,583.4 377.5,582.1 377.6,584.5 377.6,582.3 377.7,577.4 377.8,583.9 377.9,581.0 378.0,585.7 378.1,584.5 378.2,584.1 378.3,580.9 378.3,581.0 378.4,583.2 378.5,585.2 378.6,583.6 378.7,584.0 378.8,582.6 378.9,585.0 379.0,585.1 379.0,582.7 379.1,579.1 379.2,581.8 379.3,583.3 379.4,585.7 379.5,583.5 379.6,584.2 379.7,582.9 379.7,583.2 379.8,577.1 379.9,582.7 380.0,584.6 380.1,582.3 380.2,585.2 380.3,584.0 380.3,583.5 380.4,579.0 380.5,585.8 380.6,583.5 380.7,582.2 380.8,580.4 380.9,585.3 381.0,583.0 381.0,584.9 381.1,585.3 381.2,581.9 381.3,583.4 381.4,583.8 381.5,582.7 381.6,583.6 381.7,580.8 381.7,581.6 381.8,585.4 381.9,582.8 382.0,584.1 382.1,584.5 382.2,575.1 382.3,583.5 382.4,584.2 382.4,582.6 382.5,582.0 382.6,582.9 382.7,584.0 382.8,584.3 382.9,583.1 383.0,581.8 383.1,584.7 383.1,584.6 383.2,584.9 383.3,583.4 383.4,582.5 383.5,575.2 383.6,584.2 383.7,584.4 383.8,584.8 383.8,578.7 383.9,581.2 384.0,585.3 384.1,585.1 384.2,583.1 384.3,585.3 384.4,584.1 384.5,585.0 384.5,583.1 384.6,578.4 384.7,583.9 384.8,584.5 384.9,582.0 385.0,585.3 385.1,585.0 385.2,584.2 385.2,584.3 385.3,581.7 385.4,583.6 385.5,584.6 385.6,585.9 385.7,582.7 385.8,583.1 385.9,580.3 385.9,584.6 386.0,585.3 386.1,584.9 386.2,583.9 386.3,585.7 386.4,584.3 386.5,584.0 386.6,582.4 386.6,582.4 386.7,583.0 386.8,585.5 386.9,583.5 387.0,582.6 387.1,583.4 387.2,582.9 387.3,585.0 387.3,584.6 387.4,584.9 387.5,582.9 387.6,579.4 387.7,578.9 387.8,581.8 387.9,582.7 388.0,579.9 388.0,581.6 388.1,581.1 388.2,585.5 388.3,584.6 388.4,585.6 388.5,581.8 388.6,582.6 388.7,585.0 388.7,585.9 388.8,582.2 388.9,578.9 389.0,581.6 389.1,583.8 389.2,583.9 389.3,584.9 389.4,582.7 389.4,585.4 389.5,581.0 389.6,581.5 389.7,582.7 389.8,582.6 389.9,585.3 390.0,583.4 390.1,585.2 390.1,581.0 390.2,583.3 390.3,584.6 390.4,586.0 390.5,585.7 390.6,582.9 390.7,584.1 390.8,584.9 390.8,585.1 390.9,584.5 391.0,583.4 391.1,585.0 391.2,586.0 391.3,583.2 391.4,583.0 391.4,584.8 391.5,584.5 391.6,578.2 391.7,577.4 391.8,584.8 391.9,584.5 392.0,584.5 392.1,583.5 392.1,583.6 392.2,583.5 392.3,585.5 392.4,581.2 392.5,581.4 392.6,586.2 392.7,582.3 392.8,584.2 392.8,585.5 392.9,583.6 393.0,585.8 393.1,581.7 393.2,584.7 393.3,584.1 393.4,584.0 393.5,585.1 393.5,584.3 393.6,583.4 393.7,581.6 393.8,580.6 393.9,585.6 394.0,583.5 394.1,582.7 394.2,582.8 394.2,582.2 394.3,582.3 394.4,585.0 394.5,581.4 394.6,584.9 394.7,586.3 394.8,583.8 394.9,584.2 394.9,582.6 395.0,582.7 395.1,585.0 395.2,584.8 395.3,584.0 395.4,586.2 395.5,585.7 395.6,584.3 395.6,585.3 395.7,583.9 395.8,581.7 395.9,584.8 396.0,583.4 396.1,585.1 396.2,586.1 396.3,584.2 396.3,583.7 396.4,585.7 396.5,583.3 396.6,585.0 396.7,581.3 396.8,585.8 396.9,585.3 397.0,583.5 397.0,583.0 397.1,584.6 397.2,585.8 397.3,581.4 397.4,583.5 397.5,585.6 397.6,585.1 397.7,585.1 397.7,582.9 397.8,585.0 397.9,583.8 398.0,583.0 398.1,585.9 398.2,583.9 398.3,583.9 398.4,584.9 398.4,585.3 398.5,584.1 398.6,585.4 398.7,584.6 398.8,583.3 398.9,584.0 399.0,584.6 399.1,585.2 399.1,584.9 399.2,583.6 399.3,582.0 399.4,584.4 399.5,584.2 399.6,583.0 399.7,583.3 399.8,582.8 399.8,584.0 399.9,579.9 400.0,585.3 400.1,584.9 400.2,585.3 400.3,585.5 400.4,582.7 400.5,583.2 400.5,581.9 400.6,581.4 400.7,580.5 400.8,583.0 400.9,586.2 401.0,584.3 401.1,583.6 401.2,584.1 401.2,584.9 401.3,584.0 401.4,585.3 401.5,584.9 401.6,584.3 401.7,585.5 401.8,584.4 401.9,583.6 401.9,584.9 402.0,585.7 402.1,584.9 402.2,583.2 402.3,586.2 402.4,585.1 402.5,580.7 402.5,585.3 402.6,583.8 402.7,585.1 402.8,583.8 402.9,583.5 403.0,582.8 403.1,586.0 403.2,585.0 403.2,584.5 403.3,584.8 403.4,586.2 403.5,583.2 403.6,584.3 403.7,584.9 403.8,584.8 403.9,583.6 403.9,585.9 404.0,583.7 404.1,580.0 404.2,584.6 404.3,583.1 404.4,584.0 404.5,585.0 404.6,582.0 404.6,584.7 404.7,585.4 404.8,582.4 404.9,583.4 405.0,579.5 405.1,585.4 405.2,584.8 405.3,583.8 405.3,584.9 405.4,583.6 405.5,584.6 405.6,581.2 405.7,581.7 405.8,584.0 405.9,584.6 406.0,582.3 406.0,585.0 406.1,583.9 406.2,581.5 406.3,581.8 406.4,584.7 406.5,585.0 406.6,586.1 406.7,582.2 406.7,584.3 406.8,582.1 406.9,586.1 407.0,584.4 407.1,583.5 407.2,584.9 407.3,585.3 407.4,583.7 407.4,582.7 407.5,584.9 407.6,585.0 407.7,580.1 407.8,585.6 407.9,584.6 408.0,585.4 408.1,584.9 408.1,582.2 408.2,582.7 408.3,584.0 408.4,583.8 408.5,584.6 408.6,583.5 408.7,584.7 408.8,584.3 408.8,585.4 408.9,586.4 409.0,585.6 409.1,585.8 409.2,580.7 409.3,585.4 409.4,584.8 409.5,586.3 409.5,585.4 409.6,584.1 409.7,584.3 409.8,582.8 409.9,580.5 410.0,586.1 410.1,584.6 410.2,585.0 410.2,578.6 410.3,581.7 410.4,584.4 410.5,585.9 410.6,584.2 410.7,583.7 410.8,583.8 410.9,583.8 410.9,584.2 411.0,583.9 411.1,584.1 411.2,578.4 411.3,582.4 411.4,584.4 411.5,585.4 411.6,585.5 411.6,584.5 411.7,579.6 411.8,585.2 411.9,585.3 412.0,582.0 412.1,585.9 412.2,585.1 412.3,583.6 412.3,583.9 412.4,584.6 412.5,585.2 412.6,585.9 412.7,584.4 412.8,582.8 412.9,582.6 413.0,584.8 413.0,585.9 413.1,585.6 413.2,582.4 413.3,582.0 413.4,585.3 413.5,584.8 413.6,586.0 413.6,585.1 413.7,585.8 413.8,578.9 413.9,583.0 414.0,583.7 414.1,585.6 414.2,586.1 414.3,578.7 414.3,581.1 414.4,580.7 414.5,586.0 414.6,580.4 414.7,584.7 414.8,586.0 414.9,582.8 415.0,584.7 415.0,584.1 415.1,585.7 415.2,583.4 415.3,585.3 415.4,583.3 415.5,585.8 415.6,581.7 415.7,583.3 415.7,585.3 415.8,584.4 415.9,585.0 416.0,583.3 416.1,583.8 416.2,585.8 416.3,583.4 416.4,585.0 416.4,582.9 416.5,584.4 416.6,585.4 416.7,585.5 416.8,585.0 416.9,584.1 417.0,584.7 417.1,586.0 417.1,585.4 417.2,585.1 417.3,583.9 417.4,582.4 417.5,579.8 417.6,585.3 417.7,585.0 417.8,584.7 417.8,585.1 417.9,585.5 418.0,586.0 418.1,586.4 418.2,584.8 418.3,585.6 418.4,584.9 418.5,584.2 418.5,585.5 418.6,585.2 418.7,583.3 418.8,584.7 418.9,581.7 419.0,584.4 419.1,585.6 419.2,585.9 419.2,584.4 419.3,584.1 419.4,585.5 419.5,583.4 419.6,582.5 419.7,584.4 419.8,584.4 419.9,584.5 419.9,584.4 420.0,584.5 420.1,584.5 420.2,583.1 420.3,583.5 420.4,584.2 420.5,586.0 420.6,583.0 420.6,581.9 420.7,584.8 420.8,584.1 420.9,583.7 421.0,585.1 421.1,584.7 421.2,585.3 421.3,583.7 421.3,583.7 421.4,585.9 421.5,583.3 421.6,583.4 421.7,585.4 421.8,584.1 421.9,583.8 422.0,582.5 422.0,584.2 422.1,585.6 422.2,584.3 422.3,586.2 422.4,583.6 422.5,585.9 422.6,585.1 422.7,580.8 422.7,585.1 422.8,585.3 422.9,586.0 423.0,584.5 423.1,584.8 423.2,585.9 423.3,585.6 423.4,581.1 423.4,585.2 423.5,583.2 423.6,582.8 423.7,584.5 423.8,584.5 423.9,585.8 424.0,584.8 424.0,584.9 424.1,585.9 424.2,586.4 424.3,584.8 424.4,584.2 424.5,585.8 424.6,583.9 424.7,584.1 424.7,584.6 424.8,581.9 424.9,583.8 425.0,583.5 425.1,580.7 425.2,584.9 425.3,586.0 425.4,585.2 425.4,583.7 425.5,586.4 425.6,583.4 425.7,583.3 425.8,584.3 425.9,584.6 426.0,585.3 426.1,584.2 426.1,585.9 426.2,583.8 426.3,584.9 426.4,585.1 426.5,580.4 426.6,579.8 426.7,581.0 426.8,584.2 426.8,585.5 426.9,586.0 427.0,583.4 427.1,585.3 427.2,585.3 427.3,584.8 427.4,583.9 427.5,585.5 427.5,584.2 427.6,585.0 427.7,584.2 427.8,585.3 427.9,584.4 428.0,584.8 428.1,585.5 428.2,583.9 428.2,583.5 428.3,582.4 428.4,581.8 428.5,586.0 428.6,584.5 428.7,585.5 428.8,585.8 428.9,585.9 428.9,584.7 429.0,581.9 429.1,586.0 429.2,584.3 429.3,580.3 429.4,584.9 429.5,584.7 429.6,585.2 429.6,584.9 429.7,584.1 429.8,585.4 429.9,579.3 430.0,583.5 430.1,581.2 430.2,585.5 430.3,585.4 430.3,585.7 430.4,579.3 430.5,581.9 430.6,585.6 430.7,583.0 430.8,583.4 430.9,580.6 431.0,583.6 431.0,584.9 431.1,585.2 431.2,586.1 431.3,584.7 431.4,584.1 431.5,585.0 431.6,585.5 431.7,584.7 431.7,585.8 431.8,583.9 431.9,585.4 432.0,582.5 432.1,586.1 432.2,585.7 432.3,585.7 432.4,584.2 432.4,585.9 432.5,584.7 432.6,585.7 432.7,585.1 432.8,583.3 432.9,582.8 433.0,585.8 433.1,585.4 433.1,584.4 433.2,584.3 433.3,586.4 433.4,584.1 433.5,586.0 433.6,585.6 433.7,582.7 433.8,585.9 433.8,585.0 433.9,586.4 434.0,584.4 434.1,585.2 434.2,584.0 434.3,586.0 434.4,584.7 434.5,584.0 434.5,584.7 434.6,585.7 434.7,583.1 434.8,584.7 434.9,580.5 435.0,585.4 435.1,584.6 435.1,585.1 435.2,582.5 435.3,583.0 435.4,585.3 435.5,586.4 435.6,585.3 435.7,583.9 435.8,585.8 435.8,585.8 435.9,586.3 436.0,583.8 436.1,586.5 436.2,585.2 436.3,577.2 436.4,584.1 436.5,585.0 436.5,585.0 436.6,585.5 436.7,584.4 436.8,582.4 436.9,583.4 437.0,584.9 437.1,585.7 437.2,585.1 437.2,583.4 437.3,585.6 437.4,586.1 437.5,586.1 437.6,583.8 437.7,585.7 437.8,586.1 437.9,586.0 437.9,584.3 438.0,585.8 438.1,584.4 438.2,585.0 438.3,585.7 438.4,586.2 438.5,584.5 438.6,586.2 438.6,581.3 438.7,585.5 438.8,584.7 438.9,585.6 439.0,586.5 439.1,585.1 439.2,585.8 439.3,584.6 439.3,585.8 439.4,585.5 439.5,584.6 439.6,584.5 439.7,585.2 439.8,584.6 439.9,580.7 440.0,585.9 440.0,586.0 440.1,584.0 440.2,585.3 440.3,581.3 440.4,584.4 440.5,584.7 440.6,585.0 440.7,582.9 440.7,586.4 440.8,586.1 440.9,585.5 441.0,584.0 441.1,584.9 441.2,586.4 441.3,579.4 441.4,585.8 441.4,584.9 441.5,583.2 441.6,585.8 441.7,585.0 441.8,583.2 441.9,586.0 442.0,584.1 442.1,583.8 442.1,584.5 442.2,585.3 442.3,583.8 442.4,585.7 442.5,586.2 442.6,584.8 442.7,586.0 442.8,584.6 442.8,585.4 442.9,584.3 443.0,583.9 443.1,586.1 443.2,582.1 443.3,584.8 443.4,583.5 443.5,585.7 443.5,586.3 443.6,585.1 443.7,583.5 443.8,585.8 443.9,582.3 444.0,584.5 444.1,584.0 444.2,586.6 444.2,586.6 444.3,580.7 444.4,585.5 444.5,585.2 444.6,586.3 444.7,584.6 444.8,586.1 444.9,585.0 444.9,584.4 445.0,581.9 445.1,583.9 445.2,585.6 445.3,585.2 445.4,583.0 445.5,585.1 445.6,585.6 445.6,585.4 445.7,586.2 445.8,585.4 445.9,585.3 446.0,585.9 446.1,586.5 446.2,583.9 446.2,585.4 446.3,583.4 446.4,584.4 446.5,585.7 446.6,585.3 446.7,583.1 446.8,585.9 446.9,585.3 446.9,585.0 447.0,586.0 447.1,585.6 447.2,586.2 447.3,586.0 447.4,585.5 447.5,585.4 447.6,585.9 447.6,586.0 447.7,583.9 447.8,586.6 447.9,583.6 448.0,585.7 448.1,584.5 448.2,584.3 448.3,584.9 448.3,583.6 448.4,586.0 448.5,586.5 448.6,586.2 448.7,585.3 448.8,586.4 448.9,586.2 449.0,582.8 449.0,584.2 449.1,584.2 449.2,584.7 449.3,585.8 449.4,584.7 449.5,584.2 449.6,585.3 449.7,586.6 449.7,584.1 449.8,585.3 449.9,584.1 450.0,584.4 450.1,585.4 450.2,584.3 450.3,585.6 450.4,586.4 450.4,585.5 450.5,584.0 450.6,586.6 450.7,586.4 450.8,585.6 450.9,586.0 451.0,584.6 451.1,583.4 451.1,586.0 451.2,585.5 451.3,584.1 451.4,585.8 451.5,586.4 451.6,585.5 451.7,586.4 451.8,584.3 451.8,584.2 451.9,585.8 452.0,584.1 452.1,586.5 452.2,583.9 452.3,585.6 452.4,585.0 452.5,584.6 452.5,584.7 452.6,584.1 452.7,585.7 452.8,585.3 452.9,583.3 453.0,585.6 453.1,582.9 453.2,586.0 453.2,584.7 453.3,586.1 453.4,585.2 453.5,583.1 453.6,584.0 453.7,585.8 453.8,585.0 453.9,585.2 453.9,586.1 454.0,585.5 454.1,586.7 454.2,581.9 454.3,585.1 454.4,584.6 454.5,582.8 454.6,585.8 454.6,585.7 454.7,585.9 454.8,586.3 454.9,585.1 455.0,585.4 455.1,584.8 455.2,586.0 455.3,584.5 455.3,586.1 455.4,585.6 455.5,585.5 455.6,585.5 455.7,586.4 455.8,582.9 455.9,586.5 456.0,585.8 456.0,585.6 456.1,586.6 456.2,584.0 456.3,586.0 456.4,584.9 456.5,584.4 456.6,584.9 456.7,584.9 456.7,584.2 456.8,584.3 456.9,585.7 457.0,585.5 457.1,585.4 457.2,586.4 457.3,586.1 457.3,582.4 457.4,586.3 457.5,583.9 457.6,584.8 457.7,585.7 457.8,586.1 457.9,585.4 458.0,586.7 458.0,585.3 458.1,585.9 458.2,586.3 458.3,585.6 458.4,582.4 458.5,583.4 458.6,586.0 458.7,584.6 458.7,584.0 458.8,585.4 458.9,586.0 459.0,583.2 459.1,585.2 459.2,585.6 459.3,580.6 459.4,585.9 459.4,584.6 459.5,584.7 459.6,584.6 459.7,585.6 459.8,584.9 459.9,586.4 460.0,586.2 460.1,585.6 460.1,584.3 460.2,586.3 460.3,585.9 460.4,585.9 460.5,586.1 460.6,585.8 460.7,585.5 460.8,586.5 460.8,584.2 460.9,585.2 461.0,585.9 461.1,585.2 461.2,586.3 461.3,584.4 461.4,581.9 461.5,586.3 461.5,580.8 461.6,585.7 461.7,583.9 461.8,585.3 461.9,586.3 462.0,586.1 462.1,586.7 462.2,585.7 462.2,584.5 462.3,585.1 462.4,584.2 462.5,585.2 462.6,584.9 462.7,585.9 462.8,583.3 462.9,586.6 462.9,586.5 463.0,586.7 463.1,582.2 463.2,584.0 463.3,586.7 463.4,586.1 463.5,586.6 463.6,586.4 463.6,585.1 463.7,582.6 463.8,585.4 463.9,585.8 464.0,585.2 464.1,585.5 464.2,586.0 464.3,586.3 464.3,584.2 464.4,584.6 464.5,585.5 464.6,585.3 464.7,586.3 464.8,586.2 464.9,586.7 465.0,582.7 465.0,586.5 465.1,586.5 465.2,585.7 465.3,584.2 465.4,585.8 465.5,584.9 465.6,586.5 465.7,585.8 465.7,585.4 465.8,585.6 465.9,585.2 466.0,585.9 466.1,581.8 466.2,585.5 466.3,586.4 466.4,586.4 466.4,584.1 466.5,585.0 466.6,586.3 466.7,586.2 466.8,586.4 466.9,585.0 467.0,586.5 467.1,586.5 467.1,584.8 467.2,585.4 467.3,584.8 467.4,585.7 467.5,583.2 467.6,584.4 467.7,581.8 467.7,585.5 467.8,584.4 467.9,586.2 468.0,585.8 468.1,583.5 468.2,585.9 468.3,585.4 468.4,585.1 468.4,586.3 468.5,585.0 468.6,586.1 468.7,582.8 468.8,585.4 468.9,586.1 469.0,585.0 469.1,584.5 469.1,585.9 469.2,585.6 469.3,586.2 469.4,585.7 469.5,585.7 469.6,585.7 469.7,585.3 469.8,586.7 469.8,584.5 469.9,585.0 470.0,583.2 470.1,584.7 470.2,586.2 470.3,585.6 470.4,586.2 470.5,586.4 470.5,585.0 470.6,584.2 470.7,586.2 470.8,585.8 470.9,586.1 471.0,585.2 471.1,585.9 471.2,586.3 471.2,585.2 471.3,586.1 471.4,586.8 471.5,585.4 471.6,585.2 471.7,586.5 471.8,584.4 471.9,584.8 471.9,585.4 472.0,582.9 472.1,586.2 472.2,586.0 472.3,585.9 472.4,585.6 472.5,585.7 472.6,586.2 472.6,585.3 472.7,580.8 472.8,586.3 472.9,583.7 473.0,585.0 473.1,585.8 473.2,584.1 473.3,585.9 473.3,586.4 473.4,585.3 473.5,586.0 473.6,584.5 473.7,585.4 473.8,586.1 473.9,584.5 474.0,586.4 474.0,586.8 474.1,585.0 474.2,586.6 474.3,586.4 474.4,586.0 474.5,586.2 474.6,586.5 474.7,585.7 474.7,584.7 474.8,584.9 474.9,584.9 475.0,586.1 475.1,582.9 475.2,584.6 475.3,584.8 475.4,585.7 475.4,586.4 475.5,585.2 475.6,585.4 475.7,584.9 475.8,584.1 475.9,586.7 476.0,585.9 476.1,585.9 476.1,585.9 476.2,585.7 476.3,585.2 476.4,586.6 476.5,585.9 476.6,586.7 476.7,582.1 476.8,586.7 476.8,585.1 476.9,585.4 477.0,585.4 477.1,583.8 477.2,586.2 477.3,583.3 477.4,586.6 477.5,586.6 477.5,586.2 477.6,586.3 477.7,586.7 477.8,586.1 477.9,586.6 478.0,586.3 478.1,585.9 478.2,585.6 478.2,586.0 478.3,585.6 478.4,585.8 478.5,584.8 478.6,586.8 478.7,586.1 478.8,585.9 478.8,585.3 478.9,584.8 479.0,583.4 479.1,586.6 479.2,585.9 479.3,586.4 479.4,585.3 479.5,586.7 479.5,585.0 479.6,585.9 479.7,586.4 479.8,585.3 479.9,585.3 480.0,585.9 480.1,586.7 480.2,586.0 480.2,586.2 480.3,585.0 480.4,585.9 480.5,584.3 480.6,586.4 480.7,584.7 480.8,586.7 480.9,586.4 480.9,585.9 481.0,585.7 481.1,585.7 481.2,584.8 481.3,585.8 481.4,585.9 481.5,586.6 481.6,583.2 481.6,586.8 481.7,586.1 481.8,586.3 481.9,585.3 482.0,585.6 482.1,585.6 482.2,584.8 482.3,581.1 482.3,585.8 482.4,586.2 482.5,586.7 482.6,585.7 482.7,585.7 482.8,584.9 482.9,584.9 483.0,584.8 483.0,584.2 483.1,584.9 483.2,585.5 483.3,586.3 483.4,585.7 483.5,586.2 483.6,584.1 483.7,585.0 483.7,585.8 483.8,585.5 483.9,586.4 484.0,585.2 484.1,586.6 484.2,585.2 484.3,584.9 484.4,586.5 484.4,582.8 484.5,584.9 484.6,585.7 484.7,584.8 484.8,583.7 484.9,585.7 485.0,585.5 485.1,584.3 485.1,586.3 485.2,585.2 485.3,585.4 485.4,585.6 485.5,584.1 485.6,586.3 485.7,585.0 485.8,585.3 485.8,586.7 485.9,586.1 486.0,586.2 486.1,586.3 486.2,585.4 486.3,586.5 486.4,586.2 486.5,586.0 486.5,585.8 486.6,585.8 486.7,585.5 486.8,586.5 486.9,585.5 487.0,586.4 487.1,584.8 487.2,585.9 487.2,586.6 487.3,584.2 487.4,585.9 487.5,586.3 487.6,586.2 487.7,585.7 487.8,585.9 487.9,584.9 487.9,586.4 488.0,584.7 488.1,586.4 488.2,584.3 488.3,585.0 488.4,584.2 488.5,585.2 488.6,586.5 488.6,586.0 488.7,585.5 488.8,584.1 488.9,586.1 489.0,583.3 489.1,586.2 489.2,585.7 489.3,582.4 489.3,585.4 489.4,586.4 489.5,585.0 489.6,586.4 489.7,586.4 489.8,586.5 489.9,585.5 489.9,586.2 490.0,586.5 490.1,586.6 490.2,584.9 490.3,584.4 490.4,584.1 490.5,586.3 490.6,585.3 490.6,586.4 490.7,584.7 490.8,586.3 490.9,586.5 491.0,586.1 491.1,585.6 491.2,585.1 491.3,586.2 491.3,586.1 491.4,585.3 491.5,582.8 491.6,584.9 491.7,586.6 491.8,586.1 491.9,585.7 492.0,586.1 492.0,586.6 492.1,585.8 492.2,585.6 492.3,584.7 492.4,586.1 492.5,586.4 492.6,583.9 492.7,585.8 492.7,586.3 492.8,585.5 492.9,585.8 493.0,586.2 493.1,584.4 493.2,586.2 493.3,586.5 493.4,584.9 493.4,585.7 493.5,586.7 493.6,586.1 493.7,586.4 493.8,586.6 493.9,585.7 494.0,586.5 494.1,586.5 494.1,586.3 494.2,584.8 494.3,586.5 494.4,584.0 494.5,583.5 494.6,586.4 494.7,585.3 494.8,585.1 494.8,586.2 494.9,586.3 495.0,585.5 495.1,586.8 495.2,586.3 495.3,586.7 495.4,584.6 495.5,585.8 495.5,584.9 495.6,586.5 495.7,586.0 495.8,586.3 495.9,586.3 496.0,585.5 496.1,585.2 496.2,586.7 496.2,585.7 496.3,585.2 496.4,586.4 496.5,586.1 496.6,586.2 496.7,585.4 496.8,586.4 496.9,585.0 496.9,586.4 497.0,585.2 497.1,586.2 497.2,585.3 497.3,586.3 497.4,583.7 497.5,584.9 497.6,585.2 497.6,585.8 497.7,585.4 497.8,583.8 497.9,585.8 498.0,585.8 498.1,586.3 498.2,586.3 498.3,584.5 498.3,585.5 498.4,586.7 498.5,586.7 498.6,586.0 498.7,586.5 498.8,586.7 498.9,585.8 499.0,586.4 499.0,585.9 499.1,585.4 499.2,586.5 499.3,585.7 499.4,586.0 499.5,586.3 499.6,585.9 499.7,586.7 499.7,584.4 499.8,585.4 499.9,586.5 500.0,586.4 500.1,586.2 500.2,585.5 500.3,586.0 500.4,583.5 500.4,585.6 500.5,584.9 500.6,586.2 500.7,582.6 500.8,585.4 500.9,585.0 501.0,585.4 501.0,586.2 501.1,585.2 501.2,586.7 501.3,585.0 501.4,585.7 501.5,585.5 501.6,586.4 501.7,586.7 501.7,585.3 501.8,586.0 501.9,584.9 502.0,585.2 502.1,584.8 502.2,586.2 502.3,585.4 502.4,585.6 502.4,585.9 502.5,586.0 502.6,586.7 502.7,586.1 502.8,585.5 502.9,586.6 503.0,585.6 503.1,586.1 503.1,586.1 503.2,585.9 503.3,586.3 503.4,586.3 503.5,582.4 503.6,585.8 503.7,585.7 503.8,586.2 503.8,583.6 503.9,586.0 504.0,585.9 504.1,583.2 504.2,585.4 504.3,586.1 504.4,586.5 504.5,585.2 504.5,586.0 504.6,582.6 504.7,586.2 504.8,585.5 504.9,586.5 505.0,585.8 505.1,586.4 505.2,586.4 505.2,586.2 505.3,584.2 505.4,584.7 505.5,585.8 505.6,586.8 505.7,585.9 505.8,586.6 505.9,585.5 505.9,586.5 506.0,585.0 506.1,586.0 506.2,585.9 506.3,586.5 506.4,586.6 506.5,584.6 506.6,586.5 506.6,584.6 506.7,586.1 506.8,586.2 506.9,584.7 507.0,584.2 507.1,583.9 507.2,586.4 507.3,585.9 507.3,583.7 507.4,586.2 507.5,584.3 507.6,586.8 507.7,585.1 507.8,585.3 507.9,584.9 508.0,586.2 508.0,586.4 508.1,585.7 508.2,586.3 508.3,586.0 508.4,582.6 508.5,584.8 508.6,586.7 508.7,586.6 508.7,585.1 508.8,584.3 508.9,585.4 509.0,586.6 509.1,583.0 509.2,585.7 509.3,583.6 509.4,585.4 509.4,585.1 509.5,585.0 509.6,585.3 509.7,585.4 509.8,584.2 509.9,586.4 510.0,586.1 510.1,585.9 510.1,585.8 510.2,586.0 510.3,585.9 510.4,585.9 510.5,585.3 510.6,586.0 510.7,585.1 510.8,586.7 510.8,586.0 510.9,584.3 511.0,584.5 511.1,585.6 511.2,586.3 511.3,586.0 511.4,585.1 511.4,584.5 511.5,584.3 511.6,586.0 511.7,585.2 511.8,586.4 511.9,585.1 512.0,586.3 512.1,585.8 512.1,586.5 512.2,586.2 512.3,586.7 512.4,586.8 512.5,586.3 512.6,585.5 512.7,585.4 512.8,586.0 512.8,585.6 512.9,583.7 513.0,585.1 513.1,585.4 513.2,583.7 513.3,586.5 513.4,586.0 513.5,586.5 513.5,585.5 513.6,585.0 513.7,585.6 513.8,586.2 513.9,586.7 514.0,585.9 514.1,586.1 514.2,586.1 514.2,585.7 514.3,586.6 514.4,586.0 514.5,586.5 514.6,583.5 514.7,585.8 514.8,586.5 514.9,586.6 514.9,585.0 515.0,586.1 515.1,584.8 515.2,585.6 515.3,586.4 515.4,586.3 515.5,585.0 515.6,586.0 515.6,586.4 515.7,586.1 515.8,585.2 515.9,586.4 516.0,586.7 516.1,585.8 516.2,584.5 516.3,583.7 516.3,586.0 516.4,586.3 516.5,583.8 516.6,586.7 516.7,583.4 516.8,585.4 516.9,586.8 517.0,585.3 517.0,586.4 517.1,586.1 517.2,586.6 517.3,586.5 517.4,586.6 517.5,585.3 517.6,586.1 517.7,586.6 517.7,586.1 517.8,585.6 517.9,584.6 518.0,586.2 518.1,586.0 518.2,581.2 518.3,586.4 518.4,586.1 518.4,585.5 518.5,586.0 518.6,586.2 518.7,586.9 518.8,586.7 518.9,584.5 519.0,586.5 519.1,584.9 519.1,582.7 519.2,585.6 519.3,582.9 519.4,586.0 519.5,584.4 519.6,585.8 519.7,583.8 519.8,586.1 519.8,585.9 519.9,585.8 520.0,586.3 520.1,584.4 520.2,586.3 520.3,586.3 520.4,586.7 520.5,586.2 520.5,585.8 520.6,586.7 520.7,586.4 520.8,585.4 520.9,586.6 521.0,585.5 521.1,585.7 521.2,586.1 521.2,586.7 521.3,584.4 521.4,584.8 521.5,583.6 521.6,585.7 521.7,585.8 521.8,586.8 521.9,586.0 521.9,581.2 522.0,583.3 522.1,586.5 522.2,585.6 522.3,586.6 522.4,585.3 522.5,585.5 522.5,586.0 522.6,584.0 522.7,586.1 522.8,586.5 522.9,586.1 523.0,586.6 523.1,586.0 523.2,585.1 523.2,586.2 523.3,586.5 523.4,586.2 523.5,585.3 523.6,586.7 523.7,586.0 523.8,584.7 523.9,586.8 523.9,585.3 524.0,586.2 524.1,585.3 524.2,586.3 524.3,585.3 524.4,586.5 524.5,585.7 524.6,586.0 524.6,584.1 524.7,586.5 524.8,584.5 524.9,586.2 525.0,585.4 525.1,586.6 525.2,585.3 525.3,584.4 525.3,584.6 525.4,586.5 525.5,586.7 525.6,586.4 525.7,585.3 525.8,584.1 525.9,585.7 526.0,586.5 526.0,585.3 526.1,585.9 526.2,585.0 526.3,586.8 526.4,586.4 526.5,585.4 526.6,585.9 526.7,586.3 526.7,586.6 526.8,586.6 526.9,586.1 527.0,586.5 527.1,585.4 527.2,585.8 527.3,586.4 527.4,585.9 527.4,584.9 527.5,586.8 527.6,584.8 527.7,585.7 527.8,586.1 527.9,586.0 528.0,585.4 528.1,585.0 528.1,585.5 528.2,585.3 528.3,585.8 528.4,585.6 528.5,586.7 528.6,585.5 528.7,586.6 528.8,584.6 528.8,586.8 528.9,586.2 529.0,586.1 529.1,585.0 529.2,586.5 529.3,585.3 529.4,586.7 529.5,585.0 529.5,585.9 529.6,586.1 529.7,586.2 529.8,586.4 529.9,585.7 530.0,586.1 530.1,586.5 530.2,585.4 530.2,586.4 530.3,586.5 530.4,584.6 530.5,584.8 530.6,584.9 530.7,585.1 530.8,586.1 530.9,586.5 530.9,586.3 531.0,585.1 531.1,586.2 531.2,585.3 531.3,586.1 531.4,586.1 531.5,586.0 531.6,586.7 531.6,585.7 531.7,586.4 531.8,584.6 531.9,584.3 532.0,586.2 532.1,586.3 532.2,586.0 532.3,585.8 532.3,586.5 532.4,585.8 532.5,585.5 532.6,585.2 532.7,585.2 532.8,586.1 532.9,581.9 533.0,585.4 533.0,586.5 533.1,586.8 533.2,586.3 533.3,585.5 533.4,585.6 533.5,585.4 533.6,586.1 533.6,586.4 533.7,585.9 533.8,586.2 533.9,585.0 534.0,585.6 534.1,586.3 534.2,584.2 534.3,585.8 534.3,586.1 534.4,586.1 534.5,586.3 534.6,586.0 534.7,585.5 534.8,585.4 534.9,586.1 535.0,586.5 535.0,586.3 535.1,585.7 535.2,586.2 535.3,586.5 535.4,585.8 535.5,585.9 535.6,585.0 535.7,585.8 535.7,584.3 535.8,586.5 535.9,584.8 536.0,586.3 536.1,586.4 536.2,586.6 536.3,586.2 536.4,586.3 536.4,586.0 536.5,585.1 536.6,585.4 536.7,583.6 536.8,584.9 536.9,583.5 537.0,586.9 537.1,585.6 537.1,586.3 537.2,585.6 537.3,585.7 537.4,586.2 537.5,586.3 537.6,586.2 537.7,585.4 537.8,585.7 537.8,585.5 537.9,586.7 538.0,585.6 538.1,586.5 538.2,586.2 538.3,586.3 538.4,586.2 538.5,583.0 538.5,585.2 538.6,586.5 538.7,586.6 538.8,582.9 538.9,585.6 539.0,585.0 539.1,585.3 539.2,586.0 539.2,584.2 539.3,585.9 539.4,584.7 539.5,586.3 539.6,586.5 539.7,586.6 539.8,586.1 539.9,585.4 539.9,586.5 540.0,586.0 540.1,585.9 540.2,585.0 540.3,586.4 540.4,585.8 540.5,586.2 540.6,585.9 540.6,585.8 540.7,583.9 540.8,584.9 540.9,585.6 541.0,585.0 541.1,585.9 541.2,586.7 541.3,586.5 541.3,584.8 541.4,585.7 541.5,584.3 541.6,585.7 541.7,586.5 541.8,585.4 541.9,586.7 542.0,586.4 542.0,586.2 542.1,585.2 542.2,584.4 542.3,586.6 542.4,585.9 542.5,585.2 542.6,586.1 542.7,585.7 542.7,585.6 542.8,586.7 542.9,586.2 543.0,586.7 543.1,586.5 543.2,585.4 543.3,586.4 543.4,584.6 543.4,585.2 543.5,585.5 543.6,586.1 543.7,586.4 543.8,585.6 543.9,585.6 544.0,585.9 544.0,585.5 544.1,586.1 544.2,586.0 544.3,586.6 544.4,585.0 544.5,584.7 544.6,586.5 544.7,586.4 544.7,586.2 544.8,582.8 544.9,586.6 545.0,584.7 545.1,585.1 545.2,584.4 545.3,585.6 545.4,585.3 545.4,586.3 545.5,586.0 545.6,584.5 545.7,585.3 545.8,584.9 545.9,586.1 546.0,586.5 546.1,584.3 546.1,584.9 546.2,585.9 546.3,586.4 546.4,586.1 546.5,583.8 546.6,585.5 546.7,585.0" fill="none" stroke="#101010" stroke-width="0.7" stroke-opacity="1" stroke-linejoin="round" filter="url(#bl)"/>
<polyline points="216.3,458.0 216.4,465.3 216.5,472.2 216.6,478.3 216.6,484.4 216.7,487.7 216.8,493.7 216.9,497.3 217.0,501.2 217.1,507.8 217.2,513.8 217.3,513.8 217.3,516.0 217.4,517.1 217.5,523.0 217.6,520.6 217.7,523.8 217.8,526.8 217.9,527.4 218.0,532.2 218.0,533.2 218.1,538.2 218.2,537.7 218.3,537.6 218.4,542.4 218.5,541.2 218.6,544.1 218.7,544.4 218.7,539.6 218.8,538.6 218.9,542.8 219.0,548.7 219.1,546.1 219.2,548.9 219.3,547.8 219.4,544.3 219.4,543.5 219.5,549.6 219.6,547.6 219.7,555.1 219.8,533.0 219.9,556.7 220.0,554.3 220.1,553.9 220.1,552.6 220.2,556.3 220.3,559.7 220.4,559.7 220.5,560.8 220.6,557.1 220.7,557.9 220.8,553.9 220.8,556.1 220.9,553.8 221.0,553.8 221.1,556.0 221.2,556.6 221.3,560.2 221.4,561.3 221.5,562.3 221.5,563.5 221.6,561.0 221.7,562.2 221.8,561.4 221.9,567.0 222.0,560.9 222.1,563.8 222.2,562.4 222.2,562.2 222.3,561.8 222.4,558.8 222.5,568.8 222.6,554.3 222.7,566.3 222.8,558.4 222.9,562.7 222.9,564.1 223.0,566.6 223.1,562.4 223.2,564.4 223.3,567.0 223.4,563.9 223.5,568.5 223.6,565.4 223.6,568.9 223.7,564.7 223.8,568.8 223.9,560.7 224.0,570.3 224.1,559.2 224.2,568.0 224.3,562.3 224.3,561.2 224.4,570.6 224.5,571.8 224.6,571.5 224.7,570.3 224.8,568.8 224.9,550.6 225.0,564.0 225.0,572.0 225.1,567.7 225.2,567.8 225.3,563.9 225.4,570.6 225.5,564.8 225.6,567.3 225.7,570.4 225.7,572.0 225.8,566.7 225.9,572.6 226.0,557.8 226.1,561.6 226.2,573.8 226.3,572.2 226.4,562.5 226.4,566.7 226.5,572.3 226.6,565.7 226.7,566.4 226.8,558.8 226.9,573.5 227.0,570.1 227.1,568.3 227.1,574.6 227.2,568.7 227.3,555.5 227.4,565.9 227.5,568.4 227.6,557.4 227.7,567.4 227.7,572.0 227.8,569.5 227.9,569.2 228.0,567.2 228.1,572.6 228.2,568.1 228.3,568.7 228.4,567.1 228.4,558.1 228.5,563.8 228.6,575.0 228.7,567.7 228.8,570.4 228.9,563.2 229.0,562.1 229.1,571.3 229.1,573.0 229.2,566.3 229.3,570.0 229.4,574.3 229.5,556.3 229.6,573.2 229.7,566.6 229.8,570.3 229.8,570.1 229.9,575.7 230.0,568.5 230.1,572.4 230.2,571.8 230.3,565.8 230.4,572.8 230.5,568.3 230.5,571.9 230.6,570.5 230.7,571.3 230.8,563.9 230.9,567.0 231.0,574.3 231.1,570.4 231.2,575.7 231.2,572.3 231.3,555.3 231.4,550.5 231.5,575.0 231.6,568.2 231.7,574.3 231.8,564.8 231.9,566.7 231.9,557.3 232.0,571.3 232.1,566.9 232.2,562.6 232.3,574.4 232.4,577.1 232.5,578.3 232.6,576.3 232.6,576.6 232.7,570.9 232.8,564.6 232.9,567.5 233.0,571.5 233.1,575.5 233.2,574.0 233.3,566.6 233.3,569.3 233.4,568.3 233.5,574.0 233.6,578.5 233.7,576.8 233.8,579.0 233.9,576.7 234.0,569.8 234.0,573.5 234.1,566.0 234.2,574.1 234.3,577.4 234.4,575.3 234.5,571.0 234.6,572.4 234.7,562.3 234.7,573.8 234.8,574.6 234.9,573.3 235.0,578.1 235.1,575.1 235.2,579.3 235.3,577.0 235.4,573.0 235.4,576.8 235.5,577.2 235.6,574.9 235.7,569.0 235.8,577.9 235.9,574.1 236.0,572.9 236.1,579.3 236.1,574.2 236.2,573.8 236.3,573.9 236.4,580.6 236.5,577.9 236.6,579.6 236.7,570.7 236.8,572.9 236.8,568.4 236.9,574.0 237.0,577.9 237.1,571.2 237.2,577.9 237.3,575.7 237.4,565.5 237.5,578.5 237.5,580.0 237.6,571.0 237.7,576.3 237.8,576.9 237.9,576.6 238.0,573.9 238.1,567.5 238.2,572.8 238.2,578.5 238.3,576.8 238.4,575.7 238.5,565.3 238.6,579.3 238.7,570.4 238.8,569.2 238.8,578.8 238.9,572.3 239.0,579.1 239.1,564.0 239.2,576.5 239.3,580.1 239.4,569.5 239.5,566.4 239.5,571.7 239.6,581.0 239.7,560.5 239.8,568.4 239.9,571.6 240.0,578.2 240.1,577.6 240.2,577.6 240.2,569.9 240.3,578.2 240.4,580.4 240.5,578.4 240.6,573.4 240.7,579.5 240.8,570.2 240.9,572.9 240.9,571.1 241.0,576.9 241.1,572.8 241.2,579.7 241.3,564.8 241.4,576.6 241.5,572.7 241.6,577.0 241.6,577.8 241.7,569.2 241.8,577.9 241.9,579.6 242.0,575.7 242.1,576.8 242.2,577.6 242.3,576.8 242.3,580.1 242.4,570.9 242.5,575.4 242.6,574.5 242.7,570.1 242.8,562.6 242.9,574.9 243.0,574.9 243.0,579.3 243.1,577.8 243.2,580.2 243.3,574.1 243.4,579.2 243.5,575.1 243.6,576.2 243.7,579.6 243.7,572.6 243.8,578.3 243.9,576.8 244.0,576.8 244.1,573.5 244.2,575.8 244.3,574.0 244.4,574.9 244.4,568.4 244.5,573.0 244.6,568.2 244.7,582.8 244.8,572.0 244.9,573.4 245.0,578.8 245.1,576.3 245.1,573.8 245.2,578.7 245.3,576.3 245.4,575.3 245.5,575.9 245.6,574.1 245.7,578.2 245.8,578.6 245.8,578.7 245.9,576.4 246.0,580.5 246.1,578.6 246.2,579.9 246.3,576.0 246.4,581.4 246.5,568.2 246.5,575.5 246.6,573.8 246.7,578.6 246.8,577.7 246.9,572.5 247.0,575.7 247.1,577.3 247.2,574.3 247.2,579.7 247.3,581.0 247.4,578.0 247.5,580.1 247.6,563.5 247.7,574.5 247.8,581.2 247.9,574.5 247.9,567.1 248.0,578.3 248.1,575.8 248.2,578.2 248.3,578.1 248.4,581.4 248.5,575.9 248.6,580.5 248.6,573.2 248.7,575.4 248.8,579.9 248.9,579.9 249.0,579.8 249.1,571.3 249.2,577.2 249.2,567.4 249.3,575.2 249.4,583.2 249.5,579.0 249.6,581.4 249.7,577.0 249.8,576.2 249.9,578.4 249.9,581.8 250.0,571.1 250.1,571.2 250.2,571.5 250.3,574.3 250.4,577.9 250.5,573.3 250.6,574.5 250.6,582.3 250.7,577.9 250.8,573.3 250.9,576.4 251.0,578.4 251.1,577.1 251.2,579.2 251.3,576.4 251.3,578.6 251.4,577.8 251.5,573.1 251.6,580.4 251.7,574.6 251.8,577.9 251.9,568.6 252.0,571.1 252.0,579.9 252.1,579.1 252.2,583.2 252.3,579.0 252.4,578.5 252.5,578.4 252.6,581.8 252.7,576.9 252.7,578.9 252.8,579.1 252.9,580.5 253.0,573.8 253.1,578.8 253.2,568.5 253.3,573.7 253.4,570.2 253.4,568.4 253.5,577.1 253.6,564.3 253.7,581.7 253.8,580.6 253.9,580.6 254.0,577.9 254.1,582.0 254.1,580.7 254.2,574.9 254.3,580.8 254.4,579.1 254.5,581.1 254.6,580.1 254.7,580.4 254.8,578.1 254.8,581.9 254.9,580.7 255.0,580.3 255.1,580.0 255.2,582.1 255.3,582.9 255.4,579.6 255.5,576.9 255.5,583.9 255.6,574.3 255.7,581.5 255.8,575.4 255.9,576.3 256.0,580.4 256.1,581.0 256.2,581.6 256.2,573.6 256.3,582.6 256.4,579.3 256.5,576.8 256.6,583.4 256.7,582.1 256.8,580.6 256.9,575.4 256.9,580.0 257.0,584.0 257.1,572.1 257.2,580.6 257.3,575.6 257.4,580.1 257.5,581.2 257.6,578.1 257.6,575.9 257.7,579.2 257.8,579.6 257.9,580.3 258.0,580.7 258.1,575.0 258.2,583.9 258.3,578.9 258.3,580.0 258.4,577.4 258.5,582.5 258.6,577.3 258.7,575.6 258.8,582.5 258.9,579.3 259.0,579.4 259.0,581.2 259.1,570.7 259.2,581.3 259.3,574.8 259.4,583.5 259.5,579.1 259.6,582.0 259.7,573.5 259.7,584.0 259.8,582.3 259.9,584.0 260.0,575.7 260.1,572.0 260.2,581.7 260.3,578.4 260.3,582.6 260.4,582.6 260.5,576.2 260.6,567.4 260.7,575.8 260.8,579.1 260.9,576.0 261.0,582.6 261.0,582.7 261.1,577.7 261.2,578.8 261.3,584.6 261.4,570.8 261.5,584.7 261.6,576.8 261.7,578.7 261.7,561.0 261.8,584.1 261.9,583.9 262.0,581.0 262.1,578.2 262.2,583.7 262.3,572.8 262.4,577.8 262.4,574.7 262.5,581.4 262.6,576.9 262.7,583.9 262.8,581.5 262.9,573.3 263.0,581.4 263.1,580.0 263.1,580.7 263.2,576.0 263.3,579.5 263.4,581.9 263.5,581.6 263.6,579.2 263.7,578.0 263.8,582.8 263.8,577.3 263.9,578.2 264.0,582.5 264.1,579.3 264.2,579.3 264.3,582.3 264.4,583.6 264.5,580.7 264.5,576.8 264.6,580.8 264.7,581.2 264.8,585.2 264.9,578.3 265.0,580.9 265.1,572.0 265.2,571.1 265.2,580.9 265.3,582.9 265.4,575.7 265.5,580.8 265.6,583.9 265.7,578.1 265.8,582.3 265.9,583.2 265.9,579.5 266.0,573.6 266.1,581.5 266.2,574.3 266.3,577.3 266.4,574.9 266.5,580.3 266.6,576.1 266.6,581.7 266.7,581.8 266.8,584.0 266.9,567.9 267.0,570.9 267.1,580.2 267.2,573.7 267.3,577.6 267.3,580.6 267.4,583.1 267.5,579.3 267.6,581.9 267.7,580.7 267.8,580.0 267.9,582.9 268.0,577.7 268.0,581.1 268.1,581.8 268.2,581.0 268.3,584.2 268.4,573.8 268.5,580.9 268.6,581.7 268.7,571.2 268.7,574.1 268.8,577.8 268.9,582.0 269.0,572.7 269.1,579.8 269.2,582.8 269.3,584.0 269.4,579.3 269.4,583.1 269.5,579.9 269.6,580.9 269.7,581.5 269.8,580.6 269.9,581.8 270.0,583.6 270.1,578.6 270.1,582.2 270.2,580.5 270.3,579.5 270.4,583.4 270.5,584.5 270.6,572.6 270.7,580.7 270.8,570.6 270.8,580.7 270.9,579.3 271.0,569.1 271.1,578.9 271.2,578.7 271.3,580.1 271.4,576.8 271.4,582.4 271.5,580.4 271.6,582.6 271.7,582.1 271.8,578.1 271.9,575.9 272.0,579.3 272.1,583.9 272.1,578.3 272.2,583.1 272.3,583.7 272.4,579.8 272.5,579.6 272.6,583.7 272.7,579.8 272.8,577.5 272.8,577.7 272.9,580.6 273.0,581.6 273.1,584.6 273.2,578.5 273.3,579.7 273.4,581.2 273.5,580.0 273.5,582.4 273.6,583.2 273.7,580.9 273.8,583.1 273.9,583.1 274.0,582.2 274.1,578.0 274.2,583.4 274.2,581.0 274.3,581.8 274.4,584.2 274.5,585.4 274.6,571.1 274.7,583.1 274.8,581.3 274.9,580.2 274.9,568.2 275.0,576.9 275.1,575.1 275.2,582.6 275.3,578.7 275.4,576.4 275.5,579.3 275.6,576.0 275.6,577.6 275.7,577.8 275.8,581.7 275.9,577.7 276.0,578.7 276.1,573.5 276.2,585.2 276.3,581.6 276.3,580.1 276.4,579.8 276.5,581.8 276.6,580.3 276.7,578.9 276.8,581.8 276.9,580.8 277.0,582.5 277.0,576.6 277.1,583.6 277.2,582.2 277.3,580.0 277.4,582.9 277.5,562.5 277.6,582.5 277.7,582.9 277.7,578.3 277.8,579.9 277.9,577.0 278.0,584.0 278.1,585.2 278.2,579.3 278.3,581.8 278.4,578.7 278.4,578.2 278.5,577.9 278.6,581.7 278.7,580.8 278.8,582.9 278.9,580.1 279.0,581.2 279.1,581.7 279.1,582.9 279.2,575.0 279.3,582.3 279.4,576.6 279.5,578.9 279.6,572.7 279.7,582.5 279.8,577.8 279.8,581.3 279.9,581.3 280.0,582.3 280.1,582.9 280.2,579.5 280.3,579.0 280.4,570.0 280.5,579.5 280.5,583.4 280.6,584.7 280.7,578.2 280.8,570.9 280.9,584.6 281.0,576.7 281.1,580.9 281.2,579.7 281.2,585.0 281.3,585.2 281.4,576.3 281.5,584.4 281.6,582.9 281.7,576.9 281.8,585.5 281.9,575.7 281.9,580.4 282.0,584.2 282.1,583.8 282.2,582.1 282.3,582.8 282.4,576.3 282.5,583.4 282.5,578.2 282.6,582.3 282.7,583.2 282.8,583.8 282.9,582.1 283.0,573.7 283.1,584.5 283.2,577.2 283.2,582.1 283.3,585.1 283.4,582.9 283.5,583.1 283.6,579.3 283.7,580.7 283.8,581.6 283.9,582.0 283.9,575.4 284.0,582.7 284.1,575.7 284.2,579.2 284.3,577.8 284.4,581.9 284.5,580.5 284.6,583.2 284.6,583.2 284.7,578.0 284.8,584.3 284.9,579.6 285.0,582.9 285.1,581.3 285.2,571.0 285.3,570.5 285.3,582.3 285.4,576.7 285.5,581.1 285.6,585.1 285.7,583.0 285.8,581.8 285.9,573.4 286.0,583.5 286.0,584.5 286.1,583.1 286.2,578.5 286.3,585.1 286.4,582.4 286.5,582.3 286.6,563.8 286.7,581.2 286.7,581.4 286.8,585.1 286.9,574.9 287.0,580.2 287.1,577.8 287.2,576.9 287.3,582.7 287.4,582.9 287.4,579.2 287.5,580.5 287.6,579.6 287.7,583.3 287.8,577.7 287.9,579.4 288.0,581.7 288.1,582.5 288.1,582.1 288.2,582.3 288.3,581.7 288.4,574.8 288.5,577.6 288.6,576.3 288.7,578.6 288.8,579.7 288.8,582.8 288.9,578.9 289.0,580.5 289.1,580.3 289.2,581.3 289.3,580.9 289.4,583.5 289.5,583.4 289.5,581.4 289.6,574.2 289.7,584.3 289.8,575.0 289.9,582.1 290.0,580.5 290.1,580.4 290.2,583.0 290.2,570.8 290.3,577.9 290.4,581.7 290.5,582.1 290.6,579.2 290.7,580.4 290.8,582.6 290.9,583.9 290.9,578.3 291.0,583.6 291.1,579.0 291.2,580.4 291.3,583.0 291.4,575.6 291.5,584.8 291.6,580.1 291.6,579.8 291.7,583.2 291.8,579.7 291.9,583.3 292.0,582.2 292.1,580.2 292.2,583.1 292.3,584.1 292.3,572.6 292.4,582.9 292.5,578.5 292.6,585.2 292.7,578.5 292.8,585.1 292.9,583.3 292.9,584.3 293.0,582.7 293.1,580.6 293.2,583.2 293.3,577.8 293.4,575.5 293.5,582.6 293.6,577.4 293.6,583.8 293.7,579.5 293.8,580.9 293.9,585.2 294.0,585.1 294.1,580.9 294.2,583.5 294.3,574.7 294.3,575.1 294.4,582.7 294.5,582.1 294.6,582.6 294.7,582.7 294.8,581.6 294.9,580.5 295.0,575.1 295.0,585.0 295.1,577.4 295.2,575.2 295.3,583.1 295.4,584.0 295.5,582.6 295.6,583.7 295.7,584.9 295.7,582.6 295.8,580.6 295.9,579.6 296.0,582.6 296.1,573.0 296.2,581.8 296.3,572.5 296.4,575.0 296.4,578.3 296.5,584.4 296.6,583.1 296.7,585.2 296.8,579.4 296.9,582.7 297.0,584.9 297.1,583.0 297.1,584.3 297.2,581.2 297.3,581.7 297.4,576.2 297.5,585.4 297.6,583.2 297.7,578.2 297.8,584.5 297.8,583.7 297.9,585.5 298.0,580.4 298.1,584.9 298.2,582.6 298.3,583.7 298.4,577.8 298.5,575.0 298.5,585.5 298.6,579.0 298.7,579.6 298.8,584.9 298.9,585.3 299.0,582.4 299.1,582.7 299.2,578.3 299.2,585.2 299.3,570.5 299.4,578.8 299.5,583.8 299.6,581.7 299.7,584.3 299.8,582.9 299.9,584.8 299.9,582.3 300.0,582.1 300.1,584.6 300.2,579.6 300.3,570.1 300.4,580.7 300.5,583.9 300.6,582.3 300.6,584.3 300.7,580.9 300.8,582.0 300.9,585.2 301.0,576.5 301.1,578.7 301.2,578.2 301.3,574.7 301.3,582.3 301.4,585.3 301.5,582.3 301.6,582.0 301.7,582.0 301.8,579.6 301.9,583.5 302.0,584.4 302.0,584.3 302.1,585.0 302.2,583.5 302.3,586.1 302.4,579.4 302.5,580.5 302.6,585.3 302.7,582.6 302.7,579.5 302.8,581.0 302.9,580.7 303.0,583.1 303.1,581.8 303.2,583.1 303.3,583.0 303.4,580.5 303.4,578.9 303.5,584.1 303.6,581.9 303.7,584.4 303.8,580.6 303.9,586.0 304.0,578.4 304.0,582.3 304.1,583.8 304.2,583.3 304.3,584.0 304.4,584.3 304.5,584.3 304.6,579.8 304.7,580.1 304.7,582.8 304.8,582.2 304.9,586.1 305.0,584.8 305.1,585.6 305.2,580.8 305.3,583.3 305.4,573.8 305.4,581.8 305.5,580.8 305.6,586.1 305.7,585.7 305.8,585.4 305.9,576.5 306.0,582.0 306.1,580.7 306.1,578.5 306.2,581.4 306.3,585.9 306.4,584.0 306.5,585.8 306.6,576.3 306.7,584.0 306.8,576.3 306.8,582.2 306.9,581.0 307.0,576.8 307.1,582.2 307.2,579.8 307.3,585.3 307.4,584.1 307.5,582.9 307.5,582.7 307.6,578.0 307.7,584.4 307.8,582.3 307.9,583.0 308.0,579.5 308.1,583.2 308.2,577.2 308.2,580.6 308.3,584.4 308.4,582.7 308.5,584.5 308.6,577.5 308.7,578.4 308.8,584.1 308.9,580.7 308.9,581.7 309.0,582.4 309.1,581.5 309.2,582.1 309.3,576.3 309.4,582.0 309.5,584.9 309.6,577.5 309.6,582.0 309.7,584.8 309.8,577.9 309.9,581.3 310.0,585.0 310.1,583.2 310.2,582.8 310.3,578.9 310.3,584.6 310.4,585.8 310.5,581.6 310.6,582.4 310.7,582.6 310.8,584.9 310.9,578.1 311.0,583.0 311.0,582.2 311.1,579.2 311.2,572.8 311.3,570.3 311.4,585.2 311.5,582.2 311.6,583.6 311.7,583.7 311.7,584.6 311.8,581.0 311.9,577.2 312.0,583.1 312.1,584.4 312.2,582.1 312.3,578.4 312.4,583.8 312.4,584.0 312.5,586.1 312.6,585.0 312.7,582.9 312.8,582.2 312.9,582.6 313.0,572.2 313.1,578.4 313.1,585.2 313.2,578.6 313.3,579.8 313.4,583.9 313.5,584.1 313.6,578.1 313.7,574.4 313.8,581.7 313.8,580.9 313.9,575.2 314.0,581.1 314.1,585.0 314.2,584.6 314.3,584.3 314.4,584.7 314.5,583.5 314.5,582.0 314.6,584.3 314.7,584.8 314.8,575.6 314.9,583.8 315.0,582.8 315.1,582.0 315.1,580.3 315.2,584.4 315.3,586.0 315.4,578.7 315.5,583.9 315.6,581.9 315.7,578.0 315.8,583.2 315.8,575.9 315.9,584.7 316.0,582.7 316.1,583.9 316.2,581.7 316.3,577.6 316.4,582.5 316.5,584.4 316.5,579.8 316.6,585.8 316.7,581.2 316.8,573.7 316.9,583.0 317.0,585.6 317.1,584.5 317.2,579.8 317.2,581.8 317.3,585.1 317.4,580.6 317.5,585.1 317.6,580.7 317.7,584.5 317.8,580.9 317.9,582.8 317.9,584.5 318.0,582.7 318.1,581.2 318.2,585.8 318.3,585.8 318.4,581.3 318.5,573.2 318.6,581.5 318.6,583.8 318.7,577.4 318.8,581.8 318.9,581.0 319.0,581.7 319.1,584.5 319.2,582.2 319.3,584.5 319.3,580.8 319.4,577.1 319.5,582.3 319.6,584.7 319.7,583.3 319.8,582.8 319.9,580.8 320.0,582.2 320.0,585.0 320.1,582.5 320.2,586.3 320.3,584.0 320.4,585.0 320.5,584.1 320.6,584.6 320.7,585.1 320.7,582.9 320.8,583.9 320.9,583.9 321.0,578.4 321.1,581.7 321.2,582.8 321.3,585.4 321.4,585.1 321.4,582.5 321.5,574.8 321.6,575.1 321.7,584.0 321.8,568.3 321.9,579.2 322.0,582.2 322.1,582.8 322.1,575.5 322.2,577.6 322.3,584.4 322.4,581.4 322.5,581.8 322.6,584.9 322.7,584.7 322.8,579.3 322.8,583.9 322.9,582.0 323.0,576.8 323.1,584.0 323.2,582.0 323.3,581.1 323.4,575.1 323.5,582.1 323.5,584.6 323.6,586.2 323.7,582.7 323.8,583.9 323.9,579.9 324.0,583.9 324.1,582.2 324.2,582.6 324.2,585.4 324.3,582.9 324.4,584.6 324.5,580.9 324.6,581.0 324.7,584.3 324.8,583.9 324.9,575.2 324.9,582.1 325.0,583.1 325.1,582.0 325.2,577.6 325.3,584.0 325.4,579.1 325.5,582.9 325.6,586.1 325.6,582.2 325.7,586.5 325.8,583.6 325.9,581.5 326.0,577.2 326.1,582.2 326.2,581.6 326.2,583.6 326.3,582.5 326.4,581.8 326.5,579.4 326.6,584.4 326.7,584.3 326.8,577.7 326.9,582.5 326.9,581.9 327.0,585.4 327.1,582.1 327.2,583.2 327.3,584.0 327.4,577.7 327.5,583.4 327.6,579.8 327.6,585.0 327.7,578.0 327.8,582.3 327.9,583.3 328.0,582.3 328.1,576.8 328.2,585.0 328.3,585.6 328.3,583.3 328.4,583.0 328.5,582.3 328.6,582.9 328.7,583.7 328.8,585.3 328.9,581.3 329.0,581.3 329.0,583.0 329.1,585.7 329.2,583.3 329.3,585.1 329.4,580.2 329.5,580.9 329.6,580.2 329.7,584.2 329.7,584.6 329.8,583.5 329.9,584.6 330.0,584.0 330.1,584.8 330.2,585.0 330.3,583.3 330.4,580.5 330.4,584.5 330.5,585.9 330.6,581.2 330.7,577.0 330.8,583.9 330.9,583.0 331.0,582.3 331.1,583.1 331.1,585.5 331.2,583.6 331.3,584.9 331.4,581.3 331.5,584.0 331.6,584.5 331.7,584.9 331.8,585.6 331.8,583.7 331.9,581.8 332.0,582.1 332.1,581.0 332.2,576.0 332.3,577.6 332.4,581.7 332.5,583.6 332.5,580.9 332.6,584.0 332.7,583.1 332.8,582.7 332.9,582.2 333.0,579.9 333.1,582.0 333.2,584.0 333.2,586.1 333.3,584.7 333.4,578.2 333.5,583.5 333.6,582.6 333.7,586.2 333.8,583.2 333.9,585.2 333.9,583.1 334.0,579.6 334.1,579.4 334.2,584.7 334.3,585.3 334.4,584.5 334.5,580.8 334.6,570.1 334.6,579.1 334.7,580.8 334.8,581.8 334.9,578.3 335.0,583.1 335.1,579.3 335.2,585.5 335.3,572.5 335.3,582.3 335.4,583.9 335.5,580.6 335.6,585.5 335.7,584.7 335.8,584.8 335.9,584.7 336.0,583.2 336.0,585.0 336.1,583.2 336.2,585.5 336.3,580.5 336.4,581.9 336.5,582.3 336.6,578.8 336.6,581.3 336.7,583.1 336.8,580.2 336.9,580.7 337.0,583.8 337.1,583.6 337.2,583.7 337.3,583.4 337.3,581.4 337.4,586.1 337.5,581.9 337.6,579.4 337.7,579.1 337.8,582.5 337.9,581.4 338.0,583.3 338.0,584.2 338.1,583.8 338.2,584.3 338.3,585.1 338.4,576.7 338.5,583.9 338.6,583.2 338.7,585.1 338.7,575.1 338.8,578.8 338.9,582.5 339.0,584.6 339.1,581.3 339.2,575.3 339.3,586.8 339.4,585.4 339.4,583.8 339.5,584.5 339.6,586.1 339.7,580.7 339.8,584.1 339.9,585.4 340.0,586.0 340.1,585.7 340.1,583.3 340.2,583.2 340.3,585.3 340.4,585.4 340.5,581.6 340.6,584.9 340.7,585.4 340.8,578.6 340.8,579.8 340.9,585.6 341.0,582.8 341.1,579.7 341.2,584.7 341.3,582.0 341.4,583.3 341.5,584.2 341.5,585.7 341.6,581.5 341.7,575.6 341.8,583.3 341.9,584.3 342.0,584.6 342.1,580.3 342.2,579.9 342.2,584.5 342.3,582.1 342.4,582.8 342.5,584.3 342.6,581.8 342.7,585.8 342.8,584.1 342.9,584.7 342.9,584.5 343.0,585.7 343.1,582.9 343.2,585.7 343.3,584.0 343.4,582.3 343.5,586.0 343.6,582.6 343.6,579.4 343.7,584.0 343.8,585.1 343.9,581.5 344.0,579.2 344.1,585.1 344.2,585.1 344.3,581.9 344.3,578.5 344.4,581.1 344.5,583.6 344.6,579.3 344.7,583.6 344.8,585.3 344.9,576.0 345.0,583.4 345.0,582.8 345.1,585.4 345.2,586.2 345.3,577.4 345.4,582.2 345.5,578.1 345.6,586.0 345.7,583.1 345.7,582.3 345.8,585.1 345.9,578.6 346.0,583.9 346.1,583.6 346.2,586.1 346.3,581.0 346.4,580.0 346.4,579.6 346.5,580.3 346.6,582.8 346.7,583.5 346.8,584.2 346.9,581.9 347.0,574.2 347.1,582.7 347.1,582.3 347.2,580.8 347.3,584.6 347.4,583.1 347.5,584.0 347.6,583.0 347.7,585.3 347.7,578.6 347.8,585.5 347.9,579.4 348.0,579.8 348.1,580.6 348.2,585.4 348.3,583.8 348.4,579.4 348.4,583.7 348.5,586.2 348.6,584.2 348.7,585.7 348.8,571.0 348.9,579.1 349.0,583.9 349.1,584.8 349.1,583.8 349.2,580.6 349.3,582.9 349.4,582.2 349.5,580.6 349.6,571.0 349.7,582.2 349.8,583.8 349.8,584.6 349.9,575.4 350.0,584.6 350.1,576.3 350.2,585.4 350.3,580.0 350.4,583.9 350.5,580.0 350.5,584.8 350.6,572.6 350.7,584.7 350.8,580.6 350.9,585.3 351.0,581.5 351.1,581.6 351.2,582.9 351.2,583.0 351.3,585.7 351.4,583.2 351.5,584.2 351.6,585.7 351.7,585.6 351.8,585.8 351.9,580.8 351.9,585.7 352.0,581.4 352.1,584.4 352.2,582.7 352.3,582.4 352.4,582.6 352.5,582.9 352.6,584.1 352.6,584.4 352.7,584.6 352.8,584.0 352.9,585.0 353.0,583.3 353.1,586.3 353.2,583.9 353.3,581.7 353.3,583.2 353.4,582.5 353.5,579.7 353.6,580.7 353.7,584.6 353.8,583.6 353.9,582.7 354.0,578.6 354.0,584.7 354.1,583.9 354.2,585.2 354.3,580.4 354.4,582.6 354.5,580.8 354.6,582.2 354.7,585.2 354.7,580.5 354.8,579.9 354.9,583.2 355.0,575.9 355.1,584.9 355.2,584.9 355.3,580.5 355.4,582.7 355.4,583.1 355.5,581.3 355.6,582.5 355.7,581.4 355.8,582.6 355.9,581.9 356.0,584.2 356.1,583.3 356.1,584.8 356.2,585.2 356.3,584.8 356.4,584.0 356.5,584.2 356.6,586.6 356.7,576.8 356.8,584.0 356.8,585.2 356.9,581.4 357.0,586.5 357.1,581.9 357.2,575.8 357.3,583.9 357.4,582.6 357.5,578.6 357.5,585.4 357.6,583.2 357.7,581.0 357.8,582.8 357.9,585.8 358.0,582.3 358.1,581.0 358.2,584.3 358.2,585.1 358.3,580.3 358.4,582.7 358.5,583.4 358.6,583.0 358.7,582.8 358.8,584.9 358.8,581.9 358.9,583.5 359.0,585.7 359.1,583.8 359.2,584.6 359.3,585.0 359.4,585.8 359.5,581.4 359.5,585.4 359.6,583.4 359.7,581.8 359.8,583.7 359.9,585.5 360.0,580.4 360.1,582.4 360.2,584.1 360.2,585.6 360.3,578.7 360.4,582.4 360.5,583.9 360.6,582.7 360.7,585.2 360.8,584.4 360.9,585.6 360.9,582.8 361.0,581.1 361.1,585.0 361.2,586.2 361.3,586.0 361.4,582.8 361.5,585.3 361.6,585.4 361.6,585.5 361.7,583.3 361.8,582.8 361.9,585.2 362.0,585.2 362.1,576.2 362.2,585.2 362.3,586.3 362.3,585.2 362.4,575.9 362.5,583.9 362.6,584.2 362.7,585.3 362.8,582.2 362.9,585.8 363.0,586.0 363.0,584.3 363.1,585.1 363.2,582.5 363.3,582.6 363.4,584.1 363.5,583.4 363.6,580.1 363.7,583.1 363.7,583.0 363.8,582.3 363.9,582.9 364.0,583.2 364.1,584.8 364.2,581.1 364.3,585.6 364.4,578.2 364.4,579.7 364.5,584.0 364.6,585.6 364.7,583.7 364.8,581.7 364.9,581.2 365.0,585.7 365.1,584.4 365.1,585.5 365.2,586.3 365.3,582.8 365.4,583.9 365.5,585.5 365.6,583.2 365.7,584.2 365.8,584.4 365.8,579.3 365.9,583.9 366.0,585.9 366.1,583.5 366.2,583.9 366.3,580.8 366.4,583.9 366.5,585.3 366.5,582.0 366.6,578.6 366.7,584.8 366.8,581.1 366.9,586.2 367.0,586.2 367.1,585.8 367.2,585.5 367.2,585.2 367.3,586.2 367.4,581.7 367.5,584.5 367.6,586.3 367.7,580.7 367.8,585.4 367.9,583.4 367.9,584.3 368.0,583.1 368.1,578.2 368.2,584.8 368.3,586.4 368.4,585.2 368.5,586.0 368.6,585.0 368.6,583.2 368.7,584.7 368.8,585.3 368.9,585.0 369.0,584.8 369.1,583.3 369.2,583.6 369.2,583.6 369.3,580.9 369.4,586.2 369.5,585.2 369.6,583.6 369.7,584.7 369.8,584.9 369.9,584.5 369.9,584.6 370.0,582.9 370.1,583.1 370.2,582.8 370.3,585.7 370.4,584.7 370.5,585.1 370.6,583.1 370.6,583.7 370.7,583.9 370.8,578.7 370.9,583.6 371.0,582.8 371.1,584.5 371.2,586.7 371.3,584.6 371.3,580.5 371.4,585.7 371.5,579.3 371.6,580.3 371.7,586.3 371.8,586.3 371.9,584.5 372.0,585.8 372.0,576.3 372.1,584.6 372.2,580.9 372.3,581.6 372.4,581.3 372.5,584.4 372.6,584.4 372.7,585.3 372.7,581.8 372.8,585.8 372.9,580.8 373.0,580.2 373.1,582.1 373.2,585.6 373.3,584.3 373.4,580.1 373.4,586.7 373.5,584.6 373.6,584.4 373.7,582.6 373.8,584.6 373.9,582.0 374.0,584.8 374.1,584.0 374.1,586.0 374.2,583.9 374.3,585.2 374.4,585.3 374.5,586.1 374.6,582.8 374.7,584.9 374.8,582.2 374.8,585.7 374.9,584.7 375.0,584.9 375.1,585.2 375.2,585.9 375.3,583.9 375.4,584.6 375.5,584.9 375.5,584.6 375.6,583.5 375.7,585.9 375.8,585.7 375.9,585.0 376.0,583.1 376.1,581.6 376.2,581.0 376.2,584.1 376.3,585.8 376.4,581.4 376.5,584.5 376.6,584.9 376.7,586.7 376.8,582.9 376.9,584.1 376.9,585.3 377.0,586.1 377.1,584.2 377.2,585.9 377.3,584.6 377.4,582.9 377.5,584.3 377.6,582.4 377.6,582.0 377.7,584.3 377.8,584.0 377.9,586.2 378.0,585.5 378.1,585.4 378.2,583.3 378.3,585.3 378.3,582.0 378.4,584.5 378.5,585.5 378.6,584.2 378.7,586.2 378.8,586.6 378.9,584.4 379.0,585.7 379.0,585.4 379.1,583.0 379.2,584.9 379.3,581.2 379.4,586.3 379.5,579.7 379.6,584.5 379.7,585.2 379.7,584.3 379.8,583.0 379.9,584.2 380.0,584.4 380.1,585.0 380.2,585.6 380.3,583.9 380.3,585.1 380.4,586.4 380.5,583.8 380.6,586.5 380.7,579.8 380.8,581.8 380.9,585.8 381.0,581.0 381.0,584.2 381.1,582.9 381.2,583.6 381.3,576.9 381.4,586.5 381.5,585.7 381.6,585.4 381.7,586.1 381.7,584.8 381.8,583.8 381.9,582.7 382.0,584.3 382.1,583.1 382.2,582.0 382.3,586.3 382.4,578.4 382.4,584.2 382.5,580.4 382.6,585.8 382.7,585.5 382.8,581.5 382.9,582.7 383.0,585.1 383.1,583.5 383.1,584.3 383.2,583.5 383.3,583.5 383.4,584.1 383.5,585.1 383.6,585.3 383.7,585.4 383.8,585.4 383.8,585.7 383.9,581.7 384.0,583.4 384.1,586.6 384.2,586.5 384.3,582.4 384.4,582.4 384.5,583.8 384.5,586.6 384.6,583.7 384.7,585.3 384.8,582.5 384.9,584.4 385.0,585.4 385.1,583.0 385.2,585.8 385.2,585.2 385.3,580.6 385.4,585.0 385.5,584.0 385.6,584.3 385.7,584.2 385.8,580.9 385.9,586.2 385.9,585.8 386.0,581.1 386.1,585.1 386.2,586.0 386.3,586.4 386.4,585.5 386.5,586.3 386.6,578.6 386.6,583.5 386.7,585.2 386.8,581.8 386.9,584.4 387.0,585.6 387.1,586.1 387.2,584.5 387.3,585.3 387.3,582.4 387.4,586.2 387.5,585.6 387.6,585.8 387.7,583.7 387.8,586.1 387.9,585.9 388.0,579.9 388.0,585.8 388.1,583.5 388.2,585.9 388.3,584.7 388.4,586.3 388.5,584.9 388.6,583.8 388.7,581.3 388.7,586.4 388.8,586.0 388.9,584.0 389.0,584.6 389.1,583.7 389.2,582.2 389.3,585.3 389.4,583.2 389.4,585.6 389.5,584.5 389.6,586.6 389.7,585.2 389.8,585.7 389.9,584.9 390.0,584.1 390.1,583.5 390.1,585.7 390.2,582.4 390.3,582.5 390.4,583.2 390.5,585.2 390.6,585.5 390.7,585.2 390.8,585.3 390.8,585.2 390.9,584.1 391.0,583.9 391.1,582.8 391.2,585.1 391.3,584.2 391.4,586.5 391.4,583.7 391.5,585.5 391.6,586.3 391.7,583.2 391.8,579.8 391.9,584.4 392.0,585.8 392.1,586.1 392.1,585.6 392.2,584.1 392.3,578.8 392.4,584.1 392.5,581.2 392.6,585.3 392.7,584.7 392.8,581.2 392.8,586.5 392.9,582.5 393.0,581.4 393.1,581.3 393.2,585.3 393.3,586.1 393.4,582.0 393.5,580.1 393.5,582.4 393.6,585.1 393.7,584.7 393.8,581.4 393.9,585.9 394.0,586.7 394.1,585.5 394.2,583.4 394.2,575.3 394.3,584.9 394.4,586.3 394.5,585.0 394.6,584.1 394.7,581.6 394.8,586.2 394.9,583.0 394.9,582.8 395.0,584.9 395.1,585.3 395.2,586.1 395.3,585.1 395.4,584.2 395.5,585.6 395.6,583.5 395.6,581.8 395.7,585.3 395.8,585.3 395.9,581.1 396.0,582.6 396.1,585.1 396.2,584.4 396.3,586.2 396.3,585.8 396.4,582.9 396.5,584.7 396.6,585.7 396.7,584.6 396.8,586.0 396.9,583.4 397.0,584.3 397.0,585.9 397.1,586.7 397.2,586.8 397.3,583.0 397.4,584.8 397.5,583.0 397.6,586.8 397.7,582.9 397.7,586.4 397.8,584.5 397.9,585.8 398.0,585.6 398.1,585.7 398.2,581.8 398.3,585.6 398.4,586.3 398.4,583.2 398.5,582.0 398.6,582.9 398.7,580.1 398.8,585.5 398.9,586.6 399.0,581.8 399.1,586.9 399.1,584.3 399.2,584.4 399.3,584.9 399.4,586.1 399.5,580.6 399.6,586.1 399.7,584.0 399.8,585.1 399.8,585.3 399.9,583.2 400.0,586.7 400.1,585.9 400.2,585.9 400.3,585.7 400.4,579.4 400.5,582.3 400.5,581.8 400.6,580.6 400.7,580.8 400.8,585.5 400.9,579.3 401.0,584.7 401.1,582.8 401.2,586.4 401.2,584.5 401.3,584.9 401.4,585.4 401.5,585.5 401.6,585.7 401.7,585.4 401.8,585.1 401.9,585.5 401.9,585.2 402.0,584.0 402.1,585.0 402.2,579.9 402.3,585.8 402.4,586.8 402.5,584.2 402.5,584.6 402.6,584.1 402.7,585.0 402.8,577.0 402.9,586.7 403.0,584.0 403.1,583.8 403.2,584.1 403.2,582.8 403.3,585.7 403.4,584.9 403.5,584.0 403.6,586.6 403.7,585.5 403.8,585.9 403.9,582.8 403.9,586.6 404.0,586.5 404.1,585.9 404.2,582.1 404.3,583.3 404.4,583.3 404.5,586.8 404.6,584.0 404.6,586.6 404.7,580.1 404.8,586.8 404.9,585.1 405.0,582.9 405.1,583.2 405.2,583.8 405.3,581.7 405.3,585.5 405.4,584.3 405.5,585.1 405.6,584.3 405.7,586.0 405.8,583.7 405.9,586.6 406.0,586.1 406.0,584.8 406.1,583.4 406.2,585.6 406.3,582.8 406.4,581.1 406.5,582.9 406.6,586.0 406.7,582.9 406.7,585.6 406.8,585.9 406.9,586.3 407.0,585.3 407.1,582.4 407.2,585.5 407.3,585.4 407.4,583.4 407.4,584.5 407.5,583.5 407.6,586.1 407.7,585.7 407.8,586.2 407.9,583.6 408.0,586.3 408.1,585.8 408.1,586.7 408.2,585.0 408.3,586.7 408.4,584.7 408.5,584.5 408.6,585.2 408.7,584.5 408.8,586.0 408.8,584.7 408.9,582.0 409.0,584.6 409.1,585.4 409.2,585.6 409.3,584.2 409.4,584.0 409.5,584.9 409.5,586.3 409.6,584.6 409.7,585.1 409.8,585.1 409.9,583.2 410.0,585.5 410.1,585.4 410.2,585.3 410.2,582.5 410.3,585.7 410.4,584.6 410.5,585.5 410.6,584.7 410.7,584.8 410.8,585.8 410.9,582.2 410.9,586.2 411.0,583.5 411.1,586.4 411.2,586.4 411.3,586.2 411.4,583.7 411.5,586.5 411.6,584.7 411.6,585.3 411.7,584.3 411.8,585.6 411.9,582.5 412.0,584.9 412.1,580.8 412.2,586.7 412.3,585.6 412.3,584.7 412.4,586.4 412.5,582.8 412.6,583.6 412.7,584.8 412.8,584.4 412.9,584.8 413.0,583.8 413.0,583.6 413.1,586.1 413.2,586.1 413.3,586.1 413.4,585.9 413.5,586.8 413.6,586.1 413.6,586.0 413.7,584.7 413.8,583.0 413.9,583.1 414.0,585.3 414.1,585.5 414.2,586.2 414.3,584.2 414.3,586.0 414.4,586.4 414.5,583.6 414.6,586.8 414.7,584.9 414.8,585.7 414.9,581.1 415.0,585.5 415.0,586.2 415.1,584.1 415.2,586.4 415.3,584.7 415.4,586.1 415.5,584.8 415.6,585.0 415.7,585.2 415.7,585.7 415.8,585.9 415.9,586.9 416.0,585.8 416.1,584.0 416.2,585.0 416.3,584.2 416.4,586.6 416.4,584.2 416.5,585.2 416.6,586.4 416.7,580.1 416.8,585.3 416.9,583.5 417.0,586.7 417.1,583.9 417.1,583.7 417.2,584.6 417.3,586.5 417.4,583.6 417.5,584.5 417.6,586.2 417.7,584.3 417.8,581.7 417.8,586.2 417.9,584.9 418.0,586.9 418.1,583.9 418.2,583.2 418.3,585.5 418.4,585.9 418.5,585.8 418.5,586.5 418.6,584.6 418.7,585.3 418.8,582.8 418.9,584.7 419.0,579.6 419.1,584.9 419.2,585.1 419.2,585.1 419.3,582.6 419.4,586.0 419.5,586.1 419.6,582.9 419.7,585.3 419.8,585.6 419.9,582.8 419.9,584.5 420.0,585.8 420.1,584.0 420.2,584.2 420.3,584.3 420.4,584.8 420.5,585.6 420.6,583.8 420.6,585.8 420.7,586.1 420.8,585.0 420.9,581.9 421.0,584.1 421.1,581.5 421.2,584.5 421.3,581.3 421.3,586.4 421.4,584.6 421.5,584.3 421.6,577.9 421.7,585.2 421.8,582.7 421.9,581.7 422.0,585.3 422.0,583.6 422.1,586.1 422.2,585.7 422.3,586.7 422.4,583.1 422.5,585.0 422.6,586.1 422.7,581.2 422.7,586.3 422.8,585.6 422.9,586.6 423.0,586.4 423.1,584.6 423.2,585.0 423.3,585.5 423.4,583.9 423.4,587.0 423.5,583.3 423.6,585.8 423.7,584.6 423.8,585.5 423.9,585.8 424.0,585.4 424.0,582.7 424.1,585.9 424.2,586.5 424.3,583.2 424.4,582.8 424.5,585.4 424.6,584.5 424.7,585.5 424.7,584.8 424.8,586.2 424.9,586.6 425.0,585.7 425.1,586.1 425.2,584.7 425.3,584.7 425.4,585.7 425.4,585.4 425.5,585.2 425.6,580.4 425.7,585.7 425.8,583.8 425.9,579.6 426.0,586.1 426.1,586.9 426.1,583.2 426.2,585.9 426.3,585.4 426.4,581.5 426.5,586.5 426.6,584.2 426.7,585.1 426.8,585.7 426.8,585.1 426.9,586.0 427.0,583.1 427.1,586.1 427.2,586.6 427.3,582.2 427.4,584.4 427.5,584.3 427.5,586.6 427.6,581.2 427.7,585.9 427.8,583.6 427.9,583.3 428.0,586.7 428.1,584.3 428.2,584.6 428.2,583.7 428.3,585.2 428.4,586.4 428.5,583.1 428.6,584.9 428.7,585.2 428.8,585.0 428.9,585.0 428.9,579.5 429.0,586.7 429.1,586.4 429.2,586.0 429.3,582.6 429.4,584.2 429.5,585.6 429.6,584.0 429.6,580.9 429.7,586.6 429.8,586.1 429.9,586.2 430.0,586.4 430.1,585.7 430.2,586.4 430.3,585.6 430.3,584.5 430.4,586.9 430.5,586.2 430.6,582.9 430.7,586.8 430.8,586.1 430.9,583.7 431.0,585.1 431.0,584.4 431.1,584.6 431.2,586.6 431.3,586.7 431.4,585.3 431.5,586.2 431.6,580.8 431.7,585.5 431.7,584.7 431.8,583.0 431.9,586.5 432.0,585.2 432.1,585.8 432.2,584.9 432.3,583.9 432.4,585.8 432.4,583.7 432.5,586.2 432.6,582.8 432.7,586.8 432.8,587.0 432.9,586.8 433.0,586.7 433.1,583.3 433.1,586.4 433.2,585.0 433.3,585.0 433.4,584.0 433.5,586.5 433.6,585.5 433.7,586.2 433.8,584.2 433.8,585.9 433.9,585.3 434.0,584.3 434.1,586.9 434.2,586.7 434.3,586.7 434.4,583.8 434.5,584.2 434.5,583.5 434.6,583.8 434.7,586.1 434.8,586.0 434.9,582.1 435.0,584.4 435.1,584.7 435.1,582.3 435.2,585.7 435.3,584.2 435.4,585.5 435.5,582.9 435.6,586.2 435.7,585.8 435.8,585.2 435.8,586.0 435.9,586.1 436.0,583.3 436.1,585.5 436.2,584.2 436.3,585.4 436.4,586.0 436.5,584.7 436.5,584.4 436.6,585.6 436.7,586.6 436.8,586.5 436.9,586.6 437.0,585.9 437.1,584.9 437.2,585.9 437.2,586.0 437.3,583.8 437.4,586.3 437.5,585.3 437.6,582.8 437.7,584.1 437.8,585.4 437.9,584.6 437.9,585.4 438.0,582.9 438.1,583.6 438.2,587.0 438.3,585.0 438.4,585.8 438.5,585.7 438.6,586.6 438.6,585.7 438.7,586.6 438.8,585.3 438.9,586.1 439.0,584.9 439.1,584.2 439.2,586.0 439.3,586.2 439.3,583.8 439.4,585.8 439.5,584.2 439.6,585.7 439.7,584.7 439.8,586.8 439.9,583.2 440.0,586.7 440.0,579.7 440.1,585.7 440.2,585.3 440.3,585.8 440.4,581.9 440.5,585.2 440.6,585.2 440.7,585.7 440.7,584.9 440.8,586.4 440.9,581.7 441.0,584.2 441.1,584.9 441.2,582.5 441.3,586.8 441.4,586.0 441.4,584.7 441.5,585.2 441.6,586.3 441.7,583.4 441.8,583.2 441.9,583.5 442.0,586.8 442.1,584.4 442.1,585.5 442.2,586.7 442.3,584.7 442.4,584.8 442.5,586.7 442.6,584.9 442.7,584.4 442.8,582.0 442.8,584.6 442.9,587.0 443.0,584.5 443.1,586.0 443.2,580.7 443.3,586.5 443.4,586.5 443.5,584.6 443.5,585.4 443.6,586.8 443.7,585.8 443.8,585.4 443.9,585.6 444.0,584.2 444.1,585.3 444.2,584.7 444.2,585.4 444.3,584.3 444.4,585.3 444.5,583.6 444.6,581.4 444.7,586.3 444.8,586.5 444.9,586.0 444.9,583.7 445.0,586.7 445.1,583.6 445.2,585.5 445.3,586.3 445.4,585.7 445.5,580.4 445.6,585.8 445.6,586.8 445.7,585.4 445.8,585.9 445.9,586.8 446.0,586.0 446.1,582.1 446.2,586.2 446.2,586.1 446.3,582.4 446.4,585.7 446.5,586.2 446.6,586.5 446.7,584.6 446.8,586.0 446.9,584.9 446.9,581.2 447.0,586.6 447.1,581.4 447.2,583.3 447.3,586.2 447.4,586.2 447.5,585.0 447.6,585.7 447.6,585.1 447.7,584.0 447.8,586.0 447.9,584.7 448.0,584.1 448.1,585.3 448.2,585.6 448.3,586.1 448.3,585.2 448.4,583.5 448.5,584.2 448.6,586.3 448.7,585.7 448.8,583.0 448.9,585.8 449.0,584.8 449.0,585.8 449.1,583.9 449.2,585.6 449.3,586.9 449.4,586.4 449.5,586.8 449.6,586.3 449.7,586.4 449.7,586.4 449.8,585.1 449.9,585.5 450.0,585.1 450.1,586.6 450.2,583.8 450.3,585.9 450.4,585.4 450.4,585.4 450.5,583.7 450.6,586.7 450.7,585.4 450.8,584.6 450.9,587.0 451.0,586.5 451.1,585.7 451.1,586.5 451.2,586.2 451.3,582.9 451.4,582.3 451.5,585.5 451.6,586.8 451.7,586.7 451.8,585.3 451.8,585.6 451.9,586.8 452.0,586.1 452.1,587.0 452.2,587.0 452.3,586.5 452.4,583.3 452.5,585.1 452.5,585.0 452.6,586.6 452.7,584.7 452.8,586.7 452.9,585.8 453.0,583.0 453.1,585.7 453.2,585.2 453.2,585.1 453.3,584.9 453.4,585.7 453.5,586.0 453.6,583.0 453.7,586.8 453.8,585.9 453.9,586.3 453.9,585.7 454.0,586.7 454.1,586.7 454.2,585.9 454.3,586.2 454.4,586.9 454.5,584.5 454.6,586.2 454.6,583.8 454.7,586.6 454.8,586.1 454.9,585.1 455.0,586.5 455.1,584.2 455.2,583.6 455.3,584.4 455.3,584.3 455.4,585.5 455.5,586.4 455.6,585.3 455.7,586.0 455.8,584.6 455.9,585.2 456.0,584.7 456.0,584.1 456.1,585.0 456.2,586.2 456.3,586.9 456.4,585.2 456.5,586.8 456.6,584.1 456.7,586.8 456.7,586.6 456.8,587.0 456.9,586.7 457.0,586.8 457.1,585.4 457.2,586.1 457.3,586.3 457.3,584.5 457.4,586.3 457.5,586.8 457.6,586.1 457.7,584.2 457.8,586.5 457.9,581.4 458.0,586.0 458.0,584.2 458.1,586.2 458.2,586.6 458.3,586.2 458.4,586.6 458.5,586.8 458.6,586.7 458.7,585.6 458.7,586.6 458.8,586.3 458.9,585.3 459.0,585.3 459.1,586.9 459.2,581.2 459.3,586.9 459.4,585.5 459.4,584.5 459.5,585.8 459.6,585.5 459.7,586.7 459.8,585.6 459.9,584.7 460.0,585.4 460.1,585.5 460.1,585.8 460.2,585.7 460.3,586.3 460.4,586.7 460.5,584.0 460.6,585.3 460.7,586.5 460.8,586.2 460.8,586.3 460.9,586.2 461.0,586.2 461.1,586.9 461.2,586.7 461.3,585.7 461.4,585.9 461.5,586.8 461.5,586.5 461.6,584.4 461.7,586.9 461.8,586.3 461.9,586.5 462.0,582.8 462.1,585.8 462.2,585.5 462.2,586.5 462.3,585.3 462.4,581.5 462.5,585.7 462.6,586.6 462.7,587.0 462.8,584.8 462.9,586.7 462.9,585.2 463.0,586.2 463.1,586.2 463.2,586.1 463.3,586.6 463.4,583.4 463.5,585.6 463.6,584.8 463.6,585.5 463.7,586.3 463.8,586.5 463.9,586.5 464.0,586.7 464.1,586.2 464.2,586.4 464.3,586.8 464.3,584.5 464.4,586.7 464.5,583.7 464.6,586.5 464.7,586.1 464.8,585.8 464.9,586.5 465.0,586.6 465.0,585.6 465.1,586.3 465.2,586.7 465.3,585.9 465.4,585.3 465.5,586.0 465.6,585.0 465.7,584.3 465.7,584.3 465.8,586.3 465.9,584.7 466.0,586.4 466.1,585.4 466.2,585.3 466.3,586.6 466.4,585.3 466.4,585.8 466.5,585.9 466.6,584.6 466.7,585.8 466.8,586.0 466.9,586.9 467.0,586.4 467.1,586.6 467.1,586.3 467.2,586.6 467.3,586.8 467.4,587.0 467.5,586.2 467.6,583.7 467.7,585.9 467.7,585.0 467.8,586.9 467.9,586.5 468.0,585.9 468.1,584.8 468.2,586.8 468.3,586.0 468.4,582.5 468.4,587.0 468.5,584.8 468.6,586.9 468.7,582.5 468.8,582.9 468.9,586.9 469.0,585.5 469.1,586.9 469.1,586.3 469.2,586.9 469.3,586.0 469.4,586.7 469.5,586.8 469.6,584.5 469.7,582.9 469.8,586.9 469.8,586.4 469.9,583.4 470.0,584.7 470.1,586.6 470.2,586.4 470.3,584.3 470.4,583.9 470.5,585.3 470.5,584.4 470.6,584.5 470.7,586.5 470.8,586.5 470.9,584.7 471.0,585.4 471.1,584.3 471.2,584.3 471.2,584.2 471.3,585.8 471.4,586.1 471.5,585.3 471.6,585.2 471.7,586.7 471.8,585.6 471.9,584.9 471.9,585.1 472.0,586.3 472.1,586.7 472.2,583.5 472.3,586.4 472.4,585.5 472.5,586.5 472.6,586.7 472.6,583.1 472.7,586.7 472.8,586.9 472.9,585.6 473.0,586.5 473.1,586.6 473.2,586.0 473.3,586.8 473.3,586.2 473.4,586.4 473.5,585.5 473.6,586.8 473.7,586.0 473.8,583.8 473.9,583.6 474.0,586.6 474.0,586.6 474.1,587.0 474.2,585.5 474.3,585.9 474.4,586.6 474.5,585.6 474.6,585.3 474.7,586.8 474.7,586.9 474.8,586.8 474.9,585.9 475.0,587.0 475.1,585.5 475.2,586.3 475.3,586.9 475.4,585.4 475.4,586.3 475.5,585.4 475.6,586.7 475.7,586.1 475.8,586.4 475.9,581.0 476.0,586.6 476.1,583.8 476.1,586.3 476.2,582.0 476.3,586.3 476.4,586.5 476.5,586.5 476.6,584.3 476.7,586.6 476.8,585.9 476.8,586.5 476.9,585.4 477.0,584.3 477.1,586.5 477.2,586.8 477.3,587.0 477.4,586.5 477.5,585.6 477.5,586.6 477.6,585.7 477.7,586.9 477.8,586.5 477.9,586.5 478.0,585.7 478.1,585.8 478.2,584.6 478.2,586.1 478.3,586.9 478.4,585.7 478.5,586.0 478.6,585.9 478.7,586.9 478.8,586.5 478.8,584.9 478.9,586.8 479.0,584.9 479.1,584.1 479.2,586.1 479.3,586.5 479.4,583.6 479.5,586.1 479.5,584.3 479.6,587.0 479.7,584.7 479.8,585.9 479.9,585.6 480.0,585.6 480.1,586.8 480.2,586.3 480.2,583.2 480.3,586.4 480.4,586.9 480.5,583.1 480.6,585.9 480.7,586.7 480.8,585.1 480.9,586.6 480.9,585.7 481.0,586.1 481.1,586.9 481.2,585.4 481.3,586.2 481.4,586.6 481.5,585.0 481.6,586.7 481.6,586.7 481.7,585.6 481.8,585.1 481.9,587.1 482.0,586.6 482.1,584.6 482.2,585.7 482.3,586.2 482.3,586.3 482.4,585.4 482.5,585.6 482.6,585.1 482.7,585.5 482.8,586.8 482.9,586.9 483.0,586.6 483.0,586.1 483.1,586.2 483.2,586.5 483.3,585.9 483.4,586.3 483.5,584.8 483.6,586.1 483.7,584.2 483.7,584.7 483.8,584.6 483.9,585.4 484.0,586.9 484.1,585.1 484.2,586.5 484.3,586.9 484.4,586.2 484.4,582.0 484.5,586.1 484.6,585.1 484.7,586.8 484.8,585.7 484.9,586.1 485.0,586.5 485.1,583.7 485.1,586.7 485.2,586.0 485.3,587.0 485.4,585.3 485.5,586.8 485.6,586.0 485.7,586.8 485.8,586.5 485.8,585.8 485.9,585.6 486.0,585.7 486.1,587.0 486.2,585.1 486.3,586.2 486.4,586.5 486.5,586.2 486.5,586.9 486.6,586.9 486.7,587.0 486.8,586.2 486.9,581.9 487.0,585.4 487.1,586.7 487.2,586.9 487.2,586.6 487.3,586.3 487.4,585.7 487.5,586.3 487.6,586.1 487.7,586.1 487.8,586.8 487.9,585.4 487.9,587.0 488.0,583.2 488.1,586.4 488.2,584.9 488.3,586.8 488.4,585.6 488.5,586.8 488.6,585.1 488.6,586.7 488.7,584.2 488.8,586.6 488.9,586.2 489.0,586.3 489.1,586.2 489.2,586.5 489.3,586.3 489.3,586.5 489.4,585.8 489.5,586.7 489.6,585.4 489.7,583.9 489.8,586.6 489.9,585.9 489.9,585.1 490.0,586.4 490.1,586.9 490.2,586.3 490.3,586.0 490.4,586.3 490.5,586.2 490.6,585.5 490.6,586.7 490.7,585.5 490.8,585.9 490.9,586.3 491.0,587.0 491.1,586.7 491.2,585.1 491.3,585.3 491.3,586.7 491.4,584.3 491.5,585.8 491.6,585.3 491.7,585.2 491.8,585.6 491.9,586.6 492.0,586.8 492.0,585.4 492.1,585.8 492.2,586.0 492.3,586.4 492.4,586.8 492.5,586.8 492.6,585.7 492.7,586.3 492.7,586.9 492.8,587.0 492.9,586.1 493.0,586.5 493.1,586.8 493.2,586.4 493.3,586.3 493.4,585.8 493.4,585.9 493.5,585.9 493.6,586.7 493.7,587.0 493.8,586.7 493.9,583.7 494.0,583.7 494.1,586.1 494.1,587.0 494.2,586.4 494.3,586.3 494.4,586.1 494.5,585.7 494.6,585.9 494.7,586.6 494.8,586.5 494.8,584.1 494.9,586.6 495.0,586.5 495.1,586.1 495.2,586.3 495.3,586.3 495.4,586.2 495.5,587.0 495.5,586.0 495.6,586.6 495.7,586.7 495.8,584.5 495.9,586.6 496.0,586.6 496.1,586.2 496.2,585.9 496.2,586.7 496.3,586.1 496.4,585.1 496.5,585.8 496.6,586.6 496.7,586.5 496.8,586.7 496.9,585.2 496.9,586.5 497.0,586.3 497.1,586.9 497.2,586.7 497.3,585.5 497.4,586.2 497.5,586.6 497.6,586.6 497.6,585.4 497.7,585.2 497.8,586.4 497.9,586.3 498.0,586.1 498.1,585.9 498.2,586.0 498.3,585.6 498.3,584.4 498.4,586.8 498.5,586.3 498.6,584.2 498.7,585.3 498.8,586.8 498.9,586.3 499.0,584.8 499.0,583.2 499.1,586.3 499.2,584.6 499.3,586.9 499.4,585.2 499.5,586.6 499.6,586.6 499.7,585.0 499.7,585.5 499.8,587.0 499.9,586.1 500.0,586.3 500.1,586.9 500.2,585.4 500.3,585.9 500.4,586.8 500.4,585.3 500.5,586.4 500.6,585.7 500.7,586.7 500.8,586.9 500.9,585.7 501.0,586.9 501.0,585.9 501.1,586.1 501.2,585.5 501.3,586.4 501.4,586.7 501.5,586.1 501.6,586.8 501.7,585.9 501.7,586.1 501.8,586.5 501.9,584.8 502.0,585.1 502.1,586.2 502.2,585.8 502.3,586.9 502.4,586.9 502.4,586.2 502.5,585.8 502.6,586.6 502.7,586.6 502.8,585.1 502.9,583.8 503.0,586.5 503.1,586.6 503.1,586.4 503.2,586.5 503.3,586.8 503.4,586.6 503.5,586.5 503.6,585.9 503.7,586.8 503.8,585.7 503.8,584.3 503.9,586.8 504.0,586.8 504.1,585.1 504.2,581.7 504.3,585.7 504.4,586.7 504.5,584.6 504.5,586.5 504.6,585.0 504.7,586.3 504.8,585.7 504.9,585.8 505.0,586.1 505.1,586.3 505.2,586.4 505.2,585.4 505.3,585.7 505.4,585.7 505.5,586.1 505.6,585.3 505.7,586.8 505.8,585.5 505.9,586.7 505.9,586.6 506.0,584.2 506.1,586.6 506.2,586.6 506.3,586.8 506.4,585.6 506.5,586.1 506.6,586.5 506.6,586.4 506.7,584.5 506.8,586.7 506.9,586.8 507.0,586.7 507.1,586.1 507.2,586.0 507.3,585.8 507.3,585.5 507.4,585.7 507.5,586.1 507.6,585.0 507.7,586.8 507.8,586.9 507.9,586.1 508.0,586.2 508.0,585.8 508.1,586.8 508.2,587.0 508.3,584.8 508.4,586.5 508.5,586.4 508.6,582.3 508.7,585.3 508.7,586.0 508.8,584.8 508.9,584.6 509.0,586.6 509.1,586.0 509.2,586.6 509.3,585.6 509.4,586.8 509.4,586.1 509.5,586.9 509.6,586.8 509.7,585.0 509.8,585.5 509.9,586.6 510.0,586.3 510.1,586.9 510.1,586.7 510.2,582.4 510.3,586.4 510.4,587.0 510.5,586.1 510.6,585.8 510.7,586.6 510.8,586.9 510.8,584.8 510.9,586.1 511.0,586.7 511.1,586.8 511.2,586.9 511.3,586.8 511.4,586.9 511.4,586.7 511.5,586.2 511.6,586.8 511.7,586.9 511.8,584.8 511.9,586.7 512.0,584.9 512.1,585.8 512.1,587.0 512.2,585.2 512.3,586.8 512.4,586.7 512.5,585.8 512.6,585.1 512.7,585.9 512.8,585.6 512.8,583.3 512.9,586.5 513.0,586.6 513.1,586.3 513.2,583.6 513.3,586.0 513.4,585.9 513.5,586.6 513.5,586.3 513.6,584.7 513.7,586.2 513.8,586.6 513.9,584.8 514.0,586.5 514.1,586.6 514.2,585.5 514.2,585.9 514.3,586.7 514.4,586.8 514.5,586.9 514.6,583.9 514.7,586.9 514.8,586.7 514.9,587.0 514.9,586.7 515.0,581.9 515.1,586.3 515.2,583.4 515.3,585.6 515.4,584.1 515.5,584.6 515.6,586.5 515.6,586.6 515.7,585.9 515.8,584.7 515.9,584.2 516.0,586.9 516.1,586.9 516.2,586.3 516.3,586.3 516.3,585.9 516.4,586.9 516.5,586.3 516.6,585.6 516.7,586.2 516.8,585.7 516.9,585.4 517.0,586.1 517.0,586.7 517.1,586.4 517.2,586.5 517.3,587.0 517.4,586.1 517.5,586.2 517.6,586.4 517.7,584.8 517.7,585.2 517.8,586.7 517.9,586.0 518.0,586.8 518.1,585.7 518.2,586.4 518.3,585.2 518.4,586.3 518.4,585.3 518.5,586.1 518.6,586.6 518.7,586.6 518.8,586.8 518.9,586.4 519.0,585.5 519.1,584.2 519.1,586.0 519.2,586.2 519.3,585.5 519.4,584.7 519.5,586.7 519.6,585.4 519.7,585.8 519.8,586.7 519.8,586.0 519.9,587.0 520.0,586.2 520.1,582.0 520.2,586.2 520.3,586.3 520.4,586.9 520.5,585.7 520.5,584.5 520.6,587.0 520.7,586.3 520.8,585.9 520.9,585.3 521.0,587.0 521.1,584.4 521.2,585.6 521.2,585.8 521.3,586.7 521.4,586.7 521.5,586.4 521.6,586.9 521.7,587.0 521.8,586.2 521.9,584.5 521.9,585.5 522.0,585.5 522.1,586.0 522.2,586.4 522.3,586.0 522.4,586.3 522.5,586.4 522.5,586.1 522.6,586.5 522.7,587.0 522.8,586.0 522.9,584.7 523.0,586.7 523.1,586.1 523.2,586.7 523.2,586.6 523.3,587.0 523.4,585.9 523.5,583.6 523.6,586.2 523.7,586.2 523.8,584.4 523.9,586.9 523.9,585.3 524.0,586.3 524.1,582.9 524.2,583.1 524.3,585.4 524.4,586.1 524.5,585.6 524.6,586.5 524.6,586.2 524.7,586.8 524.8,583.5 524.9,586.9 525.0,586.1 525.1,583.6 525.2,586.3 525.3,587.0 525.3,586.4 525.4,587.0 525.5,585.8 525.6,586.4 525.7,585.8 525.8,586.4 525.9,586.9 526.0,586.9 526.0,583.8 526.1,585.5 526.2,586.3 526.3,585.8 526.4,586.1 526.5,586.5 526.6,585.8 526.7,586.0 526.7,583.8 526.8,586.7 526.9,585.4 527.0,586.6 527.1,586.5 527.2,586.5 527.3,586.2 527.4,584.8 527.4,586.8 527.5,586.7 527.6,584.2 527.7,586.5 527.8,586.3 527.9,586.3 528.0,584.6 528.1,586.1 528.1,586.5 528.2,585.6 528.3,586.5 528.4,586.2 528.5,586.8 528.6,586.8 528.7,586.0 528.8,586.1 528.8,585.4 528.9,586.7 529.0,587.0 529.1,586.0 529.2,586.7 529.3,586.5 529.4,585.7 529.5,585.7 529.5,586.7 529.6,586.2 529.7,585.8 529.8,586.3 529.9,585.6 530.0,586.5 530.1,587.0 530.2,587.0 530.2,586.6 530.3,587.0 530.4,586.2 530.5,586.7 530.6,586.6 530.7,587.0 530.8,585.9 530.9,587.0 530.9,586.1 531.0,585.5 531.1,585.6 531.2,584.1 531.3,587.0 531.4,585.6 531.5,584.8 531.6,586.3 531.6,585.5 531.7,585.1 531.8,585.8 531.9,584.4 532.0,584.9 532.1,585.8 532.2,586.5 532.3,586.5 532.3,586.4 532.4,585.5 532.5,586.7 532.6,586.6 532.7,586.5 532.8,587.1 532.9,586.8 533.0,586.8 533.0,587.0 533.1,584.2 533.2,586.9 533.3,585.7 533.4,584.7 533.5,586.6 533.6,585.0 533.6,586.4 533.7,586.6 533.8,586.9 533.9,586.3 534.0,586.8 534.1,586.2 534.2,586.7 534.3,585.3 534.3,585.5 534.4,583.5 534.5,586.6 534.6,585.6 534.7,585.7 534.8,586.6 534.9,586.8 535.0,586.9 535.0,585.0 535.1,586.7 535.2,586.8 535.3,586.5 535.4,585.1 535.5,586.9 535.6,586.6 535.7,586.8 535.7,583.8 535.8,586.8 535.9,583.7 536.0,586.0 536.1,585.6 536.2,586.9 536.3,586.8 536.4,584.5 536.4,584.2 536.5,584.6 536.6,587.0 536.7,586.7 536.8,586.9 536.9,586.2 537.0,586.5 537.1,586.5 537.1,586.8 537.2,586.9 537.3,586.9 537.4,585.9 537.5,586.4 537.6,586.6 537.7,586.2 537.8,585.1 537.8,584.8 537.9,587.0 538.0,585.2 538.1,585.3 538.2,585.8 538.3,586.7 538.4,587.0 538.5,586.9 538.5,586.8 538.6,583.3 538.7,586.9 538.8,585.2 538.9,586.5 539.0,585.2 539.1,586.6 539.2,585.0 539.2,587.0 539.3,585.8 539.4,586.9 539.5,585.7 539.6,586.5 539.7,587.0 539.8,586.6 539.9,586.6 539.9,586.0 540.0,586.3 540.1,585.6 540.2,586.8 540.3,585.8 540.4,586.9 540.5,585.8 540.6,584.9 540.6,586.4 540.7,586.9 540.8,583.5 540.9,585.8 541.0,587.0 541.1,584.9 541.2,586.1 541.3,586.3 541.3,586.9 541.4,585.9 541.5,583.7 541.6,586.9 541.7,586.7 541.8,586.2 541.9,586.6 542.0,585.9 542.0,586.2 542.1,586.9 542.2,586.9 542.3,586.5 542.4,583.7 542.5,586.4 542.6,586.6 542.7,587.0 542.7,586.9 542.8,587.0 542.9,586.9 543.0,586.5 543.1,582.4 543.2,586.8 543.3,587.0 543.4,586.8 543.4,586.8 543.5,585.6 543.6,586.8 543.7,585.7 543.8,585.7 543.9,586.5 544.0,585.9 544.0,586.5 544.1,585.5 544.2,585.1 544.3,584.6 544.4,586.1 544.5,586.5 544.6,586.7 544.7,586.3 544.7,586.3 544.8,583.8 544.9,584.6 545.0,587.0 545.1,586.1 545.2,584.5 545.3,586.0 545.4,585.4 545.4,585.1 545.5,586.8 545.6,584.9 545.7,586.3 545.8,585.8 545.9,585.8 546.0,586.7 546.1,586.0 546.1,586.8 546.2,586.7 546.3,586.0 546.4,586.2 546.5,587.0 546.6,586.6 546.7,585.9" fill="none" stroke="#c000c8" stroke-width="0.6" stroke-opacity="1" stroke-linejoin="round" filter="url(#bl)"/>
<line x1="216.3" y1="447.5" x2="216.3" y2="459.4" stroke="#202020" stroke-width="1"/>
<line x1="216.3" y1="458.0" x2="216.3" y2="503.4" stroke="#c000c8" stroke-width="1"/>
<rect x="435.1" y="362.1" width="118.5" height="34.7" fill="#fff" stroke="#6a6a6a" stroke-width="0.8"/>
<line x1="457.3" y1="371.5" x2="468.6" y2="371.5" stroke="#404040" stroke-width="1"/>
<text transform="translate(469.60,374.99) scale(0.745,1.000)" text-anchor="start" font-size="9.7" fill="#303030" stroke="#303030" stroke-width="0.3" font-family="Liberation Sans, Arial, sans-serif" >InceptionResnet-V2</text>
<line x1="457.3" y1="387.4" x2="468.6" y2="387.4" stroke="#e040e0" stroke-width="1"/>
<text transform="translate(469.60,390.89) scale(0.745,1.000)" text-anchor="start" font-size="9.7" fill="#303030" stroke="#303030" stroke-width="0.3" font-family="Liberation Sans, Arial, sans-serif" >VGG16</text>
<text transform="translate(380.40,643.20) scale(1.000,1.000)" text-anchor="middle" font-size="19.5" fill="#111111" stroke="#111111" stroke-width="0.2" font-family="Liberation Serif, Times New Roman, serif" >(c)</text>
<rect x="183.8" y="1" width="3" height="1.2" fill="#4f86c6"/>
</svg></body></html>
